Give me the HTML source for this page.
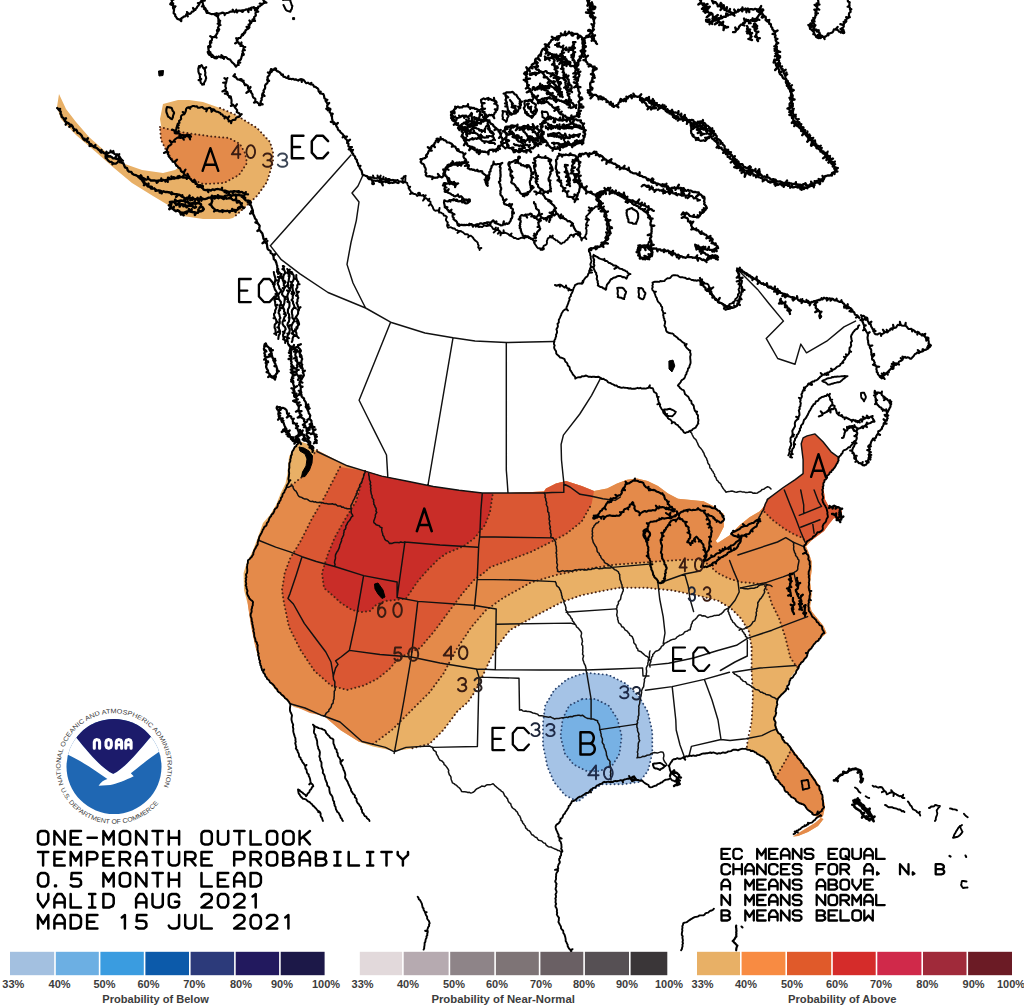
<!DOCTYPE html><html><head><meta charset="utf-8"><title>One-Month Outlook Temperature Probability</title><style>html,body{margin:0;padding:0;background:#fff;}svg{display:block;}body{font-family:"Liberation Sans",sans-serif;}</style></head><body><svg width="1024" height="1007" viewBox="0 0 1024 1007">
<rect width="1024" height="1007" fill="#fff"/>
<path d="M59.0,94.0 L66.0,109.0 L76.0,122.0 L89.0,137.0 L107.0,153.0 L122.0,163.0 L142.0,170.0 L163.0,173.0 L175.0,170.0 L178.0,168.0 L168.0,153.0 L163.0,137.0 L160.0,119.0 L163.0,104.0 L178.0,100.0 L189.0,100.0 L203.0,102.0 L220.0,108.0 L236.0,115.0 L257.0,128.0 L270.0,142.0 L273.0,152.0 L273.0,162.0 L267.0,182.0 L257.0,196.0 L243.0,209.0 L233.0,218.0 L229.0,219.0 L203.0,219.0 L183.0,216.0 L173.0,208.0 L153.0,196.0 L132.0,183.0 L114.0,168.0 L97.0,153.0 L76.0,135.0 L61.0,119.0 L57.0,107.0 Z" fill="#e8b067" stroke="none"/>
<path d="M160.0,127.0 L175.0,131.0 L193.0,134.0 L212.0,136.5 L229.0,138.0 L240.0,144.0 L245.0,153.0 L247.0,163.0 L239.0,175.0 L224.0,183.0 L203.0,184.0 L191.0,179.0 L183.0,173.0 L175.0,163.0 L167.0,152.0 L161.0,140.0 Z" fill="#e38a4a" stroke="none"/>
<path d="M299.0,441.0 L308.0,444.0 L317.0,451.5 L347.0,465.8 L365.0,471.0 L382.0,476.0 L407.5,481.3 L433.0,486.5 L459.0,490.3 L482.0,493.0 L510.0,493.0 L544.0,491.6 L546.0,488.6 L556.0,483.5 L566.0,481.0 L581.6,486.0 L594.0,491.0 L607.0,488.6 L617.0,483.5 L627.0,479.7 L637.0,478.4 L647.6,481.0 L658.0,486.0 L668.0,493.6 L678.0,498.7 L691.0,500.0 L703.5,501.3 L713.6,506.3 L723.8,514.0 L723.8,526.7 L718.7,536.8 L715.7,541.0 L717.7,543.1 L729.7,535.2 L739.6,525.3 L749.5,517.3 L759.4,511.4 L765.4,505.4 L767.4,499.4 L773.3,495.5 L783.3,487.5 L795.2,479.6 L803.1,473.6 L803.1,459.7 L801.2,443.8 L803.1,437.9 L807.1,435.9 L815.0,433.9 L823.0,441.8 L831.0,451.8 L838.9,457.7 L834.9,467.7 L827.0,475.6 L823.0,485.5 L825.0,499.4 L829.0,507.0 L836.0,507.0 L842.0,511.0 L841.0,520.0 L834.0,518.0 L829.0,524.0 L824.0,531.0 L817.6,535.7 L811.6,540.2 L806.0,546.6 L808.6,552.6 L811.6,561.5 L811.6,570.5 L810.1,582.4 L811.6,594.3 L810.1,606.2 L811.6,611.2 L817.6,618.7 L823.5,626.0 L826.5,633.0 L821.0,638.0 L813.5,644.5 L805.8,657.4 L798.0,667.7 L790.3,678.0 L784.0,692.7 L777.7,699.0 L776.1,708.6 L775.5,719.7 L777.0,729.3 L783.4,738.8 L791.4,748.3 L799.3,757.9 L805.7,767.4 L813.6,777.0 L820.0,786.5 L823.2,797.6 L825.0,807.1 L823.0,816.0 L815.0,823.0 L806.0,828.5 L797.0,834.0 L793.0,836.5 L798.0,836.0 L808.0,832.0 L818.0,826.0 L823.5,819.0 L812.6,815.1 L806.3,807.1 L798.3,802.4 L788.8,794.4 L782.4,786.5 L776.1,778.5 L771.3,769.0 L768.1,761.1 L761.8,756.3 L753.8,751.5 L745.9,748.3 L747.5,743.6 L750.7,730.9 L752.3,711.8 L751.6,721.9 L752.9,696.1 L751.6,670.3 L751.6,647.1 L749.0,631.6 L741.3,618.7 L731.0,608.4 L718.0,600.6 L697.4,595.5 L671.6,590.3 L645.8,587.7 L620.0,587.7 L607.0,590.0 L581.6,595.2 L562.0,602.0 L537.0,615.0 L510.0,630.0 L498.0,645.0 L490.0,660.0 L484.0,673.0 L476.0,690.0 L468.0,702.0 L457.5,711.2 L443.4,730.0 L429.4,744.0 L410.6,748.7 L394.2,751.0 L373.0,746.4 L359.0,741.7 L340.3,730.0 L324.0,716.0 L306.0,710.0 L294.0,707.0 L284.0,698.0 L274.0,688.0 L265.0,675.0 L259.0,661.0 L255.0,645.0 L251.0,625.0 L248.0,605.0 L244.0,590.0 L243.6,573.0 L247.0,562.0 L252.5,551.6 L258.0,537.0 L263.0,523.0 L270.0,515.0 L276.0,505.0 L281.0,492.6 L285.5,483.6 L287.3,474.7 L289.0,456.8 L293.6,448.0 Z" fill="#e9b066" stroke="none"/>
<path d="M317.0,450.0 L311.5,456.8 L302.6,476.5 L293.6,483.6 L288.0,486.0 L283.0,495.0 L276.0,506.0 L270.0,517.0 L264.0,525.0 L259.0,538.0 L253.0,552.0 L249.0,563.0 L246.5,574.0 L246.5,590.0 L248.0,606.0 L251.0,626.0 L255.0,645.0 L260.0,662.0 L267.0,677.0 L277.0,690.0 L292.0,705.0 L310.0,713.0 L324.0,716.0 L340.3,730.0 L359.0,741.7 L373.0,744.0 L391.9,730.0 L410.6,711.2 L429.4,692.5 L443.4,673.7 L456.0,650.0 L471.5,626.9 L485.6,610.5 L503.0,598.0 L530.8,582.5 L556.2,575.0 L581.6,569.8 L614.6,564.7 L650.0,562.0 L678.0,560.0 L701.0,559.7 L708.5,564.7 L717.3,572.8 L728.3,578.3 L740.0,582.0 L752.0,583.0 L764.0,584.5 L768.0,592.0 L772.0,604.3 L778.9,617.9 L785.2,636.8 L790.3,657.4 L795.5,665.2 L798.0,667.7 L805.8,657.4 L813.5,644.5 L821.0,638.0 L826.5,633.0 L823.5,626.0 L817.6,618.7 L811.6,611.2 L810.1,606.2 L811.6,594.3 L810.1,582.4 L811.6,570.5 L811.6,561.5 L808.6,552.6 L806.0,546.6 L811.6,540.2 L817.6,535.7 L824.0,531.0 L829.0,524.0 L834.0,518.0 L841.0,520.0 L842.0,511.0 L836.0,507.0 L829.0,507.0 L825.0,499.4 L823.0,485.5 L827.0,475.6 L834.9,467.7 L838.9,457.7 L831.0,451.8 L823.0,441.8 L815.0,433.9 L807.1,435.9 L803.1,437.9 L801.2,443.8 L803.1,459.7 L803.1,473.6 L795.2,479.6 L783.3,487.5 L773.3,495.5 L767.4,499.4 L765.4,505.4 L759.4,511.4 L749.5,517.3 L739.6,525.3 L729.7,535.2 L717.7,543.1 L715.7,541.0 L718.7,536.8 L723.8,526.7 L723.8,514.0 L713.6,506.3 L703.5,501.3 L691.0,500.0 L678.0,498.7 L668.0,493.6 L658.0,486.0 L647.6,481.0 L637.0,478.4 L627.0,479.7 L617.0,483.5 L607.0,488.6 L594.0,491.0 L581.6,486.0 L566.0,481.0 L556.0,483.5 L546.0,488.6 L544.0,491.6 L510.0,493.0 L482.0,493.0 L459.0,490.3 L433.0,486.5 L407.5,481.3 L382.0,476.0 L365.0,471.0 L347.0,465.8 Z" fill="#e48a4a" stroke="none"/>
<path d="M776.0,777.0 L783.0,765.0 L788.8,754.7 L791.4,748.3 L799.3,757.9 L805.7,767.4 L813.6,777.0 L820.0,786.5 L823.2,797.6 L825.0,807.1 L823.0,816.0 L815.0,823.0 L806.0,828.5 L797.0,834.0 L793.0,836.5 L798.0,836.0 L808.0,832.0 L818.0,826.0 L823.5,819.0 L812.6,815.1 L806.3,807.1 L798.3,802.4 L788.8,794.4 L782.4,786.5 Z" fill="#e48a4a" stroke="none"/>
<path d="M340.0,467.0 L324.0,498.0 L311.5,519.4 L300.8,540.8 L290.0,558.7 L284.7,573.0 L282.0,590.0 L284.0,603.0 L289.0,627.0 L300.5,650.0 L314.5,671.0 L331.0,685.5 L347.0,690.0 L364.0,685.5 L378.0,678.4 L389.5,669.0 L397.0,660.0 L405.0,655.0 L420.0,648.0 L434.0,631.6 L448.0,612.8 L462.0,594.0 L474.0,580.0 L485.0,572.0 L490.0,567.3 L510.5,559.7 L530.8,552.0 L551.0,542.0 L566.0,534.0 L581.6,521.6 L591.7,503.8 L594.0,491.0 L581.6,486.0 L566.0,481.0 L556.0,483.5 L546.0,488.6 L544.0,491.6 L510.0,493.0 L482.0,493.0 L459.0,490.3 L433.0,486.5 L407.5,481.3 L382.0,476.0 L365.0,471.0 Z" fill="#da5733" stroke="none"/>
<path d="M807.1,435.9 L815.0,433.9 L823.0,441.8 L831.0,451.8 L838.9,457.7 L834.9,467.7 L827.0,475.6 L823.0,485.5 L825.0,499.4 L829.0,507.0 L836.0,507.0 L842.0,511.0 L841.0,520.0 L834.0,518.0 L829.0,524.0 L824.0,531.0 L817.6,535.7 L811.6,540.2 L806.6,542.0 L802.2,537.7 L794.7,534.7 L784.3,528.7 L772.4,519.8 L761.9,509.4 L767.4,499.4 L773.3,495.5 L783.3,487.5 L795.2,479.6 L803.1,473.6 L803.1,459.7 L801.2,443.8 L803.1,437.9 Z" fill="#da5733" stroke="none"/>
<path d="M365.0,471.0 L356.0,501.5 L347.0,516.0 L335.0,537.0 L327.6,555.0 L322.0,573.0 L324.0,588.0 L331.0,594.0 L341.0,603.0 L352.0,610.0 L362.0,612.0 L370.0,611.0 L376.0,605.0 L385.0,601.0 L395.0,600.0 L406.0,598.5 L418.0,581.0 L427.0,570.7 L438.0,559.5 L446.0,553.6 L464.0,546.0 L474.6,538.0 L485.0,525.0 L490.0,512.0 L492.7,494.0 L492.0,493.0 L482.0,493.0 L459.0,490.3 L433.0,486.5 L407.5,481.3 L382.0,476.0 Z" fill="#c92d28" stroke="none"/>
<path d="M586.7,672.8 L608.6,675.0 L626.0,683.7 L639.2,696.8 L647.9,712.1 L652.3,731.8 L652.3,753.6 L647.9,771.1 L639.2,782.0 L623.9,784.2 L602.0,784.2 L591.1,790.8 L578.0,801.7 L564.9,795.1 L554.0,782.0 L547.4,766.7 L543.0,744.9 L543.0,723.0 L545.2,705.5 L554.0,690.3 L567.0,679.3 L578.0,675.0 Z" fill="#a5c3e6" stroke="none"/>
<path d="M582.3,699.0 L595.5,699.0 L608.6,705.5 L617.3,718.7 L621.7,736.1 L619.5,753.6 L613.0,764.5 L599.8,771.1 L586.7,771.1 L573.6,764.5 L564.9,753.6 L560.5,736.1 L562.7,718.7 L569.2,705.5 Z" fill="#77b1e4" stroke="none"/>
<path d="M160.0,127.0 L175.0,131.0 L193.0,134.0 L212.0,136.5 L229.0,138.0 L240.0,144.0 L245.0,153.0 L247.0,163.0 L239.0,175.0 L224.0,183.0 L203.0,184.0 L191.0,179.0 L183.0,173.0 L175.0,163.0 L167.0,152.0 L161.0,140.0 L160.0,127.0" fill="none" stroke="#4a2414" stroke-width="2.0" stroke-dasharray="0.01 4.0" stroke-linecap="round"/>
<path d="M220.0,108.0 L236.0,115.0 L257.0,128.0 L270.0,142.0 L273.0,152.0 L273.0,162.0 L267.0,182.0 L257.0,196.0 L243.0,209.0 L233.0,218.0" fill="none" stroke="#4a2414" stroke-width="2.0" stroke-dasharray="0.01 4.0" stroke-linecap="round"/>
<path d="M317.0,450.0 L311.5,456.8 L302.6,476.5 L293.6,483.6 L288.0,486.0" fill="none" stroke="#4a2414" stroke-width="2.0" stroke-dasharray="0.01 4.0" stroke-linecap="round"/>
<path d="M373.0,744.0 L391.9,730.0 L410.6,711.2 L429.4,692.5 L443.4,673.7 L456.0,650.0 L471.5,626.9 L485.6,610.5 L503.0,598.0 L530.8,582.5 L556.2,575.0 L581.6,569.8 L614.6,564.7 L650.0,562.0 L678.0,560.0 L701.0,559.7 L708.5,564.7 L717.3,572.8 L728.3,578.3 L740.0,582.0 L752.0,583.0 L764.0,584.5 L768.0,592.0 L772.0,604.3 L778.9,617.9 L785.2,636.8 L790.3,657.4 L795.5,665.2 L798.0,667.7" fill="none" stroke="#4a2414" stroke-width="2.0" stroke-dasharray="0.01 4.0" stroke-linecap="round"/>
<path d="M776.0,777.0 L783.0,765.0 L788.8,754.7 L791.4,748.3" fill="none" stroke="#4a2414" stroke-width="2.0" stroke-dasharray="0.01 4.0" stroke-linecap="round"/>
<path d="M751.6,647.1 L749.0,631.6 L741.3,618.7 L731.0,608.4 L718.0,600.6 L697.4,595.5 L671.6,590.3 L645.8,587.7 L620.0,587.7 L607.0,590.0 L581.6,595.2 L562.0,602.0 L537.0,615.0 L510.0,630.0 L498.0,645.0 L490.0,660.0 L484.0,673.0 L476.0,690.0 L468.0,702.0 L457.5,711.2 L443.4,730.0 L429.4,744.0 L410.6,748.7" fill="none" stroke="#4a2414" stroke-width="2.0" stroke-dasharray="0.01 4.0" stroke-linecap="round"/>
<path d="M751.6,647.1 L751.6,670.3 L752.9,696.1 L751.6,721.9 L747.7,740.0 L746.5,750.3" fill="none" stroke="#4a2414" stroke-width="2.0" stroke-dasharray="0.01 4.0" stroke-linecap="round"/>
<path d="M340.0,467.0 L324.0,498.0 L311.5,519.4 L300.8,540.8 L290.0,558.7 L284.7,573.0 L282.0,590.0 L284.0,603.0 L289.0,627.0 L300.5,650.0 L314.5,671.0 L331.0,685.5 L347.0,690.0 L364.0,685.5 L378.0,678.4 L389.5,669.0 L397.0,660.0 L405.0,655.0 L420.0,648.0 L434.0,631.6 L448.0,612.8 L462.0,594.0 L474.0,580.0 L485.0,572.0 L490.0,567.3 L510.5,559.7 L530.8,552.0 L551.0,542.0 L566.0,534.0 L581.6,521.6 L591.7,503.8" fill="none" stroke="#4a2414" stroke-width="2.0" stroke-dasharray="0.01 4.0" stroke-linecap="round"/>
<path d="M806.6,542.0 L802.2,537.7 L794.7,534.7 L784.3,528.7 L772.4,519.8 L761.9,509.4" fill="none" stroke="#4a2414" stroke-width="2.0" stroke-dasharray="0.01 4.0" stroke-linecap="round"/>
<path d="M365.0,471.0 L356.0,501.5 L347.0,516.0 L335.0,537.0 L327.6,555.0 L322.0,573.0 L324.0,588.0 L331.0,594.0 L341.0,603.0 L352.0,610.0 L362.0,612.0 L370.0,611.0 L376.0,605.0 L385.0,601.0 L395.0,600.0 L406.0,598.5 L418.0,581.0 L427.0,570.7 L438.0,559.5 L446.0,553.6 L464.0,546.0 L474.6,538.0 L485.0,525.0 L490.0,512.0 L492.7,494.0" fill="none" stroke="#4a2414" stroke-width="2.0" stroke-dasharray="0.01 4.0" stroke-linecap="round"/>
<path d="M586.7,672.8 L608.6,675.0 L626.0,683.7 L639.2,696.8 L647.9,712.1 L652.3,731.8 L652.3,753.6 L647.9,771.1 L639.2,782.0 L623.9,784.2 L602.0,784.2 L591.1,790.8 L578.0,801.7 L564.9,795.1 L554.0,782.0 L547.4,766.7 L543.0,744.9 L543.0,723.0 L545.2,705.5 L554.0,690.3 L567.0,679.3 L578.0,675.0 L586.7,672.8" fill="none" stroke="#2c4670" stroke-width="1.9" stroke-dasharray="0.01 4.0" stroke-linecap="round"/>
<path d="M582.3,699.0 L595.5,699.0 L608.6,705.5 L617.3,718.7 L621.7,736.1 L619.5,753.6 L613.0,764.5 L599.8,771.1 L586.7,771.1 L573.6,764.5 L564.9,753.6 L560.5,736.1 L562.7,718.7 L569.2,705.5 L582.3,699.0" fill="none" stroke="#2c4670" stroke-width="1.9" stroke-dasharray="0.01 4.0" stroke-linecap="round"/>
<path d="M351.0,155.0 L271.0,245.0 M270.3,245.6 L281.3,259.7 L300.0,273.8 L328.0,292.5 L365.6,308.0 L390.6,322.2 L425.0,333.0 L453.0,337.8 L475.0,341.0 L506.3,342.5 L530.0,342.0 L554.0,341.5 M363.0,175.0 L358.0,186.0 L352.0,193.0 L359.0,202.0 L356.3,220.6 L351.0,242.5 L347.0,264.4 L353.0,283.0 L362.5,302.0 L365.6,308.0 M390.6,322.2 L375.0,361.0 L359.1,400.3 L367.3,416.7 L375.5,433.1 L386.5,455.0 L387.8,476.9 M453.0,337.8 L428.0,485.0 M506.3,342.5 L506.3,470.0 L507.1,480.0 L508.0,493.0 M600.9,377.7 L591.6,395.3 L579.8,414.0 L563.4,435.1 L561.1,444.5 L561.5,460.0 L563.0,475.0 L564.0,484.0 M767.4,499.4 L783.3,487.5 L795.2,479.6 L803.1,473.6 L803.1,459.7 L801.2,443.8 L803.1,437.9 L807.1,435.9 L815.0,433.9 L823.0,441.8 L831.0,451.8 L838.9,457.7 M737.4,269.3 L757.6,289.4 L769.1,303.8 L783.5,321.1 L766.2,338.4 L777.7,358.5 L795.0,364.3 L800.8,344.1 L806.5,352.8 L826.7,341.2 L844.0,326.9 L855.5,321.1 M316.9,451.5 L347.3,465.8 L365.1,471.1 L381.6,476.1 L407.5,481.3 L433.3,486.5 L459.1,490.3 L482.3,493.0 L510.7,493.0 L544.3,493.0 M544.3,493.0 L552.0,492.5 L563.8,492.4 L563.8,484.0 L570.0,487.0 L580.0,494.3 L590.5,496.0 L602.9,498.7 L615.2,500.4 L620.4,497.0 M257.9,540.0 L275.7,547.1 L290.0,551.9 L302.0,556.7 L316.3,561.5 L334.7,566.5 L363.6,575.6 L397.1,582.0 M302.0,556.7 L296.0,575.7 L290.0,593.6 L288.0,598.4 L293.4,604.0 L304.3,623.4 L311.5,633.0 L318.6,642.5 L325.8,652.0 L331.0,662.0 L333.3,676.0 M333.3,676.0 L335.6,668.0 L338.0,664.4 L335.6,660.8 L341.0,657.0 L349.4,650.4 M363.6,575.6 L355.8,620.7 L349.4,650.4 M349.4,650.4 L380.0,654.5 L411.3,657.0 L440.0,663.0 L476.2,669.0 L495.3,669.8 L540.0,670.0 L585.8,670.0 M404.9,542.0 L440.0,545.0 L477.8,547.2 M404.9,542.0 L397.1,597.5 L417.8,601.4 L473.3,605.2 L496.2,609.0 M397.1,582.0 L397.1,597.5 M417.8,601.4 L411.3,656.9 L404.0,700.0 L394.2,753.4 M482.3,493.0 L480.9,510.0 L479.8,535.5 L478.7,545.5 L477.2,579.4 L474.4,608.9 M479.8,536.8 L553.0,537.9 M477.2,579.4 L520.0,580.0 L555.2,581.6 M496.2,609.0 L495.3,669.8 M496.2,624.2 L570.5,623.1 L574.9,624.2 M476.5,669.0 L479.0,677.1 L477.4,746.2 M479.0,677.1 L519.0,678.2 L519.5,710.0 M599.8,729.6 L637.0,724.1 M585.8,670.0 L586.7,672.8 L591.1,699.0 L591.1,718.7 M585.8,670.0 L615.0,669.0 L642.6,667.9 L643.0,676.0 L649.0,676.0 M291.0,704.0 L305.0,708.0 L321.0,715.2 L323.9,716.0 L340.0,722.0 L362.0,741.5 L385.5,747.4 L394.3,751.8 L406.0,747.4 L429.4,746.0 L432.4,747.4 M432.4,747.4 L477.4,746.5 M566.1,612.2 L616.4,608.9 M612.0,567.4 L649.2,564.1 M657.9,582.7 L659.7,599.0 L663.2,616.9 L665.0,633.0 L663.2,643.7 M684.7,574.0 L688.3,586.5 L690.0,599.0 L693.6,611.5 M660.1,582.7 L684.7,574.0 L700.0,571.0 M729.6,560.5 L733.8,571.4 L737.9,581.0 L739.2,592.0 L735.1,600.2 L729.6,607.0 M737.9,555.0 L777.5,542.0 L785.8,537.7 M740.6,587.9 L766.6,582.4 L783.0,576.9 L793.9,572.8 M650.7,665.1 L668.6,663.3 L693.6,658.0 L716.9,650.8 L736.5,645.3 L747.4,638.4 M747.4,638.4 L772.0,630.2 L785.7,624.8 L807.6,616.6 M720.4,670.5 L735.0,662.0 L747.3,656.0 L747.3,640.1 M645.4,690.2 L672.2,686.6 L704.4,679.4 L729.4,672.3 M733.0,672.3 L760.0,668.0 L796.0,665.5 M704.4,679.4 L712.0,700.0 L718.0,720.0 L721.0,739.5 M689.0,756.0 L691.4,746.4 L721.0,739.5 L730.0,740.5 L745.9,738.8 L761.8,735.6 L771.3,730.9 L776.1,729.3 M672.2,686.6 L675.8,720.0 L676.2,730.0 L680.0,745.0 L684.4,757.0 M784.3,490.0 L790.2,504.9 L796.2,519.8 L800.7,531.7 L805.1,542.2 M800.7,490.0 L803.7,504.9 L803.7,513.8 M814.1,490.0 L818.6,501.9 L821.5,506.4 M799.2,515.3 L821.5,506.4 M800.7,527.3 L820.0,519.8 M812.6,522.8 L814.1,533.2 M785.8,537.7 L793.2,542.2 L803.7,546.6 M793.9,572.8 L797.0,586.0" fill="none" stroke="#111" stroke-width="1.45" stroke-linejoin="round" stroke-linecap="round"/>
<path d="M690.0,430.5 L690.3,432.1 L691.6,433.0 L692.1,434.5 L692.8,435.8 L693.5,437.1 L694.3,438.4 L695.7,439.3 L696.4,440.6 L697.0,442.0 L697.7,443.3 L698.1,444.7 L698.8,446.0 L699.7,447.2 L700.7,448.3 L701.6,449.4 L702.5,450.6 L703.1,452.0 L704.0,453.2 L704.3,454.6 L704.9,456.0 L705.7,457.2 L706.6,458.4 L706.9,459.8 L707.6,461.1 L707.7,462.7 L708.4,463.9 L709.5,465.0 L709.7,466.4 L709.9,468.0 L711.2,468.9 L711.9,470.4 L713.0,471.6 L713.6,473.1 L714.6,474.4 L714.6,476.1 L715.8,477.2 L716.3,478.7 L716.8,480.1 L718.0,481.0 L718.8,482.3 L720.0,483.2 L721.0,484.3 L721.5,485.8 L722.3,487.0 L723.0,488.3 L723.9,489.4 L724.9,490.5 L725.9,492.2 L727.4,491.8 L729.0,491.6 L730.5,491.2 L732.0,491.1 L733.6,491.5 L735.1,492.0 L736.7,492.3 L738.2,491.7 L739.7,491.5 L741.2,491.6 L742.6,492.1 L744.1,491.9 L745.5,492.6 L747.0,492.6 L748.5,492.2 L750.0,492.1 L751.5,492.2 L752.9,493.2 L754.4,493.0 L755.8,493.3 L757.3,493.1 L758.5,492.2 L759.8,491.5 L761.1,490.7 L762.0,489.5 L763.6,489.3 L764.8,488.4 L766.0,487.6 L767.6,486.7 L769.5,487.4 L771.0,489.0 M758.0,520.0 L758.6,518.6 L759.1,517.2 L760.0,516.0 L760.5,514.6 L761.5,513.4 L761.8,511.9 L762.8,510.7 L763.8,509.5 L763.9,507.8 L764.6,506.5 L765.0,505.0 L765.5,503.6 L766.3,502.2 L766.9,500.9 L767.4,499.4 M286.5,487.2 L288.5,487.2 L290.2,486.4 L291.7,485.5 L293.0,486.3 L293.2,487.9 L293.9,489.2 L294.8,490.3 L296.0,491.2 L296.7,492.5 L297.4,493.7 L298.0,495.1 L298.9,496.3 L300.2,497.0 L301.7,497.4 L303.0,498.3 L304.4,498.9 L306.0,498.9 L307.5,499.4 L308.7,500.4 L310.0,501.2 L311.5,501.4 L312.9,501.3 L314.2,502.1 L315.7,501.8 L317.0,502.6 L318.4,502.6 L319.9,502.3 L321.3,502.7 L322.7,502.7 L324.0,503.2 L325.4,503.6 L326.8,503.6 L328.2,504.0 L329.6,504.0 L331.0,504.0 L332.4,503.8 L333.8,504.4 L335.2,504.2 L336.5,505.0 L337.7,506.0 L339.2,505.9 L340.7,505.9 L341.8,507.2 L343.3,507.1 L344.5,508.0 L346.0,508.2 L347.3,508.8 L349.1,508.7 L350.8,508.7 M365.1,471.1 L365.1,472.6 L364.2,473.8 L363.8,475.2 L363.5,476.7 L363.1,478.0 L362.4,479.3 L362.2,480.8 L361.6,482.1 L361.1,483.4 L359.8,484.5 L359.6,485.9 L359.5,487.4 L358.4,488.5 L358.2,490.0 L357.0,491.1 L357.2,492.7 L356.2,493.8 L356.2,495.4 L355.2,496.6 L354.8,497.9 L354.2,499.2 L353.3,500.4 L352.8,501.8 L352.3,503.1 L351.6,504.4 L350.9,505.7 L351.0,507.3 L351.0,508.7 L351.2,510.1 L351.2,511.6 L351.3,513.1 L352.2,514.4 L352.9,516.0 L351.5,516.8 L350.8,518.2 L350.2,519.5 L349.3,520.8 L348.2,521.8 L347.4,523.0 L346.9,524.6 L345.8,525.9 L345.9,527.6 L345.4,529.1 L344.0,530.3 L344.1,532.0 L343.6,533.4 L343.7,535.0 L342.9,536.4 L342.3,537.8 L341.5,539.2 L341.6,540.7 L341.0,542.1 L340.5,543.5 L339.8,544.9 L339.6,546.5 L339.2,547.9 L338.5,549.3 L337.9,550.7 L336.9,552.0 L336.2,553.4 L335.5,554.9 L335.4,556.5 L335.5,558.1 L335.2,559.6 L334.7,561.1 L334.5,562.7 L335.1,564.4 L334.7,565.9 M333.3,676.0 L333.4,677.6 L333.5,679.3 L334.4,680.8 L334.9,682.3 L334.8,684.0 L334.8,685.4 L334.6,686.9 L335.3,688.5 L335.1,690.0 L334.2,691.4 L334.3,692.9 L334.2,694.4 L334.2,695.9 L334.0,697.4 L334.0,699.0 L333.3,700.4 L333.2,701.9 L333.0,703.4 L331.7,704.4 L331.4,706.0 L331.0,707.4 L330.0,708.6 L328.9,709.7 L328.8,711.4 L327.3,712.2 L326.0,713.4 L325.3,715.1 L323.9,716.0 M368.7,473.6 L368.7,475.1 L369.2,476.6 L369.3,478.1 L369.4,479.6 L370.1,481.0 L370.6,482.5 L370.0,484.1 L370.9,485.5 L370.4,487.1 L370.9,488.6 L370.6,490.2 L371.0,491.7 L371.1,493.1 L371.5,494.5 L372.1,495.8 L372.0,497.3 L372.8,498.6 L373.7,499.8 L373.4,501.3 L373.9,502.7 L373.8,504.2 L374.8,505.4 L375.0,506.8 L375.9,508.0 L376.3,509.4 L375.9,511.0 L376.8,512.4 L375.9,513.7 L375.3,515.1 L375.4,516.7 L374.8,518.1 L374.4,519.6 L373.7,521.0 L373.9,522.6 L375.1,523.6 L376.1,524.8 L377.7,525.3 L379.3,525.7 L380.2,527.1 L382.0,527.7 L381.7,529.3 L381.8,530.9 L382.2,532.3 L382.7,533.8 L382.8,535.3 L383.9,536.6 L384.3,538.0 L384.9,539.4 L386.0,540.5 L387.5,541.0 L388.6,542.0 L389.4,543.5 L390.8,543.2 L392.2,543.4 L393.6,542.8 L395.0,542.6 L396.4,542.5 L397.9,542.6 L399.3,542.7 L400.6,542.0 L402.1,542.3 L403.5,542.5 L404.9,542.0 M520.0,710.0 L521.5,709.7 L522.8,710.9 L524.2,711.3 L525.8,710.9 L527.1,711.5 L528.6,711.5 L530.1,711.7 L531.6,712.3 L532.9,713.0 L534.5,713.3 L536.0,713.7 L537.5,714.1 L538.7,715.5 L540.1,715.8 L541.6,715.8 L543.1,715.9 L544.4,716.6 L545.9,716.8 L547.3,717.0 L548.8,717.2 L550.4,716.8 L551.8,717.6 L553.1,718.2 L554.5,719.0 L556.1,718.5 L557.6,718.6 L559.0,718.4 L560.5,718.1 L561.9,717.7 L563.4,717.8 L564.9,717.6 L566.3,717.1 L567.8,717.5 L569.2,716.7 L570.7,716.5 L572.2,716.8 L573.5,716.0 L575.0,715.8 L576.4,715.6 L577.9,715.2 L579.3,715.2 L580.9,715.7 L582.4,715.2 L583.7,716.2 L585.0,717.2 L586.4,717.9 L587.8,718.5 L589.5,718.6 L591.0,719.1 L592.8,718.9 L594.4,719.5 L596.0,720.3 L597.6,720.8 M597.6,720.8 L597.7,722.3 L598.7,723.6 L599.3,725.0 L599.6,726.5 L599.7,728.1 L599.7,729.6 L600.5,731.1 L600.6,732.7 L601.2,734.2 L601.1,735.8 L601.7,737.3 L602.4,738.8 L602.4,740.4 L602.2,742.1 L602.8,743.5 L603.9,744.7 L604.0,746.3 L604.4,747.8 L605.2,749.1 L605.6,750.6 L606.2,752.0 L606.4,753.6 L606.5,755.1 L607.1,756.5 L607.5,757.9 L608.0,759.3 L609.3,760.4 L610.1,761.6 L609.9,763.3 L610.1,764.5 L610.2,766.0 L610.8,767.6 L611.1,769.1 L610.7,770.6 L610.4,772.1 L610.9,773.7 L610.4,775.2 L610.8,776.7 L611.0,778.3 L610.8,779.8 M432.4,747.4 L433.1,748.8 L433.6,750.2 L435.0,751.1 L436.2,752.1 L436.3,753.8 L437.1,755.1 L437.9,756.4 L438.5,757.8 L439.3,759.1 L440.1,760.3 L441.7,760.9 L442.8,761.9 L443.8,763.0 L444.1,764.6 L445.4,765.4 L446.3,766.6 L447.2,767.8 L448.0,769.0 L448.7,770.3 L448.4,772.0 L448.9,773.3 L449.3,774.7 L450.3,775.8 L451.0,777.1 L451.0,778.6 L451.4,780.0 L451.9,781.3 L452.5,782.9 L454.0,783.6 L455.2,784.6 L456.6,785.4 L457.6,786.6 L458.9,787.5 L460.0,788.6 L460.9,789.9 L461.7,791.6 L463.2,791.7 L464.8,791.7 L466.3,791.9 L467.8,792.5 L469.4,792.3 L470.9,793.1 L472.3,792.6 L473.6,792.0 L474.7,791.1 L475.6,789.8 L476.7,788.9 L478.0,788.3 L479.2,787.6 L480.5,787.0 L481.7,786.1 L483.2,786.2 L484.7,786.5 L485.9,785.4 L487.2,784.8 L488.6,784.8 L490.1,784.8 L491.4,784.4 L493.1,783.8 L494.1,784.8 L495.0,785.9 L496.2,786.7 L497.2,787.7 L498.3,788.5 L499.3,789.5 L500.6,790.1 L501.4,791.4 L502.8,791.9 L503.5,793.1 L504.1,794.4 L504.6,795.8 L505.8,796.7 L506.6,797.9 L507.6,798.9 L507.9,800.4 L508.5,801.7 L509.4,802.8 L510.7,803.6 L511.1,805.2 L511.7,806.7 L512.6,808.0 L513.9,808.9 L515.3,809.8 L516.1,811.2 L517.4,812.1 L517.9,813.7 L518.6,815.0 L519.8,816.0 L520.3,817.4 L520.9,818.8 L521.1,820.3 L522.4,821.3 L522.5,822.8 L523.7,823.9 L524.5,825.1 L525.4,826.3 L525.6,827.8 L526.8,828.8 L527.7,830.1 L529.2,830.7 L530.3,831.9 L531.0,833.4 L531.8,834.7 L533.4,835.3 L534.4,836.5 L535.6,837.3 L537.0,837.8 L537.7,839.2 L538.7,840.3 L540.3,840.6 L541.7,841.0 L542.7,842.1 L543.8,843.0 L545.3,843.3 L546.0,844.9 L547.2,845.8 L548.3,846.7 L549.8,847.0 L551.3,847.1 L552.4,847.9 L553.7,848.4 L555.0,849.1 L556.4,849.4 L557.7,850.4 L559.2,850.6 L560.4,851.4 L562.0,851.5 M544.3,493.1 L545.0,494.4 L545.2,495.8 L545.0,497.4 L545.8,498.7 L545.7,500.2 L546.3,501.5 L546.7,502.9 L546.3,504.5 L546.9,505.8 L547.6,507.1 L547.7,508.6 L547.7,510.1 L547.7,511.6 L548.9,512.8 L548.8,514.2 L549.1,515.6 L549.4,517.0 L549.0,518.5 L549.2,519.9 L549.9,521.2 L549.3,522.7 L549.5,524.1 L549.9,525.5 L550.4,526.9 L549.8,528.4 L550.3,529.7 L550.7,531.1 L550.4,532.6 L551.0,533.9 L551.1,535.3 L550.7,536.9 L552.1,537.7 L553.5,538.5 L554.3,539.9 L555.2,541.2 L555.7,542.6 L555.5,544.1 L556.0,545.5 L556.4,547.0 L556.3,548.4 L556.5,549.9 L556.6,551.4 L556.0,552.9 L556.7,554.3 L556.4,555.8 L556.6,557.2 L556.8,558.7 L557.0,560.1 L556.7,561.6 L556.8,563.1 L557.5,564.5 L557.3,565.9 L556.8,567.4 L557.3,568.9 L557.7,570.3 L557.4,571.2 L558.8,571.8 L560.2,571.7 L561.6,571.0 L562.9,570.6 L564.4,571.4 L565.8,571.1 L567.2,570.8 L568.6,571.1 L570.0,570.7 L571.4,571.2 L572.8,570.8 L574.2,570.3 L575.6,569.7 L577.0,570.1 L578.4,569.6 L579.8,569.5 L581.2,569.6 L582.6,569.4 L584.0,570.0 L585.4,569.8 L586.8,570.0 L588.2,569.3 L589.6,569.6 L591.0,569.6 L592.4,568.7 L593.8,568.8 L595.2,568.2 L596.5,567.8 L598.0,568.4 L599.4,568.7 L600.8,568.4 L602.2,568.5 L603.6,568.0 L605.0,567.8 L606.4,568.1 L607.8,568.0 L609.2,568.0 L610.6,567.9 L612.0,567.4 M612.0,567.4 L610.8,566.4 L609.4,565.6 L608.2,564.6 L606.9,563.7 L605.4,563.1 L604.3,562.1 L603.9,560.6 L602.7,559.7 L601.8,558.6 L600.9,557.4 L600.6,555.9 L599.4,555.0 L599.2,553.4 L598.0,552.5 L597.2,551.3 L597.0,549.8 L596.7,548.3 L596.2,546.9 L595.2,545.7 L594.5,544.4 L593.7,543.2 L593.1,541.9 L592.8,540.4 L592.4,539.0 L592.0,537.4 L592.7,535.9 L592.2,534.3 L592.6,532.8 L592.2,531.2 L592.5,529.7 L592.5,528.3 L593.6,527.2 L594.2,525.6 L595.3,524.5 L596.2,523.2 L597.9,522.7 L598.9,521.5 M555.2,581.6 L556.0,582.9 L556.3,584.5 L556.8,585.9 L558.2,586.9 L559.3,588.1 L559.8,589.5 L560.7,590.7 L561.0,592.3 L561.5,593.7 L561.6,595.2 L562.2,596.6 L562.2,598.1 L563.2,599.4 L564.0,600.8 L563.9,602.4 L564.5,603.8 L565.2,605.1 L565.6,606.6 L566.0,608.0 L565.7,609.7 L566.5,610.8 L567.3,612.0 L567.7,613.5 L568.5,614.6 L569.8,615.6 L570.5,616.8 L571.1,618.1 L572.2,619.1 L572.4,620.7 L573.4,621.7 L574.2,623.0 L574.9,624.2 L576.0,625.3 L576.5,626.9 L577.9,627.8 L578.9,629.0 L579.9,630.2 L580.9,631.4 L581.6,633.0 L581.4,634.4 L581.0,635.9 L581.3,637.3 L582.0,638.7 L582.2,640.1 L582.5,641.5 L582.0,643.0 L581.7,644.4 L582.7,645.8 L582.8,647.2 L582.8,648.6 L582.6,650.1 L582.9,651.5 L582.7,652.9 L582.6,654.4 L583.6,655.7 L583.2,657.2 L582.8,658.6 L583.0,660.1 L583.6,661.5 L584.0,662.9 L584.5,664.3 L585.4,665.6 L585.6,667.0 L586.1,668.4 L585.8,670.0 M612.0,567.4 L613.3,568.3 L614.4,569.6 L616.0,570.1 L617.2,571.0 L618.4,571.9 L618.8,573.3 L619.8,574.6 L619.6,576.2 L619.9,577.7 L619.9,579.2 L620.5,580.6 L621.0,582.0 L621.3,583.5 L622.0,584.8 L622.1,586.4 L622.1,587.9 L623.3,589.3 L623.2,590.8 L622.5,592.1 L622.1,593.6 L621.4,594.9 L621.0,596.4 L620.8,597.8 L620.5,599.3 L619.5,600.6 L618.3,601.7 L618.5,603.4 L617.9,604.7 L617.0,606.0 L617.0,607.5 L616.4,608.9 M616.4,608.9 L617.1,610.3 L617.2,611.8 L617.0,613.3 L616.7,614.8 L617.1,616.3 L617.8,617.6 L617.6,619.2 L618.2,620.6 L618.4,622.2 L619.2,623.4 L620.6,624.1 L621.2,625.4 L621.9,626.8 L623.5,627.3 L624.3,628.5 L625.0,629.8 L626.3,630.6 L627.5,631.4 L628.2,632.7 L629.4,633.6 L629.7,635.2 L631.1,635.9 L632.4,636.9 L632.9,638.4 L633.5,639.7 L633.7,641.2 L633.8,642.8 L634.9,643.9 L635.9,645.0 L636.2,646.5 L636.7,647.9 L637.8,649.0 L638.0,650.6 L639.6,651.2 L641.1,651.8 L642.2,652.9 L643.4,653.9 L644.6,655.0 L645.8,656.0 L647.5,656.6 L648.3,657.9 L649.2,659.0 L649.8,660.5 L650.9,661.6 L650.0,663.3 L649.7,665.1 L650.0,667.0 M729.6,607.0 L728.7,608.3 L727.1,608.7 L725.8,609.4 L724.4,610.2 L723.6,611.6 L722.5,612.6 L721.5,613.8 L720.0,614.3 L718.7,615.3 L717.1,615.3 L715.6,615.4 L714.0,615.6 L712.5,616.2 L711.0,616.5 L709.5,616.9 L707.8,617.6 L706.4,616.8 L705.0,615.9 L703.5,615.8 L701.9,615.9 L700.6,614.9 L699.0,615.1 L697.8,616.1 L697.0,617.4 L696.0,618.5 L695.0,619.6 L693.5,620.4 L692.4,621.7 L692.1,623.3 L691.2,624.6 L691.1,626.4 L690.4,627.8 L690.2,629.7 L688.5,629.9 L687.5,631.0 L686.0,631.4 L684.7,632.0 L683.7,633.2 L682.6,634.4 L681.2,634.9 L679.7,635.2 L678.5,636.1 L677.1,636.8 L676.2,638.2 L675.0,638.9 L673.4,639.2 L671.9,639.6 L670.5,640.2 L669.1,641.1 L667.6,641.8 L666.3,642.6 L664.5,643.2 L663.8,644.6 L662.8,645.7 L661.4,646.4 L660.8,648.0 L659.7,649.1 L658.7,650.1 L657.3,650.8 L655.8,651.3 L654.7,652.3 L653.8,653.6 L652.7,654.5 L652.8,656.0 L651.6,657.2 L651.5,658.8 L650.8,660.1 L650.7,661.6 M793.2,542.2 L793.8,543.6 L793.5,545.2 L793.8,546.7 L793.6,548.2 L793.7,549.7 L794.3,551.1 L794.6,552.6 L795.5,553.8 L795.6,555.4 L796.5,556.5 L797.5,557.6 L797.8,559.0 L798.9,560.0 L798.9,561.4 L798.6,562.9 L798.3,564.4 L798.0,565.9 L797.7,567.4 L797.8,569.0 L797.4,570.0 L796.3,571.1 L795.0,571.8 L793.9,572.8 M740.6,587.9 L742.1,588.1 L743.6,588.6 L745.2,588.8 L746.7,588.7 L748.2,588.9 L749.7,588.5 L751.3,588.2 L752.8,588.2 L754.4,588.2 L755.7,587.5 L757.3,587.3 L758.3,586.0 L759.6,585.3 L761.0,584.7 L762.6,584.7 L763.8,584.0 L765.2,583.9 L766.6,584.3 L767.9,585.0 L769.3,585.1 L770.8,585.5 L772.0,586.5 M766.6,585.1 L765.8,586.4 L765.6,587.8 L764.8,589.0 L764.2,590.3 L764.7,592.0 L764.1,593.3 L763.4,594.4 L762.8,595.8 L761.9,596.9 L761.2,598.1 L760.0,599.1 L759.3,600.4 L758.6,601.5 L757.7,603.0 L757.9,604.7 L757.6,606.3 L757.3,607.9 L756.6,609.4 L756.9,611.1 L756.1,612.3 L756.3,613.9 L756.3,615.4 L755.7,616.6 L755.5,618.1 L755.2,619.5 L754.7,621.1 L753.1,621.6 L752.4,622.9 L751.6,624.2 L750.6,625.3 L749.2,626.3 L747.6,627.1 L745.8,627.5 L744.7,628.8 L743.3,629.1 L741.9,629.3 L740.4,629.3 L739.2,630.2 M729.6,607.0 L728.7,608.2 L728.4,609.6 L727.9,611.2 L728.9,612.4 L729.0,613.9 L729.7,615.2 L730.2,616.5 L730.7,617.9 L731.1,619.2 L732.2,620.5 L732.8,622.2 L734.4,623.2 L735.3,624.5 L736.2,625.8 L737.4,626.6 L738.4,627.6 L739.9,628.1 L741.2,628.7 L742.3,630.0 L742.4,631.5 L743.7,632.4 L744.2,633.8 L745.3,634.7 L745.5,636.3 L746.7,637.2 L747.4,638.4 M733.0,672.3 L734.0,673.4 L735.0,674.4 L736.4,674.9 L737.4,675.9 L738.7,676.5 L740.0,677.2 L740.6,678.8 L741.8,679.5 L742.6,680.8 L744.0,681.4 L745.5,681.8 L746.4,683.0 L747.2,684.3 L748.8,684.6 L749.9,685.4 L751.1,686.0 L752.1,687.2 L753.5,687.5 L754.5,688.7 L755.7,689.6 L757.2,689.7 L758.6,690.1 L759.6,691.2 L760.7,692.2 L762.3,692.3 L763.4,693.2 L764.9,693.5 L766.0,694.5 L767.5,694.7 L768.9,695.0 L770.2,695.4 L771.5,696.6 L773.0,697.3 L774.7,697.7 L776.0,698.9 L777.7,699.0 M650.0,650.9 L649.6,652.4 L649.4,654.0 L649.5,655.7 L649.4,657.2 L648.7,658.7 L648.3,660.3 L648.2,661.9 L647.8,663.3 L648.0,664.8 L647.0,666.2 L646.4,667.6 L646.3,669.1 L646.6,670.6 L646.6,672.1 L646.3,673.6 L646.3,675.1 L645.8,676.6 L645.1,677.9 L644.3,679.3 L644.5,680.9 L644.2,682.3 L643.9,683.8 L643.8,685.3 L643.6,686.8 L642.7,688.1 L642.1,689.5 L641.5,690.9 L641.6,692.5 L641.3,694.0 L641.1,695.6 L640.5,697.1 L640.5,698.8 L640.0,700.3 L639.8,701.9 L639.7,703.5 L639.2,704.9 L638.7,706.3 L639.0,707.9 L638.8,709.3 L638.8,710.8 L638.8,712.3 L638.9,713.8 L638.8,715.3 L638.1,716.7 L638.3,718.3 L638.0,719.7 L637.2,721.1 L637.7,722.7 L636.7,724.1 L636.9,725.6 L636.9,727.2 L637.6,728.6 L637.5,730.1 L637.8,731.6 L638.6,733.0 L639.0,734.5 L638.4,736.1 L638.9,737.5 L638.9,739.0 L639.7,740.6 L638.9,741.9 L638.3,743.4 L638.3,744.8 L638.1,746.3 L638.4,747.8 L638.0,749.2 L637.8,750.7 L637.3,752.1 L637.9,753.7 L637.6,755.1 L637.7,756.6 L637.0,757.9 L638.3,757.2 L639.9,757.5 L641.4,757.1 L642.7,756.3 L644.3,756.4 L645.7,756.1 L647.0,755.2 L648.6,755.1 L650.0,754.7 L651.2,753.7 L652.7,753.0 L654.1,752.6 L655.7,752.8 L657.3,753.1 L658.7,752.6 L660.2,752.1 L661.7,752.1 L663.0,752.3 L663.6,753.7 L663.9,755.1 L663.8,756.5 L663.4,757.9 L663.5,759.2 L664.1,760.8 L665.1,762.2 L666.2,763.6 L666.8,765.2" fill="none" stroke="#111" stroke-width="1.5" stroke-linejoin="round" stroke-linecap="round"/>
<path d="M363.8,175.2 L365.2,175.6 L366.6,176.0 L367.9,176.9 L369.3,177.3 L370.8,177.1 L372.1,177.9 L373.5,177.9 L373.0,175.5 L374.1,178.1 L374.9,178.1 L376.3,178.1 L377.8,177.8 L377.5,175.4 L378.3,177.9 L379.1,178.1 L380.7,175.6 L379.7,178.2 L380.5,178.2 L381.6,178.8 L381.0,181.3 L382.2,178.8 L383.0,179.5 L383.5,176.7 L383.6,179.5 L384.5,179.5 L385.9,179.7 L385.9,182.4 L386.5,179.7 L387.3,179.1 L388.1,181.2 L387.9,179.1 L388.7,178.9 L389.7,180.6 L389.3,178.9 L390.2,179.6 L391.5,180.1 L393.1,179.8 L394.5,180.2 L394.0,182.5 L395.1,180.3 L396.0,180.3 L397.6,179.9 L398.5,181.2 L398.7,183.0 L399.1,181.5 L400.1,181.3 L401.7,181.9 L403.2,183.0 L402.0,181.4 L402.8,180.9 L402.7,179.2 L401.4,178.5 L403.0,178.7 L403.2,177.8 L403.8,176.5 L405.7,175.8 L405.3,177.4 L405.4,178.8 L405.2,180.3 L405.5,181.7 L403.2,182.2 L405.6,182.3 L407.1,182.8 L407.4,184.2 L407.8,185.3 L408.7,186.5 L408.6,188.2 L410.2,186.7 L409.0,188.7 L409.3,189.5 L410.4,190.5 L411.0,192.1 L412.3,192.6 L410.0,194.0 L412.8,192.9 L413.2,193.8 L414.7,194.0 L416.1,194.4 L417.1,196.0 L418.6,195.0 L420.1,195.4 L419.0,193.5 L420.7,195.4 L421.5,195.6 L423.5,195.0 L423.8,196.6 L425.8,195.3 L424.2,197.1 L424.7,197.6 L423.0,200.6 L425.1,198.1 L426.1,198.2 L427.2,199.0 L427.9,200.3 L429.4,198.7 L428.3,200.7 L429.3,201.0 L430.5,201.8 L430.5,203.6 L428.8,205.6 L430.8,204.0 L431.3,204.6 L432.0,205.9 L432.8,207.0 L433.2,208.5 L434.1,210.0 L435.3,210.8 L437.2,210.4 L438.5,211.0 L439.6,208.0 L439.0,211.3 L439.1,212.6 L440.8,212.5 L442.0,213.3 L443.3,213.9 L443.9,215.6 L445.5,215.8 L446.9,216.9 L446.2,218.5 L445.9,220.0 L446.7,221.3 L447.8,222.5 L447.4,224.0 L447.1,225.5 L448.9,225.2 L447.2,226.1 L448.0,227.7 L449.5,227.4 L451.0,227.3 L452.1,228.0 L453.3,228.5 L454.7,228.5 L455.6,229.8 L456.9,230.2 L458.1,230.7 L459.3,231.0 L457.4,232.9 L459.9,231.3 L460.8,231.0 L461.9,231.8 L463.1,232.3 L464.1,233.4 L465.1,234.3 L466.6,234.1 L467.9,234.5 L468.8,235.7 L468.2,237.3 L469.3,236.0 L470.6,235.6 L471.7,236.4 L472.8,237.4 L473.6,238.6 L474.4,239.7 L475.5,240.7 L476.7,241.6 L477.7,242.6 L477.9,244.2 L478.7,245.5 L478.2,247.3 L479.3,248.5 L481.4,247.9 L479.5,249.1 L479.6,250.0 M475.7,226.7 L477.0,226.2 L477.5,224.1 L477.6,226.2 L478.3,226.6 L479.6,226.8 L480.9,226.8 L482.2,227.1 L483.3,226.1 L484.7,225.3 L486.5,226.0 L488.1,225.8 L487.1,223.5 L488.7,225.6 L489.4,224.8 L490.4,225.8 L491.6,226.5 L492.4,227.7 L493.2,229.0 L494.7,229.3 L495.9,227.6 L495.2,229.7 L496.2,229.6 L493.7,232.6 L496.7,229.9 L497.4,230.1 L498.0,227.9 L498.0,230.3 L498.7,230.3 L499.8,231.2 L497.8,233.8 L500.3,231.4 L500.7,232.6 L500.5,235.4 L501.2,232.8 L501.8,233.3 L503.4,232.8 L503.6,230.1 L504.0,233.1 L504.9,232.7 L506.1,233.1 L507.4,233.6 L508.5,234.3 L509.4,235.5 L511.6,233.5 L510.0,235.7 L510.7,235.9 L510.6,234.2 L511.2,236.1 L511.9,236.4 L513.0,237.0 L514.0,238.0 L515.5,238.0 L516.7,238.8 L518.3,239.0 L519.8,238.4 L521.4,237.7 L522.9,237.7 L524.4,238.3 L525.4,237.0 L526.6,236.2 L528.4,236.5 L528.8,238.0 L530.5,238.3 L531.7,239.1 L532.9,240.0 L533.9,241.0 L536.2,240.7 L534.3,241.5 L534.0,242.7 L535.5,240.5 L534.3,243.2 L534.8,243.9 L535.6,245.0 L536.4,246.2 L537.2,247.4 L538.2,248.4 L540.0,248.2 L540.6,249.8 L542.0,249.9 L542.9,248.8 L543.2,247.3 L543.7,245.9 L545.3,245.2 L546.6,244.3 L547.0,242.8 L546.8,241.1 L547.5,239.7 L547.8,238.3 L549.6,237.5 L550.1,235.8 L550.9,237.2 L552.8,235.6 L551.4,237.5 L552.7,237.2 L553.5,238.6 L554.8,239.2 L555.8,240.3 L557.4,240.4 L558.2,241.9 L559.6,242.4 L560.5,243.6 L561.7,243.7 L562.7,242.7 L564.3,242.3 L565.2,241.2 L566.2,240.2 L567.6,239.6 L568.0,238.0 L569.3,237.3 L569.9,235.6 L571.1,234.7 L572.8,235.6 L574.1,234.6 L573.4,236.9 L574.6,234.5 L575.4,234.0 L576.8,234.0 L578.2,233.7 L580.4,233.5 L578.1,235.5 L580.6,234.0 L580.0,235.2 L580.0,236.8 L581.3,237.9 L581.2,239.5 L581.6,240.5 L582.0,239.1 L582.9,238.0 L584.5,237.3 L586.4,239.0 L584.8,236.8 L585.3,236.2 L585.7,234.7 L586.5,233.7 L586.4,232.3 L586.6,231.0 L586.5,229.6 L585.8,228.2 L586.6,226.9 L586.1,225.5 L588.1,225.4 L586.1,224.9 L586.1,224.1 L586.8,222.8 L587.5,221.4 L587.3,220.0 L585.6,219.2 L587.3,219.4 L586.8,218.7 L589.0,219.8 L586.8,218.1 L586.1,216.8 L586.9,215.6 L588.0,214.6 L588.9,213.5 L590.0,212.5 L590.7,211.2 L588.5,210.5 L591.1,210.7 L591.9,210.3 L588.8,207.3 L592.3,209.8 L592.8,209.1 L591.6,207.9 L593.1,208.6 L593.9,208.4 L594.8,207.3 L595.9,206.4 L597.4,206.7 L598.6,206.0 L600.0,206.0 L601.1,205.2 L601.9,203.8 L600.1,201.1 L602.4,203.5 L603.1,203.3 M299.0,441.0 L298.6,442.5 L298.0,443.8 L296.7,444.7 L296.3,446.2 L294.7,447.1 L294.0,448.6 L293.3,450.1 L292.2,451.5 L291.8,453.2 L291.9,454.6 L291.0,455.7 L291.0,457.0 L290.7,458.3 L290.2,459.6 L290.4,460.9 L289.9,462.2 L289.3,463.5 L289.3,464.9 L289.3,466.3 L289.4,467.8 L289.0,469.1 L288.8,470.5 L289.0,472.0 L289.2,473.4 L289.0,474.7 L288.9,476.2 L288.6,477.7 L288.4,479.1 L288.8,480.6 L290.4,480.3 L288.8,481.2 L289.0,482.1 L288.2,483.5 L287.4,484.7 L286.8,485.8 L286.5,487.2 L286.0,488.4 L285.4,489.7 L284.6,490.7 L284.4,492.1 L283.5,493.1 L282.6,494.2 L282.4,495.6 L282.0,496.9 L281.0,497.8 L280.8,499.2 L280.4,500.5 L279.2,501.4 L279.2,502.9 L277.9,503.8 L277.8,505.2 L277.5,506.5 L276.8,507.7 L275.6,508.5 L274.5,509.6 L274.3,511.2 L273.7,512.4 L272.9,513.6 L271.6,514.5 L271.2,516.0 L270.2,517.0 L269.4,518.2 L269.0,519.6 L268.6,520.9 L268.0,522.1 L266.9,523.0 L266.7,524.4 L266.3,525.7 L264.9,526.5 L264.0,527.5 L263.6,528.8 L262.7,529.8 L262.3,531.1 L261.8,532.4 L261.2,533.6 L260.5,534.7 L259.8,535.9 L259.2,537.2 L258.9,538.6 L258.7,540.1 L258.0,541.4 L257.7,542.8 L257.8,544.4 L256.9,545.6 L256.1,546.8 L255.6,548.1 L254.8,549.2 L254.2,550.4 L253.8,551.6 L253.3,552.9 L253.3,554.5 L252.3,555.7 L251.6,557.0 L250.4,558.0 L249.5,559.3 L248.0,560.3 L247.9,561.7 L247.9,563.1 L247.3,564.5 L247.2,565.9 L247.0,567.4 L247.2,568.8 L247.3,570.2 L247.2,571.6 L247.0,573.0 L246.0,574.3 L246.1,575.7 L246.5,577.1 L245.7,578.4 L246.2,579.8 L245.7,581.2 L246.0,582.6 L246.3,583.9 L245.7,585.4 L246.5,586.7 L246.4,588.2 L247.0,589.5 L247.5,590.9 L247.0,592.5 L247.3,594.1 L247.9,595.6 L248.8,596.9 L249.4,598.5 L250.6,599.7 L252.0,600.7 L253.1,602.0 L252.8,603.6 L252.8,605.3 L252.1,606.7 L252.0,608.2 L251.4,609.6 L251.7,611.1 L251.4,612.5 L250.7,613.9 L250.6,615.4 L250.9,616.8 L251.5,618.1 L251.7,619.6 L251.7,621.0 L252.4,622.4 L252.2,623.9 L252.8,625.3 L252.9,626.8 L253.3,628.2 L253.7,629.6 L253.3,631.1 L254.0,632.4 L254.2,633.9 L254.2,635.3 L254.4,636.9 L255.1,638.2 L255.4,639.7 L255.6,641.3 L256.9,642.5 L257.0,643.9 L257.8,645.2 L257.5,646.8 L257.6,648.2 L257.5,649.6 L257.9,650.9 L257.9,652.2 L258.7,653.5 L258.1,654.8 L258.6,656.1 L259.1,657.4 L258.9,658.7 L259.4,659.9 L260.1,661.0 L259.6,662.5 L260.4,663.7 L260.3,665.1 L261.2,666.1 L261.2,667.5 L261.8,668.7 L261.9,670.0 L262.9,671.2 L264.2,669.4 L263.2,671.7 L263.3,672.6 L264.5,673.7 L265.1,675.0 L265.5,676.4 L266.7,677.5 L267.1,678.9 L268.4,679.7 L269.4,680.8 L269.9,682.3 L271.2,683.1 L272.4,684.0 L273.5,685.0 L274.4,686.1 L275.0,687.5 L276.2,688.5 L277.2,689.5 L277.7,691.1 L278.7,692.2 L280.2,692.8 L281.0,694.1 L282.1,695.1 L283.4,695.9 L284.3,697.0 L285.1,698.2 L286.4,699.0 L287.5,700.0 L288.3,701.1 L289.1,702.1 L289.7,703.5 L290.3,703.6 L290.4,705.2 L290.2,706.3 L290.0,707.7 L289.9,709.1 L290.0,710.5 L290.3,711.8 L291.0,713.0 L291.6,714.3 L292.0,715.6 L291.7,717.0 L291.5,718.4 L291.5,719.7 L291.8,721.1 L292.1,722.4 L292.7,723.6 L293.2,724.9 L292.8,726.3 L293.0,727.6 L293.4,728.9 L293.2,730.3 L293.3,731.6 L293.6,732.8 L294.0,734.1 L294.4,735.4 L294.7,736.6 L295.3,737.9 L295.5,739.2 L295.4,740.5 L295.8,741.8 L295.2,743.2 L295.6,744.4 L295.9,745.7 L296.3,747.0 L295.8,748.4 L296.6,749.5 L297.5,750.5 L297.7,751.9 L298.4,753.0 L298.9,754.2 L299.0,755.6 L299.3,756.9 L300.6,757.7 L300.7,759.2 L301.7,760.1 L302.1,761.4 L302.7,762.5 L303.7,763.5 L304.4,764.7 L305.0,765.8 L306.6,764.9 L305.2,766.4 L305.3,767.1 L305.4,768.5 L306.4,769.5 L306.7,770.9 L306.9,772.3 L307.5,773.5 L308.7,774.5 L308.7,776.0 L309.5,777.2 L309.9,778.5 L310.2,779.8 L310.4,781.2 L310.8,782.6 L309.2,784.4 L311.0,783.1 L311.7,783.7 L312.8,784.7 L313.3,786.3 L312.1,787.1 L311.6,788.3 L310.9,789.5 L309.8,790.3 L309.5,791.7 L308.7,792.8 L307.6,793.6 L307.1,794.9 L306.1,796.3 L305.5,795.1 L304.4,794.3 L303.3,793.5 L302.4,792.5 L301.2,791.9 L300.2,791.0 L299.3,790.0 L298.0,789.4 L298.2,790.8 L298.4,792.1 L298.7,793.5 L299.7,794.6 L300.1,795.5 L300.9,796.8 L301.9,797.6 L302.8,798.7 L304.2,798.9 L305.6,799.3 L306.7,800.1 L307.6,801.1 L308.7,801.7 L310.0,802.4 L310.9,803.5 L312.1,804.3 L312.8,805.6 L314.0,806.4 L314.9,807.5 L315.9,808.4 L316.8,809.5 L317.7,810.7 L319.0,811.3 L320.2,812.4 L318.1,811.9 L320.4,813.0 L320.7,813.8 L320.5,815.5 L321.1,816.9 L322.1,818.1 L322.4,819.6 L323.0,821.0 M313.0,724.7 L313.9,725.9 L314.2,727.3 L314.4,728.6 L314.1,730.2 L313.9,731.6 L314.1,733.0 L315.0,734.2 L315.7,735.5 L315.4,737.0 L316.3,738.2 L316.6,739.6 L317.1,740.8 L317.2,742.1 L317.2,743.4 L317.4,744.7 L317.7,746.0 L318.2,747.2 L318.2,748.5 L319.0,749.7 L319.5,750.9 L319.9,752.2 L319.8,753.5 L319.7,754.9 L319.3,756.3 L319.7,757.5 L320.2,758.7 L320.1,760.1 L320.8,761.3 L321.5,762.5 L321.5,763.8 L321.5,765.1 L321.5,766.5 L322.0,767.7 L322.4,768.9 L322.9,770.2 L322.9,771.5 L322.8,772.9 L323.7,774.0 L324.4,775.2 L324.8,776.5 L325.0,777.9 L325.3,779.3 L325.9,780.5 L326.3,781.8 L327.0,783.0 L327.1,784.5 L327.4,785.8 L328.6,786.8 L329.3,788.0 L329.3,789.5 L329.5,790.8 L329.7,792.1 L330.1,793.4 L330.8,794.5 L331.8,795.6 L332.4,796.8 L332.7,798.0 L332.9,799.4 L333.2,800.6 L334.2,801.7 L334.0,803.2 L334.6,804.3 L334.6,805.7 L335.6,806.8 L335.7,808.1 L336.0,809.5 L336.7,810.6 L337.2,811.9 L338.5,812.7 L339.1,813.9 L339.7,815.1 L340.4,816.3 L340.6,817.7 L341.7,818.6 L342.2,819.9 L342.9,821.0 M313.0,724.7 L314.5,726.0 L316.1,726.8 L317.4,727.4 L318.6,728.1 L320.0,728.4 L321.5,728.6 L322.7,729.4 L324.0,729.8 L325.3,730.7 L325.8,732.0 L326.4,733.3 L327.3,734.2 L328.1,735.2 L329.2,736.0 L329.8,737.2 L330.8,738.1 L332.2,738.6 L333.4,739.5 L333.4,740.8 L333.4,742.2 L333.5,743.6 L334.1,744.8 L334.5,746.0 L334.9,747.2 L335.2,748.5 L336.5,749.5 L336.7,750.8 L336.8,752.1 L337.7,753.2 L337.7,754.6 L337.9,755.9 L338.7,757.0 L339.6,758.1 L340.2,759.3 L340.5,760.6 L340.3,762.0 L342.9,759.9 L340.5,762.6 L340.6,763.3 L341.3,764.5 L342.2,765.6 L342.6,766.8 L343.2,768.0 L343.4,769.3 L344.0,770.5 L344.6,771.7 L344.9,772.9 L345.3,774.2 L345.3,775.6 L345.0,777.0 L345.3,778.3 L346.2,779.4 L346.8,780.6 L347.6,781.6 L348.0,782.9 L348.5,784.1 L349.0,785.3 L349.7,786.5 L350.1,787.7 L350.9,788.8 L351.0,790.3 L351.5,791.5 L352.4,792.5 L352.9,793.7 L354.1,794.6 L355.0,795.6 L354.8,797.2 L355.9,798.1 L356.7,799.2 L356.5,800.7 L357.1,802.0 L357.7,803.2 L358.8,804.1 L359.4,805.3 L360.2,806.4 L361.1,807.4 L361.1,809.0 L362.0,810.0 L362.0,811.5 L362.5,812.8 L363.6,813.6 L364.1,815.0 L364.9,816.1 L366.3,816.6 L366.8,818.0 L367.8,818.9 L369.0,819.7 L369.5,821.0 M417.7,896.8 L418.5,897.9 L418.8,899.2 L419.9,900.1 L420.6,901.2 L421.2,902.4 L421.8,903.5 L422.1,904.9 L422.4,906.2 L422.6,907.5 L423.6,908.5 L423.6,909.9 L424.4,911.0 L424.9,912.2 L426.7,912.2 L425.1,912.8 L425.5,913.4 L425.8,914.7 L426.5,915.8 L427.2,917.0 L427.1,918.4 L427.7,919.6 L428.7,920.6 L429.2,921.9 L429.7,923.3 L429.0,924.5 L429.2,925.9 L428.2,927.1 L427.8,928.4 L427.3,929.7 L427.8,931.2 L425.1,930.8 L427.7,931.7 L427.7,932.5 L427.1,933.8 L427.4,935.2 L426.4,936.4 L426.6,937.8 L425.8,939.0 L425.5,940.3 L425.4,941.7 L424.6,942.9 L424.6,944.3 L424.5,945.6 L424.2,947.0 L424.2,948.4 L423.6,949.6 M573.0,960.0 L572.4,958.8 L572.5,957.3 L572.2,956.0 L572.2,954.6 L572.0,953.3 L571.4,952.0 L570.7,950.8 L572.6,949.1 L570.5,950.2 L570.1,949.6 L569.0,948.5 L568.3,947.3 L567.6,946.1 L567.7,944.7 L566.9,943.5 L566.5,942.2 L565.7,941.1 L565.7,939.6 L565.5,938.2 L565.2,936.9 L564.8,935.6 L564.4,934.3 L563.4,933.2 L563.3,931.8 L563.1,930.4 L561.8,929.4 L561.0,928.3 L561.0,926.9 L560.4,925.6 L559.7,924.5 L559.1,923.2 L558.4,922.0 L558.8,920.6 L558.8,919.2 L559.0,917.9 L558.2,916.7 L557.3,915.5 L556.8,914.3 L557.2,912.9 L556.8,911.6 L557.0,910.3 L556.8,909.0 L556.3,907.8 L555.5,906.6 L555.5,905.2 L556.2,903.9 L555.5,902.5 L555.6,901.2 L555.8,899.8 L555.3,898.5 L556.0,897.2 L556.0,895.8 L555.5,894.5 L556.2,893.1 L556.6,891.8 L556.2,890.5 L555.5,889.1 L555.8,887.8 L556.3,886.4 L556.1,885.1 L556.6,883.8 L555.6,882.4 L555.2,881.1 L555.9,879.7 L556.1,878.5 L555.9,877.1 L556.2,875.8 L556.1,874.5 L556.4,873.2 L557.2,872.0 L558.0,870.9 L557.9,869.5 L555.0,869.8 L558.0,868.9 L558.3,868.3 L557.8,866.8 L558.2,865.6 L558.6,864.3 L559.5,863.2 L559.9,861.9 L559.2,860.4 L559.1,859.0 L560.2,857.9 L560.0,856.5 L561.1,855.4 L561.1,854.0 L561.2,852.7 L562.4,851.4 L562.0,850.1 L561.1,848.8 L561.6,847.2 L561.4,845.8 L561.4,844.4 L561.0,843.0 L560.6,841.7 L559.4,840.5 L559.6,838.9 L559.2,837.7 L561.7,838.5 L559.0,837.1 L558.3,836.6 L558.7,835.2 L558.2,833.9 L557.5,832.8 L557.2,831.5 L556.5,830.4 L556.0,829.2 L555.7,827.9 L555.6,826.4 L556.2,825.1 L557.4,824.1 L558.7,823.3 L559.5,822.1 L560.4,821.0 L560.4,819.3 L561.6,818.3 L562.6,817.3 L563.0,815.8 L563.5,814.5 L564.8,813.7 L565.3,812.3 L566.1,811.2 L567.0,810.0 L567.7,808.8 L568.5,807.7 L568.7,806.1 L570.0,805.3 L570.5,803.9 L571.4,802.8 L571.8,801.3 L573.1,801.0 L574.4,800.5 L575.5,799.8 L576.5,799.0 L577.5,798.1 L578.6,797.3 L579.7,796.7 L581.2,796.6 L582.2,795.7 L583.3,795.0 L584.5,794.4 L585.5,793.5 L586.7,793.0 L588.2,792.7 L589.3,791.8 L589.9,790.4 L591.0,792.4 L590.4,790.1 L591.0,789.5 L592.3,789.0 L593.2,787.9 L594.7,787.6 L595.8,787.0 L596.7,785.6 L598.0,785.1 L599.2,784.5 L600.5,784.0 L601.9,783.6 L602.9,782.5 L604.2,781.8 L605.7,782.2 L607.1,781.9 L608.6,781.7 L610.1,782.0 L611.5,781.8 L613.0,782.0 L614.2,781.1 L615.5,781.0 L616.9,781.2 L618.2,780.9 L619.4,780.6 L620.7,780.1 L622.1,780.5 L623.0,782.4 L622.7,780.4 L623.4,780.2 L624.6,779.4 L625.9,779.2 L627.3,778.8 L628.7,778.8 L630.0,778.6 L629.1,776.0 L630.6,778.6 L631.5,779.5 L632.8,779.1 L632.4,781.0 L633.4,779.2 L634.2,779.3 L635.6,779.6 L637.0,780.0 L638.4,780.0 L639.7,780.7 L641.2,780.6 L642.5,780.8 L643.4,782.0 L644.5,782.7 L645.7,783.7 L647.1,784.3 L648.5,785.0 L649.0,786.7 L650.4,787.4 L652.0,787.1 L653.4,786.4 L654.9,785.8 L656.6,785.6 L657.4,784.3 L658.8,783.9 L660.0,783.4 L661.1,782.5 L662.4,782.3 L663.3,781.0 L664.5,780.4 L665.5,779.7 L666.9,779.6 L668.8,779.2 L670.3,778.0 L671.2,779.3 L672.2,780.4 L673.8,780.7 L675.0,781.6 L676.2,780.3 L676.6,778.7 L676.8,777.2 L675.5,776.3 L674.2,775.3 L673.1,774.2 L671.6,773.2 L670.7,772.1 L670.4,770.8 L669.8,769.5 L669.7,768.2 L669.2,766.5 L668.5,765.7 L669.6,764.9 L670.2,763.7 L670.9,762.4 L671.8,761.5 L672.5,760.0 L674.0,759.2 L675.8,759.0 L677.3,758.2 L678.9,758.8 L680.4,758.8 L682.0,758.0 L683.3,757.3 L685.3,759.8 L683.9,757.2 L684.9,757.2 L686.1,756.1 L687.8,756.5 L689.1,755.8 L690.5,755.6 L691.9,756.0 L693.2,755.4 L694.6,755.8 L696.0,755.9 L697.3,755.1 L698.7,755.1 L700.0,754.8 L701.2,754.1 L702.4,753.6 L703.7,753.4 L705.1,753.5 L706.4,753.1 L707.7,753.2 L709.1,752.8 L710.5,752.5 L711.9,753.0 L713.3,752.4 L714.7,752.8 L716.2,753.5 L717.6,753.7 L719.0,753.1 L720.4,753.5 L721.8,752.9 L723.1,752.4 L724.5,752.8 L725.9,752.7 L727.1,752.1 L728.3,751.4 L729.7,751.4 L731.0,751.1 L732.1,750.4 L733.5,749.7 L735.0,749.8 L736.5,749.8 L738.0,750.4 L739.4,749.6 L740.7,749.1 L741.9,748.8 L743.3,748.9 L744.7,748.9 L745.7,748.8 L746.9,749.5 L748.3,749.9 L749.8,749.9 L750.9,751.0 L752.5,750.8 L753.9,751.4 L754.9,752.3 L756.3,752.6 L757.0,753.9 L758.3,754.4 L759.5,755.0 L760.6,755.8 L761.9,756.2 L763.0,756.9 L764.2,757.5 L764.9,758.7 L765.9,759.7 L766.9,760.4 L767.6,761.3 L768.8,762.4 L766.6,762.5 L769.0,762.9 L769.1,763.8 L769.9,765.0 L770.5,766.3 L770.8,767.7 L771.1,769.1 L771.9,770.2 L772.2,771.5 L773.2,772.5 L773.4,773.9 L773.8,775.2 L774.9,776.1 L775.0,777.6 L775.6,778.9 L777.0,779.7 L778.2,780.6 L778.9,781.8 L779.9,782.9 L780.7,784.2 L782.0,785.0 L782.7,786.3 L783.9,787.1 L784.3,788.7 L784.7,790.2 L785.5,791.5 L787.1,792.1 L788.2,793.0 L788.7,794.5 L790.1,795.1 L790.7,796.4 L791.8,797.3 L793.2,797.7 L794.4,798.5 L795.5,799.3 L796.0,800.8 L797.1,801.7 L798.3,802.4 L799.4,803.2 L800.7,803.5 L801.9,804.0 L803.3,804.4 L804.4,805.1 L805.3,806.2 L806.0,807.4 L806.7,808.6 L807.7,809.7 L808.9,810.6 L810.2,811.4 L811.4,812.3 L812.5,813.3 L812.4,814.2 L814.0,814.9 L815.4,814.8 L816.7,814.6 L817.8,811.4 L817.3,814.5 L818.0,814.0 L819.3,812.9 L820.4,811.6 L821.9,811.0 L822.0,809.4 L823.2,808.4 L824.1,807.1 L823.2,805.8 L823.1,804.4 L823.1,803.0 L823.1,801.6 L822.9,800.3 L822.3,799.0 L822.6,797.5 L822.5,796.0 L822.2,794.6 L821.1,793.4 L821.3,791.9 L820.1,790.7 L819.5,789.4 L819.3,787.9 L819.4,786.2 L818.1,785.4 L816.9,784.4 L816.2,783.2 L815.6,781.9 L815.0,780.5 L814.0,779.5 L813.3,778.3 L812.4,777.2 L811.7,776.0 L810.9,774.8 L809.9,773.9 L809.5,772.4 L808.8,771.2 L807.8,770.2 L807.0,769.1 L806.1,768.1 L804.5,767.5 L804.1,766.1 L803.2,764.9 L802.7,763.6 L801.3,762.8 L801.0,761.3 L799.9,760.3 L799.0,759.2 L797.8,758.3 L797.1,757.1 L796.5,755.8 L795.3,755.0 L794.3,754.0 L793.9,752.6 L792.9,751.6 L792.4,750.3 L791.0,749.6 L790.7,748.0 L789.9,746.9 L789.1,745.8 L788.1,744.8 L787.4,743.6 L786.0,743.0 L784.6,742.4 L784.1,741.0 L783.1,740.0 L782.3,738.9 L782.0,737.4 L783.4,737.3 L781.7,736.9 L781.4,736.1 L780.8,734.7 L779.7,733.8 L778.2,733.0 L777.6,731.7 L776.9,730.5 L776.6,729.2 L776.0,727.9 L775.6,726.6 L775.1,725.2 L775.4,723.8 L775.6,722.3 L774.9,721.0 L774.0,719.6 L773.9,718.2 L774.5,716.9 L775.5,715.6 L775.8,714.2 L776.3,712.9 L775.6,711.4 L775.9,710.0 L775.9,708.6 L776.6,707.3 L776.7,705.9 L777.4,704.6 L777.0,703.1 L777.0,701.7 L777.4,700.4 L777.8,699.1 L778.6,697.8 L779.7,696.8 L780.6,695.6 L781.6,694.5 L782.8,693.6 L783.7,692.6 L784.8,691.5 L785.9,690.5 L786.2,689.0 L787.2,687.9 L788.4,689.2 L787.5,687.4 L787.1,686.3 L788.3,685.3 L789.1,684.1 L789.3,682.7 L789.5,681.2 L790.3,679.9 L790.6,678.6 L792.0,677.9 L793.1,677.0 L793.6,675.8 L794.4,674.7 L795.3,673.8 L796.0,672.7 L796.2,671.2 L796.9,670.1 L797.7,669.1 L798.5,668.1 L798.9,666.6 L799.3,665.1 L800.4,664.1 L801.0,662.8 L802.3,661.9 L803.4,661.0 L804.0,659.6 L804.9,658.6 L806.1,657.6 L806.8,656.4 L807.3,655.1 L807.4,653.6 L805.8,653.0 L807.8,653.1 L807.9,652.3 L808.5,651.0 L809.3,649.9 L810.5,649.1 L811.5,648.1 L812.1,646.8 L813.0,645.8 L813.6,644.6 L814.6,643.8 L815.4,642.7 L816.2,641.6 L817.5,641.1 L818.6,640.4 L819.0,638.9 L820.3,638.3 L820.8,636.9 L821.4,635.6 L822.1,634.4 L823.0,633.5 L824.2,633.1 L823.8,631.8 L823.3,630.6 L822.4,629.6 L822.2,628.3 L822.0,626.7 L821.1,625.7 L819.6,625.2 L819.0,623.9 L818.3,622.7 L816.9,622.1 L816.4,620.8 L815.7,619.6 L814.6,618.7 L813.7,617.7 L812.5,616.9 L811.8,615.7 L811.2,614.4 L810.6,613.2 L809.9,612.1 L808.8,610.8 L808.7,609.2 L808.8,607.6 L808.3,606.2 L808.5,604.9 L808.4,603.6 L809.0,602.3 L808.6,600.9 L809.1,599.6 L811.0,600.2 L809.2,599.0 L809.6,598.3 L809.5,597.0 L809.6,595.6 L810.1,594.2 L810.1,592.9 L809.7,591.6 L811.4,590.9 L809.6,591.0 L809.1,590.3 L809.0,589.0 L808.7,587.7 L808.7,586.4 L809.0,585.0 L809.1,583.6 L808.8,582.5 L809.1,581.2 L809.3,579.9 L809.2,578.5 L808.7,577.1 L809.1,575.8 L808.6,574.4 L808.7,573.1 L808.7,571.7 L809.3,570.5 L809.7,569.0 L809.9,567.5 L810.2,566.0 L809.6,564.5 L809.7,563.0 L809.7,561.5 L808.9,560.3 L808.2,559.1 L808.6,557.6 L808.4,556.2 L808.0,555.0 L806.7,554.0 L806.3,552.7 L802.9,553.8 L806.0,552.2 L806.3,551.3 L805.2,550.3 L804.6,549.1 L804.3,547.8 L804.0,546.8 L804.3,545.4 L805.6,544.7 L806.1,543.4 L806.5,542.0 L807.5,541.0 L808.9,540.3 L809.9,539.5 L811.3,538.9 L812.4,538.0 L813.2,536.5 L814.7,536.0 L815.7,534.8 L816.7,533.6 L817.5,532.3 L819.3,532.2 L820.5,531.4 L821.9,530.4 L822.8,529.3 L822.8,527.8 L822.6,526.3 L823.1,525.1 L823.7,523.9 L824.8,522.9 L825.7,521.8 L826.2,520.6 L826.5,519.2 L827.2,518.1 L827.9,516.9 L827.7,515.3 L827.3,513.8 L827.5,512.3 L827.0,510.8 L826.8,509.4 L826.3,507.9 L825.5,506.8 L825.1,505.6 L824.2,504.5 L823.6,503.3 L823.0,502.2 L822.7,500.9 L822.3,499.4 L823.2,498.0 L823.1,496.6 L822.6,495.2 L822.3,493.8 L822.8,492.4 L822.6,491.1 L822.2,489.7 L823.2,488.3 L822.7,486.9 L823.5,485.7 L823.3,484.2 L823.5,482.8 L824.4,481.8 L824.4,480.3 L825.8,479.4 L826.7,478.4 L827.2,477.1 L827.0,475.6 L828.4,475.0 L829.3,473.9 L829.7,472.4 L831.3,472.0 L831.7,470.4 L833.0,469.8 L833.7,468.5 L834.7,467.6 L835.3,466.4 L836.0,465.2 L836.6,464.0 L837.5,462.9 L837.9,461.6 L838.6,460.5 L838.3,458.9 L838.6,457.5 L839.4,456.3 L840.7,455.5 L841.2,454.1 L842.5,453.2 L842.8,451.5 L843.7,450.4 L845.1,449.8 L846.4,449.3 L847.5,448.4 L848.4,447.2 L850.2,447.2 L850.7,445.9 L851.6,445.0 L852.6,444.1 L853.5,443.2 L852.0,442.6 L853.9,442.7 L853.8,441.7 L855.0,441.0 M589.0,250.1 L588.9,251.5 L589.9,252.7 L590.2,254.0 L590.2,255.3 L590.9,256.5 L590.6,258.0 L591.0,259.3 L591.5,260.5 L591.3,261.9 L590.8,263.1 L590.3,264.3 L590.8,265.8 L590.9,267.1 L593.4,266.6 L590.8,267.7 L590.1,268.3 L589.8,269.5 L591.9,270.3 L589.7,270.1 L589.2,270.8 L589.2,272.1 L592.1,272.6 L589.1,272.7 L588.9,273.2 L588.1,274.2 L587.8,275.6 L587.0,276.6 L585.7,277.3 L585.0,278.4 L584.2,279.4 L583.5,280.5 L583.3,282.0 L582.4,283.5 L582.8,280.7 L581.9,283.7 L580.9,283.5 L579.3,283.5 L577.8,283.6 L576.5,284.3 L575.0,285.1 L574.5,286.6 L573.7,288.0 L573.2,289.6 L572.7,291.1 L572.3,292.3 L571.6,293.5 L570.8,294.6 L570.9,296.1 L569.8,297.1 L569.2,298.3 L569.7,299.8 L569.0,301.0 L568.5,302.2 L568.2,303.5 L567.6,304.7 L567.2,306.0 L566.6,307.0 L566.4,308.5 L568.0,310.5 L566.0,309.0 L565.2,309.4 L564.0,310.2 L563.0,311.2 L562.4,312.4 L561.5,313.5 L561.2,315.0 L560.5,316.2 L560.0,317.6 L559.6,318.4 L558.8,319.7 L558.8,321.1 L558.8,322.5 L557.5,323.7 L557.8,325.2 L557.9,326.6 L557.3,327.9 L556.4,329.2 L556.9,330.6 L557.1,332.1 L556.7,333.4 L556.0,334.7 L556.2,336.3 L555.5,337.6 L555.3,339.0 L554.4,340.2 L554.4,341.7 L553.9,342.8 L554.0,344.2 L554.7,345.4 L554.1,347.0 L554.3,348.4 L555.0,349.7 L555.9,350.9 L556.2,352.3 L556.2,353.5 L557.1,354.6 L558.3,355.5 L559.3,356.5 L560.2,357.6 L561.8,357.8 L563.1,358.4 L564.5,359.1 L564.9,360.4 L565.4,361.7 L566.6,362.5 L567.4,363.6 L567.6,365.0 L568.4,366.1 L569.5,367.0 L569.8,368.3 L570.0,369.8 L570.9,370.8 L571.5,372.0 L572.2,373.1 L572.9,374.5 L574.0,375.6 L575.1,376.8 L575.3,378.6 L576.5,377.8 L577.8,377.4 L579.2,377.1 L580.7,377.2 L581.9,376.2 L583.4,376.4 L584.7,376.0 L586.1,375.5 L587.4,376.2 L588.7,376.8 L590.1,376.6 L591.4,377.0 L592.8,376.7 L594.2,376.7 L595.5,377.0 L596.9,377.0 L598.3,376.7 L599.6,377.4 L600.7,378.1 L601.7,379.0 L603.4,378.8 L604.5,379.6 L605.8,380.1 L607.0,380.8 L607.8,382.1 L609.0,382.7 L610.4,382.9 L611.5,383.8 L612.8,384.2 L614.0,384.9 L615.1,385.6 L616.5,385.5 L617.7,386.7 L619.1,387.0 L620.5,387.5 L621.9,387.9 L623.4,387.4 L624.8,387.8 L626.2,387.9 L627.6,388.0 L629.0,388.5 L630.4,388.2 L631.8,388.9 L633.2,388.8 L634.6,388.7 L636.0,388.5 L637.5,387.8 L638.9,388.4 L640.3,387.8 L641.7,388.6 L643.1,388.5 L644.4,388.4 L645.8,388.6 L647.1,388.1 L648.5,387.8 L649.9,385.3 L649.1,387.8 L649.8,387.4 L651.2,388.1 L652.7,388.2 L653.3,389.4 L653.6,390.9 L654.2,392.2 L655.8,392.8 L656.7,393.9 L656.8,395.4 L657.2,396.7 L658.8,396.9 L657.3,397.3 L658.0,397.9 L657.9,399.4 L658.4,400.7 L658.6,402.1 L659.5,403.3 L657.4,404.3 L659.6,403.9 L660.2,404.4 L659.9,406.0 L660.5,407.1 L661.2,408.2 L661.8,409.4 L662.8,410.3 L663.1,411.6 L663.4,412.9 L664.4,413.8 L665.3,414.9 L667.2,413.9 L665.8,415.3 L666.3,415.9 L667.4,416.8 L668.0,418.3 L669.2,419.1 L670.6,419.7 L671.4,420.8 L672.2,422.0 L671.7,423.3 L672.7,422.3 L673.6,422.2 L674.9,422.7 L675.6,424.0 L676.7,424.6 L677.9,425.1 L678.6,426.4 L679.6,427.2 L680.5,428.2 L681.2,429.3 L682.5,430.0 L683.2,431.2 L683.8,432.4 L685.4,433.0 L686.7,432.2 L688.2,432.1 L689.4,431.1 L690.9,430.8 L692.0,430.2 L692.8,429.0 L694.2,428.3 L695.6,427.7 L696.3,426.4 L697.1,425.2 L697.8,423.9 L698.4,423.7 L698.0,422.3 L698.4,420.8 L698.4,419.4 L697.8,418.1 L698.0,416.6 L698.0,415.2 L696.8,414.1 L696.5,412.8 L695.8,411.7 L697.2,411.7 L695.5,411.2 L694.8,410.7 L694.5,409.4 L694.0,408.2 L693.9,406.8 L693.6,405.5 L692.7,404.5 L691.6,403.6 L691.5,402.2 L691.2,400.8 L689.8,400.1 L689.3,398.9 L688.7,397.7 L688.1,396.5 L686.9,395.8 L685.9,394.9 L684.9,394.0 L684.6,392.6 L684.2,391.3 L683.5,390.1 L682.0,389.7 L681.1,388.8 L680.0,388.0 L679.3,386.8 L677.9,385.6 L678.7,384.4 L679.7,383.3 L680.7,382.2 L681.2,380.8 L682.3,379.8 L683.6,379.0 L684.6,377.9 L685.1,376.5 L685.5,375.2 L686.5,374.0 L686.5,372.5 L687.4,371.4 L687.8,370.0 L688.0,368.6 L689.3,367.6 L689.4,366.1 L689.9,364.8 L690.5,363.4 L690.6,362.0 L690.5,360.6 L690.3,359.2 L690.2,357.8 L690.2,356.4 L690.7,355.0 L690.6,353.6 L690.0,352.2 L690.3,350.6 L688.8,350.0 L688.0,349.0 L687.0,348.2 L686.1,347.2 L685.5,346.0 L686.7,344.0 L685.1,345.6 L684.7,345.0 L684.7,343.4 L683.5,342.7 L682.5,342.1 L681.5,341.2 L680.6,340.3 L679.5,339.6 L678.3,339.0 L677.6,337.8 L676.5,337.1 L675.5,336.2 L674.2,335.7 L673.6,334.3 L672.4,333.5 L670.8,333.3 L669.4,333.0 L668.0,332.5 L667.0,331.9 L666.2,330.7 L665.9,329.4 L665.9,328.1 L665.0,326.9 L664.4,325.7 L664.8,324.2 L665.1,322.8 L665.2,321.4 L664.3,320.3 L664.4,318.9 L663.6,317.7 L663.6,316.4 L663.1,315.1 L663.4,313.7 L665.3,313.2 L663.3,313.1 L663.1,312.4 L662.8,311.1 L662.0,309.9 L662.3,308.4 L662.1,307.0 L661.1,306.1 L660.8,304.8 L660.0,303.7 L659.0,302.7 L658.0,301.7 L657.5,300.5 L657.0,299.3 L656.8,298.0 L655.9,296.9 L655.5,295.7 L655.1,294.4 L654.5,293.2 L654.1,291.9 L656.0,291.7 L653.9,291.4 L653.3,290.8 L652.4,289.8 L652.1,288.4 L652.8,287.0 L652.3,285.6 L653.0,284.2 L652.5,282.6 L653.7,282.0 L655.0,281.8 L656.3,281.7 L657.7,281.7 L659.1,281.9 L660.3,281.0 L661.7,281.3 L663.0,281.1 L664.5,281.1 L665.3,279.7 L666.4,279.0 L667.5,278.2 L669.0,278.4 L670.3,277.9 L671.1,276.8 L672.1,275.7 L673.7,275.1 L675.1,275.2 L676.4,275.4 L677.7,275.5 L678.9,276.5 L680.1,277.3 L681.4,277.1 L682.7,277.3 L684.0,277.7 L685.3,277.8 L686.5,278.8 L687.8,279.0 L689.2,278.5 L690.4,279.3 L691.6,280.0 L692.9,280.0 L694.1,280.5 L695.5,280.3 L696.7,280.9 L698.1,280.1 L699.3,280.7 L700.5,281.3 L701.6,281.9 L703.0,282.0 L704.2,282.6 L705.1,283.6 L706.6,283.6 L707.7,284.2 L708.6,285.2 L709.0,286.6 L709.8,287.8 L710.2,289.1 L713.4,287.2 L710.5,289.7 L710.2,290.6 L711.4,291.6 L711.7,293.0 L712.1,294.4 L713.2,295.5 L713.3,297.0 L714.5,297.8 L715.1,299.2 L716.6,299.7 L717.5,300.9 L718.6,301.8 L719.7,302.7 L720.7,303.2 L722.2,303.6 L723.4,304.4 L724.8,304.9 L726.0,306.0 L727.6,306.4 L728.6,305.3 L730.1,307.1 L729.1,305.0 L729.5,304.1 L730.8,303.7 L732.2,303.2 L733.1,302.0 L733.7,303.5 L733.6,301.6 L734.4,301.6 L735.0,300.4 L735.4,299.1 L736.5,298.2 L737.5,297.2 L738.0,296.0 L737.9,294.5 L738.9,293.5 L739.4,292.2 L739.0,290.8 L738.5,289.4 L739.4,288.0 L739.7,286.6 L739.9,285.1 L740.2,283.7 L739.5,282.3 L739.5,280.9 L736.6,281.5 L739.5,280.3 L740.0,279.5 L739.3,278.1 L739.3,276.6 L738.5,275.4 L738.7,273.9 L738.6,272.6 L737.7,271.4 L737.4,270.0 L737.1,268.3 L738.1,269.3 L739.2,270.0 L740.3,270.7 L741.4,271.3 L742.4,272.3 L743.7,272.5 L745.1,272.6 L746.4,273.1 L747.5,273.8 L748.5,275.0 L749.9,275.3 L750.8,276.5 L752.1,276.9 L753.0,278.1 L754.3,278.6 L755.8,278.8 L757.2,279.2 L758.0,280.5 L759.1,281.4 L760.1,282.3 L761.1,283.3 L762.4,283.8 L763.6,284.3 L765.0,284.7 L766.5,284.9 L767.2,286.3 L768.1,287.5 L769.6,287.8 L771.1,287.8 L772.3,288.6 L773.5,289.4 L775.0,289.5 L776.4,289.8 L777.7,290.3 L778.8,291.4 L780.0,292.2 M664.2,409.4 L665.7,409.5 L667.1,409.5 L668.5,409.0 L670.1,408.7 L671.2,409.5 L672.5,409.9 L673.7,410.5 L674.8,411.3 L675.8,411.9 L675.1,413.2 L674.2,414.4 L673.1,415.4 L672.1,416.2 L670.5,416.1 L668.9,416.0 L667.4,415.7 L665.9,415.0 L665.2,413.7 L664.9,412.3 L664.5,410.9 L664.2,409.4 Z M822.2,381.0 L823.3,380.2 L824.6,379.9 L825.8,379.3 L826.9,378.6 L828.2,378.3 L829.6,378.1 L830.9,377.9 L832.0,377.0 L833.4,377.2 L834.8,376.7 L836.2,376.8 L837.6,376.5 L839.1,376.6 L840.5,376.4 L841.9,376.3 L843.3,376.2 L844.7,376.0 L846.1,376.1 L847.6,376.1 L846.3,376.7 L845.2,377.5 L844.2,378.5 L843.0,379.2 L842.1,380.2 L841.0,381.1 L840.0,381.9 L838.7,382.2 L837.3,382.3 L836.0,382.7 L834.6,382.9 L833.4,383.5 L832.0,383.7 L830.7,384.2 L829.4,384.5 L827.9,384.6 L826.9,383.6 L825.9,382.7 L824.6,382.2 L823.3,381.8 L822.2,381.0 Z M861.0,393.0 L862.5,392.8 L864.2,392.7 L864.7,394.2 L865.4,395.5 L865.9,396.9 L865.5,398.5 L864.6,399.8 L864.0,401.3 L863.4,400.1 L862.6,398.9 L861.5,398.0 L861.1,396.4 L861.0,394.7 L861.0,393.0 Z M801.5,781.0 L802.8,780.6 L804.1,780.5 L805.4,780.4 L806.7,780.0 L807.9,780.0 L808.1,781.4 L808.6,782.7 L808.6,784.0 L808.9,785.3 L809.1,786.7 L809.4,787.7 L808.2,788.4 L806.9,788.7 L805.6,788.9 L804.3,789.4 L802.9,789.7 L802.8,788.2 L802.4,786.8 L802.4,785.3 L802.0,783.9 L801.8,782.4 L801.5,781.0 Z M820.6,815.1 L821.2,815.8 L820.1,815.5 L819.4,816.0 L818.3,816.8 L817.0,817.6 L815.9,818.5 L815.1,819.9 L813.8,820.6 L812.8,821.7 L811.8,822.6 L810.4,822.9 L809.1,823.2 L808.2,824.4 L808.0,822.7 L807.7,824.7 L806.8,824.6 L806.0,825.8 L804.7,826.2 L804.6,825.2 L804.2,826.5 L803.4,826.6 L802.2,827.2 L801.2,828.0 L800.3,829.1 L799.0,829.5 L798.1,830.5 L796.6,830.8 L797.8,832.6 L796.2,831.2 L795.9,832.2 L794.6,831.6 L795.5,832.7 L795.1,833.5 L793.6,834.2 M872.7,785.7 L874.0,786.7 L875.6,786.3 L877.0,787.1 L878.4,787.7 L880.1,787.0 L881.9,787.2 L882.7,788.4 L883.5,789.6 L884.5,790.8 L881.9,792.2 L884.8,791.2 L885.7,791.6 L886.4,793.0 L886.8,794.4 L888.1,793.8 L889.4,793.0 L890.8,792.5 L892.3,792.6 L891.2,790.1 L892.9,792.4 L893.7,792.8 L893.5,796.1 L894.3,793.1 L894.8,793.6 L896.1,794.1 L897.1,795.0 L898.3,795.5 L899.4,796.3 L901.1,795.9 L901.8,797.2 L903.2,794.7 L902.4,797.5 L902.9,798.1 L904.4,798.0 M885.0,805.0 L886.4,805.5 L887.6,806.7 L889.0,807.3 L890.7,807.1 L892.3,807.2 L893.6,808.1 L895.2,808.3 L896.8,808.7 L898.1,809.5 L899.5,809.5 L900.8,810.0 L901.8,811.3 L903.3,811.0 L904.4,812.0 M907.9,801.5 L908.9,802.6 L909.6,804.0 L910.3,805.4 L911.6,806.3 L912.2,807.9 L913.0,809.3 L914.6,810.0 L916.2,810.8 L917.1,812.1 L918.6,812.9 L919.9,811.8 L919.0,813.3 L919.7,813.9 L920.2,815.6 M929.0,808.0 L930.3,807.5 L931.2,806.5 L932.8,806.5 L934.1,806.2 L935.0,805.0 L936.7,805.3 L938.3,805.9 L939.9,806.0 L939.3,807.1 L938.2,808.1 L937.5,809.2 L936.7,810.3 L937.0,812.0 L937.3,813.4 L937.0,814.7 L936.6,815.9 L936.1,817.1 L935.8,818.4 L935.8,819.7 L935.0,820.9 M950.0,808.5 L951.5,808.6 L952.7,809.4 L954.2,809.4 L955.7,809.6 L957.0,810.3 M964.0,813.8 L965.1,815.1 L966.3,816.3 L967.7,817.3 M962.0,825.0 L960.7,826.0 L959.2,826.8 L958.2,828.1 L957.5,829.3 L956.8,830.4 L956.0,831.5 L955.5,832.8 L954.7,833.9 L954.0,835.2 L953.7,836.7 L953.0,837.8 L954.6,837.5 L956.3,837.0 L957.7,836.8 L959.1,835.8 L960.3,834.7 L961.4,833.5 L962.5,831.8 L961.7,830.4 L961.1,829.0 L960.5,827.5 L960.0,826.0 M855.0,787.5 L856.3,788.3 L857.5,789.2 L858.2,790.6 L859.1,791.9 L860.4,792.7 M865.7,796.2 L866.8,797.0 L867.9,797.6 L869.2,798.0 M966.5,881.5 L965.0,881.2 L963.5,881.0 L962.0,881.0 L961.6,882.3 L961.4,883.7 L961.1,885.0 L961.9,886.5 L963.0,888.0 L964.5,887.8 L966.0,887.6 L967.5,887.5 M713.9,908.7 L713.0,909.8 L711.8,910.5 L710.3,910.8 L709.2,911.6 L708.2,912.6 L706.7,912.9 L705.4,913.4 L704.5,914.7 L703.3,915.4 L701.9,915.4 L700.6,915.4 L699.2,915.5 L698.1,916.4 L696.7,916.7 L695.4,916.9 L694.1,917.4 L693.1,917.9 L691.9,918.6 L690.6,919.3 L689.6,920.2 L688.3,920.8 L687.3,921.8 L686.0,922.4 L684.5,922.6 L683.2,923.4 L683.0,924.8 L682.3,926.2 L682.5,927.7 L682.1,929.2 L682.4,930.6 L682.1,932.0 L681.8,933.5 L681.8,934.9 L682.7,936.2 L682.4,937.7 L682.7,939.1 L682.9,940.5 L682.5,941.9 L683.0,943.3 L682.4,944.7 L682.6,946.2 L682.1,947.6 L681.9,949.0 L681.1,950.3" fill="none" stroke="#000" stroke-width="1.9" stroke-linejoin="round" stroke-linecap="round"/>
<path d="M283.0,0.0 L284.4,-0.4 L285.8,-0.3 L287.2,-0.4 L288.6,-0.2 L290.3,-0.1 L290.4,1.3 L290.9,2.5 L291.3,3.7 L291.6,5.0 L292.4,5.9 L292.0,7.3 L291.8,8.9 L290.9,10.1 L290.4,11.8 L288.9,11.3 L287.4,10.9 L286.0,10.0 L285.3,8.8 L284.7,7.5 L284.1,6.2 L283.5,5.0 M503.0,143.0 L504.3,143.0 L505.7,142.8 L506.7,142.6 L507.2,143.9 L508.3,144.8 L508.8,146.0 L507.5,146.9 L506.1,147.6 L505.3,148.5 L504.1,147.1 L502.8,146.1 L502.7,144.5 L503.0,143.0 Z M502.5,111.0 L504.2,111.5 L506.1,111.5 L506.6,112.7 L507.3,113.8 L507.8,115.1 L508.6,115.9 L507.9,117.1 L507.2,118.2 L507.1,119.6 L506.8,120.9 L506.1,121.9 L505.3,120.7 L504.0,120.0 L502.6,119.0 L503.0,117.7 L502.5,116.4 L502.5,115.0 L502.8,113.7 L502.9,112.3 L502.5,111.0 Z M542.0,111.2 L543.6,111.9 L545.3,111.7 L546.9,112.0 L547.7,113.2 L548.1,114.6 L548.4,116.1 L547.5,117.3 L546.3,118.4 L545.1,119.0 L543.8,117.7 L542.4,117.0 L542.4,115.5 L542.3,114.1 L541.8,112.7 L542.0,111.2 Z M593.7,254.8 L594.6,255.8 L595.9,256.3 L597.1,256.8 L598.2,257.6 L599.2,258.4 L600.5,258.9 L601.8,259.2 L603.0,259.7 L604.3,260.1 L604.3,258.7 L604.8,260.4 L605.2,261.1 L606.8,261.0 L607.8,261.8 L608.8,262.9 L610.1,263.1 L611.3,263.8 L612.4,264.4 L613.4,265.5 L614.7,265.6 L616.1,265.8 L617.1,266.8 L614.4,268.9 L617.6,267.1 L618.4,267.3 L619.3,268.5 L620.6,268.8 L622.1,269.1 L623.2,269.9 L624.6,270.2 L625.6,271.1 L627.0,271.5 L627.7,272.9 L629.2,273.7 L630.4,274.1 L628.9,274.3 L628.6,274.9 L627.5,275.8 L627.2,277.1 L626.5,278.6 L625.3,277.7 L624.0,277.1 L622.6,277.3 L621.4,276.4 L620.1,275.9 L618.6,276.0 L617.4,276.2 L616.2,277.0 L614.9,277.6 L613.4,277.8 L612.3,278.7 L610.9,279.2 L610.0,280.6 L609.5,281.7 L608.7,282.8 L607.7,283.8 L606.9,284.9 L606.6,286.2 L606.2,287.4 L606.2,288.9 L605.7,289.7 L604.7,288.7 L603.2,288.3 L602.2,287.3 L600.6,287.1 L599.4,286.4 L597.8,285.4 L598.2,283.9 L597.6,282.6 L597.8,281.2 L597.1,279.9 L596.7,278.6 L597.0,277.1 L597.0,275.7 L596.2,274.5 L596.2,273.0 L595.2,271.9 L594.7,270.6 L594.1,269.3 L593.5,268.1 L593.9,266.6 L594.4,265.3 L593.6,264.0 L594.1,262.7 L593.9,261.4 L594.2,260.0 L593.6,258.7 L593.2,257.4 L593.1,256.1 L593.7,254.8 Z M617.2,288.0 L618.8,287.7 L620.4,287.7 L621.9,287.7 L623.4,288.5 L624.4,289.7 L625.3,291.1 L626.1,291.8 L625.8,293.1 L625.3,294.3 L624.7,295.5 L624.7,296.9 L624.0,298.0 L624.1,299.1 L622.6,298.6 L621.2,297.7 L619.5,297.6 L617.7,297.0 L618.2,295.5 L617.6,294.0 L617.7,292.5 L617.9,291.0 L617.6,289.5 L617.2,288.0 Z M638.3,288.0 L640.2,288.2 L641.4,288.0 L642.8,288.9 L643.4,290.4 L644.2,291.8 L645.4,293.0 L645.2,294.4 L644.5,295.6 L644.4,297.0 L643.7,298.2 L643.1,299.2 L641.5,298.9 L640.0,298.3 L638.6,297.0 L638.9,295.5 L639.0,294.0 L638.6,292.5 L638.6,291.0 L638.9,289.5 L638.3,288.0 Z M859.3,325.3 L858.2,326.1 L858.0,327.7 L857.2,328.8 L855.7,329.4 L854.7,330.3 L854.0,331.4 L853.0,332.4 L852.3,333.7 L851.5,335.1 L851.0,336.5 L851.3,338.0 L851.5,339.5 L852.0,341.1 L850.9,342.4 L851.0,343.9 L851.2,345.4 L850.7,346.7 L849.6,347.8 L849.5,349.2 L849.6,350.6 L851.1,351.8 L849.4,351.2 L849.2,351.9 L849.1,353.3 L848.2,354.5 L847.1,355.5 L845.9,354.2 L846.8,356.0 L846.0,356.4 L845.6,357.8 L843.9,356.9 L845.3,358.3 L845.0,359.1 L844.0,360.1 L843.1,361.2 L842.3,362.4 L843.3,362.7 L842.0,362.9 L841.9,363.4 L840.6,363.9 L840.0,365.5 L838.7,366.1 L837.4,366.6 L836.3,367.5 L835.3,368.7 L834.0,369.3 L832.8,370.0 L831.0,368.6 L832.3,370.3 L831.8,371.1 L830.2,371.2 L829.2,372.3 L827.7,372.5 L828.3,374.8 L827.2,372.7 L826.6,373.4 L825.1,373.6 L826.6,375.0 L824.6,373.9 L824.2,374.8 L822.6,374.7 L820.7,373.0 L822.1,375.0 L821.7,375.8 L820.5,376.5 L819.6,377.5 L818.6,378.5 L817.6,379.5 L816.5,380.3 L815.0,380.4 L814.1,381.5 L812.5,381.6 L811.3,382.3 L812.1,384.7 L810.8,382.6 L810.3,383.4 L808.7,383.6 L811.1,384.9 L808.2,383.9 L807.9,384.9 L806.9,386.1 L806.2,386.5 L805.3,387.7 L803.9,387.4 L805.1,388.3 L803.9,388.8 L803.3,390.2 L804.8,390.2 L803.0,390.7 L802.5,391.5 L802.3,393.0 L801.4,394.4 L801.9,396.0 L801.6,397.4 L800.6,398.7 L798.9,397.8 L800.5,399.3 L800.6,400.2 L800.1,401.6 L800.8,403.2 L800.5,404.6 L800.4,406.1 L799.4,407.4 L799.8,409.0 L798.8,410.3 L799.2,411.9 L799.4,413.4 L799.5,415.1 L798.8,416.3 L798.5,417.6 L796.1,416.8 L798.3,418.1 L798.3,418.9 L796.8,419.8 L795.8,420.9 L795.1,422.0 L794.8,423.4 L794.9,424.8 L795.0,426.2 L794.3,427.4 L793.7,428.6 L792.9,429.8 L792.3,431.0 L792.5,432.4 L792.6,433.9 L794.1,434.8 L792.4,434.4 L792.7,435.1 L791.7,436.3 L793.6,436.3 L791.6,436.9 L790.8,437.5 L790.5,438.8 L790.7,440.2 L790.3,441.5 L790.9,442.9 L791.2,444.3 L791.1,445.6 L790.3,446.8 L790.0,448.2 L789.3,449.6 L789.8,451.2 L789.4,452.6 L789.0,453.9 L788.4,455.3 M790.1,457.0 L792.1,457.5 L790.3,456.4 L790.9,455.9 L791.0,454.5 L792.8,454.1 L791.2,453.9 L792.0,453.4 L791.7,451.9 L792.1,450.6 L792.3,449.2 L793.3,448.1 L794.0,446.9 L794.0,445.5 L793.8,444.1 L795.2,444.4 L794.0,443.5 L793.8,442.6 L794.3,441.3 L795.0,440.1 L795.0,438.7 L796.0,437.6 L796.8,436.4 L796.8,435.0 L798.0,434.0 L798.7,432.7 L799.1,431.4 L800.1,430.3 L799.8,428.6 L801.0,427.6 L800.9,426.0 L801.7,424.8 L802.9,423.8 L803.3,422.4 L803.7,421.0 L804.1,419.7 L805.3,418.7 L806.2,417.6 L806.7,416.3 L807.6,415.2 L808.1,413.9 L808.7,412.6 L809.2,411.3 L810.1,410.3 L810.7,409.1 L811.4,407.9 L811.9,406.6 L813.0,405.7 L813.5,404.3 L815.0,403.9 L815.5,402.5 L816.1,401.2 L817.8,400.9 L818.6,399.8 L819.3,398.6 L820.6,398.0 L821.8,397.0 L823.4,396.8 L824.7,396.1 L826.3,395.9 L827.4,394.4 L828.5,395.6 L829.9,393.8 L828.9,396.0 L829.5,396.7 L830.1,398.0 L830.1,399.4 L832.2,399.7 L830.3,400.0 L831.0,400.7 L832.0,401.8 L832.4,403.1 L832.2,404.5 L834.7,406.2 L831.9,405.0 L831.0,405.6 L830.1,406.8 L829.1,407.9 L829.1,409.8 L828.2,411.0 L826.9,411.6 L825.7,412.4 L824.4,413.0 L823.2,413.7 L820.7,411.2 L822.7,414.1 L822.3,415.0 L820.6,415.8 L818.8,416.5 M653.0,764.0 L654.4,763.5 L655.8,763.6 L657.2,763.2 L658.6,763.1 L660.0,762.9 L661.5,763.6 L662.7,764.6 L664.2,765.3 L665.5,765.9 L664.3,766.5 L663.4,767.6 L662.2,768.3 L661.0,768.9 L659.9,770.0 L658.6,769.2 L657.1,768.6 L655.5,768.5 L654.3,767.9 L653.6,766.7 L653.1,765.4 L653.0,764.0 Z M965.5,855.5 L966.2,857.0 M741.5,926.5 L742.5,927.5" fill="none" stroke="#000" stroke-width="2.0" stroke-linejoin="round" stroke-linecap="round"/>
<path d="M199.0,66.0 L200.6,65.9 L201.6,65.2 L202.4,66.4 L202.9,67.7 L204.1,68.6 L206.2,67.2 L204.4,69.2 L205.0,69.9 L205.0,71.3 L205.4,72.6 L205.2,74.0 L205.1,75.3 L205.8,76.6 L206.2,78.2 L205.7,79.4 L205.4,80.7 L204.6,81.9 L204.0,83.1 L204.0,84.5 L202.4,84.0 L202.3,84.7 L201.8,83.7 L200.8,83.0 L200.5,81.6 L200.4,80.2 L198.6,80.1 L200.3,79.6 L200.1,78.8 L201.3,79.1 L200.1,78.2 L199.8,77.5 L200.0,76.0 L199.5,74.5 L200.7,74.3 L199.4,73.9 L198.9,73.1 L198.4,71.6 L198.4,70.0 L198.3,68.6 L198.7,67.3 L199.9,67.6 L198.8,66.7 L199.0,66.0 Z M227.4,78.0 L226.7,79.4 L224.4,78.1 L226.6,80.0 L226.6,80.8 L226.2,82.2 L223.1,82.7 L226.2,82.8 L225.5,83.6 L225.5,85.1 L225.3,86.5 L226.1,88.1 L225.4,89.7 L222.4,91.5 L225.7,90.2 L225.7,91.1 L227.3,92.0 L227.7,93.4 L224.8,93.6 L227.9,93.9 L227.6,95.0 L228.9,96.0 L230.0,97.0 L231.1,98.1 L231.4,99.5 L231.6,101.0 L231.4,102.6 L231.6,104.2 L233.2,104.7 L230.9,105.9 L233.5,105.3 L234.1,105.8 L234.7,107.0 L237.0,104.2 L235.0,107.5 L235.4,108.1 L236.3,109.1 L237.2,110.1 L236.7,112.0 L238.1,112.7 L239.4,113.5 L239.9,114.9 L241.7,114.1 L240.2,115.4 L240.0,116.4 L238.7,117.0 L237.1,117.2 L235.9,118.0 L235.3,119.8 L234.0,119.9 L232.7,120.0 L231.6,121.1 L231.1,123.2 L231.0,121.2 L230.3,121.1 L228.7,121.5 L228.6,119.9 L227.5,118.8 L229.2,116.4 L227.2,118.3 L226.8,117.6 L225.6,116.8 L224.5,118.4 L225.1,116.5 L224.2,116.5 L223.0,115.9 L222.4,114.5 L220.9,114.3 L220.3,112.9 L219.1,112.5 L217.9,111.8 L216.4,111.7 L215.1,111.0 L214.2,109.5 L211.5,111.8 L213.6,109.3 L212.7,109.3 L211.5,109.1 L211.7,111.4 L210.9,109.0 L210.2,107.9 L208.9,107.9 L207.5,108.6 L206.3,111.4 L206.9,108.6 L206.2,108.6 L204.8,108.9 L203.5,108.3 L202.3,107.1 L200.9,107.3 L199.4,107.7 L198.0,107.7 L196.8,106.3 L195.4,106.5 L193.9,106.0 L192.5,106.0 L191.3,106.8 L190.0,107.2 L188.6,107.2 L190.2,108.7 L188.0,107.4 L186.8,108.0 L186.1,109.0 L185.9,110.6 L185.5,111.9 L184.9,113.2 L182.7,112.0 L184.5,113.6 L184.2,114.3 L182.5,114.8 L181.3,115.8 L180.9,117.2 L181.2,118.9 L180.2,120.0 L179.0,121.0 L179.5,122.8 L177.8,123.6 L177.4,125.0 L178.9,125.2 L177.2,125.5 L177.0,126.3 L178.6,127.9 L176.7,126.9 L176.5,127.7 L176.3,129.4 L175.0,130.7 L172.1,129.6 L174.8,131.2 L174.7,133.0 L176.2,131.4 L175.2,133.3 L176.0,133.5 L177.8,133.2 L178.6,130.5 L178.3,133.5 L179.1,133.8 L180.3,134.4 L179.3,135.9 L180.9,134.7 L181.3,135.8 L182.7,135.0 L184.0,135.3 L185.0,137.2 L184.6,135.3 L185.4,135.7 L186.7,134.7 L188.1,134.7 L189.4,135.0 L190.4,136.8 L190.0,135.0 L191.0,136.7 L189.8,137.1 L190.1,139.4 L189.2,137.2 L188.3,136.6 L186.8,136.1 L185.4,135.9 L184.3,136.9 L183.1,137.7 L183.8,139.8 L182.5,137.8 L181.7,137.8 L180.0,135.2 L181.2,137.9 L180.4,137.9 L179.0,137.8 L177.6,137.5 L176.2,138.5 L175.0,139.4 L174.0,140.5 L175.0,141.8 L173.6,141.0 L173.2,141.8 L171.7,142.4 L169.7,140.6 L171.3,142.8 L171.4,144.2 L170.3,145.2 L168.8,145.9 L168.1,147.1 L167.4,148.4 L166.9,149.9 L167.0,151.3 L164.0,152.9 L167.1,151.8 L168.3,152.3 L167.7,153.8 L168.5,155.0 L168.6,156.3 L169.5,157.3 L170.4,158.3 L171.1,159.5 L172.2,160.3 L172.6,161.7 L174.4,161.9 L177.1,159.6 L174.8,162.3 L175.1,163.1 L175.7,164.4 L176.3,165.7 L177.6,166.2 L178.2,167.5 L179.8,168.1 L180.6,169.3 L180.8,170.9 L182.0,171.9 L183.3,172.6 L185.5,169.6 L183.7,173.1 L183.9,174.0 L184.7,174.8 L186.2,175.7 L187.9,175.7 L187.5,173.8 L188.5,175.9 L189.3,176.9 M167.0,107.0 L168.7,107.3 L170.3,107.6 L171.7,108.1 L172.2,109.4 L172.6,110.7 L173.6,111.7 L174.1,113.0 L173.5,114.5 L173.0,116.0 L172.8,117.6 L171.9,119.2 L170.6,118.5 L169.5,117.4 L168.4,116.9 L167.7,115.7 L167.4,114.4 L166.8,113.3 L166.4,112.0 L166.3,110.3 L166.5,108.6 L167.0,107.0 Z M273.8,272.0 L274.1,273.9 L274.5,275.7 L275.1,277.4 L275.4,278.7 L275.2,280.6 L277.0,280.4 L275.0,281.2 L274.8,282.4 L274.3,284.2 L272.8,284.0 L274.1,284.8 L273.7,286.0 L274.4,287.7 L274.9,289.5 L276.1,291.1 L277.1,293.3 L276.7,295.1 L275.5,294.0 L276.6,295.7 L276.0,296.8 L275.0,298.5 L277.6,298.9 L274.8,299.0 L274.3,299.8 L275.1,301.5 L275.2,303.4 L275.4,305.3 L277.6,304.9 L275.6,305.9 L276.5,307.1 L275.9,308.9 L275.1,310.5 L275.2,312.5 L274.0,313.9 L274.2,315.8 L274.9,317.5 L273.6,318.2 L275.1,318.1 L275.8,319.2 L276.5,321.1 L277.8,322.4 L276.3,321.7 L276.3,323.0 L274.8,324.4 L274.6,326.3 L274.6,327.7 L275.4,329.4 L275.6,331.3 L275.9,333.1 L274.3,333.7 L276.1,333.7 L276.2,335.0 M278.3,269.0 L278.2,271.0 L277.1,271.8 L278.4,271.6 L279.5,272.5 L280.5,274.1 L281.7,274.0 L280.7,274.7 L280.3,275.9 L281.6,276.2 L280.1,276.4 L279.6,277.6 L277.8,276.9 L279.4,278.1 L278.9,279.3 L278.8,281.2 L277.6,283.2 L278.2,285.0 L279.1,286.6 L279.3,288.5 L281.0,290.1 L280.5,291.9 L279.1,293.4 L278.3,295.0 L276.7,293.9 L278.1,295.6 L278.7,296.9 L278.7,298.8 L279.7,300.4 L280.9,302.0 L280.8,304.0 L279.7,305.6 L279.8,307.6 L279.4,309.4 L278.7,310.9 L280.1,310.1 L278.9,311.4 L278.5,312.9 L279.5,314.5 L279.7,316.4 L280.4,317.9 L279.4,319.5 L279.8,321.6 L279.7,323.5 L278.9,324.8 L278.7,326.8 L277.3,327.4 L278.9,327.4 L279.0,328.7 L279.8,330.4 L277.8,332.1 L280.0,330.9 L279.9,331.7 L279.9,333.7 L278.8,335.3 L278.5,337.1 L278.3,339.0 M282.8,266.0 L284.2,266.4 L283.0,266.6 L283.7,267.6 L284.0,269.5 L282.4,269.1 L284.2,270.1 L284.8,271.2 L285.2,273.0 L284.0,274.6 L283.4,276.3 L283.3,278.2 L281.4,278.3 L283.1,278.8 L282.7,280.0 L283.5,281.7 L284.6,280.7 L283.7,282.3 L283.7,283.6 L285.6,282.1 L283.9,284.2 L283.8,285.5 L285.3,287.0 L284.1,288.6 L282.7,288.1 L284.0,289.2 L283.6,290.4 L282.5,291.9 L282.0,294.3 L283.2,295.8 L284.6,297.3 L286.1,296.8 L284.8,297.9 L284.6,299.2 L286.0,299.3 L284.8,299.8 L284.5,300.8 L284.4,302.7 L283.9,304.5 L283.2,306.2 L281.2,304.7 L283.0,306.7 L283.3,307.8 L280.8,308.0 L283.5,308.4 L284.2,309.5 L284.0,311.5 L285.3,313.0 L283.8,314.0 L285.5,313.6 L286.0,315.3 L284.6,316.7 L284.0,318.5 L283.4,320.2 L285.0,320.6 L283.2,320.8 L282.5,322.1 L282.6,324.0 L283.6,325.7 L285.0,327.1 L285.7,329.2 L284.7,330.8 L284.5,332.7 L282.8,331.8 L284.3,333.2 L283.1,334.1 L283.1,335.9 L283.6,337.7 L285.1,336.9 L283.8,338.3 L284.4,339.4 L283.1,339.2 L284.6,339.9 L285.3,341.0 L285.2,343.0 M287.3,269.0 L288.2,270.7 L289.8,269.6 L288.4,271.2 L288.0,272.7 L290.8,271.8 L288.2,273.2 L289.1,274.3 L289.7,276.0 L288.5,276.0 L289.5,276.6 L289.1,277.7 L288.8,279.6 L288.6,281.5 L287.9,282.8 L288.2,284.7 L286.4,286.1 L288.4,285.2 L288.0,286.7 L289.0,288.3 L290.5,288.0 L289.2,288.9 L290.2,290.2 L288.9,291.7 L287.0,290.4 L288.7,292.3 L288.1,293.4 L287.5,295.1 L287.4,297.0 L287.9,298.8 L288.1,300.7 L289.4,302.1 L287.4,301.7 L289.6,302.7 L289.4,303.9 L289.5,305.9 L289.0,307.7 L288.0,309.3 L287.9,310.8 L287.9,312.8 L289.1,314.3 L289.1,316.3 L289.7,318.0 L288.7,317.7 L289.5,318.6 L289.2,319.8 L288.9,321.6 L287.8,323.2 L287.4,325.0 L288.3,326.6 L290.1,325.0 L288.5,327.2 L289.2,328.3 L289.8,330.0 L289.4,331.9 L288.9,333.7 L287.3,333.6 L288.7,334.3 L287.7,335.2 L287.2,337.0 L289.2,338.3 L287.0,337.6 L287.3,339.0 L287.6,340.9 L285.8,340.6 L287.8,341.4 L287.9,342.7 L288.3,344.5 L289.7,346.0 M291.8,272.0 L292.6,273.7 L291.1,273.6 L292.8,274.2 L293.7,275.3 L293.8,277.2 L293.8,278.9 L293.2,280.6 L292.2,282.2 L290.7,281.9 L292.0,282.8 L291.3,283.9 L293.1,285.2 L291.1,284.5 L291.7,286.0 L292.6,287.7 L292.7,289.6 L293.3,291.4 L292.0,292.0 L293.5,291.9 L294.4,293.1 L292.4,292.1 L294.2,293.6 L293.2,294.6 L291.5,293.7 L293.0,295.2 L292.7,296.4 L292.8,298.4 L291.5,300.1 L293.0,301.6 L293.1,303.5 L294.0,305.1 L294.4,307.1 L295.8,308.2 L294.2,307.6 L293.2,308.6 L292.1,310.2 L291.8,312.0 L292.1,313.9 L292.5,315.7 L292.3,317.7 L293.7,319.2 L295.3,318.2 L293.9,319.8 L294.3,321.0 L293.1,322.6 L292.2,324.2 L291.5,326.0 L291.5,328.1 L292.1,329.9 L292.9,331.5 L292.9,333.5 L291.5,333.3 L293.0,334.1 L294.6,335.1 L293.0,334.1 L294.4,335.7 L293.3,336.7 L292.6,338.4 L292.5,340.3 L291.8,342.0 M296.3,275.0 L296.2,277.0 L296.6,278.8 L295.2,278.7 L296.8,279.4 L297.0,280.6 L298.3,281.9 L298.1,283.8 L299.5,284.3 L297.9,284.3 L297.2,285.4 L297.4,287.4 L296.1,289.1 L296.4,290.9 L297.1,292.7 L298.9,291.8 L297.3,293.2 L297.2,294.6 L297.7,295.7 L295.9,295.6 L297.5,296.2 L298.3,297.8 L297.4,299.5 L297.5,301.5 L296.6,302.9 L297.5,304.5 L297.9,306.4 L298.9,308.0 L300.5,307.2 L299.1,308.5 L298.9,310.1 L297.4,309.5 L298.7,310.6 L298.1,311.7 L298.1,313.7 L297.1,315.3 L295.8,317.2 L296.9,318.8 L297.9,320.4 L296.3,321.4 L298.1,320.9 L298.6,322.1 L299.1,324.1 L297.4,323.2 L298.9,324.7 L297.8,325.6 L297.5,327.5 L296.3,327.2 L297.4,328.1 L296.3,329.1 L295.0,329.2 L296.1,329.6 L295.6,331.2 L294.2,331.0 L295.8,331.8 L296.4,332.9 L296.5,334.8 L295.4,336.0 L296.7,335.4 L297.2,336.6 L298.7,338.0 M776.0,45.0 L775.9,46.3 L774.2,46.4 L776.0,46.9 L776.6,47.5 L776.3,48.8 L776.9,50.0 L777.6,51.1 L777.2,52.5 L777.3,53.7 L776.6,55.1 L778.7,55.2 L776.6,55.7 L777.6,56.2 L777.9,57.5 L778.0,58.7 L779.5,57.7 L778.1,59.3 L778.4,59.8 L777.3,59.7 L778.7,60.3 L779.2,60.8 L778.7,62.3 L776.6,64.3 L779.0,62.9 L779.9,63.1 L778.5,63.6 L780.2,63.6 L779.6,64.6 L777.0,64.6 L779.9,65.2 L779.8,65.9 L777.9,66.5 L780.1,66.4 L780.6,66.8 L782.2,66.3 L780.9,67.4 L781.0,68.0 L781.6,69.0 L782.7,68.9 L781.9,69.6 L782.3,70.1 L783.2,70.2 L782.6,70.6 L783.7,70.7 L785.8,69.7 L784.0,71.3 L783.7,72.1 L783.8,73.4 L784.6,74.4 L786.6,72.4 L784.8,74.9 L784.9,75.5 L787.3,74.3 L785.2,76.1 L785.4,76.6 L785.4,78.0 L786.3,78.9 L786.6,80.1 L787.8,80.9 L787.7,82.3 L788.6,83.1 L788.1,84.4 L789.5,85.4 L789.9,86.6 L792.1,85.1 L790.0,87.2 L790.6,87.7 L791.0,88.9 L791.4,90.1 L791.4,91.3 L793.9,90.1 L791.5,91.9 L791.0,92.7 L791.4,93.8 L790.8,95.2 L792.6,95.8 L790.9,95.8 L791.7,96.3 L791.3,97.6 L792.0,98.7 L790.1,99.8 L792.1,99.3 L792.0,100.0 L792.1,101.2 L791.6,102.4 L792.9,103.6 L791.4,103.6 L792.9,104.1 L792.8,104.8 L790.2,106.0 L792.8,105.4 L793.0,106.0 L792.0,107.2 L792.2,108.4 L793.9,108.8 L792.3,109.0 L793.5,109.5 L793.2,110.8 L792.8,112.1 L791.4,112.8 L793.1,112.6 L793.2,113.2 L793.4,114.5 L794.4,115.4 L795.9,114.7 L794.6,115.9 L795.6,116.1 L794.3,116.5 L795.8,116.6 L795.4,117.5 L795.9,118.6 L797.0,119.4 L798.9,119.1 L797.3,119.9 L797.5,120.5 L797.9,121.7 L796.6,121.7 L798.2,122.2 L798.3,122.8 L799.4,122.2 L798.6,123.3 L799.1,123.8 L800.3,124.5 L800.2,125.8 L801.4,124.2 L800.6,126.3 L801.1,126.7 L800.2,128.1 L801.5,127.2 L802.3,127.3 L803.1,128.2 L801.7,129.1 L803.5,128.7 L803.5,129.4 L801.1,131.2 L803.9,129.9 L804.8,130.0 L804.1,130.8 L805.2,130.4 L804.7,131.7 L805.3,132.8 L806.8,133.2 L807.5,131.4 L807.2,133.6 L807.1,134.5 L807.6,135.7 L809.5,134.4 L808.0,136.1 L809.0,136.1 L810.3,135.6 L809.4,136.5 L809.1,137.6 L808.3,139.1 L809.5,138.1 L810.9,137.7 L811.8,138.5 L813.4,137.8 L812.2,139.0 L812.2,139.8 L811.7,140.3 L812.6,140.2 L813.2,140.5 L814.4,141.1 L815.1,140.3 L814.9,141.5 L815.3,142.0 L815.4,143.6 L812.8,144.5 L815.8,144.0 L816.5,144.2 L816.7,145.8 L816.1,146.5 L817.1,146.2 L818.4,145.8 L816.2,147.2 L818.8,146.3 L819.4,146.6 L820.9,145.5 L819.8,147.0 L820.1,147.6 L820.9,148.6 L821.8,147.8 L821.4,149.0 L821.3,149.9 L821.9,151.1 L823.5,151.2 L824.1,152.4 L825.5,152.8 L823.4,153.8 L825.9,153.2 L826.6,153.5 L827.7,151.5 L827.0,154.0 L826.7,155.1 L828.1,155.6 L828.7,156.7 L830.1,155.9 L829.1,157.2 L830.0,157.4 L829.7,159.3 L830.2,160.5 L828.7,162.4 L830.6,160.9 L831.3,161.3 L832.7,161.7 L831.5,163.8 L833.1,162.2 L834.0,162.4 L835.0,161.4 L834.3,162.8 L834.0,164.0 M643.0,185.0 L641.6,186.4 L643.6,185.2 L644.4,184.8 L645.5,185.6 L646.4,186.7 L647.1,185.6 L647.0,186.9 L647.7,186.9 L649.0,187.1 L648.8,185.6 L649.5,187.3 L649.9,188.2 L649.5,189.8 L650.5,188.4 L651.2,188.4 L651.6,186.3 L651.8,188.6 L652.3,189.1 L652.9,187.8 L652.8,189.4 L653.4,189.8 L654.6,190.2 L654.4,192.0 L655.1,190.4 L656.1,189.6 L654.5,191.7 L656.7,189.7 L657.3,189.8 L658.6,189.6 L659.7,190.7 L661.1,190.1 L662.2,191.1 L663.4,189.2 L662.7,191.3 L663.3,191.9 L663.2,193.5 L663.9,192.0 L664.4,192.7 L664.8,190.7 L665.0,192.9 L665.8,192.1 L667.1,191.7 L668.5,191.5 L669.8,189.4 L669.1,191.6 L669.5,192.5 L670.8,192.3 L669.6,194.2 L671.4,192.5 L672.1,192.4 L671.9,190.5 L672.7,192.5 L673.2,193.4 L674.5,193.5 L675.6,194.4 L675.2,193.0 L676.1,194.5 L676.7,195.1 L676.0,192.9 L677.3,195.3 L678.2,194.1 L679.4,194.3 L680.5,195.0 L682.3,192.4 L681.1,195.1 L681.7,195.8 L683.0,195.5 L682.2,193.3 L683.6,195.6 L684.3,195.3 L683.8,193.3 L684.9,195.5 L685.5,195.7 L685.7,197.6 L686.1,195.8 L686.8,195.5 L688.3,195.2 L689.7,192.8 L688.8,195.4 L689.3,196.1 L687.6,198.2 L689.9,196.3 L690.7,195.8 L692.0,196.0 L693.0,197.1 L693.8,198.5 L695.3,198.0 L696.5,198.4 L697.6,199.3 L697.5,200.7 L698.1,199.5 L698.5,200.5 L700.0,200.0 M596.0,195.0 L595.8,196.5 L597.1,197.5 L597.2,198.9 L597.8,200.1 L596.3,199.8 L598.0,200.6 L598.8,201.1 L597.7,201.1 L599.0,201.7 L599.2,202.4 L598.8,204.0 L599.9,203.4 L599.0,204.6 L599.7,205.1 L598.2,206.3 L600.0,205.7 L601.0,205.9 L601.2,207.2 L599.8,207.9 L601.5,207.7 L602.1,208.1 L603.9,206.5 L602.4,208.6 L603.0,209.1 L603.9,210.0 L601.9,211.6 L604.2,210.5 L604.1,211.3 L604.5,212.5 L606.4,211.8 L604.8,213.0 L604.7,213.8 L604.5,215.1 L604.2,216.4 L605.6,217.3 L606.1,218.5 L605.5,219.9 L606.7,220.8 L607.5,221.9 L606.8,223.3 L606.7,224.6 L607.4,225.6 L607.5,226.9 L607.4,227.9 L607.0,229.1 L608.1,230.5 L608.4,231.8 L610.8,233.3 L608.3,232.4 L607.3,232.8 L606.0,232.3 L607.2,233.4 L606.7,234.0 L607.0,235.2 L606.3,236.3 L605.5,237.5 L607.5,238.0 L605.4,238.0 L606.2,238.8 L606.0,240.0 M626.6,210.3 L627.8,209.5 L629.3,209.0 L630.6,208.4 L632.0,208.0 L632.9,209.2 L634.3,209.8 L635.6,210.6 L636.8,211.4 L637.6,212.7 L638.1,214.0 L638.1,215.3 L638.2,216.7 L638.1,218.0 L637.6,219.3 L637.2,220.6 L636.7,221.8 L635.9,223.0 L636.2,223.8 L634.7,223.7 L633.3,223.8 L632.1,222.9 L630.7,222.8 L629.3,222.4 L628.4,222.0 L628.4,220.6 L628.4,219.3 L627.5,218.1 L627.5,216.8 L626.8,215.5 L626.8,214.2 L626.5,212.9 L626.9,211.6 L626.6,210.3 Z M638.3,245.5 L639.8,245.4 L641.4,246.0 L642.9,245.6 L644.5,245.3 L646.5,245.5 L647.3,246.8 L648.0,248.1 L648.9,249.3 L650.2,250.0 L651.4,250.8 L652.1,251.9 L651.5,253.2 L651.3,254.7 L650.8,256.1 L649.5,257.1 L648.5,258.1 L648.1,259.2 L646.8,258.6 L645.4,258.8 L644.1,258.2 L642.8,257.8 L641.4,257.9 L639.7,258.0 L640.1,256.6 L639.7,255.2 L639.6,253.8 L639.3,252.4 L639.0,251.1 L639.2,249.6 L638.3,248.3 L638.8,246.8 L638.3,245.5 Z M572.0,290.0 L570.3,290.1 L569.1,288.7 L568.5,290.4 L568.5,288.6 L567.5,288.4 L566.3,287.2 L566.0,285.6 L565.7,287.0 L564.5,287.5 L563.2,286.5 L561.8,285.5 L560.2,284.8 L559.9,286.6 L559.6,284.7 L558.5,285.0 L556.6,285.7 L555.0,285.0 M861.0,315.2 L861.9,316.3 L861.6,317.8 L862.3,319.0 L862.5,320.3 L860.4,320.1 L862.7,320.9 L862.4,321.8 L863.1,322.9 L863.5,324.2 L864.0,325.4 L865.8,325.4 L864.2,326.0 L864.2,326.6 L864.0,328.0 L864.9,329.0 L863.1,330.4 L865.1,329.6 L865.6,330.1 L866.1,331.2 L866.8,332.3 L867.6,333.3 L869.7,332.2 L867.8,333.9 L867.8,334.5 L867.9,335.8 L867.5,337.2 L867.6,338.5 L867.7,339.7 L868.2,340.9 L868.1,342.2 L868.4,343.5 L868.5,344.7 L869.8,345.7 L872.4,345.5 L869.9,346.3 L869.7,347.0 L870.1,348.3 L871.0,349.3 L871.3,350.6 L871.1,351.9 L871.5,353.1 L871.3,354.5 L871.8,355.6 L874.1,353.8 L871.9,356.2 L872.2,356.9 L874.3,355.1 L872.3,357.4 L872.0,358.2 L872.2,359.5 L873.8,360.4 L874.1,361.6 L874.8,362.7 L874.1,364.2 L875.5,365.2 L872.9,364.7 L875.7,365.7 L876.2,366.4 L879.2,366.7 L876.4,366.9 L876.7,367.6 L876.3,369.2 L876.8,370.4 L876.7,371.9 L877.8,372.9 L877.9,374.3 L879.1,375.4 L879.8,376.8 L881.9,378.3 L880.9,375.8 L882.4,378.0 L882.4,376.8 L884.7,379.0 L882.9,376.4 L883.0,375.4 L881.8,373.5 L883.4,375.0 L884.5,375.1 L883.9,372.8 L884.9,374.7 L885.3,374.1 L886.2,373.0 L887.8,374.7 L886.7,372.6 L887.4,372.3 L888.3,371.3 L888.8,372.4 L888.8,370.9 L889.2,370.4 L890.2,369.5 L891.0,368.5 L892.6,368.2 L891.1,366.3 L893.0,367.7 L893.4,367.1 L893.9,365.7 L891.8,363.9 L894.3,365.3 L894.7,364.7 L893.3,362.2 L895.2,364.2 L896.0,364.1 L897.6,363.8 L899.1,364.6 L898.0,363.3 L898.5,362.9 L899.0,361.6 L900.1,361.1 L901.3,360.7 L902.2,359.9 L900.7,358.0 L902.7,359.5 L902.8,358.6 L903.7,357.8 L902.5,356.6 L904.2,357.5 L905.0,356.9 L906.2,357.9 L907.7,357.3 L909.1,357.7 L910.2,358.8 L911.1,358.7 L912.0,357.8 L912.8,356.9 L913.7,356.0 L914.3,355.0 L915.0,354.0 L916.3,353.6 L917.2,352.5 L918.8,353.1 L919.9,352.2 L917.8,350.1 L920.5,352.0 L921.2,351.8 L922.4,351.4 L922.6,349.2 L923.0,351.1 L923.5,350.7 L922.8,349.1 L924.0,350.3 L924.8,349.9 L926.2,349.6 L927.5,348.9 L927.2,347.3 L928.0,348.6 L928.5,347.9 L929.6,347.1 L928.1,345.6 L930.1,346.7 L931.0,345.3 L929.6,344.4 L928.6,343.4 L928.8,342.0 L928.5,340.6 L928.2,339.4 L926.2,340.2 L928.0,338.8 L927.6,338.2 L926.6,337.6 L926.3,340.6 L926.0,337.3 L925.3,337.4 L924.6,336.0 L925.3,333.8 L924.0,335.7 L923.4,335.6 L924.7,334.1 L922.8,335.4 L922.0,335.5 L922.6,334.1 L921.5,335.2 L921.2,334.5 L919.9,334.1 L919.2,332.7 L918.2,332.0 L917.3,334.6 L917.7,331.7 L916.6,332.3 L915.2,332.2 L914.6,330.7 L913.4,330.3 L912.4,329.5 L912.2,331.5 L911.8,329.2 L911.3,328.8 L909.8,329.0 L908.4,328.9 L907.6,327.8 L906.7,326.6 L905.6,325.7 L905.7,322.8 L905.0,325.6 L904.3,325.8 L903.1,325.7 L901.8,325.5 L900.7,324.8 L899.9,321.7 L900.1,324.7 L899.4,325.1 L897.8,324.8 L897.0,325.8 L896.4,327.2 L895.3,327.7 L894.0,328.0 L893.1,324.8 L893.5,328.3 L892.8,328.5 L891.4,328.4 L892.6,329.6 L890.9,328.7 L890.3,329.0 L889.8,330.5 L888.5,330.8 L887.8,332.1 L886.7,329.8 L887.2,332.4 L886.2,331.9 L884.9,332.1 L882.9,329.7 L884.4,332.3 L884.0,333.0 L883.0,333.6 L881.6,334.3 L881.1,336.0 L881.0,334.3 L880.3,333.4 L878.9,333.5 L877.6,334.4 L875.5,334.3 L874.6,333.5 L874.3,332.2 L873.4,331.3 L875.6,331.0 L873.1,330.9 L873.6,329.7 L874.3,329.2 L873.2,329.2 L872.5,329.0 L872.1,327.8 L871.4,326.8 L870.9,325.7 L870.8,324.3 L869.1,323.9 L871.4,321.7 L868.8,323.4 L868.8,322.7 L868.1,321.7 L867.6,320.5 L867.5,319.2 L865.9,319.9 L867.2,318.7 L866.4,318.2 L863.8,319.6 L865.9,317.8 L865.2,317.8 L864.5,316.6 L863.6,315.8 L861.9,316.1 L861.0,315.2 Z M827.3,411.4 L828.3,410.1 L829.9,409.9 L830.5,412.4 L830.4,409.6 L831.1,409.0 L832.9,409.2 L834.2,407.9 L835.4,408.7 L836.0,410.1 L836.5,411.5 L836.8,413.0 L837.8,414.0 L839.2,412.5 L838.2,414.5 L839.0,415.2 L840.4,415.5 L841.8,416.2 L841.8,415.0 L842.4,416.4 L843.0,417.3 L844.5,417.6 L844.7,419.1 L845.0,417.8 L846.1,417.5 L847.4,418.3 L848.8,419.0 L850.1,419.7 L851.5,420.2 L851.8,421.6 L852.1,420.4 L853.3,419.8 L854.6,420.7 L856.0,421.7 L855.7,420.2 L856.5,421.5 L857.2,421.2 L857.7,422.4 L857.7,421.0 L858.6,421.3 L859.8,422.5 L859.2,421.1 L859.7,420.5 L860.7,419.4 L862.1,419.4 L862.0,421.8 L862.6,419.1 L863.5,419.3 L864.5,418.7 L862.8,416.7 L865.1,418.5 L865.7,417.5 L867.2,417.9 L868.6,418.1 L866.8,415.5 L869.2,417.9 L869.8,417.1 L871.3,416.4 L872.7,416.0 L871.6,416.9 L872.1,417.6 L873.1,418.8 L873.3,420.5 L874.5,421.6 L873.8,420.0 L874.0,421.8 L873.1,421.8 L871.6,422.0 L870.6,422.9 L869.2,423.3 L867.9,423.7 L866.8,424.5 L866.9,422.5 L866.2,424.8 L865.8,425.2 L866.9,427.1 L865.2,425.4 L864.7,426.6 L863.2,426.2 L862.0,426.8 L863.0,428.1 L861.4,427.0 L860.8,428.0 L859.5,428.2 L857.9,428.8 L857.0,430.0 L857.3,428.6 L856.6,427.6 L855.2,427.2 L854.4,425.2 L854.6,427.1 L853.7,427.2 L852.4,426.7 L852.1,427.9 L851.8,426.5 L850.8,426.5 L849.6,427.1 L848.8,428.2 L847.8,429.0 L847.0,426.9 L847.3,429.4 L847.2,430.3 L845.8,430.9 L843.8,429.2 L845.5,431.4 L845.0,432.0 L844.5,433.3 L844.3,434.7 L843.9,436.0 L843.6,437.4 L842.0,438.0 M874.5,393.0 L874.8,390.7 L875.1,393.0 L875.9,392.6 L877.2,392.5 L876.9,394.1 L877.8,392.5 L878.6,392.5 L880.0,392.9 L881.2,393.5 L881.9,391.5 L881.6,393.9 L881.7,394.9 L882.7,395.8 L883.8,396.5 L884.9,397.3 L883.5,397.8 L885.3,397.7 L885.8,398.2 L884.0,400.2 L886.2,398.7 L887.1,398.9 L887.6,400.2 L889.0,400.7 L890.0,400.2 L889.4,401.1 L889.3,402.2 L890.0,403.4 L891.3,401.6 L890.4,403.9 L891.3,404.0 L890.5,405.1 L890.5,406.6 L889.8,407.8 L889.2,409.0 L888.6,410.2 L887.9,411.8 L886.7,413.0 L887.3,411.5 L886.5,410.8 L886.2,409.3 L886.0,410.5 L884.8,410.6 L883.6,409.5 L882.8,410.8 L883.0,409.2 L881.7,409.2 L881.4,407.8 L880.0,407.3 L879.0,406.4 L878.2,405.4 L877.2,404.5 L876.5,403.1 L875.0,404.2 L876.4,402.5 L875.9,401.8 L875.7,400.3 L877.2,400.2 L875.6,399.7 L876.0,398.7 L875.2,397.4 L875.5,395.8 L873.9,395.5 L875.4,395.2 L875.4,394.3 L876.7,394.2 L875.3,393.7 L874.5,393.0 Z M850.9,426.6 L852.0,427.4 L852.9,428.4 L853.4,429.8 L854.7,430.4 L854.0,430.9 L855.1,430.9 L855.9,431.2 L856.9,432.1 L857.3,433.2 L857.0,434.5 L855.9,434.8 L856.8,435.1 L856.1,435.6 L854.4,436.1 L855.9,436.2 L856.7,437.2 L856.7,438.6 L856.2,439.9 L855.6,441.1 L854.6,441.3 L855.4,441.7 L855.7,442.5 L855.0,443.6 L856.6,443.2 L854.8,444.2 L854.5,445.0 L854.0,446.4 L853.1,447.6 L852.6,449.0 L852.2,450.4 L850.1,450.5 L852.1,450.9 L852.4,452.0 L853.5,453.0 L852.4,453.3 L853.7,453.6 L854.1,454.2 L854.1,455.6 L856.7,455.8 L854.3,456.2 L854.8,456.8 L855.1,458.1 L855.9,459.2 L856.5,460.4 L856.5,460.8 L855.3,461.9 L857.0,461.1 L857.8,461.6 L858.8,463.2 L860.4,463.1 L861.6,464.4 L862.7,462.0 L862.1,464.6 L862.8,465.3 L864.5,465.5 L863.6,465.2 L864.8,465.0 L865.9,464.8 L866.7,463.6 L867.4,462.4 L865.9,461.2 L867.8,461.9 L868.0,461.0 L868.3,459.5 L868.6,458.6 L870.4,459.6 L868.6,458.0 L869.8,457.3 L869.1,456.0 L871.3,454.9 L869.1,455.4 L868.6,454.7 L869.7,453.4 L869.3,452.0 L870.9,452.2 L869.3,451.4 L868.9,450.7 L867.2,450.1 L868.9,450.1 L870.0,449.4 L869.1,448.1 L869.1,446.6 L869.4,445.1 L870.9,446.3 L869.7,444.6 L870.6,444.2 L870.9,442.7 L871.4,441.4 L872.1,440.2 L872.8,439.0 L874.8,440.3 L873.1,438.5 L874.6,438.5 L875.9,437.7 L876.2,436.3 L876.8,435.1 L877.6,434.0 L880.1,434.9 L877.9,433.5 L878.1,432.7 L878.3,431.2 L880.0,430.7 L880.8,429.6 L882.0,428.7 L882.0,427.2 L883.0,426.2 L883.5,424.9 L883.7,423.4 L886.6,423.6 L884.1,422.9 L885.0,422.6 L885.3,421.2 L883.5,419.2 L885.7,420.7 L886.9,420.6 L886.9,419.0 L887.7,418.4 L887.0,416.8 L888.3,415.4 L886.6,416.4 L885.5,416.2 L887.1,413.8 L885.1,415.7 L884.6,414.8 M594.1,518.0 L594.5,516.7 L593.8,515.6 L594.9,516.2 L595.1,515.6 L596.7,515.5 L597.9,514.9 L598.6,514.0 L599.3,513.0 L599.9,511.9 L600.6,510.9 L601.9,510.5 L602.3,509.2 L603.4,508.5 L604.2,507.6 L605.8,509.4 L604.6,507.2 L604.9,506.6 L605.6,505.6 L606.1,504.4 L606.8,503.4 L607.6,502.5 L609.3,502.4 L607.9,501.6 L609.7,502.0 L610.6,502.0 L610.7,500.5 L611.2,501.9 L611.2,500.0 L611.8,499.7 L610.6,498.4 L612.3,499.3 L612.6,498.7 L613.5,498.0 L615.2,498.2 L616.3,497.7 L616.9,496.5 L615.4,494.8 L617.4,496.2 L617.9,495.8 L619.1,495.3 L620.2,495.1 L621.2,494.0 L621.9,492.8 L621.6,491.3 L622.3,490.2 L623.5,489.5 L625.0,490.2 L623.9,489.0 L623.5,487.8 L624.7,487.1 L625.1,485.8 L625.5,484.3 L626.8,483.9 L625.5,481.6 L627.4,483.7 L628.0,483.4 L629.4,483.2 L630.4,482.3 L631.6,481.7 L632.8,480.7 L634.1,480.7 L634.9,478.6 L634.7,480.8 L635.5,480.5 L636.8,480.8 L638.2,481.1 L639.4,482.0 L640.7,481.9 L642.0,482.3 L643.3,482.9 L643.8,484.2 L644.3,485.4 L645.2,486.2 L645.9,487.3 L647.4,487.6 L648.6,486.8 L647.8,488.0 L648.1,488.6 L649.7,488.8 L649.0,490.4 L650.1,489.2 L650.2,490.3 L651.5,489.8 L652.7,490.1 L654.0,489.9 L655.1,490.4 L656.1,491.3 L657.2,491.8 L658.6,492.1 L659.9,492.8 L661.1,493.6 L662.5,493.4 L663.0,494.6 L664.1,495.6 L664.4,496.9 L664.7,498.2 L665.1,499.4 L666.6,500.1 L667.1,501.2 L667.6,502.4 L668.8,501.5 L668.0,502.9 L667.6,504.0 L668.9,504.6 L669.6,505.8 L670.3,506.9 L671.9,506.9 L672.4,508.3 L673.3,509.3 L674.9,509.2 M594.1,518.0 L595.4,517.6 L596.9,517.8 L598.0,516.7 L599.3,516.6 L600.6,517.2 L601.3,518.6 L601.2,517.2 L601.9,516.8 L603.3,516.3 L604.6,517.0 L603.8,519.1 L605.2,517.0 L605.9,516.6 L607.2,515.8 L608.6,515.6 L609.7,515.2 L611.2,515.7 L612.5,515.9 L613.9,515.9 L615.3,516.0 L616.5,515.6 L617.9,515.7 L619.2,515.7 L620.6,514.7 L621.0,513.3 L620.0,512.1 L621.5,512.9 L621.7,512.1 L623.5,512.0 L623.7,510.4 L624.4,509.3 L625.8,508.8 L627.2,508.2 L628.2,509.4 L627.7,507.8 L628.5,507.5 L629.6,506.6 L629.8,504.8 L631.2,504.2 L631.9,502.9 L632.6,502.1 L633.4,503.2 L632.9,504.6 L634.3,505.5 L634.7,506.7 L634.3,508.3 L635.0,509.6 L635.8,510.8 L637.3,511.2 L638.7,511.8 L639.9,513.3 L639.4,515.3 L640.5,513.2 L641.2,512.9 L642.4,512.2 L643.6,511.5 L644.9,511.0 L646.4,511.8 L647.6,511.1 L648.9,510.6 L650.1,510.5 L651.5,510.6 L652.6,510.1 L654.0,510.2 L655.3,510.4 L656.2,509.1 L657.1,508.0 L655.9,505.7 L657.7,507.8 L658.6,508.5 L659.6,507.4 L659.4,506.4 L660.1,507.2 L660.9,507.4 L662.3,507.1 L663.5,507.2 L664.7,507.8 L665.8,509.0 L666.6,507.7 L666.4,509.1 L667.1,508.8 L668.3,509.4 L668.6,507.8 L668.9,509.5 L669.6,509.3 L670.9,509.7 L672.0,510.8 L673.3,511.5 L674.9,511.0 M666.0,513.0 L667.0,513.8 L668.1,514.4 L669.2,515.0 L670.5,512.7 L669.7,515.4 L670.0,516.0 L671.2,516.7 L671.4,518.0 M648.6,523.3 L648.6,524.6 L646.8,523.1 L648.4,525.2 L648.5,525.9 L647.7,526.9 L647.7,528.2 L647.5,529.4 L646.0,530.2 L647.9,531.3 L645.9,530.8 L645.6,531.4 L645.3,532.6 L644.4,533.9 L644.6,535.2 L645.3,536.4 L645.5,537.6 L645.8,538.9 L646.0,540.1 L648.3,539.9 L646.2,540.7 L646.2,541.4 L647.3,542.5 L647.2,543.8 L647.3,545.0 L647.8,546.2 L648.4,547.4 L648.1,548.7 L648.4,549.9 L648.2,551.2 L647.7,552.5 L648.2,553.7 L648.3,554.9 L646.7,555.9 L648.4,555.5 L648.5,556.3 L647.3,556.4 L648.6,556.9 L648.4,557.7 L649.6,558.8 L649.9,560.1 L650.4,561.4 L650.2,562.8 L650.5,564.1 L652.4,564.2 L650.6,564.7 L650.2,565.5 L650.8,566.8 L651.3,568.0 L651.3,569.5 L652.1,570.6 L652.6,571.8 L653.0,573.2 L653.1,574.7 L654.0,575.7 L654.3,577.0 L655.2,577.9 L656.2,578.8 L657.1,579.8 L657.9,580.8 L657.9,582.2 L659.1,582.9 L660.6,583.2 L661.9,582.7 L663.3,582.4 L664.1,581.3 L662.3,581.3 L664.2,580.7 L664.3,580.0 L665.0,578.9 L663.8,578.5 L665.1,578.3 L664.5,577.6 L665.0,576.4 L665.3,575.2 L664.9,573.8 L665.9,572.7 L665.5,571.4 L665.7,570.2 L666.6,568.8 L666.6,567.5 L665.8,566.5 L665.8,565.2 L664.4,564.3 L664.5,563.0 L664.2,561.8 L663.6,560.7 L663.1,559.5 L662.1,558.5 L662.2,557.2 L661.8,555.9 L662.2,554.6 L661.3,553.4 L660.9,552.2 L661.3,550.8 L661.6,549.5 L661.6,548.2 L661.9,546.9 L662.0,545.6 L661.6,544.5 L661.0,543.1 L660.8,541.7 L660.6,540.3 L662.1,540.0 L660.7,539.7 L661.2,539.0 L661.8,537.7 L662.3,536.5 L663.7,536.0 L662.4,535.9 L662.1,535.1 L663.5,535.9 L662.2,534.5 L662.6,533.8 L661.3,532.8 L662.9,533.3 L663.1,532.6 L664.3,531.7 L664.8,530.5 L664.0,530.4 L665.1,530.0 L665.8,529.5 L665.9,528.1 L666.7,527.4 L667.5,526.5 L668.0,525.2 L668.9,524.3 L670.2,525.2 L669.3,523.9 L669.4,523.0 L670.3,522.1 L671.1,520.9 L672.3,520.4 L673.5,519.9 L675.0,520.0 L675.9,521.3 L675.6,519.8 L676.4,519.9 L677.4,518.9 L678.6,517.6 L679.5,518.8 L679.6,517.6 L680.0,519.1 L680.9,518.9 L682.2,519.3 L682.9,520.8 L684.0,521.5 L685.0,521.7 L686.8,522.1 L685.2,522.2 L685.2,523.1 L685.7,524.3 L686.0,525.7 L687.6,526.5 L688.7,527.5 L688.4,529.1 L688.9,530.3 L689.3,531.5 L689.0,532.8 L687.5,532.6 L689.2,533.3 L689.6,533.9 L690.4,534.9 L690.0,536.2 L690.3,537.0 L689.9,538.3 L688.8,539.1 L688.5,540.4 L687.6,541.3 L687.3,542.3 L688.7,542.5 L689.9,543.2 L690.0,543.9 L690.7,545.0 L690.3,543.4 L691.3,543.3 L691.8,542.1 L692.6,543.0 L692.2,541.6 L692.3,540.9 L693.8,540.4 L695.3,541.6 L694.2,539.9 L694.1,539.1 L695.0,539.6 L694.5,538.6 L695.0,538.1 L696.4,536.7 L697.3,537.6 L698.2,538.7 L699.0,539.8 L700.1,540.3 L698.9,541.6 L700.6,540.7 L701.2,541.0 L701.3,542.3 L702.3,543.4 L703.3,544.4 L703.5,545.8 L703.5,547.2 L704.7,548.2 L704.8,549.6 L703.4,549.9 L705.0,550.2 L704.8,551.1 L705.4,552.4 L706.1,553.6 L706.6,554.9 L706.4,556.3 L705.1,555.1 L706.1,556.8 L705.8,557.5 L704.1,556.1 L705.6,558.0 L705.3,558.7 L704.1,559.6 L703.3,560.7 L702.5,561.8 L702.7,563.3 L702.5,564.7 L701.9,565.9 L701.0,567.0 M648.6,523.3 L649.8,522.5 L650.9,521.7 L652.4,521.7 L653.7,521.4 L655.1,521.2 L656.4,521.1 L657.4,520.2 L658.7,519.9 L659.9,519.5 L659.4,518.5 L660.4,519.2 L661.1,519.1 L662.0,517.9 L663.3,518.4 L664.7,518.6 L666.0,518.3 L667.4,518.0 L668.7,517.8 L670.1,518.4 L671.4,518.0 M706.6,554.9 L706.4,553.6 L706.3,552.4 L707.4,551.4 L708.3,550.4 L708.9,549.3 L709.0,548.0 L709.3,546.8 L709.5,545.5 L711.2,546.7 L709.6,544.9 L709.4,544.2 L709.3,542.9 L709.5,541.6 L711.0,541.5 L709.6,541.0 L710.4,540.5 L709.9,539.1 L710.4,537.9 L710.9,536.7 L709.1,536.9 L711.0,536.1 L711.1,535.4 L711.2,534.1 L711.2,532.8 L711.9,531.6 L711.5,530.4 L711.2,529.2 L711.6,527.9 L710.6,526.9 L708.8,527.6 L710.4,526.3 L710.1,525.8 L709.6,524.7 L707.4,524.0 L709.5,524.1 L709.8,523.4 L708.2,524.5 L709.5,522.9 L709.9,521.9 L709.4,520.7 L708.6,519.6 L707.8,518.6 L706.6,519.6 L707.5,518.0 L707.6,517.2 L706.7,516.1 L706.2,514.8 L705.4,513.6 L704.2,512.6 L703.6,511.3 L705.1,510.6 L703.3,510.8 L702.9,510.7 L701.5,510.8 L700.2,510.0 L698.8,509.1 L697.4,509.5 L698.0,508.1 L696.8,509.4 L696.1,509.7 L694.8,510.0 L693.4,509.8 L692.1,510.3 L690.7,510.0 L689.3,509.6 L688.0,509.7 L686.7,510.0 L687.6,511.3 L686.1,510.1 L685.3,510.6 L683.9,510.6 L682.8,511.6 L681.4,511.7 L680.4,512.7 L679.3,513.6 L678.9,515.9 L678.7,513.8 L677.7,513.4 L676.9,511.3 L677.2,513.8 L676.8,514.5 L676.0,515.7 L675.3,515.0 L675.5,516.0 L675.0,516.5 L673.4,516.4 L672.4,517.2 L671.4,518.0 M703.0,505.7 L704.3,506.3 L705.7,506.1 L707.0,506.4 L708.3,506.5 L709.7,506.6 L710.9,507.3 L712.1,508.0 L713.0,508.2 L714.7,508.1 L715.0,506.1 L715.2,508.5 L715.8,508.8 L716.8,509.4 L717.6,510.5 L719.0,510.7 L719.9,511.5 L720.3,512.9 L721.4,513.8 L722.1,514.9 L722.4,516.2 L723.6,516.1 L722.6,516.8 L723.1,517.3 L724.0,518.4 L724.0,519.7 L723.3,520.8 L722.2,521.4 L721.5,522.4 L721.0,522.8 L719.7,522.4 L718.9,521.4 L717.6,521.0 L716.6,521.8 L717.1,520.6 L716.7,520.2 L715.2,520.0 L714.7,518.6 L713.9,517.6 L713.4,518.4 L713.4,517.2 L712.8,516.8 L711.6,516.0 L710.1,515.8 L708.8,515.2 L708.0,514.0 M703.0,562.0 L701.9,560.5 L703.5,561.7 L704.1,561.3 L705.2,560.4 L706.6,560.4 L707.8,559.8 L708.9,558.9 L709.9,558.1 L710.8,557.2 L712.1,556.9 L711.2,555.3 L712.6,556.5 L713.4,556.5 L714.5,556.0 L715.3,554.8 L716.2,553.9 L717.3,553.3 L718.7,553.1 L720.0,552.8 L720.8,551.8 L719.5,550.2 L721.4,551.6 L721.7,550.6 L723.1,550.6 L722.7,548.8 L723.7,550.3 L724.0,549.3 L725.3,549.1 L725.0,547.4 L725.9,548.8 L726.7,548.8 L727.8,548.2 L728.8,547.1 L728.6,549.2 L729.3,546.9 L729.9,546.5 L730.6,548.1 L730.5,546.2 L730.8,545.6 L732.2,545.3 L733.4,544.9 L734.4,544.1 L735.3,543.2 L736.0,542.1 L737.1,541.5 L738.1,540.8 L739.2,540.1 L739.7,538.8 L741.1,538.5 L741.5,537.2 L740.9,538.4 L740.8,539.8 L740.7,541.3 L740.1,542.5 L739.2,543.6 L738.3,544.7 L738.1,546.0 L737.3,547.0 L736.6,548.1 L735.6,548.9 L734.5,549.6 L734.1,548.4 L734.0,549.9 L733.4,550.1 L732.2,550.6 L730.9,549.2 L731.7,551.0 L731.1,551.2 L729.9,551.7 L728.8,552.3 L727.6,552.9 L727.0,554.2 L726.0,555.0 L724.9,555.6 L723.6,556.1 L722.7,556.9 L721.3,557.2 L720.3,558.0 L719.4,558.9 L718.6,557.3 L718.9,559.3 L718.4,559.7 L717.2,560.2 L716.6,561.5 L715.4,562.1 L716.0,563.6 L714.9,562.4 L714.1,562.4 L712.9,562.8 L712.1,563.9 L712.7,565.4 L711.6,564.2 L711.2,564.9 L710.0,565.2 L709.0,565.9 L707.8,566.5 L706.7,567.1 L705.3,566.5 L704.3,567.2 L702.8,567.2 L702.9,565.9 L701.4,565.3 L702.9,565.3 L702.4,564.6 L703.3,563.3 L702.0,563.9 L703.3,562.7 L703.0,562.0 Z M731.2,533.8 L731.9,532.7 L733.0,532.1 L734.3,531.7 L733.2,530.7 L734.8,531.4 L735.5,531.3 L736.5,530.5 L737.7,530.0 L738.5,529.4 L739.8,528.9 L740.8,527.7 L741.9,526.9 L743.2,526.5 L744.5,526.0 L742.9,524.0 L745.0,525.8 L745.9,526.0 L747.3,525.7 L748.3,524.6 L749.5,524.0 L750.8,523.6 L752.0,523.0 L753.5,523.0 L754.5,521.9 L755.5,521.1 L756.5,520.3 L757.6,519.7 L758.8,519.4 L759.9,519.0 L759.2,520.1 L760.3,521.3 L758.9,520.6 L758.8,521.4 L756.7,520.5 L758.5,521.9 L758.3,522.7 L757.2,523.6 L757.0,525.0 L756.5,526.5 L755.1,527.0 L754.0,527.8 L753.0,528.6 L751.9,529.5 L752.6,531.4 L751.5,529.9 L751.0,530.5 L750.4,531.7 L749.8,533.0 L748.8,534.0 L747.5,534.2 L746.2,534.2 L745.2,534.9 L746.5,536.6 L744.6,535.1 L744.2,535.7 L742.8,535.6 L741.5,535.5 L740.6,536.7 L739.2,536.5 L738.3,534.7 L738.7,536.7 L738.2,537.3 L737.1,536.6 L735.9,536.2 L734.5,535.9 L733.3,535.5 L732.3,534.5 L731.2,533.8 Z" fill="none" stroke="#000" stroke-width="2.1" stroke-linejoin="round" stroke-linecap="round"/>
<path d="M171.5,0.0 L173.9,-0.7 L171.7,0.6 L172.0,1.2 L171.8,2.5 L170.6,3.3 L172.0,3.1 L173.2,3.4 L173.0,4.8 L170.2,4.2 L173.1,5.4 L173.3,6.0 L173.8,7.2 L175.5,6.3 L173.9,7.8 L173.2,8.5 L174.1,9.6 L173.9,10.9 L173.7,12.2 L173.7,13.4 L175.2,14.4 L175.2,15.9 L176.0,16.8 L176.7,18.0 L177.5,18.9 L179.9,19.8 L181.2,21.2 L180.4,19.5 L180.8,18.8 L181.3,20.5 L181.3,18.5 L181.7,18.0 L182.8,17.5 L183.7,16.6 L184.9,16.4 L185.8,15.4 L186.5,14.1 L187.8,16.4 L187.0,13.9 L187.5,13.5 L187.0,12.0 L188.1,13.2 L189.1,13.8 L190.5,13.6 L191.3,12.7 L192.0,11.6 L193.4,11.4 L194.2,10.4 L193.0,7.9 L194.7,10.0 L195.4,9.9 L195.9,8.5 L196.8,7.8 L197.4,6.5 L198.5,5.5 L199.2,4.3 L197.9,3.0 L199.5,3.8 L199.4,2.8 L201.0,2.1 L201.5,0.0 M202.7,0.0 L204.8,0.6 L202.7,0.6 L202.3,1.5 L202.8,3.0 L202.9,4.4 L203.3,5.5 L201.9,6.5 L203.7,5.9 L203.5,6.8 L204.7,7.6 L205.4,8.5 L203.9,9.0 L205.8,9.0 L205.4,10.1 L206.1,11.1 L206.7,12.8 L207.2,10.7 L207.3,13.0 L208.2,12.6 L209.3,13.3 L210.6,13.8 L211.8,14.2 L213.3,14.0 L214.4,13.9 L215.6,13.7 L215.2,15.1 L216.2,13.6 L216.8,13.2 L218.2,13.9 L219.4,13.7 L220.6,13.5 L221.8,12.8 L223.0,12.6 L224.4,13.5 L224.7,15.1 L225.0,13.5 L225.6,13.5 L226.8,13.0 L228.0,12.9 L229.3,12.2 L230.5,11.6 L231.9,11.6 L233.2,11.4 L232.7,9.7 L233.8,11.3 L234.6,12.1 L235.8,11.2 L236.4,9.7 L236.4,11.1 L237.2,11.1 L237.0,12.5 L237.8,11.0 L238.4,10.7 L239.8,10.7 L241.1,10.9 L242.4,11.1 L243.6,10.3 L244.9,10.0 L246.0,9.4 L247.4,9.5 L248.5,12.1 L247.9,9.4 L248.7,9.8 L248.9,8.5 L249.3,9.7 L249.8,8.7 L251.0,7.9 L251.1,10.0 L251.6,7.8 L252.2,7.5 L253.4,7.3 L255.2,9.6 L254.0,7.2 L254.9,8.2 L256.2,8.1 L258.0,8.4 L258.2,6.6 L259.8,6.3 L260.8,5.3 L262.0,4.6 L259.7,3.6 L262.5,4.2 L263.5,3.3 L265.2,2.8 L263.7,2.7 L264.0,1.9 L266.5,2.6 L264.2,1.3 L263.3,0.0 M257.4,7.8 L256.7,8.9 L257.0,10.3 L255.0,10.4 L256.8,10.8 L256.6,11.4 L258.2,11.7 L256.4,12.0 L255.7,12.4 L255.5,13.7 L255.9,15.1 L255.3,16.2 L254.1,17.1 L254.4,18.5 L253.6,19.5 L255.0,20.9 L253.3,20.1 L253.2,20.8 L251.7,21.4 L251.3,22.6 L249.4,20.5 L251.0,23.1 L250.0,23.3 L249.9,24.7 L248.5,24.7 L249.6,25.2 L248.9,25.6 L249.4,27.3 L248.1,26.6 L249.1,27.9 L248.5,28.3 L246.5,26.8 L248.2,28.8 L247.4,29.0 L246.5,29.8 L245.4,30.5 L245.3,32.1 L244.6,33.1 L244.0,32.5 L244.2,33.6 L243.4,33.7 L242.3,34.3 L243.0,35.1 L241.8,34.7 L242.0,35.7 L241.0,36.5 L240.6,37.8 L238.8,38.0 L237.7,38.8 L236.2,38.2 L237.3,39.3 L237.4,40.5 L236.7,40.0 L237.9,39.0 L237.2,40.4 L237.2,41.8 L235.1,43.4 L237.7,42.1 L238.5,42.3 L239.2,43.8 L240.7,44.1 L241.5,42.5 L241.2,44.4 L241.7,45.0 L240.4,45.8 L242.0,45.6 L243.0,46.0 L243.6,47.2 L245.3,47.1 L243.8,47.8 L243.4,48.8 L243.2,49.7 L244.9,50.2 L243.0,50.3 L242.5,51.2 L243.0,53.0 L242.9,54.4 L242.0,55.4 L241.6,56.6 L241.3,57.9 L241.0,59.1 L240.0,60.1 L238.5,60.8 L238.3,62.0 L240.2,62.6 L238.0,62.5 L238.5,63.5 L237.7,64.4 L238.7,64.9 L237.4,64.9 L237.0,65.4 L235.9,66.7 L235.2,65.6 L234.4,64.4 L233.5,63.5 L232.5,62.7 L231.6,61.7 L230.8,60.6 L230.1,59.5 L228.7,59.1 L227.5,58.7 L226.7,57.6 L225.6,57.0 L224.1,57.2 L223.9,58.9 L223.6,56.9 L223.0,56.7 L222.7,56.4 L221.3,55.2 L222.2,56.6 L221.5,56.7 L222.4,57.8 L220.9,56.9 L220.4,57.3 L218.7,56.4 L217.7,57.3 L216.8,58.3 L215.3,58.0 L216.5,56.7 L214.8,57.7 L214.3,57.2 L213.1,57.0 L211.7,57.0 L211.0,55.7 L211.6,54.4 L210.4,55.4 L210.7,55.0 L209.9,53.7 L208.6,52.5 L209.1,51.2 L208.5,49.6 L208.4,48.1 L209.0,46.7 L210.7,46.8 L209.1,46.1 L210.3,45.5 L210.0,44.0 L209.9,42.6 L211.4,42.7 L210.2,42.0 L210.1,41.2 L211.8,40.5 L211.9,39.2 L212.1,37.7 L210.2,36.2 L212.5,37.2 L213.7,37.2 L214.9,36.5 L216.6,37.6 L215.2,36.0 L215.9,35.5 L216.5,34.3 L217.3,33.3 L217.5,31.9 L217.8,30.5 L219.2,29.3 L217.9,28.0 L218.5,26.7 L219.1,25.4 L220.5,25.0 L219.1,24.8 L219.6,24.1 L219.7,22.8 L217.7,23.7 L219.7,22.2 L218.4,21.5 L218.4,20.2 L220.2,20.9 L218.4,19.6 L218.6,18.9 L218.1,17.9 L217.7,16.5 L218.5,15.3 L217.2,16.2 L216.6,16.0 L215.7,15.0 L214.5,14.6 M233.4,76.1 L234.9,74.2 L233.9,76.4 L234.6,76.8 L234.6,75.6 L235.1,77.1 L235.9,77.2 L236.7,78.5 L237.7,79.5 L239.3,79.6 L240.9,79.7 L241.9,80.6 L242.9,81.6 L243.6,80.7 L243.3,82.0 L243.9,82.5 L244.4,84.2 L246.0,84.5 L244.9,85.1 L246.3,84.9 L247.2,85.3 L248.1,86.3 L248.0,88.1 L248.8,89.3 L250.6,87.0 L249.1,89.8 L249.2,90.4 L246.4,92.9 L249.5,91.0 L251.0,91.0 L251.0,92.3 L251.8,93.4 L252.5,94.4 L252.6,95.7 L253.0,97.0 L253.8,97.9 L255.2,98.7 L255.4,100.0 L255.2,101.7 L254.0,102.6 L255.6,102.1 L256.9,102.0 L257.9,103.1 L259.2,103.8 L259.1,105.1 L260.5,105.1 L259.3,104.5 L260.7,104.1 L262.7,104.3 L260.9,103.5 L260.7,102.5 L260.8,101.1 L261.8,99.9 L261.4,98.3 L262.4,97.0 L262.1,95.4 L262.3,94.2 L264.6,95.9 L262.5,93.6 L263.0,93.1 L263.9,92.1 L263.5,90.6 L264.2,89.5 L265.0,88.5 L265.2,87.3 L265.0,85.9 L265.5,84.7 L266.7,83.7 L267.6,82.6 L267.8,81.3 L267.2,79.8 L269.1,80.9 L267.4,79.2 L267.8,78.6 L267.5,77.2 L268.3,76.1 L269.3,75.2 L269.7,74.0 L267.9,72.4 L269.9,73.5 L270.2,72.9 L270.1,71.5 L270.6,70.4 L271.0,69.0 L272.4,69.7 L271.5,72.0 L273.0,69.7 L273.7,69.8 L275.3,69.0 L276.1,70.2 L277.1,71.1 L278.5,71.6 L279.7,72.4 L280.7,73.4 L281.4,74.7 L282.6,75.4 L282.9,74.5 L283.1,75.8 L283.4,76.6 L284.9,76.9 L286.2,77.8 L287.6,78.2 L288.5,75.9 L288.2,78.3 L289.0,78.9 L290.5,78.8 L291.7,79.3 L293.1,78.8 L294.3,79.6 L295.7,79.3 L297.0,80.0 L298.2,80.6 L299.7,79.5 L301.1,79.2 L301.8,81.9 L301.7,79.3 L302.5,79.6 L303.6,80.1 L304.5,81.1 L305.3,82.2 L306.3,83.2 L307.9,82.7 L308.9,83.5 L310.0,84.0 L311.3,82.8 L310.5,84.3 L311.4,84.2 L312.7,84.5 L313.5,85.4 L314.1,86.7 L315.5,86.9 L316.5,87.7 L317.6,88.3 L318.4,89.4 L318.6,91.2 L319.5,92.2 L320.7,91.6 L319.9,92.6 L320.1,93.5 L321.9,93.7 L323.4,94.1 L324.0,95.6 L324.2,97.0 L324.4,98.3 L325.8,99.1 L325.5,100.7 L327.4,99.8 L325.7,101.3 L326.4,101.8 L327.0,103.0 L327.5,104.2 L329.2,103.0 L327.7,104.7 L327.2,105.6 L327.2,107.0 L328.5,108.1 L326.3,108.9 L328.6,108.7 L329.6,109.2 L327.7,110.3 L329.7,109.8 L329.8,110.5 L329.6,111.9 L330.5,112.9 L331.0,114.0 L332.5,113.6 L331.3,114.5 L331.2,115.3 L332.7,113.8 L331.4,115.9 L332.0,116.3 L332.0,117.7 L332.1,119.0 L332.5,120.2 L332.7,121.6 L330.8,121.9 L333.0,122.1 L334.1,122.3 L332.1,122.5 L334.4,122.8 L334.8,123.3 L333.6,124.2 L335.2,123.8 L336.1,124.1 L337.9,122.9 L336.4,124.5 L336.1,125.6 L336.7,126.8 L337.6,127.8 L337.8,129.2 L338.6,130.3 L339.9,130.9 L340.3,132.2 L341.4,133.1 L342.5,133.9 L343.1,135.0 L344.2,135.9 L342.7,137.4 L344.5,136.4 L344.8,137.0 L347.0,136.5 L345.2,137.5 L345.2,138.4 L346.2,139.3 L347.1,140.2 L347.2,141.5 L350.0,139.7 L347.5,142.0 L347.1,142.9 L348.5,143.6 L348.4,145.0 L348.4,146.3 L349.6,147.1 L352.0,147.0 L349.8,147.6 L350.3,148.1 L348.7,149.4 L350.6,148.6 L350.8,149.2 L350.6,150.6 L351.5,151.5 L353.0,149.8 L351.8,152.1 L351.8,152.8 L353.1,153.6 L353.2,154.9 L354.2,155.8 L355.1,156.8 L355.2,158.2 L355.9,159.2 L357.0,160.1 L356.9,161.6 L357.6,162.7 L358.2,163.8 L358.2,165.2 L359.1,166.2 L360.5,165.8 L359.3,166.7 L359.7,167.3 L359.9,168.6 L360.8,169.6 L361.6,170.6 L361.8,171.9 L362.2,173.2 L362.4,174.5 L363.8,175.2 M366.0,176.0 L367.4,176.6 L368.0,178.2 L369.1,179.1 L370.9,179.0 L372.0,180.4 L373.1,183.5 L372.6,180.4 L373.3,180.6 L374.6,180.5 L375.9,180.9 L377.4,180.3 L378.6,181.4 L379.9,182.0 L380.5,179.6 L380.5,182.1 L381.3,182.0 L382.8,185.4 L381.9,182.0 L382.8,181.8 L384.3,181.7 L385.7,181.5 L385.8,178.2 L386.3,181.5 L387.1,182.0 L388.5,182.8 L389.9,183.1 L391.3,182.5 L392.6,183.0 L394.0,182.3 L395.4,182.0 L396.7,182.4 L398.0,183.0 M106.0,153.0 L107.5,153.4 L109.0,152.8 L110.5,152.3 L110.6,150.5 L111.1,152.3 L112.0,152.5 L113.3,151.0 L112.6,152.7 L113.2,152.9 L113.5,151.7 L113.8,153.2 L114.3,153.8 L115.4,154.4 L116.5,155.2 L117.1,154.1 L117.1,155.4 L117.8,155.1 L119.3,154.1 L118.2,155.6 L119.2,156.2 L120.1,157.6 L118.8,158.1 L120.4,158.1 L121.3,159.4 L123.0,160.8 L120.8,159.7 L120.3,160.7 L118.4,160.9 L117.6,162.4 L115.9,163.7 L114.3,163.7 L112.9,162.9 L112.4,164.4 L112.3,162.8 L111.6,161.8 L110.0,162.0 L108.9,161.1 L107.8,160.2 L107.1,158.9 L105.7,158.0 L105.5,156.3 L105.8,154.7 L106.0,153.0 Z M276.0,262.0 L276.5,263.3 L276.7,264.6 L277.3,265.9 L277.2,267.2 L277.5,268.6 L277.2,270.0 L277.2,271.3 L277.9,272.6 L278.1,273.9 M298.0,345.0 L300.9,344.2 L298.2,345.6 L298.0,346.5 L295.9,347.2 L298.1,347.1 L298.6,347.9 L299.8,349.0 L300.7,350.3 L298.2,351.7 L300.9,350.9 L300.3,351.9 L299.6,353.6 L300.8,354.8 L300.7,356.3 L301.5,357.6 L302.2,359.0 L301.5,360.6 L301.4,362.0 L301.4,363.3 L299.3,362.8 L301.4,363.9 L302.3,364.6 L301.5,365.9 L299.8,366.0 L301.6,366.5 L301.3,367.2 L302.7,368.5 L302.5,369.8 L303.3,371.1 L304.9,370.7 L303.3,371.7 L302.8,372.4 L303.5,373.7 L303.9,375.3 L303.3,376.5 L302.5,377.7 L301.7,378.9 L299.2,376.9 L301.6,379.5 L300.7,380.0 L300.1,381.3 L302.5,382.6 L300.0,381.9 L299.5,382.5 L299.7,383.9 L300.5,385.4 L299.0,384.7 L300.4,386.0 L301.0,386.8 L302.6,386.7 L300.9,387.4 L300.7,387.8 L300.7,389.2 L300.8,390.7 L298.7,390.8 L301.0,391.3 L301.2,392.0 L299.3,393.3 L301.4,392.6 L300.9,393.6 L298.6,394.9 L301.1,394.2 L301.6,394.9 L301.6,396.4 L302.6,397.5 L304.1,398.5 L304.1,400.0 L305.0,401.1 L305.8,402.4 L305.9,403.8 L306.0,405.3 L308.3,404.4 L306.2,405.8 L305.7,406.8 L306.7,408.0 L308.7,406.3 L306.9,408.6 L307.4,409.2 L309.7,408.4 L307.6,409.8 L307.9,410.6 L308.5,411.8 L308.7,413.2 L309.6,414.3 L310.3,415.5 L309.8,417.2 L309.6,418.6 L307.3,419.7 L309.8,419.2 L310.6,419.8 L311.5,420.9 L311.4,422.4 L311.9,423.6 L309.6,424.4 L312.1,424.2 L311.7,425.1 L312.7,426.2 L310.5,426.9 L312.9,426.8 L312.9,427.5 L314.5,427.1 L313.0,428.1 L312.5,429.0 L313.3,430.2 L315.6,429.5 L313.4,430.8 L313.2,431.6 L313.6,432.8 L310.7,434.1 L313.8,433.4 L314.1,434.1 L316.5,434.7 L314.2,434.7 L315.2,435.2 L314.9,436.6 L317.0,436.6 L315.1,437.2 L315.5,437.8 L315.1,439.4 L316.6,440.3 L314.5,442.0 L316.8,440.8 L316.0,441.9 L313.9,443.3 L316.2,442.4 L316.8,443.0 M289.0,345.0 L290.0,346.3 L292.9,346.8 L290.1,346.9 L290.8,347.6 L290.0,349.3 L291.5,348.3 L290.2,349.8 L289.5,350.8 L291.8,349.9 L289.6,351.4 L291.0,352.0 L288.9,352.8 L291.1,352.6 L291.1,353.5 L290.9,355.0 L291.5,356.4 L289.6,355.9 L291.6,357.0 L291.1,357.9 L288.5,359.1 L291.2,358.5 L291.6,359.3 L290.8,360.8 L291.7,362.1 L291.1,363.7 L292.0,365.0 L291.2,366.4 L293.5,366.4 L291.3,367.0 L292.8,367.6 L295.7,368.6 L292.8,368.2 L291.7,368.9 L292.3,370.2 L290.7,369.7 L292.3,370.8 L293.1,371.5 L291.4,372.0 L293.1,372.1 L292.7,372.8 L290.7,372.5 L292.8,373.4 L292.6,374.1 L294.1,374.3 L292.6,374.7 L292.8,375.4 L295.1,374.9 L292.9,376.0 L292.4,376.7 L291.8,378.1 L293.4,378.1 L291.9,378.7 L291.6,379.5 L293.1,380.7 L291.1,379.8 L293.1,381.3 L293.4,382.0 L291.1,381.5 L293.4,382.6 L293.0,383.4 L293.5,384.7 L293.9,386.0 L294.5,387.3 L297.1,386.2 L294.5,387.9 L293.9,388.7 L291.3,388.3 L294.0,389.3 L293.3,390.2 L294.6,391.2 L294.6,392.6 L292.5,392.6 L294.7,393.2 L294.1,394.1 L296.6,393.7 L294.2,394.7 L294.1,395.5 L295.7,394.2 L294.2,396.0 L295.3,396.5 L297.4,395.8 L295.4,397.1 L296.3,397.7 L296.4,399.0 L297.9,399.3 L296.5,399.6 L296.6,400.4 L294.2,400.3 L296.7,400.9 L296.2,401.8 L293.1,400.9 L296.4,402.4 L297.1,403.0 L299.6,402.4 L297.3,403.5 L297.2,404.4 L298.2,405.6 L300.9,405.1 L298.4,406.2 L298.9,406.9 L298.7,408.4 L298.7,410.0 L295.9,411.7 L299.0,410.5 L299.2,411.3 L301.6,411.1 L299.4,411.9 L299.4,412.7 L300.0,413.9 L301.3,414.8 L299.2,416.3 L301.6,415.4 L301.0,416.4 L297.7,417.6 L301.2,417.0 L301.6,417.6 L303.0,418.5 L304.4,419.4 L303.9,421.0 L304.8,422.2 L307.1,421.5 L305.0,422.7 L304.6,423.6 L302.8,424.9 L304.8,424.1 L304.2,425.0 L305.4,426.1 L303.8,427.1 L305.5,426.7 L305.8,427.3 L306.6,428.5 L309.4,427.7 L306.7,429.1 L307.3,429.7 L309.7,429.7 L307.5,430.3 L306.7,431.2 L307.4,432.5 L309.4,433.0 L307.5,433.1 L306.6,434.1 L306.5,435.5 L308.0,436.6 L307.2,438.3 L309.4,437.8 L307.4,438.8 L308.4,439.5 L308.8,441.0 L310.3,442.2 L310.2,443.7 L309.5,445.5 L310.9,446.5 L310.9,448.0 L312.0,449.2 L313.4,448.0 L312.2,449.7 L312.9,450.4 L312.5,452.0 M294.0,345.0 L293.4,346.5 L294.5,347.7 L292.5,347.3 L294.6,348.3 L295.3,349.0 L293.7,349.0 L295.4,349.6 L296.2,350.3 L293.8,351.6 L296.3,350.9 L296.2,351.7 L294.6,351.5 L296.3,352.3 L295.5,353.3 L295.3,354.7 L295.5,356.0 L296.6,357.3 L293.8,358.4 L296.7,357.9 L296.5,358.6 L296.8,360.0 L297.3,361.3 L295.7,360.5 L297.3,361.9 L297.3,362.6 L297.6,363.9 L299.6,364.0 L297.6,364.5 L296.9,365.3 L297.6,366.6 L296.4,368.0 L294.6,368.5 L296.5,368.6 L296.5,369.4 L298.8,370.0 L296.5,370.0 L297.1,370.7 L296.4,372.1 L294.2,371.7 L296.5,372.7 L296.5,373.4 L297.0,374.7 L298.3,375.9 L301.4,375.6 L298.4,376.5 L299.1,377.2 L298.6,378.6 L298.0,380.0 M277.0,406.5 L278.2,407.4 L280.0,407.0 L281.2,408.0 L280.1,409.1 L281.8,408.2 L282.8,407.8 L284.6,408.5 L285.7,409.3 L286.6,410.2 L286.9,411.7 L287.0,413.3 L287.7,414.5 L289.1,413.4 L288.1,415.0 L288.4,415.7 L286.8,417.5 L288.7,416.1 L290.0,416.0 L291.3,416.8 L291.4,418.3 L292.4,419.2 L293.8,418.7 L292.8,419.7 L292.8,420.6 L292.9,422.1 L294.3,422.9 L293.0,423.4 L294.6,423.4 L295.6,423.8 L297.1,423.7 L295.8,424.4 L296.0,425.2 L296.6,426.4 L298.2,426.1 L296.8,427.0 L297.3,427.7 L295.9,428.2 L297.5,428.2 L297.6,429.1 L298.0,430.4 L298.7,432.1 L300.1,432.0 L298.7,432.7 L298.8,433.5 L298.4,434.8 L299.9,435.4 L298.4,435.4 L297.8,436.2 L297.1,437.5 L295.6,436.6 L297.1,438.1 L296.5,438.8 L298.7,439.2 L296.4,439.4 L296.1,440.2 L296.8,441.6 L297.4,442.3 L296.3,441.3 L294.3,443.7 L295.8,441.0 L294.6,441.3 L293.0,441.2 L292.1,440.0 L293.3,439.2 L291.8,439.4 L290.9,439.0 L290.9,437.2 L291.9,437.1 L290.7,436.7 L289.8,436.2 L288.5,436.7 L289.5,435.7 L289.7,434.6 L287.7,436.2 L289.4,434.0 L288.7,433.4 L288.3,431.9 L289.7,430.4 L288.0,431.4 L287.1,430.9 L286.2,429.8 L285.2,429.8 L285.9,429.3 L285.1,428.7 L285.2,426.9 L284.5,425.7 L284.0,424.2 L283.6,422.8 L282.0,422.0 L281.4,420.6 L283.5,420.7 L281.2,420.1 L281.4,419.0 L282.8,418.4 L281.1,418.4 L279.9,418.1 L278.0,419.8 L279.6,417.5 L279.0,416.9 L280.2,415.8 L278.7,416.3 L278.8,415.3 L278.3,414.0 L278.6,412.4 L280.5,413.3 L278.5,411.8 L278.6,410.9 L280.7,409.7 L278.6,410.3 L277.3,409.5 L276.6,408.1 L277.0,406.5 Z M436.6,138.8 L437.9,138.6 L439.0,139.8 L438.1,142.2 L439.5,139.9 L440.3,139.3 L440.6,137.1 L440.9,139.4 L441.6,139.2 L442.9,139.1 L444.0,140.2 L445.2,140.3 L446.2,141.1 L446.8,142.3 L448.2,142.5 L449.5,142.7 L450.6,143.4 L451.8,143.8 L452.5,144.8 L451.8,146.8 L453.0,145.2 L453.0,146.1 L454.4,146.3 L455.5,147.0 L456.0,148.3 L456.8,149.3 L457.8,149.9 L458.6,151.0 L459.6,151.7 L460.8,152.1 L462.3,152.4 L463.2,153.3 L463.7,154.5 L465.5,153.4 L464.0,155.0 L463.4,156.0 L463.7,157.3 L464.4,158.3 L465.5,159.1 L466.2,160.5 L464.7,161.0 L464.0,162.3 L463.2,163.4 L462.0,163.6 L461.0,165.7 L461.4,163.6 L460.7,163.8 L459.4,164.8 L458.1,164.7 L456.8,164.2 L455.5,164.6 L456.0,162.9 L454.9,164.6 L454.4,164.7 L452.9,164.4 L451.3,163.0 L452.4,164.7 L451.9,165.2 L450.8,165.8 L449.4,165.8 L448.5,166.8 L447.4,167.3 L445.7,167.8 L448.6,169.8 L445.5,168.3 L445.7,169.2 L445.5,170.5 L443.2,169.4 L445.3,171.0 L445.2,171.7 L443.4,170.0 L445.0,172.3 L444.0,172.5 L443.3,173.6 L443.5,175.1 L442.7,176.9 L441.5,177.4 L439.9,176.5 L437.9,173.9 L439.3,176.6 L438.5,176.6 L437.4,177.6 L436.0,177.7 L434.7,177.8 L433.5,177.4 L432.2,179.1 L432.9,177.2 L432.3,176.6 L430.9,176.6 L429.6,176.1 L428.2,176.4 L426.6,176.1 L425.7,174.9 L426.4,173.3 L425.4,172.2 L425.5,170.7 L425.8,169.3 L425.3,167.9 L424.5,166.7 L424.2,165.2 L423.4,164.0 L421.9,163.4 L420.6,162.0 L421.2,160.9 L421.7,159.8 L420.4,159.2 L422.0,159.3 L422.4,158.8 L423.9,158.4 L425.3,157.9 L426.2,157.0 L426.0,155.4 L426.9,156.6 L426.4,154.9 L426.8,154.4 L427.8,153.6 L428.2,152.4 L428.5,151.2 L429.5,150.3 L431.8,150.6 L429.9,149.9 L430.2,149.4 L427.8,147.1 L430.6,148.9 L430.9,148.3 L430.1,147.6 L431.3,147.9 L431.4,147.2 L431.7,146.1 L433.1,145.4 L434.9,147.2 L433.3,144.9 L434.3,144.6 L434.4,143.3 L435.5,142.4 L435.7,141.1 L436.7,140.2 L436.6,138.8 Z M444.5,172.0 L445.3,171.0 L445.2,169.5 L445.4,168.3 L446.1,167.3 L447.1,166.3 L447.5,165.2 L448.5,164.6 L449.8,164.7 L450.8,163.8 L451.9,163.0 L453.3,163.4 L452.5,161.2 L453.9,163.3 L454.6,163.8 L455.8,163.5 L457.7,165.9 L456.4,163.4 L456.9,162.6 L458.1,162.9 L459.4,162.3 L460.7,163.1 L462.1,162.1 L463.4,162.8 L464.7,162.9 L466.4,162.2 L468.2,162.3 L466.6,162.7 L466.7,163.3 L467.2,164.5 L464.9,166.0 L467.4,165.0 L468.0,165.5 L468.6,166.6 L467.8,168.3 L469.0,168.7 L470.0,169.5 L471.5,169.2 L472.6,169.8 L473.9,169.7 L475.1,170.6 L476.5,170.3 L477.7,171.1 L477.2,169.7 L478.3,171.2 L479.0,171.5 L480.4,171.2 L482.2,171.4 L482.5,173.1 L483.7,173.8 L484.8,174.7 L486.3,175.8 L488.0,175.6 L486.4,176.4 L486.0,177.2 L486.1,178.4 L486.1,179.7 L484.6,179.6 L486.2,180.2 L485.7,181.0 L485.6,182.3 L486.1,183.4 L486.4,184.6 L487.8,185.8 L487.2,184.4 L487.7,183.2 L487.3,181.9 L487.7,180.7 L488.6,179.5 L485.9,177.6 L488.7,178.9 L489.1,178.3 L487.3,178.0 L489.2,177.7 L488.9,177.0 L488.6,175.7 L489.5,174.6 L489.4,173.3 L489.3,172.0 L490.6,171.2 L490.4,169.7 L490.9,168.6 L491.6,167.5 L491.5,166.1 L492.6,165.3 L493.3,164.1 L493.6,161.6 L493.9,164.1 L494.8,164.2 L496.2,164.5 L497.7,164.0 L499.9,164.0 L502.3,162.9 L500.1,164.6 L500.4,165.3 L499.7,166.8 L500.6,168.0 L500.4,169.4 L500.2,170.8 L500.5,171.9 L500.4,173.1 L500.6,174.5 L500.6,175.7 L500.5,177.0 L500.0,178.1 L500.2,179.5 L500.3,180.8 L498.9,181.8 L499.4,183.1 L500.3,184.3 L500.3,185.6 L500.5,186.9 L501.2,188.1 L501.1,189.5 L500.3,191.0 L500.6,192.2 L500.3,193.8 L500.7,195.1 L501.8,196.0 L502.5,197.2 L503.0,198.4 L503.0,199.8 L504.0,200.8 L506.6,199.3 L504.3,201.4 L503.8,202.4 L504.4,204.1 L505.8,204.3 L506.8,205.0 L508.2,205.1 L509.7,203.8 L508.7,205.5 L509.1,206.0 L510.4,206.2 L512.1,204.1 L510.9,206.5 L510.7,207.8 L511.8,208.4 L512.9,209.1 L512.8,210.4 L512.2,211.7 L513.8,212.4 L512.2,212.3 L512.2,213.1 L513.9,213.4 L512.2,213.7 L512.4,214.4 L512.2,215.7 L512.4,216.7 L511.9,218.1 L510.9,219.1 L510.7,220.7 L509.8,221.7 L509.0,223.2 L507.8,223.9 L506.3,223.4 L505.2,224.4 L503.7,224.1 L503.8,221.3 L503.1,224.3 L502.6,225.2 L500.8,225.3 L499.8,224.6 L498.6,224.2 L497.4,223.7 L496.2,223.5 L495.1,222.9 L496.4,221.5 L494.6,222.6 L494.3,221.6 L493.2,220.3 L492.1,221.5 L490.9,222.4 L490.1,225.1 L490.3,222.5 L489.6,222.5 L488.2,222.4 L486.8,222.4 L485.6,223.1 L484.2,223.1 L483.1,224.1 L481.5,223.4 L480.1,223.4 L478.9,224.2 L477.7,224.9 L478.9,226.8 L477.1,224.9 L476.5,224.4 L475.2,225.0 L474.0,225.5 L472.8,225.0 L473.0,226.7 L472.2,225.0 L471.6,224.1 L470.3,224.6 L469.1,225.2 L469.5,223.7 L468.5,225.2 L467.9,225.0 L466.7,224.9 L465.4,225.1 L464.2,224.9 L463.0,225.1 L461.8,224.7 L460.6,225.1 L459.3,224.4 L459.0,226.0 L458.7,224.4 L457.7,225.1 L457.4,223.6 L457.0,222.1 L456.1,221.0 L454.8,220.2 L453.5,219.1 L453.7,217.8 L452.7,216.8 L452.6,215.5 L452.8,214.1 L454.5,214.3 L452.6,213.6 L452.3,213.0 L451.3,212.3 L449.9,212.2 L451.5,209.7 L449.4,211.8 L448.7,211.7 L448.4,210.2 L447.3,209.5 L446.6,208.4 L445.6,207.8 L444.8,207.2 L447.4,207.4 L444.8,206.6 L444.7,205.7 L444.4,204.2 L444.0,202.8 L444.3,200.3 L445.7,201.0 L447.0,201.3 L448.3,201.4 L449.3,200.2 L450.4,201.6 L449.9,200.1 L450.6,200.5 L451.8,200.0 L453.1,200.3 L453.4,199.0 L453.7,200.2 L454.2,199.3 L455.2,200.2 L456.5,200.2 L457.5,201.1 L458.8,201.3 L460.1,201.1 L461.5,201.0 L462.7,201.3 L462.2,202.5 L463.3,201.4 L463.7,202.2 L464.7,203.0 L464.2,200.6 L465.3,203.2 L466.0,203.4 L467.5,203.2 L468.6,202.1 L466.4,199.9 L469.1,201.8 L469.8,201.3 L469.0,200.1 L467.5,200.3 L466.5,199.5 L465.1,199.6 L463.9,199.2 L463.0,198.2 L462.0,199.4 L462.5,197.9 L462.1,197.1 L460.9,196.2 L459.3,197.0 L458.3,195.8 L457.9,194.5 L457.7,195.7 L456.9,195.6 L455.4,196.3 L453.9,196.2 L453.0,195.0 L451.7,194.7 L450.7,193.7 L449.5,193.2 L448.2,192.8 L447.1,192.1 L448.7,189.2 L446.5,191.9 L445.8,191.9 L444.7,191.6 L444.9,190.3 L447.0,191.2 L444.9,189.7 L444.4,189.0 L444.9,187.7 L446.5,187.5 L444.9,187.1 L444.6,186.4 L445.2,185.1 L442.9,185.3 L445.2,184.5 L444.5,183.9 L445.8,183.3 L447.1,183.6 L448.4,183.3 L448.7,181.8 L449.0,183.3 L449.7,184.2 L451.0,183.3 L452.3,184.1 L453.8,184.7 L454.1,181.9 L454.4,184.7 L455.2,184.9 L455.1,187.2 L455.8,184.9 L456.7,184.2 L458.2,183.4 L456.9,183.5 L455.7,183.4 L454.6,182.7 L453.3,182.7 L452.0,182.2 L450.6,181.8 L449.7,180.6 L448.9,179.3 L448.0,181.0 L448.4,178.9 L448.1,177.9 L447.0,177.7 L446.7,176.5 L445.2,175.7 L445.4,174.3 L444.2,173.4 L444.5,172.0 Z M466.0,134.0 L467.2,136.2 L466.6,133.9 L467.3,133.4 L465.7,131.3 L467.9,133.3 L468.7,133.6 L470.1,133.6 L471.2,132.2 L472.8,132.9 L473.6,132.6 L474.0,130.8 L474.1,133.0 L475.1,132.8 L476.2,133.5 L477.5,134.1 L478.3,135.3 L479.5,135.9 L480.9,134.5 L480.0,136.2 L480.4,137.0 L482.0,137.3 L482.1,136.0 L482.6,137.3 L483.4,137.4 L484.8,137.7 L486.1,137.5 L487.5,137.5 L486.9,136.0 L488.1,137.4 L488.7,136.1 L490.0,136.0 M481.0,100.0 L482.3,99.1 L483.6,98.4 L485.2,99.3 L486.5,98.6 L488.3,98.0 L488.3,99.9 L488.8,98.2 L489.1,99.4 L490.5,99.0 L491.5,99.9 L492.7,100.2 L493.8,100.7 L494.0,97.9 L494.4,100.9 L495.4,100.8 L496.3,101.8 L494.3,103.7 L496.6,102.4 L496.1,103.4 L496.4,104.7 L497.7,105.6 L497.5,106.8 L497.5,108.4 L497.2,109.7 L494.8,109.4 L496.9,110.2 L495.9,110.5 L495.8,112.0 L494.6,112.8 L494.1,114.5 L493.1,115.2 L494.3,118.2 L492.5,115.4 L491.7,114.8 L490.6,115.3 L489.2,114.8 L488.2,115.9 L486.9,116.1 L486.4,114.8 L485.1,114.2 L484.4,113.1 L483.2,112.4 L484.7,112.0 L482.8,111.9 L482.5,111.3 L482.1,110.0 L485.0,108.7 L482.1,109.4 L482.5,108.7 L480.9,109.4 L482.4,108.1 L482.6,107.4 L481.7,106.2 L482.3,104.9 L481.9,103.7 L484.6,103.2 L481.8,103.1 L481.3,102.5 L481.2,101.2 L481.0,100.0 Z M505.6,93.0 L506.8,92.3 L508.1,92.3 L509.4,92.4 L510.7,92.3 L512.5,91.9 L513.5,92.6 L514.2,93.8 L515.2,94.5 L516.4,94.9 L517.0,96.3 L517.7,97.2 L518.3,98.3 L519.5,99.2 L520.1,100.3 L519.7,101.9 L522.0,101.7 L520.0,102.4 L520.1,103.1 L520.9,103.8 L520.9,105.2 L519.5,103.6 L520.6,105.7 L520.2,106.2 L520.3,107.6 L518.1,106.6 L520.1,108.2 L519.0,108.4 L518.5,109.5 L518.0,110.7 L517.8,111.4 L516.6,112.0 L515.7,113.3 L514.6,111.2 L515.2,113.5 L514.4,113.6 L513.1,113.6 L511.6,114.7 L510.6,113.8 L510.0,112.6 L509.2,111.4 L506.9,114.1 L508.9,110.9 L507.9,110.7 L507.8,109.1 L507.6,107.9 L507.4,106.6 L505.3,106.4 L507.3,106.0 L507.1,105.3 L506.8,104.0 L505.0,103.4 L506.7,103.4 L506.9,102.6 L506.3,101.3 L505.5,100.0 L506.1,98.6 L506.1,97.2 L508.3,97.4 L506.1,96.6 L505.4,95.8 L507.7,96.9 L505.4,95.2 L505.6,94.4 L503.6,93.6 L505.6,93.8 L505.6,93.0 Z M524.4,101.0 L525.8,100.6 L527.3,101.1 L528.6,100.2 L530.5,99.8 L527.7,101.3 L530.9,100.2 L531.1,101.1 L532.9,99.2 L531.6,101.5 L532.0,102.2 L533.2,103.0 L534.5,103.6 L535.9,104.8 L535.6,106.1 L535.2,107.5 L536.0,108.5 L536.8,109.5 L534.3,110.6 L537.0,110.1 L536.8,110.8 L536.5,111.6 L535.8,112.6 L535.4,113.9 L534.3,114.6 L533.4,115.5 L532.8,116.6 L531.5,115.8 L532.4,117.0 L531.8,117.8 L530.8,116.8 L529.7,116.0 L528.4,115.4 L527.1,114.8 L526.4,113.9 L528.4,114.3 L526.3,113.3 L525.2,112.9 L526.9,112.2 L525.1,112.3 L525.2,111.7 L525.0,110.4 L524.3,109.3 L523.8,108.0 L524.8,106.6 L524.9,105.2 L524.5,103.8 L524.6,102.4 L524.4,101.0 Z M530.0,75.0 L530.2,73.5 L530.6,74.9 L531.3,74.9 L532.3,73.7 L533.5,73.1 L534.9,73.4 L536.1,73.2 L535.9,75.2 L536.7,73.0 L537.5,73.6 L538.7,73.1 L539.8,72.1 L538.6,69.9 L540.4,72.0 L541.1,72.1 L542.5,72.4 L543.7,72.1 L545.4,71.1 L546.6,71.4 L547.3,73.0 L548.6,73.0 L549.7,73.6 L551.2,73.3 L552.0,74.7 L550.6,76.4 L552.5,74.9 L553.1,75.1 L552.9,73.1 L553.7,75.3 L554.5,75.0 L555.4,76.0 L555.8,78.1 L556.0,76.2 L556.3,77.2 L557.7,77.1 L557.6,79.2 L558.3,77.3 L558.6,78.1 L557.3,80.5 L559.2,78.4 L560.0,78.0 M533.0,88.0 L532.2,90.3 L533.6,87.9 L534.4,88.7 L535.6,88.6 L535.1,90.1 L536.2,88.6 L536.8,87.6 L536.4,89.5 L537.4,87.6 L537.9,86.8 L537.6,89.4 L538.5,86.8 L539.1,86.1 L540.4,86.6 L539.7,88.7 L541.0,86.5 L541.8,87.2 L542.2,85.1 L542.4,87.1 L542.9,86.2 L544.5,88.3 L543.5,86.1 L544.2,86.3 L543.5,87.9 L544.8,86.3 L545.5,86.2 L546.6,88.6 L546.1,86.1 L546.9,87.0 L548.2,85.6 L550.0,83.5 L548.7,85.8 L549.4,85.9 L548.6,87.6 L550.0,86.1 L550.8,85.9 L551.8,86.8 L553.0,87.2 L554.0,88.1 L554.9,89.3 L554.6,87.7 L555.4,89.5 L555.9,90.1 L557.4,89.8 L557.1,91.6 L558.0,90.0 L558.3,91.0 L559.6,91.3 L558.6,93.3 L560.1,91.5 L560.7,91.8 L562.0,92.0 M540.0,100.0 L541.2,99.4 L542.3,98.6 L543.7,98.8 L544.8,98.1 L546.2,98.3 L547.4,97.9 L546.5,99.9 L548.0,97.7 L548.7,98.1 L550.1,98.5 L549.3,97.0 L550.7,98.4 L551.4,98.7 L552.7,98.4 L553.8,97.7 L553.5,95.5 L554.4,97.5 L554.6,97.7 L554.5,99.4 L555.1,98.0 L555.5,98.7 L555.2,100.4 L556.0,98.9 L556.5,99.4 L557.9,99.5 L556.4,101.3 L558.4,99.8 L558.9,100.1 L559.8,101.0 L561.4,100.7 L562.2,101.8 L563.8,101.4 L563.6,102.3 L564.3,101.7 L564.5,102.8 L565.7,103.2 L566.7,103.8 L568.0,104.0 M545.0,60.0 L545.2,58.0 L545.6,59.8 L546.0,59.1 L544.8,56.5 L546.6,58.9 L547.2,58.7 L546.9,57.5 L547.8,58.5 L548.3,58.0 L549.7,60.4 L548.8,57.8 L549.5,57.8 L550.7,57.6 L552.2,58.1 L552.0,56.8 L552.7,57.9 L553.4,57.9 L552.7,55.7 L554.0,57.7 L554.3,56.5 L555.7,57.0 L556.6,59.1 L556.3,56.9 L557.0,56.8 L557.9,56.1 L559.4,55.9 L560.5,56.4 L561.1,54.5 L561.1,56.7 L561.8,56.7 L562.3,58.3 L563.4,58.8 L564.4,57.4 L563.9,59.1 L564.6,59.2 L565.9,59.2 L566.5,60.9 L564.9,63.1 L567.0,61.1 L567.7,61.2 L568.9,61.5 L566.5,63.7 L569.4,61.8 L570.0,62.0 M555.0,45.0 L556.3,45.0 L557.2,43.5 L556.9,45.3 L557.3,45.7 L559.3,42.8 L557.9,45.9 L558.5,46.0 L559.7,46.4 L560.7,47.2 L562.0,47.1 L563.4,45.6 L562.6,47.3 L562.9,48.1 L563.1,50.0 L563.4,48.4 L563.9,48.7 L562.0,51.1 L564.5,49.0 L565.0,49.2 L566.3,47.4 L565.6,49.5 L566.0,50.2 L567.2,49.3 L568.6,49.6 L568.5,52.0 L569.2,49.4 L570.0,49.8 L569.3,47.5 L570.6,49.6 L571.4,49.9 L572.5,49.0 L571.2,47.3 L573.1,48.8 L573.6,47.6 L573.4,45.2 L574.2,47.5 L575.0,48.0 M562.0,52.0 L562.1,53.2 L564.1,52.6 L562.1,53.8 L562.2,54.4 L562.7,55.6 L563.3,56.7 L561.8,56.9 L563.4,57.3 L563.0,58.0 L565.3,57.1 L563.1,58.6 L562.0,59.2 L561.6,60.4 L562.6,61.6 L561.9,62.8 L562.6,64.0 L562.2,65.2 L564.4,64.9 L562.2,65.8 L562.3,66.4 L561.9,67.7 L563.5,68.5 L561.9,68.3 L563.2,68.8 L560.8,68.8 L563.2,69.4 L563.5,69.9 L563.1,71.3 L564.0,72.4 L562.5,72.3 L564.1,73.0 L564.0,73.7 L563.4,75.1 L566.2,74.7 L563.5,75.7 L563.6,76.4 L565.9,77.3 L563.7,77.0 L563.7,77.7 L562.0,78.1 L563.8,78.3 L564.2,78.9 L565.2,80.0 L563.8,79.5 L565.3,80.5 L566.2,81.1 L565.2,82.6 L565.8,83.7 L565.5,85.1 L566.4,86.2 L564.1,87.6 L566.5,86.8 L566.0,87.6 L568.6,87.2 L566.1,88.2 L566.1,88.9 L567.9,89.5 L566.2,89.5 L567.1,90.0 L568.7,90.1 L567.2,90.6 L567.5,91.2 L567.1,92.5 L568.1,93.5 L567.7,94.9 L569.7,93.8 L567.9,95.5 L568.5,96.0 L569.4,97.0 L569.1,98.4 L568.5,99.7 L569.9,99.2 L568.6,100.3 L568.4,101.0 L568.7,102.2 L567.1,103.3 L568.8,102.8 L568.6,103.5 L567.1,104.6 L568.8,104.1 L569.9,104.5 L568.2,104.7 L570.0,105.1 L569.9,105.7 L570.6,106.8 L568.7,107.5 L570.7,107.4 L571.0,108.0 M573.0,42.0 L575.5,42.1 L573.0,42.6 L573.4,43.2 L574.8,42.2 L573.4,43.8 L574.0,44.4 L572.7,45.6 L572.6,46.8 L573.8,48.0 L572.0,47.5 L573.9,48.6 L573.2,49.2 L573.1,50.4 L573.3,51.6 L573.4,52.8 L575.2,52.1 L573.4,53.4 L572.7,54.1 L574.1,54.2 L572.7,54.7 L574.0,55.2 L572.6,55.9 L574.0,55.8 L573.6,56.4 L571.3,55.1 L573.7,57.0 L573.1,57.6 L571.3,57.2 L573.2,58.2 L573.0,58.9 L573.8,60.0 L572.4,60.0 L573.8,60.6 L574.8,61.2 L574.3,62.5 L575.1,63.7 L577.1,62.6 L575.1,64.3 L574.7,65.0 L574.7,66.2 L575.0,67.5 L575.3,68.7 L576.1,69.9 L575.2,71.2 L575.4,72.5 L573.2,73.5 L575.5,73.1 L576.2,73.7 L578.6,72.2 L576.2,74.3 L575.6,75.0 L575.0,76.3 L573.5,77.0 L575.1,76.9 L575.9,77.5 L575.9,78.7 L574.4,79.5 L576.0,79.3 L576.0,80.0 M548.0,125.0 L548.0,123.7 L548.6,125.1 L549.4,124.7 L550.3,126.0 L551.5,126.2 L551.2,124.8 L552.1,126.3 L552.8,126.1 L553.2,128.2 L553.4,126.3 L553.9,127.0 L555.3,126.3 L555.4,127.8 L555.9,126.5 L556.3,127.4 L557.8,126.7 L558.2,128.7 L558.4,126.8 L559.1,126.7 L559.5,124.3 L559.6,126.8 L559.9,127.6 L561.1,127.1 L562.4,126.8 L562.4,125.0 L562.9,126.7 L563.8,127.1 L562.6,125.5 L564.4,127.0 L564.9,126.4 L563.6,124.3 L565.5,126.3 L566.2,126.2 L566.5,125.0 L566.8,126.0 L567.2,125.1 L567.8,127.1 L567.8,124.9 L568.5,124.6 L569.7,124.4 L570.9,123.8 L570.2,121.5 L571.5,123.6 L572.2,123.4 L573.7,124.2 L574.3,126.4 L574.3,124.1 L574.7,124.6 L576.1,124.6 L576.9,125.9 L576.5,127.0 L577.4,126.2 L578.4,125.7 L579.9,125.7 L580.5,127.2 L581.8,127.6 L583.0,128.0 M550.0,135.0 L551.1,136.0 L552.6,135.2 L552.5,133.3 L553.1,135.3 L553.9,134.9 L553.8,133.1 L554.5,135.1 L555.2,134.8 L554.3,136.7 L555.8,134.9 L556.5,134.9 L556.5,137.0 L557.1,135.0 L557.6,135.8 L558.7,137.2 L559.9,137.4 L559.6,136.2 L560.5,137.5 L561.3,137.2 L561.3,139.0 L561.9,137.3 L562.5,137.7 L563.0,135.9 L563.0,137.8 L563.8,137.5 L563.9,139.9 L564.4,137.7 L565.1,138.3 L566.1,137.0 L567.6,137.8 L568.8,137.3 L570.0,136.7 L569.5,134.8 L570.6,136.5 L571.2,136.0 L572.4,135.4 L572.9,137.1 L572.9,135.3 L573.5,134.7 L574.9,135.0 L576.3,135.2 L577.7,135.3 L578.6,136.9 L578.3,135.2 L578.9,134.9 L580.0,134.0 M552.0,143.0 L553.3,142.9 L554.1,144.5 L553.9,142.9 L554.5,142.9 L555.7,143.4 L557.0,143.0 L558.2,143.3 L558.8,144.7 L558.8,143.4 L559.4,144.0 L559.7,146.3 L560.0,144.1 L560.6,144.5 L561.8,144.4 L562.6,147.1 L562.4,144.5 L563.2,143.8 L564.3,144.2 L563.5,146.6 L564.9,144.3 L565.6,143.8 L564.8,141.7 L566.2,143.9 L566.9,143.6 L568.1,141.4 L567.5,143.7 L567.8,144.1 L567.6,142.4 L568.4,144.0 L569.3,144.7 L568.8,142.1 L569.8,144.5 L570.5,144.4 L572.0,144.8 L573.0,143.4 L574.3,143.2 L575.1,140.8 L574.9,143.1 L575.4,142.4 L577.0,143.3 L578.1,142.4 L576.7,140.1 L578.7,142.3 L579.3,141.6 L578.9,143.2 L579.8,141.5 L580.6,141.8 L582.1,144.4 L581.2,141.7 L582.0,142.0 M456.0,118.0 L457.3,118.0 L458.6,117.7 L459.8,117.3 L459.1,115.5 L460.4,117.2 L461.0,116.5 L462.2,115.7 L463.5,115.9 L464.2,118.0 L464.1,115.7 L465.0,116.4 L466.4,116.6 L466.0,115.5 L466.9,116.5 L467.7,116.8 L468.9,118.9 L468.3,116.7 L468.9,116.1 L469.8,115.4 L471.5,112.8 L470.3,115.7 L471.0,115.7 L472.0,113.5 L471.6,116.0 L471.8,116.9 L471.9,119.0 L472.3,117.2 L472.7,117.8 L474.5,117.1 L475.2,118.4 L474.3,119.7 L475.8,118.7 L476.8,118.0 L477.5,119.5 L478.9,119.4 L480.0,120.0 M458.0,128.0 L459.4,130.1 L458.6,127.9 L459.3,127.7 L458.9,129.1 L459.9,127.6 L460.5,127.5 L461.7,126.6 L462.8,128.1 L462.3,126.5 L463.1,127.5 L464.0,128.9 L463.7,127.4 L464.4,127.2 L463.7,129.0 L465.0,127.1 L465.7,127.3 L464.7,129.9 L466.3,127.3 L467.0,127.3 L467.0,129.2 L467.6,127.2 L468.1,126.1 L467.1,124.1 L468.7,126.0 L469.5,127.0 L467.9,124.6 L470.1,126.9 L470.7,125.9 L470.2,123.9 L471.3,125.8 L472.0,126.0 L473.4,124.8 L472.6,126.2 L472.9,127.1 L471.5,129.7 L473.5,127.4 L474.0,127.8 L471.9,129.4 L474.6,128.1 L475.6,127.6 L476.6,128.5 L477.9,128.8 L479.1,129.3 L479.1,130.3 L479.6,129.6 L479.9,130.6 L481.6,130.1 L481.8,132.0 L482.1,130.4 L482.7,130.8 L484.1,130.8 L485.2,128.3 L484.7,131.0 L485.0,132.0 M465.0,140.0 L466.4,140.4 L466.4,139.0 L467.0,140.3 L467.7,140.0 L469.1,140.4 L470.2,139.3 L471.5,139.0 L472.9,139.4 L472.4,138.0 L473.5,139.3 L474.1,138.9 L475.4,138.3 L476.8,138.9 L478.2,137.5 L479.1,138.6 L480.3,138.7 L480.7,137.7 L480.9,138.9 L481.2,139.8 L482.1,140.7 L483.2,141.3 L484.4,141.4 L484.6,143.0 L485.0,141.6 L485.8,141.3 L486.9,141.6 L488.0,142.1 L489.1,142.7 L489.3,141.3 L489.6,142.9 L490.3,142.8 L490.9,141.0 L490.9,143.0 L491.6,142.9 L492.9,142.8 L494.1,142.9 L495.0,144.0 M485.0,115.0 L485.0,116.3 L483.0,117.1 L485.3,116.9 L485.3,117.6 L487.8,116.3 L485.5,118.2 L486.1,118.6 L484.1,118.2 L486.3,119.2 L486.3,119.9 L487.7,120.8 L489.5,120.3 L487.9,121.3 L488.2,121.9 L487.6,123.5 L488.0,124.7 L486.0,126.5 L488.2,125.3 L488.9,125.7 L488.9,127.1 L489.5,128.2 L487.8,128.4 L489.7,128.8 L489.5,129.6 L488.4,129.6 L489.7,130.2 L490.4,130.7 L491.4,131.6 L489.8,131.6 L491.6,132.2 L492.5,132.6 L493.5,133.6 L492.0,133.3 L493.8,134.1 L492.8,135.3 L493.0,136.6 L491.4,136.3 L493.3,137.1 L493.7,137.7 L494.1,138.9 L492.2,140.3 L494.4,139.5 L495.0,140.0 M510.0,130.0 L510.4,131.3 L509.0,131.8 L510.8,131.8 L512.0,131.7 L510.7,132.4 L512.3,132.2 L512.8,132.7 L513.8,133.5 L514.1,134.9 L512.5,136.8 L514.5,135.3 L514.4,136.3 L513.5,137.4 L514.8,136.7 L516.0,136.7 L514.3,137.6 L516.4,137.1 L516.2,138.2 L517.5,137.7 L516.6,138.6 L516.6,139.5 L517.7,138.3 L517.0,139.9 L518.0,140.0 L518.3,141.5 L520.1,141.7 L521.8,141.2 L520.5,142.2 L521.5,142.3 L522.3,143.3 L523.4,144.1 L523.4,145.9 L524.1,145.3 L523.8,146.4 L524.0,147.1 L521.2,149.2 L524.4,147.6 L525.0,148.0 M520.0,128.0 L521.0,128.8 L519.5,130.0 L521.4,129.2 L522.4,129.2 L523.0,130.5 L525.0,128.5 L523.4,130.9 L523.5,131.7 L524.9,132.2 L525.5,133.5 L526.6,134.1 L527.0,135.6 L527.9,136.4 L529.0,137.1 L530.8,136.3 L529.5,137.6 L530.5,137.5 L532.0,136.7 L531.0,137.9 L531.2,138.6 L531.5,140.0 L533.0,139.2 L531.9,140.5 L532.6,140.8 L533.1,142.0 L533.7,140.4 L533.5,142.5 L534.7,142.2 L536.1,142.6 L537.0,143.5 L537.3,144.9 L538.0,146.0 M528.0,125.0 L526.8,126.6 L528.4,125.4 L528.7,126.1 L527.2,128.3 L529.1,126.5 L529.3,127.2 L530.1,128.2 L530.9,129.2 L532.1,129.8 L532.8,130.8 L534.2,131.2 L532.7,132.1 L534.7,131.6 L535.2,132.0 L535.5,133.3 L536.7,134.0 L539.7,131.5 L537.1,134.5 L536.9,135.4 L538.7,134.8 L537.2,135.9 L537.4,136.5 L537.9,137.7 L536.5,139.1 L538.2,138.2 L539.3,138.2 L540.3,139.0 L541.0,140.0 M510.0,100.0 L510.7,101.1 L511.6,102.0 L512.0,103.3 L511.9,104.8 L512.9,103.5 L512.1,105.3 L512.5,105.9 L511.6,107.1 L512.8,106.4 L512.8,107.1 L514.3,105.7 L513.1,107.7 L514.3,107.8 L515.8,106.0 L514.6,108.3 L515.6,108.4 L515.8,109.7 L513.9,111.4 L516.2,110.2 L516.3,111.0 L517.0,112.0 M527.0,104.0 L528.9,103.7 L527.3,104.5 L527.3,105.2 L528.0,106.2 L528.1,107.6 L529.6,108.0 L531.3,106.6 L530.0,108.5 L530.9,108.6 L530.8,110.1 L531.0,111.6 L531.9,112.5 L534.3,111.2 L532.3,112.9 L532.9,113.3 L534.0,114.0 M818.1,0.0 L818.3,1.4 L818.5,2.8 L816.5,3.6 L818.4,3.4 L817.6,4.0 L819.5,4.6 L817.5,4.6 L817.3,5.4 L817.3,6.8 L814.5,4.8 L817.2,7.3 L817.0,8.1 L819.3,9.6 L816.9,8.7 L816.2,9.3 L816.6,10.8 L814.3,9.6 L816.5,11.4 L815.5,12.0 L815.5,13.4 L818.0,13.3 L815.4,13.9 L816.3,14.9 L815.2,16.1 L815.2,17.5 L814.6,18.5 L813.2,17.9 L814.2,18.9 L814.3,20.1 L812.8,20.7 L814.6,21.5 L812.5,21.2 L812.7,22.4 L814.2,24.1 L812.3,22.9 L811.8,23.6 L810.4,24.3 L809.7,25.5 L808.3,24.9 L809.3,26.0 L809.3,26.1 L811.1,25.4 L809.7,26.5 L809.8,27.5 L810.1,29.1 L811.3,29.6 L812.2,30.6 L813.2,29.0 L812.7,31.0 L813.3,31.3 L814.0,32.8 L813.3,34.2 L814.4,33.3 L814.5,34.4 L815.6,35.5 L816.2,37.0 L818.2,38.1 L819.5,37.6 L817.8,35.4 L820.1,37.5 L820.8,37.4 L822.0,36.7 L823.4,36.8 L824.6,39.1 L824.0,36.7 L824.8,37.1 L826.1,36.1 L827.2,35.3 L827.8,33.7 L828.5,35.3 L828.3,33.3 L829.5,33.5 L830.9,33.0 L832.3,32.5 L833.3,31.3 L833.9,29.3 L835.4,29.5 L837.7,26.9 L835.9,29.7 L836.8,29.7 L838.1,30.2 L839.0,31.6 L840.5,31.8 L840.9,32.7 L841.7,31.5 L843.4,32.4 L841.8,30.9 L842.3,30.2 L840.5,28.9 L842.4,29.6 L841.6,28.7 L843.7,30.2 L841.7,28.2 L843.0,27.7 L843.8,26.5 L843.5,25.3 L840.3,24.2 L843.9,24.9 L843.8,23.8 L844.9,22.8 L843.6,21.9 L845.3,22.3 L846.0,21.8 L845.2,20.0 L846.3,21.3 L846.1,20.1 L846.7,18.7 L848.1,18.0 L846.1,17.2 L848.5,17.6 L849.8,17.3 L849.0,15.8 L848.9,14.4 L849.2,13.0 L850.6,11.9 L850.4,10.5 L849.9,9.0 L851.4,9.2 L850.0,8.4 L850.0,8.1 L849.4,6.9 L847.6,6.7 L849.2,6.3 L849.5,5.4 L849.3,3.9 L849.7,2.3 L847.9,1.5 L847.8,0.0 M692.0,124.0 L693.4,123.8 L694.7,123.3 L696.1,123.1 L697.6,123.2 L698.9,122.7 L697.8,121.5 L699.5,122.5 L700.0,121.4 L699.7,123.7 L700.6,121.7 L701.6,121.6 L702.5,122.9 L704.2,122.8 L705.3,123.7 L706.2,125.2 L707.5,125.7 L708.2,126.2 L709.4,127.3 L710.4,128.5 L708.8,128.3 L710.5,129.1 L710.0,130.0 L710.4,131.3 L712.8,132.0 L710.5,131.9 L710.6,132.7 L711.1,134.1 L710.5,135.3 L709.5,136.2 L708.5,137.0 L707.0,137.5 L709.0,138.1 L706.6,138.0 L706.9,139.2 L705.1,137.7 L706.5,139.6 L706.1,140.2 L705.0,141.0 L703.6,140.2 L702.0,140.7 L700.5,140.9 L699.0,140.1 L698.2,138.0 L698.4,140.0 L697.6,139.7 L696.7,137.9 L697.0,139.6 L696.0,140.0 L695.7,138.6 L695.0,137.4 L693.5,136.8 L692.6,135.8 L693.6,135.1 L692.3,135.3 L692.5,134.3 L691.3,133.4 L691.2,132.0 L691.0,130.7 L691.4,129.3 L691.2,128.0 L692.8,129.0 L691.2,127.4 L691.7,126.7 L692.0,125.4 L692.0,124.0 Z M640.0,98.0 L641.0,99.0 L641.8,100.2 L641.9,98.1 L642.4,100.4 L643.2,100.3 L643.0,101.6 L643.7,100.6 L644.8,99.9 L645.8,98.5 L645.4,100.1 L646.3,99.6 L647.0,98.0 L646.9,99.9 L647.4,100.3 L648.5,101.1 L649.1,98.7 L649.0,101.3 L649.2,102.7 L649.6,100.9 L649.7,102.9 L650.7,102.5 L651.6,103.6 L652.9,100.9 L652.1,103.8 L653.2,103.2 L651.4,104.8 L653.7,103.5 L654.5,103.5 L654.6,105.7 L655.1,103.8 L655.4,104.5 L656.9,103.0 L655.9,104.8 L656.3,105.3 L657.7,105.3 L658.3,106.7 L659.1,107.9 L657.9,109.8 L659.6,108.2 L660.7,107.3 L662.7,104.7 L661.3,107.6 L661.9,107.7 L662.5,106.2 L662.4,108.0 L662.9,108.5 L664.1,106.4 L663.4,108.8 L663.9,109.1 L666.0,106.6 L664.5,109.4 L665.3,109.1 L665.7,110.9 L666.3,110.0 L666.3,111.2 L666.7,111.7 L668.1,110.8 L667.2,112.0 L667.6,112.5 L669.1,112.4 L670.2,112.8 L671.9,110.9 L670.7,113.1 L671.3,113.4 L672.7,113.3 L671.3,114.6 L673.2,113.5 L673.1,115.0 L672.9,116.8 L673.7,115.3 L674.4,115.2 L675.2,116.4 L674.3,118.1 L675.7,116.6 L676.7,116.1 L677.8,116.6 L676.1,119.0 L678.3,116.9 L678.5,118.0 L679.4,118.7 L677.8,120.7 L680.0,119.0 L680.4,119.4 L682.0,119.1 L683.3,119.2 L684.9,116.9 L683.9,119.5 L684.5,119.2 L683.0,120.9 L685.0,119.4 L685.5,119.9 L686.6,120.3 L687.3,122.1 L686.8,124.0 L687.8,122.3 L688.7,121.8 L689.5,120.0 L689.2,122.0 L689.8,122.1 L690.6,123.6 L690.7,125.7 L691.2,123.8 L691.8,123.8 L690.8,125.9 L692.4,124.0 L693.0,124.0 L694.2,124.2 L695.4,124.4 L696.5,125.0 L698.1,122.8 L697.1,125.2 L697.4,126.1 L698.6,126.3 L700.0,125.0 L699.2,126.5 L700.3,125.7 L699.5,126.7 L700.7,126.0 L701.3,126.3 L703.0,124.7 L701.8,126.6 L701.9,127.5 L699.8,129.2 L702.3,127.9 L702.1,129.1 L703.4,129.4 L705.9,127.9 L703.9,129.8 L704.9,129.5 L705.8,130.3 L706.3,131.6 L707.3,129.2 L706.8,132.0 L706.7,132.9 L706.1,133.8 L707.2,133.3 L707.9,133.4 L709.1,133.9 L710.5,134.1 L710.7,135.7 L709.7,136.6 L711.1,136.1 L711.2,136.6 L711.6,137.9 L712.4,138.9 L713.7,139.5 L714.9,138.1 L714.0,140.0 L714.4,140.6 L715.5,141.3 L718.2,139.3 L715.8,141.8 L716.8,141.8 L717.1,143.2 L718.8,142.1 L717.5,143.7 L717.5,144.5 L718.3,145.5 L716.5,147.5 L718.6,146.0 L718.9,146.6 L719.8,147.5 L718.5,148.1 L720.2,148.0 L721.6,147.7 L721.7,149.2 L722.9,149.8 L723.5,150.9 L725.0,151.2 L723.1,152.9 L725.4,151.7 L725.0,152.8 L726.6,153.0 L725.9,154.2 L727.0,153.5 L727.2,154.1 L728.4,153.7 L727.6,154.6 L727.6,155.4 L727.6,157.0 L729.3,157.2 L730.8,156.1 L729.7,157.6 L729.6,158.5 L730.9,159.0 L732.3,159.4 L733.2,160.2 L730.7,162.5 L733.6,160.7 L733.6,161.1 L735.0,158.8 L734.1,161.4 L734.2,162.5 L735.3,160.9 L734.7,162.9 L734.9,163.9 L736.7,163.5 L737.4,164.8 L739.0,164.6 L739.8,165.8 L739.0,167.7 L740.3,166.1 L740.4,167.3 L740.7,165.5 L740.9,167.6 L741.9,167.4 L742.6,168.7 L743.9,167.4 L743.1,169.0 L743.6,169.5 L743.0,170.5 L744.1,169.8 L744.5,170.5 L746.0,170.5 L746.9,171.6 L746.7,172.5 L747.4,171.9 L748.3,171.7 L749.3,172.5 L750.1,173.7 L750.3,175.1 L750.7,174.0 L751.8,173.2 L752.6,171.0 L752.3,173.4 L752.9,173.9 L754.0,174.5 L753.4,175.7 L754.5,174.8 L754.9,175.6 L756.5,175.3 L756.1,177.3 L757.0,175.6 L757.4,176.3 L758.8,174.6 L757.9,176.6 L758.4,177.2 L759.7,177.3 L760.9,177.9 L762.1,178.3 L762.9,179.6 L762.7,181.3 L763.5,179.8 L764.4,179.1 L763.7,180.7 L764.9,179.3 L765.5,179.6 L766.6,179.9 L767.6,180.9 L768.5,181.9 L769.9,181.4 L770.2,182.7 L770.5,181.6 L770.8,182.5 L772.5,181.5 L773.6,182.0 L774.8,179.6 L774.2,182.2 L774.8,182.1 L775.8,182.9 L774.5,184.4 L776.4,183.1 L776.8,183.6 L775.5,185.8 L777.4,183.8 L777.8,185.0 L779.2,184.2 L780.5,184.1 L781.2,182.7 L781.1,184.2 L781.5,185.2 L782.7,185.7 L784.1,185.0 L783.7,187.0 L784.7,185.1 L785.3,184.8 L786.6,184.6 L787.6,182.6 L787.2,184.6 L787.7,185.8 L788.9,185.7 L788.8,184.2 L789.5,185.8 L790.0,186.8 L791.3,186.1 L790.2,187.8 L791.9,186.2 L792.4,187.3 L791.7,184.9 L793.0,187.3 L793.6,187.4 L795.0,186.7 L796.2,187.0 L797.5,187.6 L798.1,185.1 L798.1,187.6 L798.7,187.5 L799.9,187.3 L800.4,189.3 L800.5,187.3 L801.2,187.3 L801.7,189.9 L801.8,187.3 L802.4,187.7 L801.7,186.2 L803.0,187.7 L803.6,187.6 L803.8,189.1 L804.2,187.6 L804.8,187.3 L804.0,189.0 L805.4,187.3 L806.1,187.8 L807.3,187.0 L807.4,188.5 L807.9,187.0 L808.5,186.8 L809.8,186.6 L810.5,185.7 L810.1,184.5 L811.1,185.4 L812.1,185.9 L813.5,185.7 L813.8,187.3 L814.0,185.4 L813.9,184.0 L814.6,185.3 L814.4,183.7 L814.8,183.1 L816.1,182.8 L817.3,182.4 L818.8,182.6 L819.7,184.2 L819.4,182.3 L819.8,181.7 L820.1,183.9 L820.3,181.4 L820.4,180.3 L818.6,178.9 L820.9,180.0 L822.0,180.5 L822.7,181.4 L822.5,180.2 L822.5,178.9 L823.2,180.7 L823.0,178.6 L824.0,179.0 M508.9,162.3 L509.6,164.5 L509.5,162.1 L510.3,162.7 L511.4,162.1 L512.6,161.8 L513.7,161.1 L514.8,160.3 L515.9,160.1 L517.4,160.3 L519.1,157.4 L517.8,160.7 L517.8,161.6 L515.2,162.9 L518.2,162.1 L518.3,162.9 L519.5,163.4 L520.8,163.7 L521.1,165.2 L522.0,165.4 L523.2,165.0 L524.4,166.3 L525.6,165.9 L526.8,165.2 L528.8,165.4 L526.8,167.5 L529.1,165.9 L529.5,166.4 L530.1,167.5 L530.7,168.6 L530.9,170.0 L531.1,171.4 L531.6,171.8 L531.5,173.1 L533.3,173.8 L531.4,173.7 L531.6,174.5 L531.1,175.7 L531.6,177.1 L533.1,177.3 L531.4,177.7 L530.7,178.2 L531.1,179.6 L530.1,180.7 L529.8,182.0 L530.0,183.4 L530.2,184.8 L530.7,186.1 L532.5,186.0 L530.8,186.7 L530.7,187.5 L531.1,188.8 L533.7,187.3 L531.3,189.4 L531.4,189.4 L530.5,190.4 L529.8,191.6 L528.4,192.1 L528.2,193.9 L527.4,192.2 L527.7,194.3 L527.2,194.8 L525.3,193.3 L526.8,195.2 L526.4,195.0 L525.1,194.7 L524.4,196.4 L524.6,194.4 L523.9,194.2 L522.8,195.8 L523.4,193.9 L522.6,194.1 L521.3,193.7 L520.3,193.1 L519.7,191.8 L519.1,190.6 L518.5,189.6 L516.6,190.3 L518.2,189.1 L517.9,188.5 L516.7,187.8 L515.9,186.9 L515.4,185.7 L514.6,184.7 L513.7,183.8 L512.2,183.4 L511.2,182.2 L511.8,180.7 L511.9,179.4 L511.8,178.1 L513.3,177.7 L511.6,177.6 L511.6,176.9 L510.5,175.8 L512.2,175.9 L510.4,175.2 L510.5,174.5 L510.5,173.2 L510.9,171.9 L510.3,170.7 L512.2,171.5 L510.2,170.1 L509.2,169.6 L511.0,169.9 L509.2,169.0 L510.1,168.3 L509.9,167.1 L509.1,166.0 L508.4,164.8 L508.4,163.6 L508.9,162.3 Z M534.3,158.4 L535.6,158.2 L536.7,157.3 L538.0,156.7 L538.6,155.0 L538.6,156.6 L539.4,157.2 L540.7,157.2 L541.8,157.7 L543.1,157.5 L544.4,157.6 L545.5,156.1 L544.9,157.9 L545.7,157.7 L546.9,157.8 L548.0,158.3 L549.1,159.0 L551.1,159.8 L549.4,160.8 L551.2,160.4 L550.1,161.3 L550.1,162.6 L550.0,163.9 L551.0,165.0 L551.5,166.2 L552.1,167.4 L550.2,167.5 L552.2,168.0 L552.4,168.6 L550.1,168.4 L552.6,169.2 L552.7,170.2 L551.2,171.1 L550.2,172.2 L550.7,173.7 L550.0,174.9 L549.6,176.1 L549.1,177.3 L548.6,178.5 L548.6,180.1 L550.6,180.6 L548.7,180.7 L549.8,181.2 L549.9,182.5 L550.2,183.8 L549.9,185.2 L550.4,186.4 L550.3,187.7 L550.6,189.0 L550.6,190.3 L551.0,191.4 L549.7,191.2 L551.0,188.4 L549.1,191.1 L548.3,191.4 L547.9,193.0 L547.7,191.4 L546.9,192.1 L545.6,191.7 L544.3,191.7 L543.2,190.8 L542.5,189.7 L541.3,189.0 L539.9,188.4 L539.0,187.5 L538.1,186.6 L538.0,184.9 L536.9,184.0 L536.3,182.9 L535.7,181.7 L537.2,181.3 L535.7,181.1 L536.3,180.4 L536.3,179.2 L537.8,179.0 L536.3,178.6 L537.0,178.0 L535.3,178.5 L536.9,177.4 L537.1,176.7 L535.9,175.6 L538.0,176.1 L535.8,175.0 L535.7,174.4 L536.0,173.2 L535.2,172.1 L533.1,173.0 L535.2,171.5 L535.3,170.8 L534.8,169.6 L534.3,168.4 L534.2,167.2 L534.8,165.9 L535.5,164.5 L534.9,163.3 L533.0,162.8 L534.8,162.8 L535.1,162.1 L535.4,160.8 L534.2,159.7 L534.3,158.4 Z M557.7,156.4 L558.8,155.7 L560.0,155.4 L559.0,153.7 L560.6,155.3 L561.0,154.5 L562.4,155.0 L562.1,156.7 L563.0,154.9 L563.6,154.7 L565.0,155.1 L565.9,154.4 L567.2,155.0 L568.5,155.2 L570.4,153.3 L569.1,155.3 L570.0,154.8 L571.5,154.6 L572.8,155.2 L574.7,155.3 L575.7,156.0 L576.3,157.1 L576.9,158.3 L577.8,159.1 L578.4,160.2 L578.7,161.6 L580.4,162.1 L578.8,162.6 L580.3,162.7 L579.6,163.2 L578.8,164.3 L579.6,165.6 L579.2,166.8 L578.6,167.9 L578.3,169.1 L578.7,170.4 L577.1,169.4 L578.6,171.0 L579.2,171.7 L579.1,172.9 L577.9,174.0 L576.1,174.2 L578.0,174.6 L578.6,175.1 L578.8,176.3 L580.8,175.6 L578.9,176.9 L578.6,177.6 L579.2,178.7 L578.6,180.1 L578.4,181.3 L580.3,181.0 L578.5,181.9 L578.3,182.6 L579.8,183.6 L579.5,184.8 L579.7,185.9 L580.0,187.3 L579.6,188.5 L579.3,189.8 L579.2,191.1 L578.9,192.3 L577.7,193.3 L577.8,194.6 L577.4,195.8 L574.4,194.4 L577.3,196.4 L576.7,196.9 L576.3,198.2 L578.0,199.2 L576.2,198.8 L575.7,200.0 L574.6,202.0 L575.2,199.8 L574.6,199.6 L573.5,199.0 L572.6,197.8 L573.9,196.4 L572.1,197.6 L571.6,197.0 L570.3,196.9 L569.0,196.9 L567.3,196.5 L567.4,194.9 L567.1,193.5 L566.6,192.4 L568.5,191.2 L566.2,191.9 L565.4,191.7 L564.9,190.5 L564.4,189.4 L562.9,191.1 L564.0,188.9 L563.5,188.5 L565.5,188.0 L563.1,188.0 L563.0,187.7 L562.4,186.5 L560.9,185.7 L561.3,184.2 L561.3,182.9 L559.9,182.0 L559.0,181.0 L561.1,180.7 L558.8,180.4 L559.1,179.6 L557.5,180.4 L558.9,179.1 L559.2,178.3 L558.9,177.0 L557.6,176.1 L557.1,174.9 L557.1,173.6 L556.6,172.4 L559.3,172.7 L556.4,171.8 L557.0,171.0 L556.5,169.8 L555.8,168.6 L555.9,167.3 L556.0,166.0 L556.3,164.8 L556.4,163.6 L556.3,162.3 L556.0,161.1 L556.0,159.8 L557.4,158.8 L557.4,157.6 L557.7,156.4 Z M534.3,191.6 L535.7,191.6 L536.8,192.7 L536.3,194.4 L537.3,192.9 L538.1,192.9 L539.6,192.6 L540.8,189.8 L540.2,192.7 L540.7,193.5 L542.5,193.5 L544.2,192.7 L542.9,193.9 L543.0,194.7 L543.8,195.6 L544.6,196.6 L545.0,197.8 L545.8,198.8 L547.0,199.3 L548.3,199.7 L549.0,200.7 L550.2,201.3 L550.5,202.7 L551.4,201.5 L551.0,203.1 L551.5,203.5 L552.4,204.4 L553.4,205.1 L554.3,206.0 L554.8,207.3 L556.1,208.2 L554.7,208.9 L553.9,209.9 L553.4,211.1 L553.0,212.3 L552.9,213.6 L553.2,215.2 L551.9,215.6 L551.5,217.1 L551.3,215.9 L550.6,215.7 L549.5,216.2 L548.2,216.3 L547.4,217.5 L547.3,219.2 L546.8,217.7 L546.3,218.0 L546.5,220.7 L545.7,218.2 L545.0,218.2 L543.9,219.0 L543.0,218.0 L541.7,217.4 L540.6,216.7 L540.2,215.2 L542.0,213.9 L539.8,214.8 L539.4,214.3 L536.7,216.9 L539.0,213.8 L539.3,212.6 L539.0,211.6 L538.7,210.3 L537.2,209.4 L536.1,208.4 L536.0,207.0 L535.5,205.7 L535.5,204.3 L534.1,203.4 L534.0,202.0 M520.6,216.0 L521.6,215.0 L522.9,215.4 L524.2,215.7 L525.2,214.7 L527.1,217.5 L525.8,214.6 L526.5,215.0 L527.7,214.5 L528.9,214.7 L530.2,213.7 L531.6,214.0 L532.0,215.5 L531.3,216.5 L532.5,215.8 L533.1,216.1 L533.7,217.4 L534.7,216.1 L534.2,217.7 L534.8,218.0 L536.3,218.2 L537.0,219.2 L538.4,219.9 L540.7,218.6 L538.6,220.5 L539.0,221.1 L540.9,220.6 L539.1,221.7 L538.2,222.6 L538.6,223.8 L538.6,225.1 L539.3,226.3 L537.6,227.0 L539.5,226.8 L539.4,227.5 L540.2,228.7 L539.8,229.7 L538.7,230.5 L537.8,231.5 L537.0,232.5 L536.9,234.0 L535.9,235.0 L534.3,233.7 L535.6,235.4 L535.6,236.3 L533.7,235.6 L535.3,236.8 L534.8,237.3 L536.0,237.8 L534.4,237.8 L534.0,238.5 L532.6,238.9 L531.2,238.9 L530.1,237.9 L529.0,237.2 L527.8,236.8 L526.4,237.1 L525.4,235.8 L523.5,236.2 L522.7,235.2 L522.4,233.9 L521.6,232.9 L521.3,231.7 L520.8,230.5 L520.8,229.0 L519.7,228.0 L520.3,226.8 L519.5,225.6 L520.3,224.4 L520.0,223.2 L520.7,222.0 L520.6,220.8 L519.9,219.6 L520.4,218.4 L518.7,219.3 L520.4,217.8 L519.8,217.2 L520.6,216.0 Z M549.2,222.0 L549.4,220.7 L550.2,219.7 L549.9,218.2 L550.9,217.2 L548.5,217.1 L551.1,216.7 L551.3,216.1 L551.8,214.9 L551.9,213.6 L549.6,212.7 L552.2,213.0 L552.0,212.2 L553.5,211.5 L553.9,210.3 L555.2,208.8 L554.3,210.7 L555.2,210.7 L555.9,211.8 L556.4,213.1 L554.3,215.5 L556.8,213.5 L557.3,213.9 L558.3,214.7 L558.8,216.0 L559.5,217.1 L561.2,214.5 L559.9,217.5 L560.5,218.3 L562.2,217.8 L563.0,216.2 L562.7,218.1 L563.6,217.9 L564.6,218.9 L565.9,219.3 L566.8,220.3 L567.8,221.3 L569.4,221.0 L570.5,221.8 L571.6,222.6 L572.6,223.4 L571.0,225.8 L573.0,223.8 L572.4,225.1 L573.4,225.9 L573.8,227.2 L574.4,228.4 L575.0,229.4 L575.6,230.6 L576.4,231.5 L578.0,231.9 L578.5,233.1 L579.8,232.5 L578.9,233.5 L579.7,233.7 M700.0,278.0 L700.4,279.2 L700.7,280.5 L702.0,279.5 L700.9,281.1 L702.2,281.2 L702.4,282.5 L700.4,283.0 L702.7,283.0 L703.7,283.3 L703.2,285.0 L700.5,284.8 L703.5,285.5 L703.5,286.3 L704.6,287.1 L705.6,288.1 L705.5,289.7 L706.5,290.5 L709.0,288.1 L706.9,290.9 L708.0,290.8 L710.9,288.7 L708.4,291.2 L709.1,291.4 L710.1,292.2 L710.1,294.0 L711.7,294.2 L712.0,295.6 L713.4,296.1 L712.4,297.6 L713.8,296.5 L714.2,297.0 L714.6,298.3 L715.2,299.5 L716.0,298.8 L715.6,300.0 L716.5,300.0 L717.6,300.5 L719.8,297.9 L718.1,300.9 L718.0,302.3 L719.2,302.8 L720.8,302.9 L721.9,303.6 L723.1,304.2 L723.6,305.6 L725.0,305.9 L724.0,308.6 L725.5,306.3 L726.2,306.5 L727.2,307.4 L728.3,308.1 L725.5,309.7 L728.7,308.5 L728.3,308.9 L729.7,308.7 L730.9,308.0 L732.4,307.9 L730.1,306.8 L732.9,307.6 L733.7,307.6 L734.9,307.0 L734.2,305.6 L735.4,306.7 L736.0,306.4 L737.1,305.7 L737.3,303.8 L739.9,305.0 L737.5,303.2 L738.6,302.9 L739.3,301.8 L737.2,300.6 L739.5,301.2 L739.6,300.5 L739.3,299.0 L739.9,297.8 L741.6,299.3 L740.1,297.3 L740.1,296.5 L740.7,295.3 L741.3,294.2 L741.2,292.8 L741.6,291.6 L742.9,291.6 L741.8,291.0 L741.9,290.3 L742.1,289.7 L744.5,290.0 L742.0,289.1 L741.5,288.6 L742.1,287.2 L741.2,286.1 L740.9,284.9 L738.5,284.2 L740.7,284.4 L741.4,283.5 L741.7,282.1 L741.9,280.8 L740.4,280.0 L740.8,278.6 L742.6,277.7 L740.6,278.0 L739.3,277.7 L739.1,276.5 L736.7,277.7 L738.9,275.9 L739.3,275.1 L739.0,274.0 L738.1,272.9 L737.6,271.8 L736.8,270.7 L737.5,269.1 L738.8,269.4 L739.9,267.7 L739.3,269.7 L739.7,270.3 L741.0,270.4 L742.1,271.0 L743.2,271.5 L744.2,272.2 L744.8,273.7 L746.3,273.5 L746.7,275.1 L748.3,274.9 L748.9,276.3 L750.4,276.1 L751.0,277.6 L752.5,277.5 L752.4,280.1 L753.0,277.8 L753.1,278.8 L754.5,278.8 L755.6,279.4 L756.8,276.7 L756.1,279.7 L756.9,279.6 L757.5,281.0 L758.9,280.9 L757.6,283.9 L759.4,281.2 L759.6,282.3 L760.6,282.9 L761.6,283.6 L763.2,283.2 L763.8,284.7 L765.2,284.4 L766.5,284.7 L767.1,286.2 L766.9,283.0 L767.6,286.4 L768.0,286.9 L769.6,286.5 L770.9,286.6 L771.4,288.3 L771.4,287.0 L772.0,288.5 L772.7,288.5 L773.7,289.1 L775.0,286.5 L774.2,289.4 L774.5,290.2 L775.2,288.6 L775.0,290.5 L776.1,289.6 L774.1,291.7 L776.7,289.9 L776.9,290.8 L777.6,288.8 L777.4,291.1 L778.3,290.6 L776.3,292.3 L778.9,290.9 L778.9,292.1 L777.2,294.2 L779.4,292.4 L780.0,292.6 L779.9,291.4 L780.5,292.9 L781.2,293.0 L782.3,293.3 L783.5,293.7 L782.3,296.1 L784.0,294.0 L784.8,293.8 L785.8,294.5 L784.6,296.6 L786.3,294.8 L787.1,294.5 L785.2,297.4 L787.7,294.8 L787.7,296.1 L788.9,296.3 L790.0,296.8 L791.1,297.3 L792.4,297.1 L793.6,297.3 L792.5,299.6 L794.2,297.5 L794.5,298.5 L793.2,300.5 L795.1,298.7 L795.8,298.4 L797.0,298.5 L797.0,296.0 L797.6,298.7 L797.9,299.8 L799.0,300.5 L800.0,301.1 L800.6,299.5 L800.6,301.3 L801.4,301.0 L802.3,299.1 L801.9,301.2 L802.8,300.7 L801.6,303.1 L803.3,300.8 L803.9,301.2 L804.9,301.9 L806.2,301.8 L806.5,299.9 L806.8,301.9 L807.5,301.8 L808.4,303.1 L809.1,302.9 L808.1,300.9 L809.7,302.7 L810.3,302.7 L809.7,305.4 L810.9,302.5 L811.3,301.9 L812.7,302.1 L813.7,301.2 L814.9,301.2 L816.1,300.7 L817.3,300.4 L818.4,299.9 L819.7,300.1 L820.7,299.1 L822.1,299.5 L821.7,298.1 L822.6,299.3 L823.1,298.8 L824.0,297.7 L825.6,298.6 L826.8,297.8 L827.2,299.0 L827.3,298.0 L827.8,299.0 L826.9,300.5 L828.4,299.1 L829.4,298.3 L830.5,299.0 L832.0,298.7 L830.5,300.6 L832.6,298.9 L833.2,299.1 L834.3,300.3 L835.6,300.4 L836.6,298.7 L836.2,300.6 L837.1,300.2 L838.1,301.2 L839.3,301.8 L840.7,301.7 L841.5,300.2 L841.2,302.0 L842.1,301.9 L842.9,303.1 L844.0,303.8 L844.8,305.1 L844.1,306.5 L845.3,305.4 L845.9,305.7 L844.2,307.7 L846.4,305.9 L846.9,306.6 L847.8,304.2 L847.4,306.9 L848.3,306.6 L849.1,307.3 L846.4,308.3 L849.5,307.8 L850.1,308.0 L851.2,308.7 L851.9,309.8 L849.5,311.2 L852.4,310.2 L852.5,311.0 L851.0,311.7 L852.9,311.4 L853.5,311.7 L854.3,312.5 L854.6,313.8 L855.3,314.8 L856.9,315.2 L857.9,316.0 L856.0,317.6 L858.2,316.5 L858.5,317.0 L859.3,318.0 M949.5,856.0 L950.5,856.5 M736.2,925.7 L736.0,927.0 L736.3,928.4 L736.3,929.7 L736.5,931.0 L736.2,932.3 L736.4,933.6 L736.2,935.0 L736.4,936.4 L735.4,937.5 L734.7,938.9 L733.8,940.0 L732.7,941.0 L733.7,941.8 L734.5,942.9 L735.5,943.7 L736.4,944.7 L737.4,945.6 L736.7,947.1 L736.3,948.7 L736.2,950.3" fill="none" stroke="#000" stroke-width="2.2" stroke-linejoin="round" stroke-linecap="round"/>
<path d="M140.0,177.5 L140.9,175.2 L140.6,177.6 L141.4,178.6 L141.6,176.1 L142.0,178.8 L143.2,177.9 L144.6,178.8 L146.1,179.8 L147.9,179.0 L147.9,176.8 L148.5,179.2 L149.5,179.4 L150.9,180.5 L152.5,180.5 L154.3,180.4 L156.1,180.8 L156.8,182.8 L156.7,180.8 L157.9,180.6 L157.6,182.1 L158.5,180.6 L159.6,180.3 L161.4,180.8 L161.3,178.5 L162.0,180.8 L163.2,179.9 L164.9,180.3 L165.4,181.6 L165.5,180.2 L166.5,180.0 L167.8,181.9 L167.1,179.8 L168.1,179.7 L168.0,177.6 L168.7,179.5 L169.6,179.0 L168.7,177.6 L170.2,178.8 L171.2,179.0 L172.7,178.4 L171.4,176.5 L173.3,178.3 L174.4,178.6 L173.8,177.1 L175.0,178.4 L175.9,177.8 L177.5,178.2 L177.7,176.3 L178.1,178.2 L179.2,177.6 L179.2,176.0 L179.8,177.6 L180.8,176.7 L182.6,177.5 L183.3,175.8 L183.2,177.5 L184.3,177.3 L186.0,177.6 L186.8,178.9 L186.6,177.5 L187.7,177.8 L188.8,177.4 L190.1,178.7 L191.3,180.0 L192.5,181.4 L194.4,179.8 L193.0,181.8 L194.8,181.7 L195.9,183.1 L195.6,183.9 L196.4,183.5 L197.0,184.4 L198.5,185.2 L197.2,186.5 L199.0,185.6 L200.1,185.9 L198.6,187.2 L200.6,186.3 L201.2,187.2 L202.1,186.4 L201.7,187.6 L202.7,188.1 L203.6,189.6 L205.4,190.1 L207.2,189.8 L208.3,192.1 L207.8,189.8 L209.0,189.8 L210.9,190.6 L212.7,189.3 L214.5,190.1 L216.4,189.1 L218.0,189.0 L219.5,189.4 L221.1,189.7 L222.1,187.7 L221.7,189.8 L222.6,190.4 L224.2,190.6 L224.6,192.2 L224.8,190.7 L225.8,190.7 L227.4,191.5 L226.4,193.0 L227.9,191.5 L228.9,191.9 L228.6,194.3 L229.5,192.0 L230.6,191.5 L232.2,191.7 L233.9,191.1 L232.7,193.2 L234.4,191.2 L235.4,191.3 L237.0,191.5 L238.6,191.9 L240.1,192.4 L241.9,191.9 L243.3,193.0 L244.8,193.7 L245.8,192.1 L245.4,193.8 L246.4,194.2 L248.0,194.4 M248.0,200.8 L249.9,200.8 L248.3,201.3 L249.2,202.2 L247.7,202.3 L249.5,202.7 L249.4,204.1 L251.0,202.5 L249.6,204.6 L250.9,205.2 L251.5,207.0 L252.1,208.6 L252.7,210.2 L251.2,211.4 L252.9,210.7 L252.8,212.0 L250.1,213.6 L253.0,212.5 L253.0,213.7 L253.8,215.2 L254.5,216.8 L255.0,218.5 L256.4,219.8 L256.8,221.5 L257.7,223.0 L255.4,222.4 L257.9,223.5 L258.7,224.4 L259.7,225.8 L259.3,227.7 L259.3,229.5 L257.4,231.0 L259.4,230.1 L260.3,230.9 L261.3,232.3 L262.4,233.6 L262.7,235.2 L263.2,236.8 L263.4,238.5 L264.3,239.8 L266.3,238.9 L264.6,240.3 L264.6,241.5 L262.5,243.2 L264.9,242.0 L265.8,242.7 L267.4,240.9 L266.1,243.2 L266.9,243.9 L267.1,245.6 L267.3,247.4 L267.7,249.0 L269.1,250.1 L270.6,251.1 L270.6,253.0 L272.3,253.8 L273.1,255.4 L275.4,254.1 L273.4,256.0 L273.6,257.2 L273.8,259.1 L275.3,260.3 L276.0,262.0 M264.3,346.0 L264.7,344.2 L264.9,346.2 L266.3,346.0 L265.8,343.5 L266.9,346.1 L268.2,346.9 L269.2,348.0 L269.5,349.5 L270.9,348.4 L269.8,350.0 L270.2,350.8 L272.9,350.1 L270.5,351.3 L271.0,352.0 L271.6,353.3 L269.0,354.8 L271.8,353.9 L271.7,354.8 L269.5,356.6 L271.9,355.4 L272.1,356.1 L272.4,357.5 L273.3,358.7 L275.1,359.0 L273.5,359.3 L273.3,360.2 L274.1,361.3 L275.5,360.5 L274.3,361.9 L274.5,362.6 L275.3,363.7 L275.6,365.0 L276.3,366.1 L274.4,366.1 L276.5,366.7 L276.6,367.4 L277.1,368.6 L277.0,370.0 L278.8,371.3 L276.9,370.6 L277.2,371.5 L277.2,372.9 L276.1,374.1 L275.5,375.3 L275.9,376.8 L275.2,378.1 L275.0,379.5 L274.0,378.2 L274.2,375.9 L273.5,377.9 L272.5,377.7 L271.2,377.0 L271.7,376.1 L270.7,376.6 L270.0,376.0 L268.1,377.0 L269.9,375.4 L270.1,374.6 L269.0,373.6 L268.2,372.5 L266.6,372.2 L268.0,371.9 L268.1,371.1 L267.6,369.9 L266.9,368.8 L266.3,367.6 L266.1,366.2 L266.7,364.6 L265.8,363.3 L268.1,362.2 L265.7,362.7 L266.2,361.7 L268.0,361.4 L266.1,361.1 L266.1,360.2 L265.5,358.9 L264.2,359.6 L265.4,358.3 L265.6,357.4 L268.0,357.0 L265.5,356.8 L264.7,356.0 L265.1,354.6 L264.3,353.2 L265.1,351.7 L266.4,351.4 L265.0,351.1 L264.3,350.3 L265.9,350.5 L264.3,349.7 L263.9,348.9 L264.2,347.4 L264.3,346.0 Z M451.0,112.0 L452.1,114.1 L451.5,111.7 L452.5,111.9 L454.5,113.3 L453.0,111.6 L453.3,110.7 L454.6,112.3 L453.9,110.4 L454.2,109.4 L455.3,108.8 L455.2,106.6 L455.9,108.5 L456.3,107.7 L457.7,106.6 L459.3,107.6 L460.6,107.3 L462.1,107.4 L463.2,106.1 L464.7,106.3 L465.9,106.3 L467.5,105.9 L468.0,104.2 L468.0,106.0 L468.6,107.1 L469.9,107.5 L470.3,108.9 L470.5,107.6 L471.3,107.6 L472.6,108.1 L474.1,107.9 L475.0,108.9 L476.5,108.9 L477.6,109.5 L478.8,110.0 L477.1,111.6 L479.3,110.3 L479.6,111.2 L480.7,112.0 L480.1,113.1 L479.8,114.3 L482.2,114.9 L479.6,114.8 L479.9,115.6 L479.5,116.7 L479.1,117.8 L478.8,119.0 L481.9,119.9 L478.6,119.6 L477.9,120.0 L475.8,119.2 L477.6,120.5 L477.2,120.9 L477.1,122.3 L475.8,122.9 L473.9,121.3 L475.5,123.4 L474.9,123.7 L472.8,121.6 L474.6,124.2 L474.4,124.8 L476.9,125.1 L474.0,125.3 L474.0,126.0 L472.8,126.8 L472.8,128.5 L471.5,129.3 L470.3,130.2 L469.9,132.1 L468.7,130.9 L467.5,130.1 L466.6,132.3 L466.9,130.0 L466.3,129.5 L465.1,131.9 L465.7,129.4 L464.8,129.8 L463.4,130.0 L464.9,127.6 L462.8,129.9 L462.0,130.0 L461.0,129.3 L460.3,128.2 L461.0,127.2 L459.9,127.8 L460.0,126.9 L458.7,126.4 L458.3,125.1 L456.9,124.8 L458.1,123.1 L456.5,124.3 L455.8,124.1 L453.8,124.7 L455.4,123.6 L455.9,122.6 L455.0,121.8 L456.6,119.6 L454.7,121.3 L453.9,121.1 L452.6,120.5 L454.2,120.0 L452.2,120.0 L452.2,119.3 L455.2,116.5 L451.9,118.8 L452.6,117.9 L451.0,118.0 L452.5,117.3 L451.7,116.8 L451.1,115.7 L452.8,115.7 L451.0,115.1 L451.2,114.4 L451.7,113.1 L451.0,112.0 Z M462.0,124.0 L463.2,123.7 L464.1,122.6 L465.3,122.3 L465.7,124.2 L465.8,122.1 L466.8,122.9 L466.9,124.6 L467.3,122.6 L467.9,122.3 L466.2,119.6 L468.5,122.1 L468.7,120.9 L469.9,121.3 L471.3,121.5 L472.0,119.4 L471.9,121.7 L472.4,122.6 L471.4,124.4 L473.0,122.7 L473.7,123.3 L475.2,123.1 L476.4,123.8 L478.0,122.9 L479.5,123.3 L480.6,122.2 L480.9,123.7 L481.2,122.1 L481.9,121.7 L483.3,121.7 L484.5,120.6 L483.9,118.6 L485.1,120.5 L486.4,120.3 L487.8,120.5 L488.5,122.0 L490.0,122.1 L490.7,123.7 L491.9,124.1 L493.0,124.7 L493.4,126.0 L494.4,126.7 L495.2,127.6 L496.3,128.2 L494.5,130.0 L496.8,128.7 L496.9,129.3 L498.3,129.8 L498.5,131.2 L500.7,129.9 L498.8,131.7 L499.7,132.0 L500.0,133.4 L501.5,133.3 L500.3,133.9 L500.9,134.4 L500.7,136.0 L499.0,137.9 L501.0,136.5 L501.2,137.3 L502.1,137.9 L502.4,139.4 L502.6,141.0 L501.0,141.9 L501.5,143.5 L501.6,145.0 L500.0,146.0 L498.6,146.0 L499.9,148.9 L498.1,146.4 L498.2,147.6 L497.4,148.5 L496.4,149.2 L498.0,150.2 L495.9,149.5 L495.3,149.8 L495.9,151.5 L494.8,150.1 L493.9,149.7 L493.3,151.4 L493.3,149.8 L492.5,149.6 L491.2,149.9 L489.7,149.8 L488.7,151.2 L488.4,154.3 L488.1,151.3 L487.5,152.4 L486.0,152.1 L484.7,151.7 L483.4,151.9 L482.2,151.3 L480.9,151.6 L479.4,153.7 L480.3,151.5 L479.9,150.2 L478.4,151.1 L478.9,154.2 L477.8,150.9 L477.4,149.7 L476.7,152.3 L476.8,149.6 L475.9,150.3 L474.5,150.1 L473.9,148.4 L472.5,148.5 L472.5,147.0 L471.9,148.2 L471.5,147.6 L469.2,150.2 L470.9,147.4 L470.1,147.6 L469.4,146.1 L468.2,145.9 L467.2,144.9 L467.0,143.4 L466.1,142.4 L463.9,145.2 L465.8,141.9 L465.2,141.4 L464.2,140.4 L465.8,139.9 L463.9,139.9 L463.9,139.0 L462.9,138.0 L465.9,137.9 L462.9,137.4 L463.0,136.6 L461.4,136.6 L462.9,136.1 L461.9,135.4 L462.8,133.9 L462.9,132.6 L461.6,131.4 L461.6,130.0 L461.0,128.8 L460.7,127.6 L458.4,128.0 L460.7,127.0 L460.5,126.4 L461.6,125.2 L458.8,126.6 L461.6,124.6 L462.0,124.0 Z M510.0,134.0 L511.4,131.9 L510.6,134.1 L511.5,133.5 L511.1,131.9 L512.1,133.7 L512.7,134.4 L513.9,135.3 L515.2,136.0 L516.8,135.2 L518.4,135.6 L517.2,138.2 L518.8,136.1 L518.7,137.3 L520.0,138.0 L521.6,137.1 L520.4,138.4 L521.0,139.0 L522.4,139.6 L521.1,140.7 L522.8,140.0 L523.8,140.2 L522.0,141.2 L524.2,140.7 L523.8,141.6 L525.0,142.7 L524.3,141.3 L525.3,141.2 L524.2,140.2 L525.8,141.0 L526.5,140.2 L527.8,139.7 L527.8,138.3 L528.4,139.4 L529.4,139.5 L529.6,142.1 L530.0,139.2 L530.5,138.3 L531.9,138.3 L533.5,138.1 L533.1,139.4 L534.0,138.4 L534.2,139.5 L536.0,138.2 L534.8,139.8 L535.9,139.2 L537.3,139.4 L535.8,140.7 L537.8,139.7 L538.0,141.0 M514.0,144.0 L515.2,145.1 L516.6,145.0 L517.9,145.3 L519.2,146.0 L520.8,145.3 L522.0,146.2 L523.4,146.2 L524.7,145.5 L525.9,144.8 L527.3,145.0 L528.7,145.7 L528.8,147.2 L529.3,145.6 L530.0,145.0 M543.6,120.8 L544.8,120.6 L545.9,120.0 L547.0,119.4 L548.3,119.4 L549.2,118.4 L550.0,117.2 L551.0,119.0 L550.6,117.0 L551.5,117.8 L552.8,117.8 L553.9,118.5 L554.3,121.8 L554.5,118.7 L555.2,118.5 L554.9,120.2 L555.8,118.7 L556.3,119.4 L557.6,119.6 L558.8,120.2 L560.2,117.6 L559.3,120.4 L560.1,120.3 L561.5,119.8 L562.5,120.0 L563.6,119.3 L564.9,119.9 L566.1,119.8 L567.3,119.3 L566.6,121.3 L567.9,119.2 L568.6,119.5 L569.8,119.3 L570.2,121.1 L570.3,119.2 L570.9,118.5 L572.3,118.7 L574.1,116.4 L572.9,118.8 L573.4,119.9 L572.9,123.1 L574.0,120.0 L574.9,119.3 L576.3,119.4 L577.4,120.4 L578.8,120.3 L580.9,120.4 L580.6,122.1 L582.0,123.0 L582.7,124.2 L584.1,123.5 L583.0,124.8 L582.7,125.8 L583.6,127.1 L583.2,128.3 L584.2,129.4 L583.9,130.7 L583.5,131.9 L585.8,130.3 L583.6,132.5 L584.8,133.0 L585.2,134.1 L584.7,135.4 L584.6,136.5 L583.1,135.8 L584.4,137.1 L583.8,137.7 L583.6,139.0 L583.4,140.3 L581.5,140.5 L583.3,140.9 L583.0,141.6 L583.3,143.1 L582.0,143.2 L580.5,142.7 L579.5,140.7 L579.9,142.8 L579.1,143.0 L578.5,141.5 L578.5,143.1 L577.8,143.3 L577.0,141.7 L577.2,143.4 L576.5,143.8 L576.2,141.9 L575.9,143.9 L575.3,144.8 L574.2,145.4 L573.3,143.5 L573.6,145.5 L572.8,144.5 L572.2,147.2 L572.2,144.6 L571.7,144.9 L572.2,146.5 L571.1,145.0 L570.4,144.4 L569.2,144.7 L568.0,144.5 L566.9,145.7 L565.8,146.4 L564.6,146.2 L563.5,147.2 L561.8,144.8 L562.9,147.3 L562.3,146.9 L561.0,146.8 L560.0,147.8 L560.0,150.2 L559.4,147.9 L558.8,148.4 L557.7,148.6 L557.6,146.8 L557.1,148.7 L556.1,148.8 L554.7,148.8 L554.6,146.7 L554.1,148.7 L553.4,148.5 L552.6,150.7 L552.8,148.4 L552.1,148.1 L550.8,147.6 L549.6,146.4 L549.0,145.7 L548.1,144.7 L546.3,145.6 L547.7,144.2 L547.7,143.4 L546.7,142.4 L546.2,141.2 L544.6,141.9 L545.8,140.7 L545.0,140.4 L542.9,142.5 L544.7,139.9 L543.3,139.9 L540.5,140.8 L543.2,139.3 L543.4,138.6 L542.5,137.5 L542.4,136.3 L540.3,137.0 L542.3,135.7 L541.9,135.2 L542.9,133.8 L543.2,132.5 L541.3,133.8 L543.1,131.9 L542.2,131.5 L541.6,130.2 L541.2,128.9 L541.5,127.8 L542.6,126.7 L540.8,126.9 L542.7,126.1 L542.0,125.4 L540.2,124.2 L542.1,124.8 L541.9,124.2 L543.5,123.2 L546.3,122.3 L543.6,122.6 L544.0,122.1 L542.1,122.8 L544.1,121.5 L543.6,120.8 Z M546.0,128.0 L545.7,126.3 L546.6,127.9 L547.5,128.2 L548.8,127.3 L548.1,129.4 L549.4,127.2 L550.3,127.2 L551.3,129.1 L550.9,127.1 L551.6,126.2 L552.0,128.2 L552.2,126.1 L553.2,126.6 L554.6,126.5 L555.8,126.8 L557.2,126.5 L557.1,125.0 L557.8,126.7 L558.3,127.3 L559.8,126.9 L559.8,129.2 L560.4,127.0 L561.0,127.5 L562.2,128.0 L563.4,128.4 L563.3,126.4 L564.0,128.6 L564.9,128.2 L565.0,126.6 L565.5,128.3 L565.9,128.4 L567.2,127.7 L568.8,128.1 L570.3,128.2 L569.1,126.3 L570.9,128.1 L571.8,128.5 L571.4,126.9 L572.4,128.3 L573.1,127.2 L574.5,126.8 L576.0,126.9 L577.6,127.1 L579.1,127.6 L580.5,128.5 L582.0,129.0 M548.3,136.0 L548.1,134.5 L548.9,135.9 L549.5,134.8 L550.9,134.5 L552.3,134.5 L553.2,136.1 L552.9,134.4 L553.7,134.0 L555.0,133.5 L556.5,133.9 L558.3,133.0 L559.6,133.2 L560.6,134.3 L561.7,135.2 L563.1,135.3 L564.4,135.3 L565.6,135.9 L565.1,133.6 L566.2,136.1 L566.5,137.3 L568.2,138.2 L569.7,138.2 L570.8,136.3 L572.4,136.7 L573.9,136.8 L575.1,135.4 L576.6,135.3 L578.0,135.0 M527.7,69.9 L526.3,67.2 L528.1,69.4 L528.7,69.1 L529.8,71.6 L529.1,68.6 L529.5,68.1 L530.6,67.3 L532.5,68.4 L530.9,66.9 L531.8,66.7 L531.7,65.0 L532.6,64.1 L533.9,63.6 L535.0,62.8 L536.8,64.2 L535.4,62.4 L535.0,61.2 L537.8,62.8 L535.4,60.7 L535.2,59.7 L535.9,58.6 L537.6,58.3 L540.0,60.5 L537.9,57.8 L538.3,57.3 L538.6,55.8 L539.6,55.0 L540.8,55.8 L539.9,54.5 L541.1,54.5 L541.0,52.8 L541.4,51.6 L542.0,50.4 L542.7,49.3 L543.7,48.6 L545.4,48.3 L547.3,49.7 L545.8,47.8 L545.5,46.7 L546.0,45.4 L549.2,47.1 L546.4,44.9 L547.7,45.3 L544.8,44.3 L548.1,44.9 L548.8,44.6 L549.1,43.2 L550.1,42.4 L550.8,41.3 L551.3,40.1 L552.8,39.7 L553.1,38.3 L551.8,36.8 L553.6,37.9 L554.8,38.4 L555.6,39.8 L555.4,38.1 L556.1,38.1 L557.6,40.1 L556.7,37.9 L556.9,36.6 L558.4,37.0 L558.5,39.6 L558.9,36.7 L559.4,36.1 L560.6,35.7 L561.8,35.2 L560.9,33.3 L562.4,35.0 L563.2,35.2 L564.2,34.6 L565.2,31.7 L564.8,34.6 L565.6,34.6 L566.9,34.1 L568.2,33.3 L568.9,31.6 L568.7,33.3 L569.4,32.7 L570.8,32.8 L571.7,35.4 L571.4,32.7 L572.3,32.9 L573.4,34.1 L572.7,35.7 L574.0,34.2 L574.8,33.8 L576.1,33.8 L577.4,34.0 L578.3,35.2 L577.7,37.6 L578.7,35.6 L579.9,35.7 L577.9,38.5 L580.3,36.1 L581.1,36.6 L582.3,37.9 L582.8,39.2 L582.8,40.5 L582.5,42.0 L582.4,43.4 L582.8,44.4 L583.3,45.9 L582.9,47.2 L584.5,47.6 L582.8,47.8 L583.0,48.5 L582.2,49.8 L582.5,51.2 L582.8,52.8 L580.6,50.8 L582.5,53.4 L582.2,53.9 L581.6,55.0 L583.5,56.8 L581.4,55.6 L581.2,56.2 L581.1,57.5 L579.6,56.5 L580.9,58.0 L580.0,58.3 L579.2,59.4 L578.2,60.3 L580.4,60.3 L578.1,60.9 L578.6,61.8 L578.3,63.0 L578.4,64.4 L576.2,65.1 L578.3,65.0 L577.7,65.6 L576.6,66.8 L573.4,66.1 L576.7,67.3 L576.5,68.2 L576.6,69.5 L578.7,69.3 L576.7,70.1 L577.9,70.7 L578.4,71.9 L580.4,71.7 L578.5,72.5 L578.5,73.3 L579.4,74.9 L579.1,76.2 L578.3,77.4 L575.9,78.2 L578.2,78.0 L578.0,78.7 L575.9,79.1 L577.9,79.3 L578.0,80.1 L577.5,81.3 L576.3,82.7 L573.7,82.3 L576.5,83.3 L577.6,83.9 L576.8,85.4 L574.1,87.4 L576.9,86.0 L577.5,86.6 L580.4,87.2 L577.6,87.2 L578.0,87.9 L578.4,89.2 L578.4,90.6 L579.1,91.9 L579.9,93.1 L578.9,94.6 L578.6,96.1 L579.6,97.2 L581.6,97.3 L579.7,97.8 L580.2,98.5 L582.2,98.5 L580.1,99.1 L580.1,99.7 L582.4,98.9 L580.0,100.3 L579.5,100.8 L578.5,101.9 L579.4,103.3 L579.3,104.5 L581.5,104.3 L579.2,105.1 L579.8,105.8 L579.2,106.9 L582.6,107.0 L579.1,107.5 L578.9,107.9 L580.6,107.0 L579.0,108.5 L578.6,109.3 L578.5,110.7 L578.7,112.0 L580.9,110.6 L578.8,112.6 L579.3,113.2 L577.1,113.0 L579.4,113.8 L579.9,113.9 L578.8,114.6 L579.4,116.6 L578.3,114.8 L577.5,114.6 L578.6,117.1 L576.9,114.8 L576.6,116.0 L575.4,116.5 L574.1,116.9 L572.9,117.6 L571.3,115.6 L572.3,117.7 L571.5,117.8 L571.5,115.5 L571.0,117.9 L570.2,117.8 L570.9,119.4 L569.6,118.0 L568.9,118.1 L567.4,117.6 L566.0,117.2 L565.1,115.7 L563.5,115.8 L563.1,118.1 L563.0,115.5 L562.7,114.3 L561.0,114.4 L559.9,113.6 L561.7,111.6 L559.5,113.1 L559.1,112.5 L558.4,111.3 L557.7,110.1 L559.2,109.5 L557.3,109.7 L556.5,109.4 L554.4,110.8 L556.0,109.0 L555.5,108.5 L558.4,106.9 L555.1,108.0 L554.2,107.9 L553.0,107.2 L552.1,106.2 L551.6,104.8 L550.0,104.6 L549.0,103.5 L548.0,102.3 L546.7,101.8 L545.4,102.0 L544.2,102.3 L543.3,99.8 L543.6,102.4 L542.9,102.5 L541.8,103.4 L540.8,102.9 L544.3,100.3 L540.4,102.4 L540.1,101.6 L538.5,103.2 L539.7,101.2 L539.3,100.6 L537.7,103.1 L538.9,100.2 L537.5,100.4 L536.9,99.2 L535.9,98.3 L538.0,95.7 L535.5,97.8 L534.7,97.5 L534.6,96.0 L533.5,97.7 L534.2,95.5 L533.5,95.1 L532.4,96.6 L533.1,94.6 L532.0,94.6 L531.9,93.1 L531.0,92.1 L530.2,90.9 L526.7,92.4 L529.9,90.4 L530.3,89.3 L528.8,88.4 L528.1,87.2 L525.8,88.5 L527.8,86.7 L527.3,85.9 L528.9,85.1 L527.2,85.3 L527.4,84.5 L527.1,83.2 L527.2,81.8 L525.5,81.4 L527.1,81.2 L526.1,80.6 L523.7,79.8 L526.0,80.0 L526.8,79.1 L530.0,78.7 L526.7,78.5 L525.9,77.9 L526.7,76.6 L525.9,75.1 L524.1,73.7 L526.1,74.5 L527.4,74.0 L526.7,72.5 L524.6,72.5 L526.9,71.9 L527.1,71.2 L527.7,69.9 Z M566.0,100.0 L564.8,101.4 L566.5,100.3 L566.9,101.2 L568.4,101.6 L566.7,103.6 L568.9,101.9 L569.7,102.2 L571.1,100.2 L570.2,102.6 L571.3,102.4 L572.8,103.2 L573.5,104.5 L574.3,105.7 L572.6,107.5 L574.8,106.1 L575.3,106.7 L576.4,104.9 L575.8,107.1 L576.0,108.0 M566.0,76.0 L564.5,76.8 L566.3,76.5 L566.8,77.3 L568.5,75.6 L567.1,77.8 L567.3,78.7 L568.7,79.7 L568.5,81.4 L569.1,82.8 L567.8,83.6 L569.4,83.3 L569.4,84.1 L568.0,85.1 L569.6,84.7 L570.9,85.2 L571.6,86.4 L571.6,87.9 L569.2,89.8 L571.7,88.4 L571.0,89.4 L570.9,90.8 L568.3,91.4 L571.1,91.4 L572.0,92.0 M587.9,0.0 L590.4,-1.1 L588.1,0.6 L588.7,1.0 L588.9,2.2 L588.8,3.5 L590.1,4.4 L591.6,4.0 L590.2,4.9 L590.4,5.5 L592.6,4.2 L590.6,6.1 L589.6,7.0 L590.3,8.0 L589.9,9.7 L590.8,11.2 L591.3,12.7 L593.8,13.0 L591.5,13.2 L592.0,13.8 L590.0,15.9 L592.2,14.3 L592.1,15.0 L592.8,16.1 L592.7,17.5 L593.1,18.7 L595.4,17.5 L593.3,19.2 L594.0,19.7 L593.8,21.1 L594.1,22.1 L594.3,23.5 L593.5,24.6 L593.8,26.0 L591.5,24.1 L593.6,26.6 L592.8,27.0 L593.1,28.4 L593.0,29.7 L592.2,30.8 L591.4,32.0 L590.6,33.0 L589.8,34.0 L589.1,35.1 L588.2,36.0 L588.8,36.6 L587.7,36.4 L586.4,36.0 L586.1,37.5 L584.6,38.1 L584.4,39.2 L584.5,40.5 L584.7,41.8 L585.1,43.1 L583.7,44.1 L584.0,45.3 L585.9,46.3 L583.9,45.9 L582.8,46.4 L583.5,47.7 L585.6,47.1 L583.6,48.3 L583.9,48.8 L584.1,50.0 L583.3,51.4 L585.4,50.9 L583.4,51.9 L584.4,52.4 L584.0,53.7 L584.8,54.8 L584.8,56.0 L585.4,57.0 L588.0,55.7 L585.7,57.5 L585.7,58.4 L585.6,60.0 L583.4,60.2 L585.9,60.5 L585.8,61.5 L587.2,62.4 L587.6,64.2 L589.2,64.3 L590.6,64.9 L588.7,66.5 L591.1,65.2 L591.3,66.4 L592.7,66.7 L594.7,66.7 L592.8,67.3 L593.7,67.9 L593.1,69.4 L592.7,70.9 L595.9,68.7 L592.9,71.5 L592.6,72.3 L593.0,73.6 L593.8,74.5 L590.9,74.1 L593.6,75.1 L594.4,76.0 L592.5,74.9 L594.2,76.6 L593.0,76.9 L594.8,77.8 L592.8,77.4 L592.3,78.0 L592.5,79.3 L591.8,80.4 L591.5,81.7 L593.6,81.6 L591.4,82.2 L590.5,82.6 L590.1,83.8 L590.2,85.1 L590.5,86.6 L592.5,88.2 L590.2,87.1 L590.6,87.9 L590.4,89.2 L592.2,89.6 L590.2,89.8 L589.3,90.1 L589.1,91.3 L587.7,90.2 L588.9,91.9 L587.9,92.4 L589.0,93.4 L590.4,90.8 L589.5,93.7 L590.7,93.1 L589.8,95.3 L591.3,93.4 L591.8,94.1 L593.0,95.0 L590.5,98.4 L593.5,95.3 L594.5,94.8 L595.9,94.9 L597.0,96.0 L598.2,96.8 L598.6,99.3 L598.8,96.9 L599.6,96.5 L601.0,96.5 L601.9,97.3 L600.9,99.0 L602.3,97.7 L603.4,97.7 L602.5,99.6 L603.8,98.1 L604.2,98.8 L605.7,99.3 L606.5,100.4 L607.6,101.1 L606.4,102.0 L608.0,101.4 L608.3,102.3 L609.6,102.8 L610.4,104.0 L610.8,102.0 L610.9,104.4 L611.9,104.2 L612.2,106.0 L612.9,103.6 L612.7,106.3 L613.8,106.9 L614.7,105.9 L616.1,105.5 L618.4,107.3 L616.5,105.1 L617.3,105.0 L618.3,104.1 L618.8,102.5 L620.0,102.0 L620.0,100.2 L620.5,101.7 L621.2,101.5 L622.2,100.6 L620.7,98.9 L622.8,100.3 L623.5,100.1 L623.8,101.2 L624.0,99.8 L624.3,98.8 L625.8,98.8 L625.9,101.4 L626.3,98.5 L627.2,98.6 L626.4,96.6 L627.8,98.3 L627.9,97.9 L629.0,96.4 L630.3,95.8 L631.8,98.2 L630.9,95.7 L631.6,96.9 L631.1,95.0 L632.2,96.8 L632.9,96.5 L634.2,96.5 L633.4,93.6 L634.8,96.5 L635.4,96.0 L636.7,96.7 L637.7,96.9 L639.3,96.2 L641.3,94.2 L639.9,96.5 L640.0,97.7 L641.0,98.4 L642.0,99.2 L643.1,99.8 L642.0,101.2 L643.7,100.0 L644.4,100.0 L645.9,99.5 L647.3,99.2 L649.0,97.0 L647.9,99.5 L648.3,100.1 L649.6,100.2 L650.5,101.2 L651.6,101.6 L652.9,99.0 L652.2,101.9 L652.7,102.2 L654.0,100.7 L653.3,102.4 L654.1,102.2 L655.3,102.7 L655.2,105.7 L655.8,103.0 L656.1,103.9 L653.9,106.3 L656.6,104.2 L656.9,105.0 L658.3,105.1 L659.6,105.2 L660.5,106.3 L660.5,108.0 L661.0,106.6 L661.7,106.7 L663.0,107.0 L664.1,107.6 L664.5,105.4 L664.7,107.8 L664.9,108.8 L665.8,109.8 L667.5,109.2 L668.2,110.6 L669.4,111.1 L669.5,113.7 L670.0,111.3 L670.7,111.4 L672.1,109.8 L671.2,111.6 L671.6,112.5 L672.4,110.6 L672.1,112.7 L673.1,112.1 L674.3,112.6 L675.8,112.5 L677.1,112.8 L677.9,114.0 L678.5,111.1 L678.4,114.3 L679.0,114.5 L680.2,114.9 L680.8,116.7 L681.3,113.7 L681.3,117.0 L682.1,116.9 L683.4,117.2 L684.9,115.0 L683.9,117.5 L684.6,117.5 L685.8,117.7 L686.7,119.0 L687.7,120.0 L687.8,121.6 L688.3,120.2 L689.0,120.3 L690.3,120.4 L691.8,119.9 L693.1,120.1 L693.9,121.7 L692.3,125.2 L694.5,121.9 L695.0,122.4 L696.2,123.0 L697.6,123.0 L698.8,123.4 L700.1,123.3 L701.2,121.6 L700.7,123.5 L701.9,123.1 L703.0,120.0 L702.4,123.5 L703.1,123.6 L703.6,124.9 L704.6,125.6 L705.5,126.3 L703.0,128.0 L706.0,126.7 L705.7,128.1 L706.5,129.0 L707.1,130.2 L708.3,130.7 L709.7,130.8 L710.8,131.4 L712.3,128.2 L711.3,131.8 L712.2,131.5 L711.4,133.0 L712.7,131.9 L712.5,133.1 L713.1,131.3 L713.0,133.5 L714.0,133.2 L713.2,136.4 L714.4,133.6 L715.3,133.8 L715.7,135.2 L716.7,136.1 L716.6,137.8 L715.6,138.4 L717.0,138.3 L716.9,139.2 L718.7,139.4 L719.8,140.2 L720.7,141.1 L721.2,142.4 L720.2,144.0 L721.6,142.8 L722.4,143.0 L722.7,144.5 L723.8,145.3 L724.7,146.2 L724.5,148.0 L724.9,149.2 L726.3,149.7 L726.4,151.1 L728.1,149.7 L726.8,151.5 L728.0,151.4 L729.4,151.8 L727.8,152.8 L729.7,152.3 L729.4,153.3 L731.0,152.1 L729.8,153.8 L730.0,154.4 L731.5,154.7 L732.2,155.7 L732.9,156.7 L732.9,158.2 L734.9,156.1 L733.3,158.7 L733.4,159.4 L734.9,159.8 L733.6,161.4 L735.3,160.2 L735.4,161.0 L736.7,159.8 L735.9,161.3 L736.6,161.5 L737.9,161.7 L738.7,162.9 L739.6,164.0 L740.9,164.2 L742.4,164.2 L743.1,165.6 L743.9,166.8 L745.2,167.1 L746.1,168.0 L747.7,167.8 L749.9,166.1 L748.2,168.1 L748.6,168.9 L748.5,170.4 L749.1,169.2 L749.5,170.0 L750.8,167.1 L750.0,170.3 L750.7,170.4 L750.7,172.4 L751.2,170.6 L752.3,169.9 L753.5,170.5 L754.9,170.6 L755.5,168.9 L755.4,170.8 L755.7,171.8 L756.8,172.4 L759.3,169.1 L757.3,172.7 L757.4,173.9 L759.1,173.4 L759.6,171.1 L759.7,173.6 L759.8,174.8 L761.3,174.7 L762.0,176.1 L763.0,176.9 L764.7,176.3 L765.7,177.5 L767.1,177.3 L767.1,174.8 L767.6,177.5 L768.4,177.4 L769.5,178.0 L770.5,179.2 L771.6,179.8 L773.2,179.1 L772.9,182.0 L773.8,179.3 L774.1,180.4 L774.2,182.8 L774.7,180.6 L775.7,179.8 L776.6,181.1 L777.8,181.6 L779.3,181.3 L780.5,181.5 L781.6,182.0 L782.8,182.7 L781.8,184.5 L783.4,182.8 L784.0,182.9 L783.0,184.6 L784.6,183.0 L785.2,183.3 L787.1,180.4 L785.8,183.4 L786.3,183.8 L787.7,183.3 L789.0,182.8 L790.1,183.4 L791.4,183.5 L792.5,184.1 L793.8,183.9 L795.1,183.9 L795.9,182.1 L795.7,184.0 L796.2,184.8 L797.4,184.3 L798.6,185.3 L799.8,184.8 L799.6,186.4 L800.4,184.8 L801.1,185.4 L802.3,184.7 L802.6,186.8 L802.9,184.7 L803.5,184.1 L804.7,183.9 L805.9,185.1 L805.4,183.1 L806.5,185.1 L807.1,185.7 L808.4,185.4 L809.6,185.3 L810.8,184.1 L811.6,183.9 L811.1,181.6 L812.1,183.6 L812.9,183.6 L813.7,185.0 L813.4,183.3 L814.4,183.5 L815.0,182.1 L814.6,181.1 L815.5,181.8 L816.0,181.2 L817.3,180.9 L818.7,180.7 L820.0,180.5 L820.9,179.5 L822.4,179.4 L823.2,178.3 L822.5,175.8 L823.7,178.0 L824.4,177.8 L825.0,176.2 L826.4,176.0 L827.5,175.5 L829.0,175.5 L830.4,175.3 L831.5,174.7 L832.1,172.9 L831.9,175.6 L832.6,172.6 L833.7,173.2 L834.3,171.6 L834.5,174.0 L834.9,171.3 L835.3,171.5 L837.5,171.5 L835.1,171.0 L835.3,170.1 L837.9,167.9 L835.1,169.5 L834.4,168.9 L836.5,167.6 L834.2,168.4 L834.9,167.3 L834.1,166.1 L832.7,166.5 L833.9,165.5 L832.7,165.1 L835.1,164.1 L832.6,164.5 L832.6,164.0 L831.6,163.2 L830.5,162.6 L830.5,160.9 L828.4,162.5 L830.1,160.4 L829.9,159.7 L833.0,158.7 L829.5,159.3 L828.3,159.6 L827.6,158.5 L826.4,160.1 L827.2,158.0 L826.7,157.7 L828.1,156.2 L826.2,157.2 L825.8,156.7 L823.0,158.3 L825.4,156.3 L825.3,155.5 L824.9,154.1 L824.2,153.1 L822.6,152.9 L822.0,151.8 L820.4,151.6 L820.2,150.1 L819.2,149.3 L818.2,148.5 L817.5,147.5 L816.6,148.3 L817.1,147.0 L816.7,146.5 L815.5,146.0 L814.6,145.0 L813.9,144.0 L811.3,145.8 L813.5,143.6 L813.6,142.5 L811.1,144.9 L813.2,142.1 L812.5,142.0 L811.0,145.3 L812.1,141.5 L811.6,141.1 L811.1,140.1 L809.5,139.7 L807.2,141.8 L809.2,139.3 L808.6,138.9 L808.4,137.5 L807.4,136.8 L806.6,135.9 L805.8,135.0 L805.3,133.9 L804.6,132.9 L802.2,135.2 L804.2,132.4 L803.6,132.2 L805.2,130.4 L803.2,131.7 L802.6,131.4 L801.7,130.6 L800.9,129.7 L800.8,128.2 L803.5,127.3 L800.4,127.7 L799.3,127.8 L798.7,126.6 L797.4,126.1 L798.3,124.7 L797.0,125.7 L797.0,124.9 L796.4,123.8 L794.2,126.1 L796.0,123.3 L795.5,122.9 L795.1,121.6 L794.0,123.4 L794.7,121.1 L794.0,120.9 L791.8,123.0 L793.6,120.4 L793.4,119.7 L793.0,118.5 L792.7,117.8 L792.5,116.6 L794.1,116.0 L792.4,116.0 L791.2,115.5 L789.3,114.8 L791.0,115.0 L791.5,114.2 L791.5,112.9 L789.2,112.2 L791.4,112.3 L790.6,111.8 L792.7,110.8 L790.5,111.2 L789.9,110.7 L789.1,109.2 L790.0,108.0 L787.4,108.5 L790.1,107.4 L789.8,106.6 L789.6,105.2 L789.6,103.8 L790.7,102.6 L791.4,101.4 L792.4,99.9 L794.6,99.5 L792.3,99.3 L792.3,98.7 L792.3,97.4 L789.4,97.9 L792.2,96.8 L792.5,96.2 L792.4,94.9 L791.7,93.8 L790.9,92.7 L790.2,91.5 L790.0,90.3 L792.9,89.7 L789.9,89.7 L789.5,89.3 L791.2,87.8 L789.3,88.7 L788.5,88.2 L788.2,86.8 L787.6,85.5 L787.0,84.3 L789.6,83.6 L786.8,83.7 L786.2,83.1 L787.9,81.9 L785.9,82.5 L785.9,82.1 L786.0,80.4 L785.8,79.0 L784.1,78.7 L783.0,78.0 L782.4,76.8 L782.0,75.5 L780.9,74.8 L779.8,73.9 L779.4,72.6 L781.7,71.8 L779.1,72.1 L779.1,71.3 L779.3,69.6 L778.5,68.6 L778.1,67.3 L775.1,70.1 L777.8,66.8 L777.0,66.4 L776.1,65.6 L775.8,64.3 L775.6,63.1 L774.5,62.0 L774.6,60.7 L774.4,59.6 L773.6,62.6 L774.9,59.7 L775.5,60.5 L777.1,60.0 L777.6,58.7 L777.4,57.5 L780.0,56.1 L777.4,56.9 L777.8,56.3 L780.1,57.3 L777.8,55.7 L777.4,55.1 L774.9,56.3 L777.4,54.5 L777.1,53.9 L777.3,52.7 L775.4,53.4 L777.3,52.1 L777.1,51.5 L780.2,51.8 L777.1,50.9 L777.1,50.2 L774.6,50.8 L777.0,49.7 L776.6,49.1 L774.5,48.9 L776.6,48.5 L776.0,47.9 L776.9,46.6 L775.6,45.5 L776.4,44.2 L778.3,43.0 L776.4,43.6 L776.7,42.9 L776.6,41.7 L775.7,40.6 L775.6,39.4 L777.5,38.9 L775.6,38.8 L775.8,38.2 L774.9,37.1 L775.6,35.8 L775.1,34.6 L772.6,34.0 L775.0,34.0 L774.8,33.4 L775.2,32.0 L777.6,30.5 L774.9,31.5 L773.9,31.3 L773.4,30.1 L772.4,29.3 L772.3,27.9 L771.3,27.0 L770.9,25.7 L770.9,24.2 L769.2,23.8 L769.2,22.2 L768.2,21.4 L769.3,20.0 L767.9,20.9 L766.7,20.8 L765.6,20.0 L765.8,18.3 L765.7,16.8 L764.4,16.2 L762.6,17.5 L764.0,15.7 L763.3,15.3 L761.7,17.4 L763.0,14.8 L762.7,14.2 L762.1,13.0 L759.7,14.4 L761.7,12.5 L761.4,11.8 L763.3,10.1 L761.1,11.3 L761.1,10.4 L763.0,9.3 L760.8,9.9 L759.9,9.0 L761.2,6.0 L759.3,9.0 L758.4,10.0 L757.2,9.3 L755.9,9.0 L754.6,8.9 L753.2,9.7 L751.9,9.1 L750.6,9.2 L749.2,9.3 L749.3,12.2 L748.6,9.3 L748.0,8.6 L747.6,10.6 L747.4,8.7 L746.8,9.2 L746.4,12.3 L746.3,9.3 L745.4,8.5 L744.3,9.7 L743.0,9.6 L742.4,7.3 L742.4,9.8 L741.6,9.2 L742.3,11.4 L741.0,9.3 L740.4,9.8 L739.3,10.5 L738.3,11.4 L738.2,9.6 L737.7,11.6 L737.0,11.4 L736.1,12.5 L734.2,9.5 L735.5,12.7 L734.8,12.6 L733.7,13.2 L732.3,13.0 L734.5,15.7 L731.7,13.2 L731.3,13.8 L730.3,14.6 L728.9,14.7 L727.9,15.5 L727.4,13.9 L727.3,15.7 L726.6,15.8 L726.2,13.4 L726.1,16.1 L725.7,16.9 L724.2,16.6 L723.0,17.1 L722.0,18.1 L720.9,15.8 L721.5,18.3 L720.8,18.5 L719.2,18.2 L717.8,18.4 L716.8,19.5 L715.7,20.5 L714.2,20.3 L713.2,21.3 L712.0,22.1 L712.2,24.0 L711.4,21.9 L710.6,22.3 L709.5,24.2 L710.0,22.1 L709.2,22.3 L709.5,20.6 L708.7,22.1 L708.0,22.0 L709.6,19.5 L707.4,21.8 L706.8,21.6 L708.3,19.4 L706.2,21.4 L706.0,20.0 M759.8,11.8 L757.1,10.9 L759.6,12.4 L760.3,13.5 L759.2,14.7 L758.4,16.0 L757.5,17.2 L756.6,18.4 L759.4,19.9 L756.4,19.0 L755.8,19.7 L752.9,19.8 L755.6,20.3 L756.8,20.5 L755.1,21.6 L755.0,19.0 L754.5,21.5 L753.8,20.8 L752.6,18.2 L753.2,20.7 L752.4,20.2 L750.9,20.1 L749.3,21.0 L749.0,23.4 L748.7,20.9 L748.0,20.0 L750.7,23.2 L747.5,20.4 L746.8,20.8 L746.1,19.5 L746.4,21.2 L745.3,21.2 L744.0,18.5 L744.9,21.6 L744.9,22.8 L743.2,23.0 L742.5,24.3 L744.4,25.5 L742.0,24.7 L741.0,24.6 L740.1,25.6 L739.1,26.6 L738.6,28.2 L737.7,29.2 L736.5,29.9 L735.2,27.4 L736.0,30.3 L735.8,31.3 L734.8,32.2 L733.0,32.2 M579.7,154.0 L581.0,154.2 L580.7,156.4 L581.6,154.1 L582.2,153.7 L583.5,154.3 L584.7,153.6 L585.9,153.0 L587.2,153.9 L588.8,156.6 L587.8,153.8 L588.4,153.9 L589.1,156.2 L589.0,153.9 L589.6,153.3 L590.9,154.0 L592.1,153.6 L593.3,152.9 L594.5,152.3 L596.4,152.0 L596.7,153.8 L595.9,155.1 L597.2,154.1 L597.9,154.1 L598.5,155.6 L600.2,155.2 L599.5,156.5 L600.7,155.5 L601.3,155.8 L602.3,156.5 L603.1,157.5 L604.1,158.3 L602.1,160.4 L604.6,158.6 L604.7,159.5 L606.2,159.6 L606.9,160.7 L606.4,163.8 L607.4,161.1 L607.7,161.8 L609.5,160.3 L608.2,162.1 L609.0,162.1 L611.5,159.1 L609.5,162.4 L610.2,162.4 L611.6,162.5 L612.6,163.3 L613.7,163.8 L615.1,163.7 L616.0,164.7 L617.0,165.4 L618.2,165.8 L616.5,167.4 L618.7,166.1 L619.3,166.4 L619.9,167.9 L621.3,167.9 L619.8,169.4 L621.8,168.1 L622.4,168.2 L624.6,165.8 L622.9,168.4 L623.5,168.7 L624.9,168.6 L626.2,168.9 L627.3,169.6 L628.5,170.2 L628.7,167.7 L629.0,170.4 L629.7,170.7 L630.5,172.1 L631.8,172.4 L632.9,173.1 L634.2,173.3 L635.5,173.3 L636.7,173.7 L637.6,174.7 L638.8,175.1 L639.7,172.3 L639.4,175.4 L639.9,175.8 L641.3,175.9 L642.4,176.4 L643.5,177.2 L645.0,177.2 L646.1,177.7 L646.8,179.0 L648.0,179.6 L649.1,180.1 L650.5,180.3 L652.4,178.4 L651.0,180.6 L651.1,181.7 L653.4,179.3 L651.6,182.0 L652.4,181.8 L653.4,182.9 L654.8,182.3 L655.7,183.4 L656.9,183.5 L656.8,185.2 L657.5,183.7 L658.1,183.7 L659.2,184.4 L660.3,184.7 L661.3,185.6 L662.4,184.1 L661.9,185.8 L662.3,186.3 L663.6,186.4 L664.0,184.5 L664.2,186.5 L664.9,186.1 L666.5,183.6 L665.5,186.2 L666.0,186.7 L665.8,184.9 L666.6,186.9 L667.4,186.3 L667.0,188.9 L667.9,186.4 L668.3,187.5 L667.8,189.6 L668.8,187.7 L669.4,188.3 L669.6,190.5 L670.0,188.4 L670.6,188.7 L671.3,191.0 L671.2,188.8 L672.0,187.8 L670.4,189.9 L672.6,187.9 L673.2,188.2 L674.6,187.3 L675.7,188.3 L675.4,189.9 L676.3,188.4 L677.1,187.7 L678.9,184.7 L677.6,187.8 L678.2,188.3 L679.5,188.2 L680.8,188.0 L681.0,190.5 L681.4,188.1 L682.0,188.3 L682.3,190.2 L682.6,188.4 L683.3,188.2 L682.7,190.2 L683.8,188.3 L684.3,189.6 L683.5,191.6 L684.9,189.7 L685.3,190.7 L686.5,190.9 L688.0,189.9 L689.0,190.8 L690.3,190.5 L691.5,190.8 L692.5,191.9 L693.7,192.0 L695.0,191.8 L696.2,192.3 L697.4,192.3 L698.7,192.4 L699.1,193.8 L696.0,196.8 L699.5,194.3 L700.5,194.4 L701.6,195.3 L702.3,196.4 L703.5,197.2 L704.5,198.5 L704.4,199.9 L704.0,201.3 L704.6,202.5 L704.1,204.0 L705.2,205.1 L706.1,206.3 L706.7,207.5 L705.1,208.7 L706.8,208.1 L705.6,209.1 L705.7,209.6 L703.9,208.1 L705.2,210.0 L704.6,210.4 L704.0,211.7 L703.0,212.5 L702.4,209.8 L702.5,212.9 L701.5,212.7 L700.9,214.0 L699.9,212.3 L700.4,214.3 L700.1,215.2 L699.3,216.2 L697.7,215.2 L698.8,216.6 L698.5,217.3 L696.9,217.4 L695.8,216.8 L694.5,216.7 L693.2,216.8 L693.9,214.9 L692.6,216.6 L692.0,216.3 L690.8,216.1 L689.6,215.8 L688.7,214.5 L687.7,213.6 L686.5,213.3 L685.0,213.9 L683.7,213.9 L683.3,212.3 L681.6,214.6 L683.7,212.8 L684.2,213.2 L684.6,214.5 L686.5,212.6 L684.9,215.0 L684.5,216.1 L681.7,217.9 L684.8,216.6 L684.9,217.4 L686.5,217.8 L687.6,218.5 L688.1,219.7 L688.0,221.3 L689.6,221.7 L690.6,221.4 L690.0,222.2 L690.1,222.9 L691.0,223.8 L693.3,221.6 L691.4,224.3 L691.1,225.3 L691.7,226.4 L692.2,227.5 L693.3,228.3 L691.3,229.5 L693.6,228.8 L694.5,229.1 L695.6,229.6 L696.2,228.4 L696.1,229.9 L696.6,230.4 L698.2,230.2 L699.0,231.4 L699.8,232.5 L700.6,233.6 L701.6,231.4 L701.1,233.9 L702.1,233.5 L703.6,233.5 L704.4,234.6 L705.9,234.6 L706.7,235.7 L707.6,236.7 L706.4,238.3 L708.1,237.0 L708.6,237.5 L710.5,236.0 L709.1,237.8 L709.6,238.2 L711.3,238.2 L712.4,239.0 L709.9,240.8 L712.7,239.5 L712.1,240.8 L712.4,242.2 L711.5,243.2 L712.8,242.7 L713.5,243.0 L712.3,243.4 L713.9,243.5 L714.2,244.1 L715.7,243.4 L714.6,244.6 L715.8,244.6 L716.5,245.7 L717.6,246.5 L718.1,248.1 L716.7,247.4 L715.7,248.5 L716.7,251.1 L715.1,248.6 L714.6,249.4 L714.3,251.6 L714.0,249.5 L713.5,249.6 L712.3,250.1 L712.5,251.6 L711.7,250.2 L711.0,249.8 L709.8,249.9 L708.5,249.1 L708.9,247.0 L707.9,249.2 L707.4,249.9 L706.4,249.5 L705.2,249.2 L705.3,247.0 L704.7,248.9 L703.9,249.0 L701.7,251.2 L703.4,248.7 L702.8,248.5 L703.3,246.6 L702.2,248.2 L701.9,247.3 L700.3,247.8 L699.3,247.0 L699.8,249.2 L698.8,246.8 L698.0,246.9 L696.5,247.2 L696.5,249.6 L696.0,247.0 L695.5,246.4 L695.2,244.7 L696.3,245.3 L697.3,246.0 L697.4,247.8 L698.4,245.6 L697.9,248.2 L698.1,248.9 L699.3,249.5 L700.1,247.6 L699.7,249.9 L700.8,249.6 L699.8,251.6 L701.2,250.0 L701.0,251.3 L702.4,251.6 L701.1,253.7 L702.9,251.9 L703.1,252.6 L704.5,252.9 L705.4,253.8 L706.2,254.6 L707.5,254.6 L708.5,255.7 L709.6,256.2 L710.9,255.8 L712.3,255.3 L712.9,257.6 L712.8,255.4 L713.4,255.8 L714.6,255.9 L714.5,257.8 L715.2,256.0 L715.8,256.1 L717.1,255.8 L718.0,257.1 L716.8,257.1 L717.8,259.7 L716.2,257.3 L715.5,256.8 L714.2,256.6 L716.2,259.1 L713.6,256.7 L713.1,257.3 L711.9,257.1 L710.9,258.5 L709.6,258.0 L708.6,259.3 L708.1,257.1 L708.0,259.4 L707.5,259.9 L707.3,258.3 L706.9,260.0 L706.1,260.5 L706.6,262.2 L705.5,260.5 L704.8,260.6 L703.7,259.5 L702.4,260.0 L701.3,259.2 L700.1,258.4 L698.9,258.1 L697.6,258.3 L698.0,260.7 L697.0,258.2 L696.5,257.5 L697.2,255.4 L695.9,257.4 L695.2,257.9 L694.0,257.5 L692.7,257.8 L691.5,257.1 L690.3,257.1 L689.0,257.1 L687.8,256.9 L688.3,254.9 L687.2,256.8 L686.5,257.4 L685.2,257.8 L684.0,257.2 L682.8,257.3 L681.8,256.4 L680.5,256.2 L678.8,258.5 L679.9,256.0 L679.3,255.8 L678.4,254.7 L676.9,255.1 L676.9,257.2 L676.3,254.9 L675.7,254.8 L674.8,253.4 L673.5,253.4 L672.2,255.3 L672.9,253.1 L672.6,252.3 L673.1,250.8 L672.0,252.1 L671.1,252.7 L671.2,254.7 L670.5,252.5 L669.8,252.4 L669.0,251.1 L669.4,253.2 L668.4,250.9 L667.9,250.5 L666.2,251.3 L665.3,250.2 L663.9,252.1 L664.7,250.0 L664.1,249.5 L662.7,250.3 L661.3,250.7 L660.2,249.3 L658.9,249.5 L657.5,249.7 L657.5,251.4 L656.9,249.6 L656.4,248.5 L655.1,248.6 L653.8,248.3 L652.5,248.6 L651.0,250.7 L651.9,248.5 L651.2,248.4 L650.1,247.2 L649.0,247.0 L649.4,248.7 L648.4,246.8 L647.6,247.3 L648.4,244.6 L647.0,247.2 L646.5,247.0 L648.2,244.2 L645.9,246.8 L645.1,247.5 L645.5,250.1 L644.5,247.3 L643.9,247.5 L642.8,246.9 L641.6,246.6 L640.3,245.4 L639.8,246.7 L641.1,247.4 L639.6,247.3 L640.5,248.3 L638.8,248.2 L640.4,248.9 L640.3,249.7 L637.4,250.1 L640.2,250.2 L638.9,250.7 L638.9,252.1 L636.5,252.1 L638.7,252.7 L638.5,253.4 L638.7,254.2 L638.2,255.5 L639.2,254.5 L639.4,255.4 L639.9,256.7 L640.8,257.6 L639.9,258.6 L641.3,257.9 L642.0,258.0 L642.7,259.1 L644.3,258.8 L645.2,259.4 L645.8,258.2 L644.7,256.7 L646.3,257.8 L646.6,257.1 L644.4,255.8 L647.1,256.8 L648.4,257.6 L649.3,259.3 L648.9,257.3 L649.0,256.3 L650.4,256.3 L648.5,254.1 L650.9,256.0 L651.8,256.2 L652.2,254.8 L649.5,257.0 L652.2,254.2 L652.3,253.5 L650.8,253.7 L652.2,252.9 L652.5,252.2 L651.7,251.0 L652.4,249.6 L651.3,248.5 L651.2,247.2 L651.3,245.9 L649.2,247.2 L651.2,245.3 L651.2,244.7 L653.8,244.8 L651.1,244.1 L651.5,243.3 L651.5,242.0 L651.1,240.8 L648.8,242.3 L651.0,240.2 L650.1,239.7 L650.0,238.4 L651.0,237.4 L651.4,236.3 L650.6,234.8 L647.7,235.2 L650.7,234.2 L651.4,233.8 L651.4,232.5 L651.7,231.3 L651.4,230.0 L651.7,229.1 L651.6,227.8 L651.5,226.5 L654.3,225.6 L651.4,225.9 L650.6,225.3 L652.8,226.1 L650.5,224.7 L650.5,224.0 L650.5,222.6 L651.1,221.1 L651.0,219.8 L649.7,218.7 L652.6,218.6 L649.6,218.1 L650.1,217.2 L649.6,216.0 L648.1,217.5 L649.2,215.5 L648.4,215.5 L647.8,214.4 L647.3,213.2 L648.0,212.4 L646.8,212.8 L646.3,212.5 L645.3,211.8 L644.2,211.2 L643.3,210.4 L645.2,209.0 L642.8,210.0 L642.8,209.1 L641.2,209.1 L640.4,208.3 L639.1,208.1 L638.5,206.9 L637.7,205.9 L636.3,205.8 L635.4,204.9 L634.0,204.8 L633.0,204.1 L632.1,203.3 L631.6,201.9 L630.3,201.8 L629.4,200.8 L627.6,202.7 L629.0,200.5 L628.2,200.6 L627.3,202.7 L627.7,200.2 L627.2,199.9 L626.4,199.0 L625.4,198.3 L624.5,197.4 L623.1,197.5 L623.7,195.6 L622.6,197.2 L622.1,196.9 L623.5,194.2 L621.5,196.6 L621.5,195.3 L620.0,195.5 L618.9,195.1 L617.7,194.8 L616.8,193.9 L615.7,193.4 L614.4,193.3 L613.7,191.9 L612.3,192.1 L612.2,190.2 L611.8,191.9 L611.4,191.1 L609.9,191.5 L609.2,190.0 L610.4,187.7 L608.6,189.8 L607.9,189.9 L608.0,188.0 L607.3,189.7 L606.7,189.5 L606.0,189.6 L604.4,188.0 L605.7,190.1 L605.6,190.9 L604.1,191.4 L603.5,192.6 L603.2,194.0 L601.4,194.3 L600.9,195.5 L598.0,195.2 L600.5,196.0 L600.2,196.7 L599.1,197.5 L598.0,198.7 L596.5,198.9 L598.3,199.3 L598.1,200.1 L599.6,200.8 L600.7,201.7 L600.3,203.3 L598.5,204.6 L600.6,203.8 L600.1,204.7 L600.2,206.0 L601.2,207.0 L598.6,208.9 L601.4,207.5 L602.1,208.0 L603.4,208.8 L600.7,211.2 L603.6,209.4 L604.2,209.9 L604.9,210.9 L605.3,212.1 L608.0,211.5 L605.6,212.7 L605.2,213.5 L606.1,214.5 L606.5,215.7 L605.9,217.3 L606.7,218.4 L607.6,219.4 L608.1,220.5 L610.3,220.2 L608.3,221.1 L607.8,222.0 L608.7,223.2 L608.6,224.6 L609.3,225.8 L609.5,227.1 L612.0,228.0 L609.6,227.7 L609.4,228.4 L611.6,227.2 L609.5,229.0 L609.6,229.8 L609.8,231.1 L610.3,232.3 L609.8,233.5 L609.5,234.8 L608.4,235.6 L607.9,236.8 L607.8,238.1 L605.9,237.9 L607.5,238.6 L607.7,239.5 L606.5,240.3 L605.2,240.9 L605.3,242.5 L607.9,243.5 L605.0,243.0 L604.3,243.3 L603.3,242.3 L604.0,243.8 L603.2,244.1 L601.5,242.7 L602.9,244.6 L602.9,244.8 L603.4,247.0 L602.4,245.0 L601.6,244.6 L602.7,246.1 L601.0,244.7 L600.8,246.3 L599.6,246.6 L598.5,247.1 L597.1,246.4 L596.8,248.5 L596.5,246.6 L595.9,246.6 L595.9,249.3 L595.3,246.7 L595.0,247.8 L593.8,248.0 L592.5,248.3 L591.0,248.2 L591.3,250.0 L590.4,248.5 L589.8,248.8 L590.3,250.1 L589.3,249.1 L589.0,250.1 M579.7,154.0 L578.9,155.0 L578.6,156.4 L577.9,157.4 L576.9,158.3 L575.5,158.8 L575.3,160.1 L577.4,160.6 L575.1,160.7 L574.6,161.3 L572.8,160.0 L574.5,161.8 L574.4,162.5 L572.3,161.8 L574.2,163.1 L573.2,163.5 L572.7,164.8 L572.0,165.9 L572.5,167.4 L574.9,167.5 L572.4,168.0 L571.9,168.6 L571.3,170.3 L571.8,171.5 L573.4,170.7 L572.0,172.1 L572.1,172.9 L570.8,173.4 L572.3,173.4 L573.7,173.7 L574.2,174.9 L575.8,174.5 L574.4,175.5 L574.9,176.1 L575.1,177.5 L577.4,175.6 L575.3,178.0 L575.0,179.0 L573.4,180.1 L575.2,179.5 L576.3,179.7 L574.3,182.1 L576.7,180.1 L577.4,180.3 L575.9,182.0 L577.8,180.8 L577.5,181.9 L578.1,183.0 L580.2,180.4 L578.5,183.5 L579.2,183.6 L580.5,184.0 L581.6,183.5 L580.9,184.5 L581.6,184.7 L581.0,186.5 L582.0,185.1 L582.0,186.0 L582.4,187.3 L584.0,187.4 L584.2,188.9 L586.8,186.3 L584.6,189.4 L585.7,189.2 L585.8,190.7 L586.9,191.4 L586.1,193.5 L587.3,191.9 L588.0,191.9 L589.4,192.1 L590.8,192.3 L591.9,193.5 L593.1,194.2 L594.4,194.6 L596.2,194.3 L597.2,193.4 L597.2,196.6 L597.7,193.1 L598.6,193.2 L600.2,194.6 L599.1,192.9 L599.5,192.1 L600.8,191.7 L601.7,194.6 L601.4,191.5 L602.2,191.6 L603.5,191.2 L604.9,190.9 L605.9,194.0 L605.4,190.7 L605.5,189.2 M606.4,189.8 L607.7,190.1 L608.9,190.4 L610.0,191.3 L609.6,194.0 L610.5,191.5 L611.3,191.3 L612.7,191.1 L612.0,193.1 L613.3,191.3 L613.6,192.4 L614.8,192.8 L615.9,190.5 L615.4,193.0 L616.1,193.1 L617.2,194.0 L618.7,193.4 L619.7,194.3 L621.1,194.2 L620.3,196.1 L621.7,194.4 L622.4,194.8 L623.6,195.0 L623.9,192.6 L624.2,195.3 L624.8,195.6 L625.4,197.2 L624.5,198.6 L625.9,197.5 L626.3,198.2 L627.4,196.7 L626.8,198.5 L627.3,199.1 L625.7,201.9 L627.8,199.4 L628.4,199.6 L629.6,200.0 L630.7,200.6 L632.3,200.3 L632.4,203.1 L632.9,200.5 L633.2,201.4 L634.6,201.4 L635.4,202.5 L635.6,203.6 L636.0,202.7 L636.9,202.5 L639.2,199.5 L637.4,202.7 L638.2,202.7 L639.0,203.8 L640.3,204.1 L641.9,202.6 L640.8,204.3 L641.6,204.3 L640.7,206.1 L642.1,204.5 L642.6,205.0 L643.9,205.3 L644.8,203.5 L644.4,205.6 L645.2,205.5 L646.1,206.5 L647.2,207.1 L648.3,207.8 L648.5,206.2 L648.8,208.1 L649.2,208.9 L647.0,211.1 L649.7,209.2 L650.5,209.0 L651.7,209.4 L652.6,210.5 L653.8,210.9 M780.0,300.0 L780.9,298.6 L780.4,300.4 L781.2,300.8 L779.8,302.3 L781.6,301.2 L781.5,302.5 L779.0,303.6 L781.9,302.9 L783.1,302.9 L784.6,303.4 L785.5,301.8 L785.0,303.8 L784.9,305.1 L786.6,305.7 L787.3,307.0 L784.9,307.2 L787.6,307.5 L787.8,308.5 L789.3,308.6 L788.0,309.0 L787.4,310.3 L789.0,311.2 L790.8,310.2 L789.2,311.7 L789.6,312.5 L790.0,314.0 M815.0,303.0 L817.3,302.1 L815.2,303.6 L815.4,304.5 L814.2,304.8 L815.7,305.0 L815.8,306.0 L815.7,307.7 L816.7,308.9 L818.1,310.0 L815.2,312.1 L818.2,310.6 L819.3,311.1 L819.9,312.4 L821.5,311.7 L820.0,313.0 L820.3,313.7 L819.5,315.3 L820.3,316.5 L820.0,318.0 M643.5,531.0 L644.5,530.1 L645.7,529.4 L646.7,529.2 L647.6,530.3 L648.5,531.5 L649.6,532.5 L650.0,534.0 L649.8,535.6 L648.7,536.9 L648.1,538.4 L648.0,540.1 L647.0,539.0 L645.6,538.8 L644.8,538.0 L644.0,536.6 L643.5,535.3 L643.6,533.8 L644.0,532.4 L643.5,531.0 Z M670.0,776.0 L670.5,774.4 L671.3,772.9 L672.4,771.7 L673.8,771.2 L674.2,770.2 L674.3,771.6 L675.1,772.2 L673.2,773.7 L675.6,772.6 L676.7,772.7 L677.8,773.9 L679.2,775.1 L679.1,776.7 L681.0,777.6 L678.9,777.3 L677.7,777.9 L677.8,779.6 L679.9,780.6 L677.6,780.2 L676.7,781.2 L678.2,782.2 L678.6,783.9 L679.8,784.1 L678.9,782.7 L679.3,784.2 L678.4,784.6 L676.7,782.4 L677.8,784.7 L677.0,785.2 L675.4,785.0 L674.0,786.0 M829.0,508.0 L830.2,507.3 L829.4,505.9 L830.7,507.0 L831.6,507.2 L832.7,506.5 L832.6,508.6 L833.3,506.3 L834.2,505.6 L835.3,506.3 L836.5,507.0 L835.6,508.7 L837.1,507.2 L837.9,507.2 L839.5,507.8 L840.1,509.0 L842.2,508.7 L840.3,509.6 L839.7,510.6 L840.1,511.9 L840.7,513.0 L839.3,512.2 L840.7,513.6 L841.0,514.5 L839.2,514.2 L841.0,515.1 L841.0,516.0 L839.3,515.8 L841.0,516.6 L841.3,517.5 L843.4,516.5 L841.3,518.1 L841.2,519.7 L839.8,520.0 L840.3,522.2 L839.2,520.1 L838.4,519.8 L836.6,520.1 L837.1,518.3 L838.9,517.5 L837.0,517.7 L836.0,516.7 L836.0,514.9 L836.2,513.3 L835.4,514.8 L834.6,515.1 L833.4,513.9 L832.0,514.0 M790.0,574.0 L792.6,573.8 L790.1,574.6 L789.6,575.5 L790.4,576.9 L790.9,578.4 L790.8,579.9 L788.9,579.4 L790.9,580.4 L790.4,581.4 L791.8,581.1 L790.5,582.0 L790.7,582.7 L790.0,583.9 L790.4,585.4 L789.5,586.5 L791.3,587.1 L789.3,587.1 L789.3,587.8 L787.0,588.5 L789.1,588.4 L789.0,589.1 L789.3,590.4 L790.2,591.6 L790.6,593.0 L790.7,594.5 L788.1,595.6 L790.9,595.1 L791.0,596.0 M797.0,578.0 L796.7,579.5 L797.4,580.9 L797.7,582.3 L798.0,583.7 L800.2,583.0 L798.0,584.3 L798.3,585.3 L796.3,584.9 L798.2,585.9 L797.8,586.5 L798.0,588.0 L797.3,589.1 L795.8,590.0 L796.1,591.4 L796.9,592.9 L797.3,594.5 L798.5,594.2 L797.6,595.0 L798.0,596.0 M793.0,598.0 L792.9,599.7 L793.0,601.3 L794.3,602.7 L794.4,604.5 L792.9,605.6 L790.7,604.7 L792.7,606.1 L793.0,607.2 L791.9,608.4 L792.2,609.9 L793.4,609.1 L792.5,610.4 L792.6,611.4 L793.5,612.6 L794.0,614.0 M801.0,596.0 L802.8,594.7 L801.1,596.6 L800.5,597.5 L798.8,597.9 L800.6,598.1 L800.4,599.0 L801.2,600.3 L799.4,601.1 L801.3,600.9 L801.4,601.4 L801.1,602.7 L800.1,602.7 L800.9,603.2 L800.3,603.8 L802.0,603.9 L800.1,604.3 L800.6,605.3 L798.9,604.0 L800.4,605.9 L800.0,606.5 L801.4,607.2 L800.3,607.7 L801.7,607.7 L801.2,608.9 L799.4,609.4 L801.5,609.4 L802.0,610.0 M804.0,606.0 L805.6,605.1 L804.1,606.6 L805.1,607.1 L804.8,608.6 L804.7,609.8 L804.7,611.4 L803.9,612.5 L803.3,613.3 L804.7,614.2 L806.1,613.0 L805.1,614.7 L805.0,616.0" fill="none" stroke="#000" stroke-width="2.3" stroke-linejoin="round" stroke-linecap="round"/>
<path d="M57.2,108.0 L58.4,109.2 L60.1,109.0 L58.7,109.7 L59.5,110.5 L60.7,111.7 L60.5,113.6 L61.4,115.0 L61.7,116.8 L63.2,117.9 L64.2,119.5 L66.0,118.3 L64.6,120.0 L65.1,121.2 L66.6,122.3 L65.7,124.7 L67.0,122.7 L68.4,123.1 L69.6,124.5 L71.4,125.0 L69.3,126.8 L71.9,125.4 L72.5,126.3 L73.2,128.0 L74.3,129.2 L73.8,130.7 L74.7,129.6 L76.1,129.7 L77.0,131.1 L77.6,132.9 L79.4,133.3 L80.6,134.4 L81.6,135.6 L82.4,137.2 L83.2,138.7 L84.3,139.9 L84.6,138.7 L84.8,140.3 L86.4,139.9 L87.8,138.2 L86.9,140.3 L87.1,141.6 L88.8,142.0 L89.5,143.7 L90.7,144.9 L89.6,146.0 L91.2,145.3 L92.4,145.7 L93.7,146.8 L95.4,145.1 L94.2,147.2 L95.5,147.4 L97.1,148.2 L98.3,149.5 L99.6,150.4 L100.7,152.2 L101.5,150.0 L101.2,152.5 L102.8,152.0 L104.1,153.2 L105.8,153.8 L106.6,151.8 L106.3,154.1 L107.0,155.3 L106.8,157.1 L107.5,155.6 L108.5,156.5 L110.3,156.3 L111.8,157.2 L113.1,158.4 L114.9,158.1 L116.1,156.3 L115.4,158.5 L116.5,158.8 L118.2,159.2 L119.0,157.6 L118.7,159.6 L119.2,160.6 L120.6,161.5 L120.2,162.4 L121.1,161.8 L121.8,162.6 L123.4,163.4 L124.2,165.4 L125.0,167.3 L127.0,168.2 L127.7,170.3 L129.0,171.6 L131.2,171.9 L132.2,173.5 L133.7,174.6 L135.7,175.1 L137.4,176.0 L138.8,177.4 L139.0,176.3 L139.3,177.7 L140.3,178.7 L141.8,179.6 L142.6,181.3 L143.8,179.9 L143.1,181.7 L143.6,182.9 L144.2,181.4 L144.1,183.3 L145.4,183.4 L143.9,185.2 L145.9,183.8 L146.6,184.7 L147.7,186.2 L148.5,183.6 L148.2,186.6 L149.5,186.7 L151.1,187.2 L151.0,188.5 L151.6,187.4 L152.3,188.7 L154.2,188.3 L155.5,189.6 L155.5,190.8 L156.1,189.8 L156.9,190.7 L158.8,190.3 L160.4,190.9 L159.7,192.6 L161.0,191.1 L161.9,191.6 L161.6,193.4 L162.5,191.7 L163.6,191.3 L165.1,192.0 L166.8,191.9 L168.4,192.2 L170.0,192.5 L171.3,194.0 L171.8,192.3 L171.8,194.2 L173.0,193.6 L174.5,194.1 L176.2,194.1 L177.8,194.5 L176.1,197.0 L178.4,194.6 L179.4,194.6 L180.8,195.7 L182.2,196.8 L182.3,195.3 L182.7,197.0 L183.7,197.4 L185.1,198.4 L184.3,200.2 L185.7,198.6 L186.9,197.8 L187.7,199.8 L187.5,197.8 L188.6,197.9 L189.6,195.6 L189.1,198.0 L190.2,198.2 L190.2,200.3 L190.8,198.2 L191.8,198.8 L192.2,200.1 L192.4,198.9 L193.4,199.0 L192.7,197.4 L194.0,199.0 L195.0,199.3 L194.8,201.4 L195.6,199.3 L196.7,199.1 L197.6,197.8 L197.3,199.2 L198.3,199.5 L199.9,199.0 L200.8,197.1 L200.5,198.9 L201.6,198.4 L201.4,200.7 L202.2,198.4 L203.4,199.1 L205.0,199.0 L206.7,198.6 L208.3,197.7 L210.0,197.6 L211.6,197.0 L211.9,195.7 L212.2,197.0 L213.3,196.4 L214.6,198.6 L213.9,196.4 L215.0,196.1 L216.8,196.7 L218.5,196.5 L217.9,195.2 L219.1,196.4 L220.2,196.4 L222.0,196.6 L223.7,196.9 L225.2,195.8 L226.9,195.6 L228.5,195.1 L230.2,195.0 L232.0,195.7 L233.6,195.1 L235.2,194.8 L236.1,196.6 L235.8,194.8 L236.8,195.0 L238.5,195.1 L240.1,195.3 L242.1,195.5 L241.6,196.7 L242.6,195.9 L243.0,197.6 L244.4,195.1 L243.5,197.9 L244.4,199.0 L245.2,197.7 L244.9,199.4 L245.8,200.4 L248.0,200.8 M211.5,199.0 L213.1,198.2 L213.0,197.0 L213.7,198.1 L214.8,198.1 L216.5,197.3 L218.4,198.3 L220.0,197.3 L221.7,197.7 L223.2,198.9 L222.9,197.4 L223.8,198.9 L225.0,198.1 L225.9,196.1 L225.6,198.2 L226.6,198.7 L228.4,198.3 L230.3,198.2 L230.8,195.6 L230.8,198.4 L231.8,199.0 L233.2,200.1 L235.1,200.1 L236.1,198.4 L235.6,200.3 L236.8,200.5 L236.9,202.6 L237.3,200.7 L239.0,201.1 L237.8,202.5 L239.4,201.6 L240.1,202.5 L240.9,204.3 L241.9,203.2 L241.3,204.7 L241.9,206.3 L243.7,208.2 L241.4,206.7 L240.1,206.8 L238.6,207.6 L239.7,208.5 L238.1,207.9 L237.8,209.5 L236.1,210.3 L234.3,210.0 L235.6,212.0 L233.7,210.1 L232.7,210.7 L232.2,208.9 L232.1,210.8 L231.0,210.9 L229.3,211.2 L229.6,212.4 L228.7,211.3 L227.5,210.7 L226.2,211.1 L224.4,211.0 L222.8,210.4 L222.6,212.1 L222.2,210.3 L220.9,211.3 L219.2,211.3 L217.7,210.3 L215.3,210.5 L214.1,211.4 L215.0,210.1 L214.6,209.1 L213.3,208.1 L212.1,206.9 L211.1,205.1 L209.5,204.4 L211.1,204.5 L211.5,203.0 L212.3,200.9 L211.5,199.0 Z M284.0,430.0 L281.8,431.9 L284.4,430.4 L285.1,430.9 L286.2,428.6 L285.5,431.3 L285.9,432.1 L287.6,432.4 L286.6,434.3 L288.1,432.8 L287.7,434.3 L288.9,435.1 L289.7,436.4 L290.7,437.2 L291.7,438.0 L292.7,438.9 L293.5,437.4 L293.1,439.3 L293.5,440.0 L294.2,441.1 L295.3,440.5 L294.7,441.5 L296.2,440.7 L297.7,441.0 L298.7,442.1 L299.2,439.8 L299.3,442.4 L300.2,442.5 L301.0,444.0 M300.0,430.0 L300.1,431.7 L301.0,432.8 L302.7,430.5 L301.3,433.3 L301.9,433.9 L300.2,435.0 L302.2,434.4 L303.6,434.6 L303.7,436.2 L304.6,435.3 L304.0,436.7 L304.5,437.4 L302.7,439.5 L304.9,437.9 L305.1,438.7 L305.8,440.0 L304.1,440.6 L306.2,440.5 L306.8,441.1 L308.1,441.9 L308.9,443.1 L308.4,444.4 L309.4,443.5 L309.7,444.3 L310.3,445.7 L309.6,447.6 L310.7,446.1 L312.0,446.0 L313.0,447.0 M505.6,127.0 L506.9,126.6 L508.3,126.7 L509.6,126.6 L510.8,128.8 L510.2,126.5 L510.8,125.8 L510.3,127.8 L511.4,125.7 L512.0,125.4 L513.1,125.7 L514.3,126.0 L513.0,127.6 L514.9,126.2 L515.6,125.9 L516.8,126.3 L517.5,124.7 L517.3,126.5 L517.5,127.8 L515.9,130.2 L518.1,128.0 L518.8,127.9 L519.9,127.5 L521.4,127.9 L522.5,126.7 L522.5,128.0 L523.1,126.5 L523.8,126.2 L524.3,127.9 L524.4,126.0 L525.2,126.3 L526.7,126.5 L527.9,126.4 L529.1,127.2 L528.1,129.4 L529.7,127.4 L530.5,127.2 L529.2,129.2 L531.1,127.3 L531.9,127.2 L533.6,126.5 L532.8,124.2 L534.1,126.6 L534.7,127.7 L532.7,130.1 L535.3,127.8 L536.4,127.2 L537.6,126.3 L537.0,127.5 L537.1,128.8 L538.2,129.5 L539.1,130.7 L540.9,130.3 L541.6,131.7 L543.7,132.2 L542.1,133.2 L541.3,134.4 L543.7,133.9 L541.2,135.0 L541.0,135.7 L540.4,137.0 L538.6,136.6 L540.2,137.6 L541.3,138.7 L541.6,140.5 L540.9,141.6 L540.3,142.8 L538.9,143.3 L541.1,144.1 L538.5,143.8 L538.3,144.5 L536.5,144.8 L535.2,143.8 L536.2,145.2 L535.6,145.1 L534.4,144.1 L535.0,145.4 L534.8,146.5 L533.8,147.3 L532.9,148.4 L531.3,148.0 L530.2,148.6 L529.4,149.9 L531.0,152.0 L528.9,150.2 L528.0,150.2 L526.6,150.1 L526.4,152.6 L526.0,150.3 L525.4,150.8 L524.2,151.6 L522.6,150.9 L521.2,150.9 L520.0,151.9 L519.2,148.7 L519.4,151.8 L518.6,152.0 L517.4,151.2 L516.2,150.3 L515.0,151.9 L515.6,150.2 L514.8,150.1 L514.8,151.7 L514.2,150.0 L513.4,149.9 L513.8,152.2 L512.9,149.7 L512.5,149.5 L511.6,148.4 L513.3,147.6 L511.2,148.0 L509.9,148.1 L508.3,147.7 L507.7,146.3 L507.2,145.0 L507.1,143.7 L506.7,142.4 L506.2,141.2 L508.5,141.1 L506.1,140.6 L506.2,139.9 L509.0,140.7 L506.1,139.3 L505.7,138.6 L503.6,139.4 L505.6,138.0 L506.3,137.2 L506.5,136.0 L506.8,134.7 L505.8,133.4 L508.8,134.7 L505.8,132.8 L504.7,132.1 L504.8,130.9 L502.7,131.4 L504.8,130.3 L505.0,129.6 L507.6,128.8 L505.0,129.0 L505.2,128.3 L506.9,128.6 L505.2,127.7 L505.6,127.0 Z M534.0,66.7 L535.2,67.3 L537.2,66.3 L535.7,67.7 L535.8,68.7 L536.8,69.6 L538.4,69.8 L539.0,71.1 L540.4,71.4 L541.8,71.9 L542.8,73.1 L543.7,74.3 L544.5,75.7 L545.2,76.6 L543.8,77.2 L545.5,77.1 L546.8,77.2 L547.6,78.4 L548.6,79.5 L549.7,80.5 L547.7,82.8 L550.0,81.0 L550.8,81.0 L551.8,82.4 L553.5,81.3 L552.2,82.7 L553.3,83.0 L554.8,81.4 L553.8,83.4 L554.3,84.3 L555.8,85.4 L556.6,86.4 L555.0,87.9 L557.0,86.8 L557.4,87.4 L554.6,87.9 L557.7,87.9 L557.9,88.7 L558.8,87.4 L558.3,89.1 L558.3,90.0 L559.1,88.7 L558.7,90.5 L558.6,91.5 L560.5,88.8 L559.0,91.9 L559.6,92.2 L560.6,93.3 L558.2,94.6 L560.9,93.8 L562.0,94.2 L561.8,95.8 L560.1,96.3 L562.1,96.3 L562.6,97.0 M553.0,58.0 L553.7,59.2 L554.6,60.4 L553.8,62.1 L554.3,63.3 L552.1,64.6 L554.5,63.9 L554.5,64.7 L552.4,64.4 L554.6,65.3 L554.5,66.1 L557.4,66.4 L554.6,66.7 L555.0,67.4 L557.8,67.9 L555.1,68.0 L556.3,68.5 L556.3,69.9 L554.6,69.3 L556.5,70.5 L556.1,71.4 L557.5,71.6 L556.3,72.0 L556.9,72.6 L555.4,73.0 L557.1,73.2 L556.8,74.0 L556.4,75.4 L556.2,76.8 L553.7,77.9 L556.2,77.4 L557.0,78.1 L557.4,79.4 L557.3,80.7 L557.8,82.0 L560.5,82.3 L557.9,82.6 L558.9,83.3 L561.0,83.3 L559.0,83.9 L558.9,84.7 L560.3,84.0 L559.0,85.3 L559.2,86.1 L559.2,87.6 L559.4,89.0 M545.0,50.0 L546.3,50.5 L546.3,51.9 L546.8,50.8 L547.2,51.6 L545.7,53.6 L547.7,51.9 L548.1,52.8 L549.5,53.0 L548.0,55.3 L550.0,53.3 L550.6,53.7 L551.8,54.3 L553.3,54.6 L554.9,54.8 L555.3,56.7 L556.5,54.6 L555.8,57.1 L556.6,57.4 L558.4,56.0 L557.1,57.8 L557.7,58.2 L559.1,58.8 L557.6,60.9 L559.6,59.1 L560.1,59.8 L561.8,58.0 L560.6,60.1 L561.0,61.1 L559.3,64.1 L561.5,61.4 L562.5,61.4 L562.2,63.4 L563.0,61.7 L564.2,61.5 L562.7,62.6 L564.7,61.8 L565.5,62.2 L566.5,59.5 L566.0,62.5 L566.0,64.1 L566.5,65.9 L566.5,64.3 L567.7,63.8 L568.2,62.1 L568.3,64.0 L569.2,64.4 L570.4,62.5 L569.8,64.6 L570.3,66.1 L572.0,66.0 M540.0,86.0 L540.2,83.6 L540.5,86.3 L541.1,87.0 L542.1,88.1 L541.5,89.6 L542.6,88.4 L543.6,88.4 L544.3,89.9 L545.7,90.3 L547.4,90.6 L548.1,91.9 L546.8,93.2 L548.5,92.3 L549.4,92.6 L547.2,94.1 L549.8,93.1 L549.8,94.2 L552.7,93.1 L550.2,94.6 L550.6,95.4 L552.5,95.7 L553.9,96.5 L553.4,98.5 L556.3,96.9 L553.7,99.0 L553.9,99.9 L555.3,100.7 L556.0,102.0 M700.0,0.0 L703.6,-2.7 L700.4,0.5 L700.8,1.0 L701.0,2.5 L698.4,4.5 L701.4,3.0 L702.0,3.5 L702.6,4.6 L703.9,3.4 L702.9,5.1 L703.9,5.2 L707.5,4.1 L704.3,5.6 L704.5,6.4 L702.0,8.8 L704.9,6.8 L706.4,6.5 L703.4,9.3 L706.8,7.0 L707.4,7.4 L709.8,6.7 L707.8,7.9 L707.1,9.4 L703.5,11.3 L707.5,9.8 L707.4,10.8 L705.2,12.7 L707.7,11.3 L707.9,12.0 L709.1,12.9 L711.0,13.0 L706.7,17.3 L711.4,13.5 L712.3,13.7 L712.7,15.3 L713.2,16.8 L712.5,18.9 L713.6,17.2 L715.1,16.9 L717.8,14.9 L715.5,17.3 L716.2,17.8 L712.2,20.9 L716.7,18.2 L717.4,18.6 L718.0,20.0 L719.6,17.9 L718.4,20.4 L718.8,21.2 L714.9,24.2 L719.2,21.7 L719.7,22.3 L721.4,22.6 L719.2,25.0 L721.9,23.0 L721.6,24.8 L723.2,21.8 L722.2,25.0 L723.0,24.9 L724.0,26.0 L723.5,30.1 L724.6,26.2 L725.3,26.3 L726.2,27.6 L728.0,27.0 M712.0,0.0 L712.5,1.5 L714.1,1.9 L713.3,3.2 L714.5,2.3 L715.7,2.3 L716.6,3.4 L717.5,4.5 L717.8,6.3 L719.8,5.8 L720.8,3.0 L720.3,6.1 L720.8,7.0 L721.5,3.6 L721.4,7.3 L722.4,7.1 L720.5,9.9 L723.0,7.4 L723.7,8.0 L723.7,5.3 L724.2,8.3 L724.4,9.8 L725.9,10.2 L726.9,7.2 L726.4,10.5 L727.1,11.1 L728.6,11.5 L730.0,9.0 L729.1,11.8 L730.2,11.7 L731.3,12.8 L732.2,14.3 L734.0,14.0 M747.0,26.0 L747.7,27.3 L747.1,29.0 L750.2,29.6 L747.3,29.6 L748.5,30.1 L746.7,31.5 L748.7,30.7 L749.7,31.3 L750.2,32.5 L747.2,33.3 L750.4,33.0 L750.1,34.2 L752.1,33.1 L750.3,34.8 L751.0,35.5 L750.4,37.4 L751.6,36.4 L750.6,37.9 L750.4,39.0 L748.4,38.9 L750.7,39.6 L752.0,40.0 M754.0,24.0 L756.1,24.7 L754.1,24.6 L754.3,25.3 L755.7,24.4 L754.5,25.9 L755.2,26.5 L752.7,26.6 L755.3,27.1 L754.5,28.1 L757.2,26.0 L754.6,28.7 L754.7,29.5 L757.1,28.2 L754.8,30.1 L755.1,30.8 L756.6,31.9 L758.4,31.8 L756.7,32.5 L756.7,33.2 L756.2,34.6 L756.2,36.0 L757.0,37.2 L754.9,36.5 L757.2,37.8 L757.6,38.4 L759.8,38.1 L757.8,39.0 L757.1,39.8 L758.0,41.0 M588.0,2.0 L588.3,3.7 L587.4,5.7 L588.7,4.1 L589.0,5.0 L591.9,2.3 L589.4,5.4 L591.2,4.8 L592.0,6.0 L595.2,7.0 L591.8,6.6 L592.5,7.6 L595.3,7.7 L592.4,8.1 L592.2,8.9 L594.6,8.9 L592.1,9.5 L590.8,9.9 L587.9,9.8 L590.6,10.5 L589.8,11.1 L591.6,11.7 L589.6,11.7 L589.4,12.4 L586.0,12.5 L589.2,13.0 L590.4,13.7 L591.0,15.1 L592.0,16.1 L593.5,16.9 L590.7,17.2 L593.8,17.4 L594.4,18.0 L594.0,20.0 M589.0,30.0 L588.2,30.7 L589.4,30.5 L590.1,30.8 L591.3,31.5 L593.9,29.5 L591.7,31.9 L591.6,32.9 L592.5,33.9 L592.7,35.4 L590.5,36.7 L593.1,35.9 L593.2,36.3 L595.0,35.3 L593.4,36.9 L593.7,37.6 L592.0,38.7 L593.9,38.2 L593.9,39.1 L591.7,40.7 L594.1,39.7 L594.0,40.6 L595.7,41.5 L595.9,42.9 L597.0,44.0 M640.0,100.0 L641.7,100.1 L642.9,98.8 L642.2,100.5 L642.8,101.1 L642.3,102.3 L643.2,101.4 L644.0,101.8 L645.0,102.9 L646.1,103.8 L646.6,105.5 L647.9,106.5 L649.2,107.0 L647.6,109.2 L649.8,107.1 L650.6,107.1 L651.8,107.8 L651.1,109.5 L652.4,108.0 L653.1,108.2 L653.6,105.6 L653.7,108.4 L654.5,108.3 L656.0,108.0 M690.0,122.0 L691.1,122.7 L692.0,123.8 L693.4,124.1 L691.8,126.2 L693.8,124.5 L694.5,124.8 L694.7,126.6 L692.9,128.9 L695.2,127.0 L696.0,127.2 L697.6,127.3 L698.1,128.7 L696.9,129.8 L698.6,129.1 L698.8,130.0 L701.0,128.4 L699.2,130.4 L699.6,131.0 L697.8,133.0 L700.1,131.4 L700.6,131.9 L697.8,132.9 L701.1,132.3 L701.2,133.2 L700.8,135.1 L701.7,133.6 L702.5,133.7 L701.2,135.3 L703.0,134.1 L704.0,134.0 M735.0,163.0 L736.4,163.6 L738.4,161.6 L736.8,164.1 L736.6,165.4 L734.3,167.3 L737.0,165.8 L737.2,166.8 L736.0,167.8 L737.6,167.2 L739.2,166.8 L737.0,168.1 L739.6,167.2 L740.5,167.5 L741.1,168.9 L740.1,170.5 L741.5,169.3 L742.0,170.0 L743.1,171.2 L741.6,172.9 L743.6,171.4 L744.2,172.3 L745.3,173.3 L744.7,176.7 L745.9,173.6 L747.4,172.5 L747.9,171.1 L748.0,172.8 L748.4,173.9 L750.8,171.5 L748.9,174.2 L750.0,174.0 M810.0,25.0 L810.6,23.4 L810.5,25.4 L811.6,25.1 L812.7,25.8 L810.8,27.3 L813.2,26.2 L813.7,26.6 L815.4,25.2 L814.2,27.0 L814.0,28.3 L814.7,29.5 L813.3,31.0 L815.2,29.9 L816.4,29.6 L816.8,31.2 L818.7,30.2 L817.2,31.6 L818.4,31.6 L819.4,32.6 L819.8,34.2 L817.8,35.1 L820.3,34.6 L820.5,35.5 L819.2,36.9 L820.9,35.9 L822.0,36.0 M565.0,165.0 L567.7,165.3 L565.2,165.6 L564.9,166.4 L565.8,167.5 L566.3,168.7 L566.2,170.1 L567.2,171.2 L567.3,172.5 L564.7,171.9 L567.4,173.1 L568.4,173.5 L566.6,173.2 L568.6,174.1 L568.2,175.0 L566.6,175.4 L568.3,175.6 L568.2,176.4 L566.0,176.9 L568.3,177.0 L569.3,177.6 L569.7,178.9 L568.1,179.2 L569.8,179.5 L569.8,180.4 L569.2,181.9 L567.0,181.3 L569.3,182.5 L569.6,183.2 L566.9,185.0 L569.7,183.8 L569.0,184.8 L570.0,186.0 M631.0,778.0 L632.5,777.2 L634.0,776.5 L634.9,778.0 L636.0,779.4 L634.7,780.0 L633.3,780.4 L632.2,780.9 L631.4,779.5 L631.0,778.0 Z" fill="none" stroke="#000" stroke-width="2.4" stroke-linejoin="round" stroke-linecap="round"/>
<path d="M170.0,202.0 L172.1,201.9 L174.2,201.8 L175.2,203.3 L174.8,201.6 L175.9,201.3 L175.2,199.7 L176.5,201.4 L177.5,201.3 L179.2,200.9 L179.0,203.5 L179.8,201.0 L180.9,200.5 L182.5,200.8 L184.1,201.0 L185.0,199.4 L184.7,201.2 L185.6,202.0 L187.3,201.5 L188.7,203.0 L190.2,203.7 L191.9,203.4 L193.8,202.8 L195.3,203.3 L195.4,204.4 L195.9,203.4 L197.0,203.3 L198.7,203.3 L198.7,201.1 L199.3,203.4 L200.9,204.2 L201.1,206.4 L199.6,207.6 L201.5,206.8 L202.7,207.4 L203.7,209.2 L202.5,210.6 L200.9,211.2 L199.0,211.4 L198.4,209.5 L198.5,211.7 L197.8,212.7 L196.0,212.8 L194.9,214.8 L195.4,212.7 L194.4,212.3 L192.7,212.1 L191.1,211.7 L191.6,209.3 L190.5,211.6 L189.4,211.2 L188.9,209.0 L188.9,211.1 L187.7,211.5 L186.4,213.4 L187.1,211.5 L186.0,211.9 L184.3,212.7 L182.6,212.7 L183.6,215.2 L182.0,212.7 L180.9,212.6 L181.0,214.5 L180.3,212.5 L179.3,211.3 L177.8,210.3 L176.0,211.1 L174.3,210.1 L172.8,208.8 L173.8,206.9 L172.3,208.5 L170.8,208.0 L169.3,209.1 L170.7,207.4 L170.8,206.0 L171.3,203.8 L168.9,205.4 L171.2,203.3 L170.0,202.0 Z M176.0,205.0 L177.5,204.3 L178.9,204.5 L180.4,204.4 L179.7,206.5 L181.0,204.5 L181.8,204.3 L183.2,204.8 L183.4,206.2 L183.8,204.8 L184.6,205.8 L185.1,204.4 L185.2,205.9 L186.0,206.3 L187.5,205.8 L186.5,207.2 L188.1,205.9 L188.9,205.7 L190.4,205.7 L191.8,205.9 L192.6,203.9 L192.4,206.0 L193.1,207.0 L194.5,207.7 L196.0,207.0 M855.2,799.8 L853.8,802.0 L855.7,800.2 L856.5,800.5 L857.8,798.4 L857.0,800.8 L857.3,801.9 L858.3,799.7 L857.7,802.2 L858.7,802.4 L859.4,800.2 L859.2,802.7 L860.3,802.7 L861.1,804.1 L862.5,804.7 L863.6,805.6 L863.0,807.7 L864.1,806.0 L864.0,807.2 L862.3,807.9 L864.4,807.6 L864.8,808.4 L865.3,808.0 L865.2,808.9 L866.3,808.9 L864.9,809.8 L866.7,809.3 L867.6,809.6 L866.6,810.7 L868.0,810.1 L868.0,811.2 L869.7,808.5 L868.5,811.6 L869.6,811.8 L870.0,813.1 L868.7,814.0 L870.3,813.6 L870.7,814.2 L871.4,815.3 L869.6,815.6 L871.7,815.9 L871.9,816.6 L872.5,817.7 L874.5,816.5 L872.8,818.2 L872.7,818.9 L873.7,821.2 L872.1,818.9 L871.4,819.2 L870.1,818.7 L869.4,820.4 L869.5,818.7 L868.8,818.7 L869.0,820.2 L868.2,818.7 L867.7,818.9 L866.2,818.4 L867.9,816.5 L865.8,818.0 L865.3,817.4 L866.2,816.3 L864.8,817.0 L864.2,816.5 L863.4,815.4 L862.0,817.6 L863.0,815.0 L862.6,814.3 L864.2,813.0 L862.1,813.8 L861.7,813.2 L861.1,811.8 L860.2,810.8 L858.9,810.1 L857.4,809.2 L856.0,808.3 L854.4,806.8 L854.2,805.4 L852.3,804.7 L854.2,804.8 L854.7,804.0 L855.0,802.6 L857.1,803.5 L855.0,802.0 L855.5,801.2 L853.4,800.5 L855.5,800.6 L855.2,799.8 Z M858.0,803.0 L858.8,804.2 L859.7,805.3 L861.2,805.8 L861.9,807.1 L862.5,808.5 L863.9,809.1 L864.6,810.2 L865.9,810.8 L866.8,811.7 L867.4,812.9 L868.3,813.9 L869.0,815.0" fill="none" stroke="#000" stroke-width="2.6" stroke-linejoin="round" stroke-linecap="round"/>
<path d="M834.0,780.4 L835.6,780.1 L836.4,778.7 L837.6,781.0 L836.9,778.3 L837.8,778.2 L838.5,776.7 L839.7,775.7 L840.8,774.8 L842.4,774.6 L843.2,773.3 L844.5,772.7 L843.2,771.9 L845.0,772.4 L846.1,772.6 L847.5,772.2 L848.2,771.2 L849.5,770.3 L849.1,768.9 L850.1,770.2 L850.9,770.0 L852.3,769.2 L853.7,769.2 L855.5,768.6 L857.0,769.2 L858.4,769.7 L859.8,770.4 L857.7,772.6 L860.4,770.6 L860.9,771.6 L861.2,772.9 L860.5,774.4 L861.8,774.3 L860.6,775.0 L861.1,775.7 L860.7,777.0 L861.2,778.3 L861.2,779.6 L862.9,778.8 L861.2,780.2 L861.2,780.9 L862.5,780.7 L861.1,781.5 L861.2,782.2" fill="none" stroke="#000" stroke-width="2.7" stroke-linejoin="round" stroke-linecap="round"/>
<path d="M208.0,52.0 L208.6,53.4 L210.2,52.5 L209.0,53.8 L209.4,54.6 L211.2,54.8 L212.4,55.4 L213.6,56.9 L215.0,58.0" fill="none" stroke="#000" stroke-width="2.8" stroke-linejoin="round" stroke-linecap="round"/>
<path d="M173.6,7.2 L174.0,7.2 M242.2,11.1 L242.6,11.1 M253.1,20.1 L253.5,20.1 M242.7,54.4 L243.1,54.4 M208.8,46.7 L209.2,46.7 M217.6,30.5 L218.0,30.5 M240.7,79.7 L241.1,79.7 M275.1,69.0 L275.5,69.0 M329.4,109.2 L329.8,109.2 M387.9,181.2 L388.3,181.2 M418.8,193.5 L419.2,193.5 M372.9,183.5 L373.3,183.5 M380.3,179.6 L380.7,179.6 M542.7,248.8 L543.1,248.8 M229.8,97.0 L230.2,97.0 M90.5,144.9 L90.9,144.9 M150.9,187.2 L151.3,187.2 M198.1,199.5 L198.5,199.5 M194.6,181.7 L195.0,181.7 M199.9,185.9 L200.3,185.9 M201.9,186.4 L202.3,186.4 M238.4,191.9 L238.8,191.9 M287.8,272.7 L288.2,272.7 M291.5,286.0 L291.9,286.0 M300.5,356.3 L300.9,356.3 M301.1,367.2 L301.5,367.2 M310.3,426.9 L310.7,426.9 M295.1,396.5 L295.5,396.5 M307.3,430.3 L307.7,430.3 M296.0,350.3 L296.4,350.3 M283.8,430.0 L284.2,430.0 M301.1,433.3 L301.5,433.3 M297.6,436.2 L298.0,436.2 M296.2,439.4 L296.6,439.4 M457.6,149.9 L458.0,149.9 M467.8,165.5 L468.2,165.5 M486.0,180.2 L486.4,180.2 M456.3,200.2 L456.7,200.2 M468.8,200.1 L469.2,200.1 M444.3,183.9 L444.7,183.9 M448.2,178.9 L448.6,178.9 M466.6,122.9 L467.0,122.9 M473.7,148.4 L474.1,148.4 M470.7,147.4 L471.1,147.4 M460.5,127.6 L460.9,127.6 M510.4,113.8 L510.8,113.8 M549.8,117.2 L550.2,117.2 M554.1,121.8 L554.5,121.8 M562.3,120.0 L562.7,120.0 M583.0,128.3 L583.4,128.3 M550.7,134.5 L551.1,134.5 M558.7,36.7 L559.1,36.7 M565.4,34.6 L565.8,34.6 M582.6,39.2 L583.0,39.2 M576.7,86.0 L577.1,86.0 M582.4,107.0 L582.8,107.0 M543.4,102.4 L543.8,102.4 M537.0,66.3 L537.4,66.3 M540.3,86.3 L540.7,86.3 M532.1,73.7 L532.5,73.7 M534.7,73.4 L535.1,73.4 M557.4,79.2 L557.8,79.2 M558.4,78.1 L558.8,78.1 M533.4,87.9 L533.8,87.9 M548.4,87.6 L548.8,87.6 M552.5,55.7 L552.9,55.7 M560.9,54.5 L561.3,54.5 M557.7,45.9 L558.1,45.9 M577.2,126.2 L577.6,126.2 M578.1,135.2 L578.5,135.2 M564.7,144.3 L565.1,144.3 M466.8,129.2 L467.2,129.2 M491.4,132.2 L491.8,132.2 M521.0,149.2 L521.4,149.2 M528.8,137.1 L529.2,137.1 M529.4,108.0 L529.8,108.0 M587.9,0.6 L588.3,0.6 M587.5,36.4 L587.9,36.4 M595.7,68.7 L596.1,68.7 M610.2,104.0 L610.6,104.0 M647.1,99.2 L647.5,99.2 M712.9,131.3 L713.3,131.3 M798.4,185.3 L798.8,185.3 M792.5,117.8 L792.9,117.8 M787.4,85.5 L787.8,85.5 M777.4,58.7 L777.8,58.7 M767.7,20.9 L768.1,20.9 M707.6,7.9 L708.0,7.9 M752.2,20.2 L752.6,20.2 M589.2,30.5 L589.6,30.5 M642.6,101.1 L643.0,101.1 M734.8,163.0 L735.2,163.0 M812.6,20.7 L813.0,20.7 M819.9,37.5 L820.3,37.5 M843.2,32.4 L843.6,32.4 M641.6,100.2 L642.0,100.2 M791.8,98.7 L792.2,98.7 M798.9,123.8 L799.3,123.8 M669.3,192.5 L669.7,192.5 M682.1,192.4 L682.5,192.4 M597.6,200.1 L598.0,200.1 M594.3,152.3 L594.7,152.3 M647.8,179.6 L648.2,179.6 M652.2,181.8 L652.6,181.8 M703.3,197.2 L703.7,197.2 M708.4,237.5 L708.8,237.5 M715.0,256.0 L715.4,256.0 M713.4,256.7 L713.8,256.7 M670.3,252.5 L670.7,252.5 M638.6,248.2 L639.0,248.2 M599.9,204.7 L600.3,204.7 M607.3,238.6 L607.7,238.6 M590.6,192.3 L591.0,192.3 M618.5,193.4 L618.9,193.4 M636.7,202.5 L637.1,202.5 M518.9,157.4 L519.3,157.4 M549.2,160.8 L549.6,160.8 M534.6,165.9 L535.0,165.9 M548.8,200.7 L549.2,200.7 M740.8,270.4 L741.2,270.4 M781.7,302.9 L782.1,302.9 M820.1,316.5 L820.5,316.5 M892.4,368.2 L892.8,368.2 M895.8,364.1 L896.2,364.1 M927.4,338.2 L927.8,338.2 M866.2,318.2 L866.6,318.2 M852.2,426.7 L852.6,426.7 M849.4,427.1 L849.8,427.1 M854.9,458.1 L855.3,458.1 M867.6,461.9 L868.0,461.9 M869.6,457.3 L870.0,457.3 M868.9,446.6 L869.3,446.6 M611.0,500.0 L611.4,500.0 M623.3,489.5 L623.7,489.5 M593.9,518.0 L594.3,518.0 M789.1,590.4 L789.5,590.4 M860.9,781.5 L861.3,781.5" fill="none" stroke="#000" stroke-width="3.6" stroke-linecap="round"/>
<path d="M299.0,447.0 L304.0,448.0 L309.0,451.0 L312.5,456.0 L312.0,463.0 L309.5,470.0 L305.0,476.5 L301.5,477.0 L302.5,472.0 L306.0,466.0 L307.0,459.0 L305.0,454.0 L300.0,451.0 Z" fill="#000" stroke="#000" stroke-width="1"/>
<path d="M374.5,584.0 L378.0,583.0 L383.0,590.0 L385.0,597.0 L382.0,598.5 L378.0,594.0 L375.0,589.0 Z" fill="#000" stroke="#000" stroke-width="1"/>
<path d="M668.9,361.0 L673.0,360.1 L674.8,366.0 L672.0,371.9 L669.0,369.0 Z" fill="#000" stroke="#000" stroke-width="1"/>
<path d="M158.5,71.0 L163.5,70.5 L163.0,75.5 L159.0,76.0 Z" fill="#000" stroke="#000" stroke-width="1"/>
<path d="M292.6,17.6 L294.6,17.6 L294.6,19.6 L292.6,19.6 Z" fill="#000" stroke="#000" stroke-width="1"/>
<path d="M202.6,170.8 L210.4,148.2 L218.3,170.8 M205.1,164.7 L215.8,164.7" fill="none" stroke="#000" stroke-width="2.4" stroke-linecap="round" stroke-linejoin="round"/>
<path d="M238.3,158.0 L238.3,144.8 L231.8,154.2 L240.4,154.2" fill="none" stroke="#3a1c12" stroke-width="1.9" stroke-linecap="round" stroke-linejoin="round"/>
<path d="M255.0,151.7 L255.0,150.4 L254.7,149.2 L254.3,148.1 L253.8,147.1 L253.1,146.3 L252.4,145.7 L251.6,145.4 L250.8,145.2 L249.9,145.4 L249.1,145.7 L248.4,146.3 L247.7,147.1 L247.2,148.1 L246.8,149.2 L246.5,150.4 L246.4,151.7 L246.5,152.9 L246.8,154.1 L247.2,155.2 L247.7,156.2 L248.4,157.0 L249.1,157.6 L249.9,157.9 L250.8,158.0 L251.6,157.9 L252.4,157.6 L253.1,157.0 L253.8,156.2 L254.3,155.2 L254.7,154.1 L255.0,152.9 L255.0,151.7" fill="none" stroke="#3a1c12" stroke-width="1.9" stroke-linecap="round" stroke-linejoin="round"/>
<path d="M263.5,155.7 L264.0,154.9 L264.8,154.2 L265.8,153.7 L266.9,153.5 L268.0,153.5 L269.2,153.7 L270.1,154.2 L270.9,154.9 L271.4,155.8 L271.7,156.7 L271.6,157.6 L271.2,158.5 L270.5,159.3 L269.6,159.8 L268.6,160.2 L267.4,160.3 L268.7,160.1 L269.8,160.5 L270.8,161.0 L271.5,161.8 L272.0,162.7 L272.0,163.6 L271.8,164.5 L271.2,165.4 L270.4,166.1 L269.3,166.6 L268.1,166.8 L266.8,166.8 L265.6,166.6 L264.6,166.1 L263.7,165.4 L263.1,164.6" fill="none" stroke="#3a1c12" stroke-width="1.9" stroke-linecap="round" stroke-linejoin="round"/>
<path d="M278.2,155.7 L278.8,154.9 L279.6,154.2 L280.7,153.7 L281.9,153.5 L283.1,153.5 L284.3,153.7 L285.3,154.2 L286.1,154.9 L286.7,155.8 L286.9,156.7 L286.9,157.6 L286.4,158.5 L285.7,159.3 L284.8,159.8 L283.7,160.2 L282.4,160.3 L283.8,160.1 L285.0,160.5 L286.0,161.0 L286.8,161.8 L287.2,162.7 L287.3,163.6 L287.1,164.5 L286.5,165.4 L285.6,166.1 L284.4,166.6 L283.1,166.8 L281.8,166.8 L280.5,166.6 L279.4,166.1 L278.5,165.4 L277.8,164.6" fill="none" stroke="#3a4454" stroke-width="1.9" stroke-linecap="round" stroke-linejoin="round"/>
<path d="M303.4,135.7 L291.9,135.7 L291.9,158.3 L303.4,158.3 M291.9,147.0 L300.0,147.0" fill="none" stroke="#000" stroke-width="2.5" stroke-linecap="round" stroke-linejoin="round"/>
<path d="M328.1,141.2 L322.8,135.7 L316.5,135.7 L311.8,141.2 L311.8,152.7 L317.0,158.3 L322.8,158.3 L328.1,152.7" fill="none" stroke="#000" stroke-width="2.5" stroke-linecap="round" stroke-linejoin="round"/>
<path d="M250.8,279.0 L239.1,279.0 L239.1,302.1 L250.8,302.1 M239.1,290.6 L247.3,290.6" fill="none" stroke="#000" stroke-width="2.3" stroke-linecap="round" stroke-linejoin="round"/>
<path d="M274.6,284.7 L269.6,279.0 L263.5,279.0 L258.9,284.7 L258.9,296.4 L264.0,302.1 L269.6,302.1 L274.6,296.4" fill="none" stroke="#000" stroke-width="2.3" stroke-linecap="round" stroke-linejoin="round"/>
<path d="M416.9,531.1 L424.3,508.7 L431.7,531.1 M419.3,525.0 L429.3,525.0" fill="none" stroke="#000" stroke-width="2.6" stroke-linecap="round" stroke-linejoin="round"/>
<path d="M385.4,612.1 L385.3,610.9 L384.9,609.8 L384.3,608.8 L383.5,608.0 L382.7,607.5 L381.7,607.4 L380.7,607.5 L379.9,608.0 L379.1,608.8 L378.5,609.8 L378.1,610.9 L378.0,612.1 L378.1,613.4 L378.5,614.5 L379.1,615.5 L379.8,616.3 L380.7,616.7 L381.7,616.9 L382.7,616.7 L383.5,616.3 L384.3,615.5 L384.9,614.5 L385.3,613.4 L385.4,612.1 M378.0,612.1 L378.1,608.9 L378.2,607.9 L378.5,607.0 L378.8,606.1 L379.3,605.3 L379.8,604.5 L380.4,604.0 L381.0,603.5 L381.7,603.2 L382.4,603.0" fill="none" stroke="#3a1c12" stroke-width="2.0" stroke-linecap="round" stroke-linejoin="round"/>
<path d="M401.8,610.0 L401.7,608.6 L401.5,607.3 L401.1,606.1 L400.6,605.0 L399.9,604.2 L399.2,603.5 L398.4,603.1 L397.6,603.0 L396.7,603.1 L395.9,603.5 L395.2,604.2 L394.5,605.0 L394.0,606.1 L393.6,607.3 L393.4,608.6 L393.3,609.9 L393.4,611.3 L393.6,612.6 L394.0,613.8 L394.5,614.9 L395.2,615.7 L395.9,616.4 L396.7,616.8 L397.6,616.9 L398.4,616.8 L399.2,616.4 L399.9,615.7 L400.6,614.9 L401.1,613.8 L401.5,612.6 L401.7,611.3 L401.8,610.0" fill="none" stroke="#3a1c12" stroke-width="2.0" stroke-linecap="round" stroke-linejoin="round"/>
<path d="M401.0,647.6 L395.1,647.6 L394.3,653.5 L395.3,653.3 L396.2,652.7 L397.2,652.4 L398.3,652.3 L399.3,652.6 L400.3,653.2 L401.0,654.0 L401.5,655.0 L401.8,656.1 L401.7,657.3 L401.4,658.4 L400.8,659.3 L400.0,660.1 L399.1,660.6 L398.0,660.8 L396.9,660.7 L395.9,660.3 L395.1,659.6 L394.4,658.7" fill="none" stroke="#3a1c12" stroke-width="2.0" stroke-linecap="round" stroke-linejoin="round"/>
<path d="M418.2,654.2 L418.1,652.9 L417.8,651.7 L417.4,650.5 L416.8,649.5 L416.0,648.7 L415.2,648.1 L414.3,647.7 L413.4,647.6 L412.4,647.7 L411.5,648.1 L410.7,648.7 L409.9,649.5 L409.3,650.5 L408.9,651.7 L408.6,652.9 L408.5,654.2 L408.6,655.5 L408.9,656.7 L409.3,657.9 L409.9,658.9 L410.7,659.7 L411.5,660.3 L412.4,660.7 L413.3,660.8 L414.3,660.7 L415.2,660.3 L416.0,659.7 L416.8,658.9 L417.4,657.9 L417.8,656.7 L418.1,655.5 L418.2,654.2" fill="none" stroke="#3a1c12" stroke-width="2.0" stroke-linecap="round" stroke-linejoin="round"/>
<path d="M451.0,659.0 L451.0,646.4 L443.7,655.4 L453.4,655.4" fill="none" stroke="#3a1c12" stroke-width="2.0" stroke-linecap="round" stroke-linejoin="round"/>
<path d="M467.4,652.7 L467.3,651.5 L467.1,650.3 L466.7,649.2 L466.2,648.2 L465.5,647.5 L464.8,646.9 L464.0,646.5 L463.1,646.4 L462.3,646.5 L461.5,646.9 L460.8,647.5 L460.1,648.2 L459.6,649.2 L459.2,650.3 L459.0,651.5 L458.9,652.7 L459.0,653.9 L459.2,655.1 L459.6,656.2 L460.1,657.2 L460.8,657.9 L461.5,658.5 L462.3,658.9 L463.1,659.0 L464.0,658.9 L464.8,658.5 L465.5,657.9 L466.2,657.2 L466.7,656.2 L467.1,655.1 L467.3,653.9 L467.4,652.7" fill="none" stroke="#3a1c12" stroke-width="2.0" stroke-linecap="round" stroke-linejoin="round"/>
<path d="M458.3,680.3 L458.8,679.4 L459.5,678.8 L460.4,678.3 L461.5,678.0 L462.6,678.0 L463.6,678.3 L464.5,678.8 L465.2,679.5 L465.7,680.3 L465.9,681.2 L465.9,682.1 L465.5,683.0 L464.9,683.8 L464.1,684.3 L463.1,684.7 L462.0,684.8 L463.2,684.6 L464.2,685.0 L465.1,685.5 L465.8,686.3 L466.2,687.2 L466.3,688.1 L466.1,689.0 L465.5,689.8 L464.7,690.5 L463.7,691.0 L462.6,691.3 L461.4,691.3 L460.3,691.0 L459.3,690.5 L458.5,689.9 L458.0,689.0" fill="none" stroke="#3a1c12" stroke-width="2.0" stroke-linecap="round" stroke-linejoin="round"/>
<path d="M474.6,680.3 L475.0,679.4 L475.7,678.8 L476.5,678.3 L477.4,678.0 L478.3,678.0 L479.2,678.3 L480.0,678.8 L480.6,679.5 L481.0,680.3 L481.2,681.2 L481.1,682.1 L480.8,683.0 L480.3,683.8 L479.6,684.3 L478.7,684.7 L477.8,684.8 L478.8,684.6 L479.7,685.0 L480.5,685.5 L481.1,686.3 L481.4,687.2 L481.5,688.1 L481.3,689.0 L480.8,689.8 L480.1,690.5 L479.3,691.0 L478.3,691.3 L477.3,691.3 L476.3,691.0 L475.5,690.5 L474.8,689.9 L474.3,689.0" fill="none" stroke="#2a2222" stroke-width="2.0" stroke-linecap="round" stroke-linejoin="round"/>
<path d="M684.9,571.2 L684.9,558.2 L679.5,567.5 L686.7,567.5" fill="none" stroke="#3a1c12" stroke-width="1.9" stroke-linecap="round" stroke-linejoin="round"/>
<path d="M702.8,564.7 L702.7,563.4 L702.5,562.2 L702.1,561.1 L701.6,560.1 L701.0,559.3 L700.3,558.7 L699.6,558.4 L698.9,558.2 L698.1,558.4 L697.4,558.7 L696.7,559.3 L696.1,560.1 L695.6,561.1 L695.2,562.2 L695.0,563.4 L695.0,564.7 L695.0,566.0 L695.2,567.2 L695.6,568.3 L696.1,569.3 L696.7,570.1 L697.4,570.7 L698.1,571.0 L698.9,571.2 L699.6,571.0 L700.3,570.7 L701.0,570.1 L701.6,569.3 L702.1,568.3 L702.5,567.2 L702.7,566.0 L702.8,564.7" fill="none" stroke="#3a1c12" stroke-width="1.9" stroke-linecap="round" stroke-linejoin="round"/>
<path d="M689.0,589.6 L689.4,588.7 L689.9,588.0 L690.6,587.5 L691.4,587.3 L692.2,587.3 L693.0,587.5 L693.7,588.0 L694.2,588.7 L694.6,589.6 L694.8,590.5 L694.7,591.5 L694.5,592.4 L694.0,593.1 L693.4,593.7 L692.6,594.1 L691.8,594.2 L692.7,594.0 L693.5,594.4 L694.2,595.0 L694.7,595.7 L695.0,596.6 L695.0,597.6 L694.9,598.5 L694.5,599.4 L693.9,600.1 L693.1,600.6 L692.3,600.8 L691.4,600.8 L690.5,600.6 L689.8,600.1 L689.2,599.4 L688.7,598.5" fill="none" stroke="#1c2438" stroke-width="1.9" stroke-linecap="round" stroke-linejoin="round"/>
<path d="M703.8,589.6 L704.3,588.7 L704.9,588.0 L705.6,587.5 L706.5,587.3 L707.4,587.3 L708.3,587.5 L709.1,588.0 L709.7,588.7 L710.1,589.6 L710.3,590.5 L710.2,591.5 L709.9,592.4 L709.4,593.1 L708.7,593.7 L707.8,594.1 L707.0,594.2 L707.9,594.0 L708.8,594.4 L709.6,595.0 L710.1,595.7 L710.5,596.6 L710.5,597.6 L710.3,598.5 L709.9,599.4 L709.2,600.1 L708.4,600.6 L707.5,600.8 L706.5,600.8 L705.5,600.6 L704.7,600.1 L704.0,599.4 L703.6,598.5" fill="none" stroke="#3a1c12" stroke-width="1.9" stroke-linecap="round" stroke-linejoin="round"/>
<path d="M685.0,647.5 L673.1,647.5 L673.1,670.8 L685.0,670.8 M673.1,659.1 L681.4,659.1" fill="none" stroke="#000" stroke-width="2.2" stroke-linecap="round" stroke-linejoin="round"/>
<path d="M709.3,653.2 L704.2,647.5 L697.9,647.5 L693.3,653.2 L693.3,665.0 L698.4,670.8 L704.2,670.8 L709.3,665.0" fill="none" stroke="#000" stroke-width="2.2" stroke-linecap="round" stroke-linejoin="round"/>
<path d="M811.1,476.8 L818.5,454.2 L825.8,476.8 M813.5,470.7 L823.4,470.7" fill="none" stroke="#000" stroke-width="2.4" stroke-linecap="round" stroke-linejoin="round"/>
<path d="M504.3,727.8 L492.5,727.8 L492.5,750.1 L504.3,750.1 M492.5,738.9 L500.8,738.9" fill="none" stroke="#000" stroke-width="2.3" stroke-linecap="round" stroke-linejoin="round"/>
<path d="M528.9,733.2 L523.7,727.8 L517.4,727.8 L512.8,733.2 L512.8,744.5 L517.9,750.1 L523.7,750.1 L528.9,744.5" fill="none" stroke="#000" stroke-width="2.3" stroke-linecap="round" stroke-linejoin="round"/>
<path d="M531.6,725.3 L532.1,724.5 L532.9,723.9 L533.8,723.4 L534.8,723.2 L535.9,723.2 L536.9,723.4 L537.9,723.9 L538.6,724.6 L539.1,725.4 L539.3,726.3 L539.2,727.2 L538.9,728.0 L538.2,728.8 L537.4,729.4 L536.4,729.7 L535.4,729.8 L536.5,729.6 L537.6,729.9 L538.5,730.5 L539.2,731.3 L539.6,732.1 L539.6,733.0 L539.4,733.9 L538.9,734.7 L538.1,735.4 L537.1,735.9 L536.0,736.1 L534.8,736.1 L533.7,735.9 L532.7,735.4 L531.9,734.8 L531.3,734.0" fill="none" stroke="#1c2438" stroke-width="1.9" stroke-linecap="round" stroke-linejoin="round"/>
<path d="M546.5,726.0 L547.0,725.3 L547.8,724.6 L548.7,724.2 L549.8,724.0 L550.9,724.0 L551.9,724.2 L552.8,724.7 L553.6,725.3 L554.1,726.0 L554.3,726.9 L554.2,727.7 L553.8,728.5 L553.2,729.2 L552.4,729.8 L551.4,730.1 L550.3,730.2 L551.5,730.0 L552.6,730.3 L553.5,730.9 L554.2,731.6 L554.6,732.4 L554.6,733.2 L554.4,734.1 L553.9,734.8 L553.1,735.4 L552.1,735.9 L550.9,736.1 L549.7,736.1 L548.6,735.9 L547.6,735.5 L546.8,734.8 L546.2,734.1" fill="none" stroke="#1e2a48" stroke-width="1.9" stroke-linecap="round" stroke-linejoin="round"/>
<path d="M580.5,732.2 L580.5,754.4 L589.8,754.4 L591.1,754.2 L592.3,753.6 L593.3,752.8 L594.1,751.7 L594.6,750.4 L594.8,749.0 L594.6,747.6 L594.1,746.3 L593.3,745.2 L592.3,744.3 L591.1,743.8 L589.8,743.6 L580.5,743.6 M580.5,732.2 L589.1,732.2 L590.3,732.4 L591.4,733.0 L592.4,733.9 L593.1,735.1 L593.6,736.5 L593.8,737.9 L593.6,739.4 L593.1,740.8 L592.4,742.0 L591.4,742.9 L590.3,743.4 L589.1,743.6" fill="none" stroke="#000" stroke-width="2.5" stroke-linecap="round" stroke-linejoin="round"/>
<path d="M596.0,779.3 L596.0,765.4 L588.2,775.3 L598.6,775.3" fill="none" stroke="#1e2a48" stroke-width="1.9" stroke-linecap="round" stroke-linejoin="round"/>
<path d="M612.7,773.1 L612.6,771.9 L612.3,770.7 L611.9,769.7 L611.4,768.8 L610.7,768.0 L610.0,767.4 L609.1,767.1 L608.3,767.0 L607.5,767.1 L606.6,767.4 L605.9,768.0 L605.2,768.8 L604.7,769.7 L604.3,770.7 L604.0,771.9 L604.0,773.1 L604.0,774.3 L604.3,775.5 L604.7,776.5 L605.2,777.4 L605.9,778.2 L606.6,778.8 L607.5,779.1 L608.3,779.3 L609.1,779.1 L610.0,778.8 L610.7,778.2 L611.4,777.4 L611.9,776.5 L612.3,775.5 L612.6,774.3 L612.7,773.1" fill="none" stroke="#1e2a48" stroke-width="1.9" stroke-linecap="round" stroke-linejoin="round"/>
<path d="M620.4,688.3 L620.9,687.5 L621.7,686.9 L622.6,686.5 L623.6,686.3 L624.7,686.3 L625.7,686.5 L626.7,687.0 L627.4,687.6 L627.9,688.3 L628.1,689.2 L628.0,690.0 L627.7,690.8 L627.0,691.5 L626.2,692.0 L625.2,692.4 L624.1,692.5 L625.3,692.2 L626.4,692.6 L627.3,693.1 L628.0,693.8 L628.4,694.6 L628.4,695.4 L628.2,696.3 L627.7,697.0 L626.9,697.6 L625.9,698.1 L624.8,698.3 L623.6,698.3 L622.5,698.1 L621.5,697.7 L620.7,697.1 L620.1,696.3" fill="none" stroke="#1e2a48" stroke-width="1.9" stroke-linecap="round" stroke-linejoin="round"/>
<path d="M633.0,689.1 L633.4,688.3 L634.1,687.7 L635.0,687.2 L635.9,687.0 L636.9,687.0 L637.9,687.2 L638.7,687.7 L639.4,688.3 L639.8,689.1 L640.0,690.0 L640.0,690.9 L639.6,691.7 L639.1,692.4 L638.3,693.0 L637.4,693.3 L636.4,693.4 L637.5,693.2 L638.4,693.5 L639.3,694.1 L639.9,694.8 L640.3,695.6 L640.3,696.5 L640.1,697.4 L639.6,698.2 L638.9,698.8 L638.0,699.3 L637.0,699.5 L635.9,699.5 L634.8,699.3 L633.9,698.8 L633.2,698.2 L632.7,697.4" fill="none" stroke="#1c2438" stroke-width="1.9" stroke-linecap="round" stroke-linejoin="round"/>
<path d="M41.1,831.0 L45.2,831.0 L47.3,832.0 L48.3,833.9 L48.3,841.6 L47.3,843.5 L45.2,844.4 L41.1,844.4 L39.0,843.5 L38.0,841.6 L38.0,833.9 L39.0,832.0 L41.1,831.0 M54.4,844.4 L54.4,831.0 L64.7,844.4 L64.7,831.0 M81.0,831.0 L70.7,831.0 L70.7,844.4 L81.0,844.4 M70.7,837.7 L77.9,837.7 M87.6,837.7 L96.8,837.7 M103.4,844.4 L103.4,831.0 L108.6,839.6 L113.7,831.0 L113.7,844.4 M122.8,831.0 L127.0,831.0 L129.0,832.0 L130.1,833.9 L130.1,841.6 L129.0,843.5 L127.0,844.4 L122.8,844.4 L120.8,843.5 L119.8,841.6 L119.8,833.9 L120.8,832.0 L122.8,831.0 M136.1,844.4 L136.1,831.0 L146.4,844.4 L146.4,831.0 M152.5,831.0 L162.8,831.0 M157.6,831.0 L157.6,844.4 M168.8,831.0 L168.8,844.4 M179.1,831.0 L179.1,844.4 M168.8,837.7 L179.1,837.7 M204.6,831.0 L208.7,831.0 L210.8,832.0 L211.8,833.9 L211.8,841.6 L210.8,843.5 L208.7,844.4 L204.6,844.4 L202.5,843.5 L201.5,841.6 L201.5,833.9 L202.5,832.0 L204.6,831.0 M217.9,831.0 L217.9,841.6 L218.9,843.5 L220.9,844.4 L225.1,844.4 L227.1,843.5 L228.2,841.6 L228.2,831.0 M234.2,831.0 L244.5,831.0 M239.4,831.0 L239.4,844.4 M250.6,831.0 L250.6,844.4 L260.9,844.4 M270.0,831.0 L274.1,831.0 L276.2,832.0 L277.2,833.9 L277.2,841.6 L276.2,843.5 L274.1,844.4 L270.0,844.4 L267.9,843.5 L266.9,841.6 L266.9,833.9 L267.9,832.0 L270.0,831.0 M286.3,831.0 L290.5,831.0 L292.5,832.0 L293.6,833.9 L293.6,841.6 L292.5,843.5 L290.5,844.4 L286.3,844.4 L284.3,843.5 L283.2,841.6 L283.2,833.9 L284.3,832.0 L286.3,831.0 M299.6,831.0 L299.6,844.4 M309.9,831.0 L299.6,839.6 M303.2,836.8 L309.9,844.4" fill="none" stroke="#000" stroke-width="2.5" stroke-linecap="round" stroke-linejoin="round"/>
<path d="M38.0,852.0 L48.3,852.0 M43.1,852.0 L43.1,865.4 M64.7,852.0 L54.4,852.0 L54.4,865.4 L64.7,865.4 M54.4,858.7 L61.6,858.7 M70.7,865.4 L70.7,852.0 L75.9,860.6 L81.0,852.0 L81.0,865.4 M87.1,865.4 L87.1,852.0 L94.3,852.0 L96.3,853.0 L97.4,854.9 L97.4,856.8 L96.3,858.7 L94.3,859.2 L87.1,859.2 M113.7,852.0 L103.4,852.0 L103.4,865.4 L113.7,865.4 M103.4,858.7 L110.6,858.7 M119.8,865.4 L119.8,852.0 L127.0,852.0 L129.0,853.0 L130.1,854.9 L130.1,856.8 L129.0,858.7 L127.0,859.2 L119.8,859.2 M124.9,859.2 L130.1,865.4 M136.1,865.4 L136.1,856.8 L139.2,852.0 L143.3,852.0 L146.4,856.8 L146.4,865.4 M136.1,860.6 L146.4,860.6 M152.5,852.0 L162.8,852.0 M157.6,852.0 L157.6,865.4 M168.8,852.0 L168.8,862.6 L169.8,864.5 L171.9,865.4 L176.0,865.4 L178.1,864.5 L179.1,862.6 L179.1,852.0 M185.2,865.4 L185.2,852.0 L192.4,852.0 L194.4,853.0 L195.5,854.9 L195.5,856.8 L194.4,858.7 L192.4,859.2 L185.2,859.2 M190.3,859.2 L195.5,865.4 M211.8,852.0 L201.5,852.0 L201.5,865.4 L211.8,865.4 M201.5,858.7 L208.7,858.7 M234.2,865.4 L234.2,852.0 L241.4,852.0 L243.5,853.0 L244.5,854.9 L244.5,856.8 L243.5,858.7 L241.4,859.2 L234.2,859.2 M250.6,865.4 L250.6,852.0 L257.8,852.0 L259.8,853.0 L260.9,854.9 L260.9,856.8 L259.8,858.7 L257.8,859.2 L250.6,859.2 M255.7,859.2 L260.9,865.4 M270.0,852.0 L274.1,852.0 L276.2,853.0 L277.2,854.9 L277.2,862.6 L276.2,864.5 L274.1,865.4 L270.0,865.4 L267.9,864.5 L266.9,862.6 L266.9,854.9 L267.9,853.0 L270.0,852.0 M283.2,852.0 L283.2,865.4 L290.5,865.4 L292.5,864.5 L293.6,863.0 L293.6,861.6 L292.5,859.7 L290.5,858.7 L283.2,858.7 M283.2,852.0 L289.9,852.0 L292.0,853.0 L293.0,854.4 L293.0,856.3 L292.0,857.8 L290.5,858.7 M299.6,865.4 L299.6,856.8 L302.7,852.0 L306.8,852.0 L309.9,856.8 L309.9,865.4 M299.6,860.6 L309.9,860.6 M316.0,852.0 L316.0,865.4 L323.2,865.4 L325.2,864.5 L326.3,863.0 L326.3,861.6 L325.2,859.7 L323.2,858.7 L316.0,858.7 M316.0,852.0 L322.6,852.0 L324.7,853.0 L325.7,854.4 L325.7,856.3 L324.7,857.8 L323.2,858.7 M334.4,852.0 L340.5,852.0 M337.4,852.0 L337.4,865.4 M334.4,865.4 L340.5,865.4 M348.7,852.0 L348.7,865.4 L359.0,865.4 M367.1,852.0 L373.2,852.0 M370.1,852.0 L370.1,865.4 M367.1,865.4 L373.2,865.4 M381.4,852.0 L391.7,852.0 M386.5,852.0 L386.5,865.4 M397.7,852.0 L397.7,854.9 L402.9,859.7 L408.0,854.9 L408.0,852.0 M402.9,859.7 L402.9,865.4" fill="none" stroke="#000" stroke-width="2.5" stroke-linecap="round" stroke-linejoin="round"/>
<path d="M41.1,873.0 L45.2,873.0 L47.3,874.4 L48.3,876.8 L48.3,882.6 L47.3,885.0 L45.2,886.4 L41.1,886.4 L39.0,885.0 L38.0,882.6 L38.0,876.8 L39.0,874.4 L41.1,873.0 M55.0,885.4 L56.0,885.4 L56.0,886.3 L55.0,886.3 L55.0,885.4 M81.0,873.0 L71.7,873.0 L71.2,879.2 L72.8,878.8 L77.9,878.8 L80.0,879.7 L81.0,881.6 L81.0,884.5 L78.9,886.4 L72.8,886.4 L70.7,885.0 M103.4,886.4 L103.4,873.0 L108.6,881.6 L113.7,873.0 L113.7,886.4 M122.8,873.0 L127.0,873.0 L129.0,874.0 L130.1,875.9 L130.1,883.6 L129.0,885.5 L127.0,886.4 L122.8,886.4 L120.8,885.5 L119.8,883.6 L119.8,875.9 L120.8,874.0 L122.8,873.0 M136.1,886.4 L136.1,873.0 L146.4,886.4 L146.4,873.0 M152.5,873.0 L162.8,873.0 M157.6,873.0 L157.6,886.4 M168.8,873.0 L168.8,886.4 M179.1,873.0 L179.1,886.4 M168.8,879.7 L179.1,879.7 M201.5,873.0 L201.5,886.4 L211.8,886.4 M228.2,873.0 L217.9,873.0 L217.9,886.4 L228.2,886.4 M217.9,879.7 L225.1,879.7 M234.2,886.4 L234.2,877.8 L237.3,873.0 L241.4,873.0 L244.5,877.8 L244.5,886.4 M234.2,881.6 L244.5,881.6 M250.6,873.0 L250.6,886.4 L256.7,886.4 L259.8,885.0 L260.9,882.6 L260.9,876.8 L259.8,874.4 L256.7,873.0 L250.6,873.0" fill="none" stroke="#000" stroke-width="2.5" stroke-linecap="round" stroke-linejoin="round"/>
<path d="M38.0,894.0 L38.0,899.8 L43.1,907.4 L48.3,899.8 L48.3,894.0 M54.4,907.4 L54.4,898.8 L57.4,894.0 L61.6,894.0 L64.7,898.8 L64.7,907.4 M54.4,902.6 L64.7,902.6 M70.7,894.0 L70.7,907.4 L81.0,907.4 M89.1,894.0 L95.3,894.0 M92.2,894.0 L92.2,907.4 M89.1,907.4 L95.3,907.4 M103.4,894.0 L103.4,907.4 L109.6,907.4 L112.7,906.0 L113.7,903.6 L113.7,897.8 L112.7,895.4 L109.6,894.0 L103.4,894.0 M136.1,907.4 L136.1,898.8 L139.2,894.0 L143.3,894.0 L146.4,898.8 L146.4,907.4 M136.1,902.6 L146.4,902.6 M152.5,894.0 L152.5,904.6 L153.5,906.5 L155.5,907.4 L159.7,907.4 L161.7,906.5 L162.8,904.6 L162.8,894.0 M179.1,896.9 L178.1,895.0 L176.0,894.0 L171.9,894.0 L169.8,895.0 L168.8,896.9 L168.8,904.6 L169.8,906.5 L171.9,907.4 L176.0,907.4 L178.1,906.5 L179.1,904.6 L179.1,901.7 L175.0,901.7 M201.5,896.9 L202.5,895.0 L204.6,894.0 L208.7,894.0 L210.8,895.0 L211.8,896.9 L211.8,898.8 L210.8,900.7 L201.5,907.4 L211.8,907.4 M220.9,894.0 L225.1,894.0 L227.1,895.4 L228.2,897.8 L228.2,903.6 L227.1,906.0 L225.1,907.4 L220.9,907.4 L218.9,906.0 L217.9,903.6 L217.9,897.8 L218.9,895.4 L220.9,894.0 M234.2,896.9 L235.2,895.0 L237.3,894.0 L241.4,894.0 L243.5,895.0 L244.5,896.9 L244.5,898.8 L243.5,900.7 L234.2,907.4 L244.5,907.4 M252.6,896.4 L255.7,894.0 L255.7,907.4" fill="none" stroke="#000" stroke-width="2.5" stroke-linecap="round" stroke-linejoin="round"/>
<path d="M38.0,928.4 L38.0,915.0 L43.1,923.6 L48.3,915.0 L48.3,928.4 M54.4,928.4 L54.4,919.8 L57.4,915.0 L61.6,915.0 L64.7,919.8 L64.7,928.4 M54.4,923.6 L64.7,923.6 M70.7,915.0 L70.7,928.4 L76.9,928.4 L80.0,927.0 L81.0,924.6 L81.0,918.8 L80.0,916.4 L76.9,915.0 L70.7,915.0 M97.4,915.0 L87.1,915.0 L87.1,928.4 L97.4,928.4 M87.1,921.7 L94.3,921.7 M121.8,917.4 L124.9,915.0 L124.9,928.4 M146.4,915.0 L137.1,915.0 L136.6,921.2 L138.2,920.8 L143.3,920.8 L145.4,921.7 L146.4,923.6 L146.4,926.5 L144.3,928.4 L138.2,928.4 L136.1,927.0 M179.1,915.0 L179.1,925.6 L178.1,927.5 L176.0,928.4 L171.9,928.4 L169.8,927.5 L168.8,925.6 M185.2,915.0 L185.2,925.6 L186.2,927.5 L188.2,928.4 L192.4,928.4 L194.4,927.5 L195.5,925.6 L195.5,915.0 M201.5,915.0 L201.5,928.4 L211.8,928.4 M234.2,917.9 L235.2,916.0 L237.3,915.0 L241.4,915.0 L243.5,916.0 L244.5,917.9 L244.5,919.8 L243.5,921.7 L234.2,928.4 L244.5,928.4 M253.6,915.0 L257.8,915.0 L259.8,916.4 L260.9,918.8 L260.9,924.6 L259.8,927.0 L257.8,928.4 L253.6,928.4 L251.6,927.0 L250.6,924.6 L250.6,918.8 L251.6,916.4 L253.6,915.0 M266.9,917.9 L267.9,916.0 L270.0,915.0 L274.1,915.0 L276.2,916.0 L277.2,917.9 L277.2,919.8 L276.2,921.7 L266.9,928.4 L277.2,928.4 M285.3,917.4 L288.4,915.0 L288.4,928.4" fill="none" stroke="#000" stroke-width="2.5" stroke-linecap="round" stroke-linejoin="round"/>
<path d="M730.0,848.8 L721.5,848.8 L721.5,858.9 L730.0,858.9 M721.5,853.8 L727.5,853.8 M741.9,851.0 L741.0,849.5 L739.4,848.8 L735.9,848.8 L734.2,849.5 L733.4,851.0 L733.4,856.7 L734.2,858.2 L735.9,858.9 L739.4,858.9 L741.0,858.2 L741.9,856.7 M757.2,858.9 L757.2,848.8 L761.5,855.3 L765.7,848.8 L765.7,858.9 M777.6,848.8 L769.1,848.8 L769.1,858.9 L777.6,858.9 M769.1,853.8 L775.1,853.8 M781.0,858.9 L781.0,852.4 L783.5,848.8 L787.0,848.8 L789.5,852.4 L789.5,858.9 M781.0,855.3 L789.5,855.3 M792.9,858.9 L792.9,848.8 L801.4,858.9 L801.4,848.8 M813.3,850.2 L811.6,848.8 L806.5,848.8 L804.8,850.2 L804.8,852.4 L806.5,853.8 L811.6,853.8 L813.3,855.3 L813.3,857.4 L811.6,858.9 L806.5,858.9 L804.8,857.4 M837.1,848.8 L828.6,848.8 L828.6,858.9 L837.1,858.9 M828.6,853.8 L834.6,853.8 M843.0,848.8 L846.5,848.8 L848.1,849.5 L849.0,851.0 L849.0,856.7 L848.1,858.2 L846.5,858.9 L843.0,858.9 L841.4,858.2 L840.5,856.7 L840.5,851.0 L841.4,849.5 L843.0,848.8 M845.6,856.0 L849.0,859.6 M852.4,848.8 L852.4,856.7 L853.2,858.2 L854.9,858.9 L858.4,858.9 L860.0,858.2 L860.9,856.7 L860.9,848.8 M864.3,858.9 L864.3,852.4 L866.8,848.8 L870.2,848.8 L872.8,852.4 L872.8,858.9 M864.3,855.3 L872.8,855.3 M876.2,848.8 L876.2,858.9 L884.7,858.9" fill="none" stroke="#000" stroke-width="2.3" stroke-linecap="round" stroke-linejoin="round"/>
<path d="M730.0,866.4 L729.1,864.9 L727.5,864.2 L724.0,864.2 L722.4,864.9 L721.5,866.4 L721.5,872.1 L722.4,873.6 L724.0,874.3 L727.5,874.3 L729.1,873.6 L730.0,872.1 M733.4,864.2 L733.4,874.3 M741.9,864.2 L741.9,874.3 M733.4,869.2 L741.9,869.2 M745.3,874.3 L745.3,867.8 L747.8,864.2 L751.2,864.2 L753.8,867.8 L753.8,874.3 M745.3,870.7 L753.8,870.7 M757.2,874.3 L757.2,864.2 L765.7,874.3 L765.7,864.2 M777.6,866.4 L776.8,864.9 L775.1,864.2 L771.6,864.2 L770.0,864.9 L769.1,866.4 L769.1,872.1 L770.0,873.6 L771.6,874.3 L775.1,874.3 L776.8,873.6 L777.6,872.1 M789.5,864.2 L781.0,864.2 L781.0,874.3 L789.5,874.3 M781.0,869.2 L787.0,869.2 M801.4,865.6 L799.7,864.2 L794.6,864.2 L792.9,865.6 L792.9,867.8 L794.6,869.2 L799.7,869.2 L801.4,870.7 L801.4,872.8 L799.7,874.3 L794.6,874.3 L792.9,872.8 M825.2,864.2 L816.7,864.2 L816.7,874.3 M816.7,869.2 L822.7,869.2 M831.1,864.2 L834.6,864.2 L836.2,864.9 L837.1,866.4 L837.1,872.1 L836.2,873.6 L834.6,874.3 L831.1,874.3 L829.5,873.6 L828.6,872.1 L828.6,866.4 L829.5,864.9 L831.1,864.2 M840.5,874.3 L840.5,864.2 L846.5,864.2 L848.1,864.9 L849.0,866.4 L849.0,867.8 L848.1,869.2 L846.5,869.6 L840.5,869.6 M844.8,869.6 L849.0,874.3 M864.3,874.3 L864.3,867.8 L866.8,864.2 L870.2,864.2 L872.8,867.8 L872.8,874.3 M864.3,870.7 L872.8,870.7 M877.1,872.5 L878.8,873.6 L877.1,874.6 L877.1,872.5 M900.0,874.3 L900.0,864.2 L908.5,874.3 L908.5,864.2 M912.8,872.5 L914.4,873.6 L912.8,874.6 L912.8,872.5 M935.7,864.2 L935.7,874.3 L941.7,874.3 L943.4,873.6 L944.2,872.5 L944.2,871.4 L943.4,870.0 L941.7,869.2 L935.7,869.2 M935.7,864.2 L941.2,864.2 L942.9,864.9 L943.8,866.0 L943.8,867.4 L942.9,868.5 L941.7,869.2" fill="none" stroke="#000" stroke-width="2.3" stroke-linecap="round" stroke-linejoin="round"/>
<path d="M721.5,889.7 L721.5,883.2 L724.0,879.6 L727.5,879.6 L730.0,883.2 L730.0,889.7 M721.5,886.1 L730.0,886.1 M745.3,889.7 L745.3,879.6 L749.5,886.1 L753.8,879.6 L753.8,889.7 M765.7,879.6 L757.2,879.6 L757.2,889.7 L765.7,889.7 M757.2,884.6 L763.2,884.6 M769.1,889.7 L769.1,883.2 L771.6,879.6 L775.1,879.6 L777.6,883.2 L777.6,889.7 M769.1,886.1 L777.6,886.1 M781.0,889.7 L781.0,879.6 L789.5,889.7 L789.5,879.6 M801.4,881.0 L799.7,879.6 L794.6,879.6 L792.9,881.0 L792.9,883.2 L794.6,884.6 L799.7,884.6 L801.4,886.1 L801.4,888.2 L799.7,889.7 L794.6,889.7 L792.9,888.2 M816.7,889.7 L816.7,883.2 L819.2,879.6 L822.7,879.6 L825.2,883.2 L825.2,889.7 M816.7,886.1 L825.2,886.1 M828.6,879.6 L828.6,889.7 L834.6,889.7 L836.2,889.0 L837.1,887.9 L837.1,886.8 L836.2,885.4 L834.6,884.6 L828.6,884.6 M828.6,879.6 L834.1,879.6 L835.8,880.3 L836.7,881.4 L836.7,882.8 L835.8,883.9 L834.6,884.6 M843.0,879.6 L846.5,879.6 L848.1,880.3 L849.0,881.8 L849.0,887.5 L848.1,889.0 L846.5,889.7 L843.0,889.7 L841.4,889.0 L840.5,887.5 L840.5,881.8 L841.4,880.3 L843.0,879.6 M852.4,879.6 L852.4,883.9 L856.6,889.7 L860.9,883.9 L860.9,879.6 M872.8,879.6 L864.3,879.6 L864.3,889.7 L872.8,889.7 M864.3,884.6 L870.2,884.6" fill="none" stroke="#000" stroke-width="2.3" stroke-linecap="round" stroke-linejoin="round"/>
<path d="M721.5,905.1 L721.5,895.0 L730.0,905.1 L730.0,895.0 M745.3,905.1 L745.3,895.0 L749.5,901.5 L753.8,895.0 L753.8,905.1 M765.7,895.0 L757.2,895.0 L757.2,905.1 L765.7,905.1 M757.2,900.0 L763.2,900.0 M769.1,905.1 L769.1,898.6 L771.6,895.0 L775.1,895.0 L777.6,898.6 L777.6,905.1 M769.1,901.5 L777.6,901.5 M781.0,905.1 L781.0,895.0 L789.5,905.1 L789.5,895.0 M801.4,896.4 L799.7,895.0 L794.6,895.0 L792.9,896.4 L792.9,898.6 L794.6,900.0 L799.7,900.0 L801.4,901.5 L801.4,903.6 L799.7,905.1 L794.6,905.1 L792.9,903.6 M816.7,905.1 L816.7,895.0 L825.2,905.1 L825.2,895.0 M831.1,895.0 L834.6,895.0 L836.2,895.7 L837.1,897.2 L837.1,902.9 L836.2,904.4 L834.6,905.1 L831.1,905.1 L829.5,904.4 L828.6,902.9 L828.6,897.2 L829.5,895.7 L831.1,895.0 M840.5,905.1 L840.5,895.0 L846.5,895.0 L848.1,895.7 L849.0,897.2 L849.0,898.6 L848.1,900.0 L846.5,900.4 L840.5,900.4 M844.8,900.4 L849.0,905.1 M852.4,905.1 L852.4,895.0 L856.6,901.5 L860.9,895.0 L860.9,905.1 M864.3,905.1 L864.3,898.6 L866.8,895.0 L870.2,895.0 L872.8,898.6 L872.8,905.1 M864.3,901.5 L872.8,901.5 M876.2,895.0 L876.2,905.1 L884.7,905.1" fill="none" stroke="#000" stroke-width="2.3" stroke-linecap="round" stroke-linejoin="round"/>
<path d="M721.5,910.4 L721.5,920.5 L727.5,920.5 L729.1,919.8 L730.0,918.7 L730.0,917.6 L729.1,916.2 L727.5,915.4 L721.5,915.4 M721.5,910.4 L727.0,910.4 L728.7,911.1 L729.6,912.2 L729.6,913.6 L728.7,914.7 L727.5,915.4 M745.3,920.5 L745.3,910.4 L749.5,916.9 L753.8,910.4 L753.8,920.5 M765.7,910.4 L757.2,910.4 L757.2,920.5 L765.7,920.5 M757.2,915.4 L763.2,915.4 M769.1,920.5 L769.1,914.0 L771.6,910.4 L775.1,910.4 L777.6,914.0 L777.6,920.5 M769.1,916.9 L777.6,916.9 M781.0,920.5 L781.0,910.4 L789.5,920.5 L789.5,910.4 M801.4,911.8 L799.7,910.4 L794.6,910.4 L792.9,911.8 L792.9,914.0 L794.6,915.4 L799.7,915.4 L801.4,916.9 L801.4,919.0 L799.7,920.5 L794.6,920.5 L792.9,919.0 M816.7,910.4 L816.7,920.5 L822.7,920.5 L824.4,919.8 L825.2,918.7 L825.2,917.6 L824.4,916.2 L822.7,915.4 L816.7,915.4 M816.7,910.4 L822.2,910.4 L823.9,911.1 L824.8,912.2 L824.8,913.6 L823.9,914.7 L822.7,915.4 M837.1,910.4 L828.6,910.4 L828.6,920.5 L837.1,920.5 M828.6,915.4 L834.6,915.4 M840.5,910.4 L840.5,920.5 L849.0,920.5 M854.9,910.4 L858.4,910.4 L860.0,911.1 L860.9,912.6 L860.9,918.3 L860.0,919.8 L858.4,920.5 L854.9,920.5 L853.2,919.8 L852.4,918.3 L852.4,912.6 L853.2,911.1 L854.9,910.4 M864.3,910.4 L864.3,920.5 L868.5,915.4 L872.8,920.5 L872.8,910.4" fill="none" stroke="#000" stroke-width="2.3" stroke-linecap="round" stroke-linejoin="round"/>
<circle cx="114" cy="766.5" r="48.5" fill="#fff"/>
<circle cx="114" cy="766.5" r="47.5" fill="#1f67b3"/>
<clipPath id="lc"><circle cx="114" cy="766.5" r="47.5"/></clipPath>
<g clip-path="url(#lc)">
<path d="M60,700 H170 V736.6 L151.3,736.6 C142,747 126,768 113.2,774 C100,768 84,747 75.2,736.6 L60,736.6 Z" fill="#1c1b6b"/>
<path d="M60,751 L75.2,736.6 C84,747 100,768 113.2,774 C126,768 142,747 151.3,736.6 L168,746 C152,756 140,766 130.8,773.2 L133.7,776.2 C126,780 116,784 110.3,785 L98.6,785.7 C101,782 104,780 107.4,779.1 C95,770 80,760 60,751 Z" fill="#fff"/>
</g>
<path d="M94.3,748.2 L94.3,742.1 L95.1,740.2 L97.0,739.6 L98.8,740.2 L99.6,742.1 L99.6,748.2 M108.7,739.6 L110.5,740.2 L111.3,742.1 L111.3,745.7 L110.5,747.6 L108.7,748.2 L106.8,747.6 L106.0,745.7 L106.0,742.1 L106.8,740.2 L108.7,739.6 M116.3,748.2 L116.3,742.1 L117.1,740.2 L119.0,739.6 L120.8,740.2 L121.6,742.1 L121.6,748.2 M116.3,744.8 L121.6,744.8 M125.8,748.2 L125.8,742.1 L126.6,740.2 L128.4,739.6 L130.3,740.2 L131.1,742.1 L131.1,748.2 M125.8,744.8 L131.1,744.8" fill="none" stroke="#fff" stroke-width="3.1" stroke-linejoin="round" stroke-linecap="round"/>
<path id="arcT" d="M 63.5,784.5 A 53.5 53.5 0 1 1 164.5,784.5" fill="none"/>
<path id="arcB" d="M 60.5,789 A 58.5 58.5 0 0 0 167.5,789" fill="none"/>
<text font-family="Liberation Sans, sans-serif" font-size="6.4" fill="#3a3a3a"><textPath href="#arcT" textLength="206" lengthAdjust="spacingAndGlyphs">NATIONAL OCEANIC AND ATMOSPHERIC ADMINISTRATION</textPath></text>
<text font-family="Liberation Sans, sans-serif" font-size="6.4" fill="#3a3a3a"><textPath href="#arcB" textLength="118" lengthAdjust="spacingAndGlyphs">U.S. DEPARTMENT OF COMMERCE</textPath></text>
<rect x="10.0" y="951.8" width="44.2" height="23.4" fill="#a3c0e0"/>
<rect x="55.8" y="951.8" width="43.0" height="23.4" fill="#6cafe3"/>
<rect x="100.4" y="951.8" width="43.4" height="23.4" fill="#3a9ce0"/>
<rect x="145.4" y="951.8" width="43.6" height="23.4" fill="#0c5aaa"/>
<rect x="190.6" y="951.8" width="43.5" height="23.4" fill="#2c3a7a"/>
<rect x="235.7" y="951.8" width="43.4" height="23.4" fill="#22195e"/>
<rect x="280.7" y="951.8" width="43.9" height="23.4" fill="#1c1848"/>
<text x="2.3" y="987.5" font-family="Liberation Sans, sans-serif" font-weight="bold" font-size="11" fill="#3c3c3c">33%</text>
<text x="48.6" y="987.5" font-family="Liberation Sans, sans-serif" font-weight="bold" font-size="11" fill="#3c3c3c">40%</text>
<text x="93.5" y="987.5" font-family="Liberation Sans, sans-serif" font-weight="bold" font-size="11" fill="#3c3c3c">50%</text>
<text x="137.5" y="987.5" font-family="Liberation Sans, sans-serif" font-weight="bold" font-size="11" fill="#3c3c3c">60%</text>
<text x="183.2" y="987.5" font-family="Liberation Sans, sans-serif" font-weight="bold" font-size="11" fill="#3c3c3c">70%</text>
<text x="230.0" y="987.5" font-family="Liberation Sans, sans-serif" font-weight="bold" font-size="11" fill="#3c3c3c">80%</text>
<text x="271.0" y="987.5" font-family="Liberation Sans, sans-serif" font-weight="bold" font-size="11" fill="#3c3c3c">90%</text>
<text x="312.0" y="987.5" font-family="Liberation Sans, sans-serif" font-weight="bold" font-size="11" fill="#3c3c3c">100%</text>
<text x="102.3" y="1003" font-family="Liberation Sans, sans-serif" font-weight="bold" font-size="11" fill="#3c3c3c" textLength="106.5" lengthAdjust="spacingAndGlyphs">Probability of Below</text>
<rect x="359.8" y="951.8" width="42.3" height="23.4" fill="#e2d9db"/>
<rect x="403.7" y="951.8" width="44.9" height="23.4" fill="#b6aab0"/>
<rect x="450.2" y="951.8" width="44.1" height="23.4" fill="#8e8488"/>
<rect x="495.9" y="951.8" width="42.9" height="23.4" fill="#7e7476"/>
<rect x="540.4" y="951.8" width="42.9" height="23.4" fill="#6a6064"/>
<rect x="584.9" y="951.8" width="44.1" height="23.4" fill="#565054"/>
<rect x="630.6" y="951.8" width="36.7" height="23.4" fill="#3a3638"/>
<text x="351.6" y="987.5" font-family="Liberation Sans, sans-serif" font-weight="bold" font-size="11" fill="#3c3c3c">33%</text>
<text x="397.0" y="987.5" font-family="Liberation Sans, sans-serif" font-weight="bold" font-size="11" fill="#3c3c3c">40%</text>
<text x="443.0" y="987.5" font-family="Liberation Sans, sans-serif" font-weight="bold" font-size="11" fill="#3c3c3c">50%</text>
<text x="486.0" y="987.5" font-family="Liberation Sans, sans-serif" font-weight="bold" font-size="11" fill="#3c3c3c">60%</text>
<text x="530.0" y="987.5" font-family="Liberation Sans, sans-serif" font-weight="bold" font-size="11" fill="#3c3c3c">70%</text>
<text x="573.0" y="987.5" font-family="Liberation Sans, sans-serif" font-weight="bold" font-size="11" fill="#3c3c3c">80%</text>
<text x="616.0" y="987.5" font-family="Liberation Sans, sans-serif" font-weight="bold" font-size="11" fill="#3c3c3c">90%</text>
<text x="655.0" y="987.5" font-family="Liberation Sans, sans-serif" font-weight="bold" font-size="11" fill="#3c3c3c">100%</text>
<text x="431.4" y="1003" font-family="Liberation Sans, sans-serif" font-weight="bold" font-size="11" fill="#3c3c3c" textLength="143.5" lengthAdjust="spacingAndGlyphs">Probability of Near-Normal</text>
<rect x="697.0" y="951.8" width="43.0" height="23.4" fill="#e8b066"/>
<rect x="741.6" y="951.8" width="43.8" height="23.4" fill="#f88b42"/>
<rect x="787.0" y="951.8" width="44.2" height="23.4" fill="#e05a2a"/>
<rect x="832.8" y="951.8" width="42.9" height="23.4" fill="#d52c2a"/>
<rect x="877.3" y="951.8" width="44.1" height="23.4" fill="#d0294a"/>
<rect x="923.0" y="951.8" width="43.5" height="23.4" fill="#a02a3a"/>
<rect x="968.1" y="951.8" width="43.9" height="23.4" fill="#6b1b25"/>
<text x="691.6" y="987.5" font-family="Liberation Sans, sans-serif" font-weight="bold" font-size="11" fill="#3c3c3c">33%</text>
<text x="735.0" y="987.5" font-family="Liberation Sans, sans-serif" font-weight="bold" font-size="11" fill="#3c3c3c">40%</text>
<text x="781.0" y="987.5" font-family="Liberation Sans, sans-serif" font-weight="bold" font-size="11" fill="#3c3c3c">50%</text>
<text x="826.0" y="987.5" font-family="Liberation Sans, sans-serif" font-weight="bold" font-size="11" fill="#3c3c3c">60%</text>
<text x="870.0" y="987.5" font-family="Liberation Sans, sans-serif" font-weight="bold" font-size="11" fill="#3c3c3c">70%</text>
<text x="916.3" y="987.5" font-family="Liberation Sans, sans-serif" font-weight="bold" font-size="11" fill="#3c3c3c">80%</text>
<text x="962.6" y="987.5" font-family="Liberation Sans, sans-serif" font-weight="bold" font-size="11" fill="#3c3c3c">90%</text>
<text x="997.0" y="987.5" font-family="Liberation Sans, sans-serif" font-weight="bold" font-size="11" fill="#3c3c3c">100%</text>
<text x="788" y="1003" font-family="Liberation Sans, sans-serif" font-weight="bold" font-size="11" fill="#3c3c3c" textLength="108.5" lengthAdjust="spacingAndGlyphs">Probability of Above</text>
</svg></body></html>
